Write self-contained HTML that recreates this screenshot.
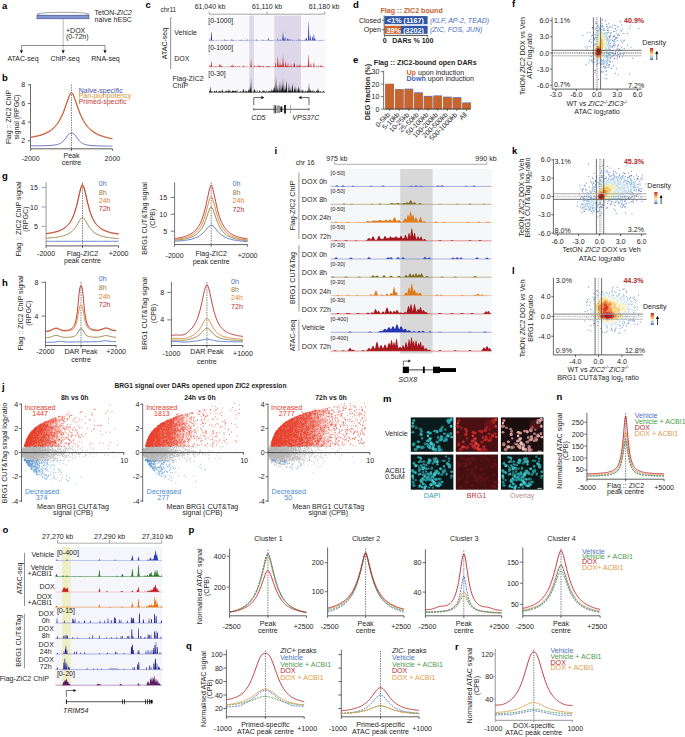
<!DOCTYPE html>
<html><head><meta charset="utf-8"><style>
html,body{margin:0;padding:0;background:#fff;width:685px;height:737px;overflow:hidden}
svg{display:block}
text{font-family:"Liberation Sans",sans-serif}
</style></head><body>
<svg width="685" height="737" viewBox="0 0 685 737"><g fill="#1e1e1e">
<text x="2" y="8.5" font-size="9.5" fill="#000" font-weight="bold">a</text>
<ellipse cx="63" cy="14.3" rx="26" ry="2" fill="#fff" stroke="#666" stroke-width="0.6"/>
<rect x="37" y="15.2" width="52" height="3.6" fill="#8495d6" stroke="#3c4a8a" stroke-width="0.6"/>
<text x="94.5" y="14.7" font-size="7">TetON-<tspan font-style="italic">ZIC2</tspan></text>
<text x="94.5" y="21.7" font-size="7">naïve hESC</text>
<line x1="63.2" y1="19" x2="63.2" y2="50.5" stroke="#b4b4b4" stroke-width="0.9"/>
<text x="66" y="32.7" font-size="7">+DOX</text>
<text x="66" y="38.9" font-size="7">(0-72h)</text>
<line x1="21.4" y1="45.5" x2="105" y2="45.5" stroke="#444" stroke-width="0.6"/>
<line x1="21.4" y1="45.5" x2="21.4" y2="50.5" stroke="#444" stroke-width="0.6"/>
<path d="M19.799999999999997 50.3 L23.0 50.3 L21.4 53.6 Z" fill="#111"/>
<path d="M61.6 50.3 L64.8 50.3 L63.2 53.6 Z" fill="#111"/>
<line x1="105" y1="45.5" x2="105" y2="50.5" stroke="#444" stroke-width="0.6"/>
<path d="M103.4 50.3 L106.6 50.3 L105 53.6 Z" fill="#111"/>
<text x="23" y="61" font-size="7" text-anchor="middle">ATAC-seq</text>
<text x="65" y="61" font-size="7" text-anchor="middle">ChIP-seq</text>
<text x="105.5" y="61" font-size="7" text-anchor="middle">RNA-seq</text>
<text x="2" y="81" font-size="9.5" fill="#000" font-weight="bold">b</text>
<line x1="30.5" y1="84" x2="30.5" y2="148.8" stroke="#444" stroke-width="0.8"/>
<line x1="27.9" y1="84.8" x2="30.5" y2="84.8" stroke="#444" stroke-width="0.8"/>
<text x="25.2" y="87.3" font-size="7.1" text-anchor="end">8</text>
<line x1="27.9" y1="103.44" x2="30.5" y2="103.44" stroke="#444" stroke-width="0.8"/>
<text x="25.2" y="105.94" font-size="7.1" text-anchor="end">6</text>
<line x1="27.9" y1="122.08" x2="30.5" y2="122.08" stroke="#444" stroke-width="0.8"/>
<text x="25.2" y="124.58" font-size="7.1" text-anchor="end">4</text>
<line x1="27.9" y1="140.72" x2="30.5" y2="140.72" stroke="#444" stroke-width="0.8"/>
<text x="25.2" y="143.22" font-size="7.1" text-anchor="end">2</text>
<line x1="30.7" y1="148.8" x2="112.4" y2="148.8" stroke="#333" stroke-width="0.8"/>
<line x1="30.7" y1="148.8" x2="30.7" y2="150.8" stroke="#333" stroke-width="0.8"/>
<line x1="71.5" y1="148.8" x2="71.5" y2="150.8" stroke="#333" stroke-width="0.8"/>
<line x1="112.4" y1="148.8" x2="112.4" y2="150.8" stroke="#333" stroke-width="0.8"/>
<line x1="71.5" y1="84.5" x2="71.5" y2="148.8" stroke="#333" stroke-width="0.6" stroke-dasharray="1.5 1"/>
<path d="M30.7 137 31.7 136.8 32.7 136.6 33.8 136.4 34.8 136.2 35.8 136 36.8 135.8 37.8 135.5 38.9 135.3 39.9 135 40.9 134.7 41.9 134.3 43 133.9 44 133.5 45 133.1 46 132.6 47 132.1 48.1 131.5 49.1 130.9 50.1 130.3 51.1 129.5 52.1 128.7 53.2 127.8 54.2 126.8 55.2 125.7 56.2 124.5 57.3 123.1 58.3 121.7 59.3 120 60.3 118.2 61.3 116.2 62.4 113.9 63.4 111.5 64.4 108.9 65.4 106.1 66.4 103.2 67.5 100.3 68.5 97.5 69.5 95 70.5 93.1 71.5 92.3 72.6 93.3 73.6 95.3 74.6 97.8 75.6 100.7 76.7 103.7 77.7 106.6 78.7 109.4 79.7 112 80.7 114.5 81.8 116.7 82.8 118.7 83.8 120.6 84.8 122.3 85.8 123.8 86.9 125.1 87.9 126.4 88.9 127.5 89.9 128.5 91 129.4 92 130.3 93 131.1 94 131.8 95 132.4 96.1 133 97.1 133.6 98.1 134.1 99.1 134.5 100.1 135 101.2 135.4 102.2 135.7 103.2 136.1 104.2 136.4 105.3 136.7 106.3 137 107.3 137.3 108.3 137.5 109.3 137.8 110.4 138 111.4 138.2 112.4 138.4" fill="none" stroke="#d89a3a" stroke-width="0.9"/>
<path d="M30.7 137.4 31.7 137.3 32.7 137.1 33.8 136.9 34.8 136.8 35.8 136.5 36.8 136.3 37.8 136.1 38.9 135.8 39.9 135.6 40.9 135.3 41.9 134.9 43 134.6 44 134.2 45 133.8 46 133.3 47 132.8 48.1 132.3 49.1 131.7 50.1 131.1 51.1 130.4 52.1 129.6 53.2 128.7 54.2 127.8 55.2 126.7 56.2 125.5 57.3 124.2 58.3 122.7 59.3 121.1 60.3 119.3 61.3 117.3 62.4 115.1 63.4 112.7 64.4 110 65.4 107.2 66.4 104.2 67.5 101.2 68.5 98.2 69.5 95.6 70.5 93.6 71.5 92.7 72.6 93.8 73.6 95.9 74.6 98.6 75.6 101.6 76.7 104.7 77.7 107.7 78.7 110.5 79.7 113.2 80.7 115.6 81.8 117.9 82.8 119.9 83.8 121.7 84.8 123.3 85.8 124.8 86.9 126.2 87.9 127.4 88.9 128.4 89.9 129.4 91 130.3 92 131.1 93 131.9 94 132.6 95 133.2 96.1 133.7 97.1 134.3 98.1 134.7 99.1 135.2 100.1 135.6 101.2 136 102.2 136.3 103.2 136.7 104.2 137 105.3 137.3 106.3 137.5 107.3 137.8 108.3 138 109.3 138.3 110.4 138.5 111.4 138.7 112.4 138.9" fill="none" stroke="#c0403a" stroke-width="0.9"/>
<path d="M30.7 145.8 31.7 145.8 32.7 145.8 33.8 145.8 34.8 145.8 35.8 145.8 36.8 145.8 37.8 145.8 38.9 145.8 39.9 145.8 40.9 145.8 41.9 145.8 43 145.7 44 145.7 45 145.7 46 145.7 47 145.6 48.1 145.6 49.1 145.5 50.1 145.5 51.1 145.4 52.1 145.3 53.2 145.2 54.2 145.1 55.2 144.9 56.2 144.8 57.3 144.5 58.3 144.2 59.3 143.8 60.3 143.4 61.3 142.8 62.4 142 63.4 141 64.4 139.8 65.4 138.5 66.4 137 67.5 135.5 68.5 134.4 69.5 133.6 70.5 133.3 71.5 133.3 72.6 133.3 73.6 133.7 74.6 134.5 75.6 135.7 76.7 137.2 77.7 138.7 78.7 140 79.7 141.2 80.7 142.1 81.8 142.9 82.8 143.5 83.8 144 84.8 144.3 85.8 144.6 86.9 144.9 87.9 145.1 88.9 145.2 89.9 145.4 91 145.5 92 145.6 93 145.6 94 145.7 95 145.7 96.1 145.8 97.1 145.8 98.1 145.9 99.1 145.9 100.1 145.9 101.2 146 102.2 146 103.2 146 104.2 146 105.3 146 106.3 146.1 107.3 146.1 108.3 146.1 109.3 146.1 110.4 146.1 111.4 146.1 112.4 146.1" fill="none" stroke="#4a56b0" stroke-width="0.8"/>
<text x="78.7" y="92.6" font-size="7" fill="#3f4fa8">Naïve-specific</text>
<text x="78.7" y="98.2" font-size="7" fill="#d4952e">Pan-pluripotency</text>
<text x="78.7" y="103.8" font-size="7" fill="#bf3b38">Primed-specific</text>
<text x="30.7" y="161" font-size="7" text-anchor="middle">-2000</text>
<text x="112.4" y="161" font-size="7" text-anchor="middle">2000</text>
<text x="71.5" y="158" font-size="7" text-anchor="middle">Peak</text>
<text x="71.5" y="165" font-size="7" text-anchor="middle">centre</text>
<text x="11.4" y="117" font-size="7" text-anchor="middle" transform="rotate(-90 11.4 117)">Flag :: ZIC2 ChIP</text>
<text x="18.7" y="117" font-size="7" text-anchor="middle" transform="rotate(-90 18.7 117)">signal (RPGC)</text>
<text x="145.5" y="7.8" font-size="9.5" fill="#000" font-weight="bold">c</text>
<text x="160.4" y="12.4" font-size="6.5">chr11</text>
<text x="210" y="8.6" font-size="7" text-anchor="middle">61,040 kb</text>
<text x="267" y="8.6" font-size="7" text-anchor="middle">61,110 kb</text>
<text x="324" y="8.6" font-size="7" text-anchor="middle">61,180 kb</text>
<rect x="208" y="16" width="118" height="77" fill="#f9f9fc"/>
<rect x="249.2" y="15.5" width="4.8" height="77.3" fill="#dcd7e9"/>
<rect x="274.2" y="15.5" width="26.8" height="77.3" fill="#dcd7e9"/>
<line x1="209.1" y1="14.2" x2="324.7" y2="14.2" stroke="#666" stroke-width="0.6"/>
<line x1="209.1" y1="11.6" x2="209.1" y2="14.2" stroke="#666" stroke-width="0.6"/>
<line x1="267" y1="11.6" x2="267" y2="14.2" stroke="#666" stroke-width="0.6"/>
<line x1="324.7" y1="11.6" x2="324.7" y2="14.2" stroke="#666" stroke-width="0.6"/>
<text x="208.3" y="23.4" font-size="6.8">[0-1000]</text>
<text x="208.3" y="49.6" font-size="6.8">[0-1000]</text>
<text x="208.3" y="75.6" font-size="6.8">[0-30]</text>
<line x1="170.7" y1="17" x2="170.7" y2="69" stroke="#444" stroke-width="0.6"/>
<text x="166.8" y="43.5" font-size="7" text-anchor="middle" transform="rotate(-90 166.8 43.5)">ATAC-seq</text>
<text x="174.3" y="34.8" font-size="7">Vehicle</text>
<text x="174.3" y="60.5" font-size="7">DOX</text>
<text x="172.5" y="80.6" font-size="7">Flag-ZIC2</text>
<text x="172.5" y="87.6" font-size="7">ChIP</text>
<path d="M209.0 40.4 209.0 40.4 209.2 40.4 209.5 39.8 209.8 39.0 210.0 39.4 210.2 40.2 210.5 40.4 210.8 39.7 211.0 35.9 211.2 32.2 211.5 31.5 211.8 35.2 212.0 38.9 212.2 40.1 212.5 40.2 212.8 40.4 213.0 40.4 213.2 40.2 213.5 39.9 213.8 40.0 214.0 40.3 214.2 40.4 215.8 40.4 216.0 40.3 216.2 40.3 216.5 40.3 216.8 40.4 222.0 40.4 222.2 40.2 222.5 40.1 222.8 40.3 223.0 40.4 224.0 40.4 224.2 39.8 224.5 39.1 224.8 39.6 225.0 40.3 225.2 40.4 225.5 40.1 225.8 40.0 226.0 40.2 226.2 40.2 226.5 40.3 226.8 40.4 227.0 40.4 227.2 40.3 227.5 40.2 227.8 40.2 228.0 40.3 228.2 40.4 230.5 40.4 230.8 40.3 231.0 39.6 231.2 39.0 231.5 39.8 231.8 40.4 232.0 40.4 232.2 40.1 232.5 39.7 232.8 39.8 233.0 40.2 233.2 40.4 233.5 40.3 233.8 40.0 234.0 39.7 234.2 40.1 234.5 40.4 238.8 40.4 239.0 40.3 239.2 40.3 239.5 40.2 239.8 40.3 240.0 40.4 240.2 40.4 240.5 40.2 240.8 40.0 241.0 39.7 241.2 39.7 241.5 39.9 241.8 39.7 242.0 40.1 242.2 40.4 243.5 40.4 243.8 40.3 244.0 39.9 244.2 39.8 244.5 40.1 244.8 40.4 245.0 40.3 245.2 40.3 245.5 40.4 246.8 40.4 247.0 39.7 247.2 39.0 247.5 39.7 247.8 40.4 255.2 40.4 255.5 40.3 255.8 40.2 256.0 40.3 256.2 39.7 256.5 39.3 256.8 39.9 257.0 40.4 261.8 40.4 262.0 40.0 262.2 39.6 262.5 39.9 262.8 40.3 263.0 40.4 263.2 40.4 263.5 40.0 263.8 39.7 264.0 40.0 264.2 40.4 264.8 40.4 265.0 40.2 265.2 40.0 265.5 40.1 265.8 40.4 267.8 40.4 268.0 39.5 268.2 37.8 268.5 37.9 268.8 39.5 269.0 39.5 269.2 40.1 269.5 40.4 270.0 40.4 270.2 40.3 270.5 40.3 270.8 40.4 271.0 40.3 271.2 40.1 271.5 40.1 271.8 40.0 272.0 40.2 272.2 40.4 272.5 40.2 272.8 40.0 273.0 40.2 273.2 40.4 277.2 40.4 277.5 39.4 277.8 38.3 278.0 39.1 278.2 40.3 278.5 40.4 279.5 40.4 279.8 40.0 280.0 39.3 280.2 39.4 280.5 40.1 280.8 40.4 281.0 40.4 281.2 40.3 281.5 40.3 281.8 40.4 282.2 40.4 282.5 37.5 282.8 34.0 283.0 30.4 283.2 34.0 283.5 37.5 283.8 39.6 284.0 39.5 284.2 40.0 284.5 39.3 284.8 37.8 285.0 36.4 285.2 37.8 285.5 39.3 285.8 40.4 286.8 40.4 287.0 40.0 287.2 38.9 287.5 37.9 287.8 38.9 288.0 39.6 288.2 38.7 288.5 39.5 288.8 40.4 289.2 40.4 289.5 40.1 289.8 39.2 290.0 38.4 290.2 39.2 290.5 40.1 290.8 40.4 292.0 40.4 292.2 40.0 292.5 39.6 292.8 40.0 293.0 40.3 293.2 40.3 293.5 40.4 295.8 40.4 296.0 40.3 296.2 40.2 296.5 40.1 296.8 40.3 297.0 40.4 298.5 40.4 298.8 39.7 299.0 38.7 299.2 38.9 299.5 40.0 299.8 40.4 300.0 40.3 300.2 40.1 300.5 40.1 300.8 40.3 301.0 40.4 301.5 40.4 301.8 40.2 302.0 40.0 302.2 40.0 302.5 39.9 302.8 40.2 303.0 40.4 303.5 40.4 303.8 40.2 304.0 39.9 304.2 40.0 304.5 40.3 304.8 40.0 305.0 39.6 305.2 40.0 305.5 40.0 305.8 38.7 306.0 38.1 306.2 38.6 306.5 37.4 306.8 38.6 307.0 39.9 307.2 40.4 307.5 40.3 307.8 40.0 308.0 40.0 308.2 32.8 308.5 25.1 308.8 20.5 309.0 28.2 309.2 35.8 309.5 40.4 309.8 40.4 310.0 39.4 310.2 36.9 310.5 34.4 310.8 36.9 311.0 39.4 311.2 40.4 311.8 40.4 312.0 38.7 312.2 36.6 312.5 36.2 312.8 38.3 313.0 40.4 313.2 40.4 313.5 37.6 313.8 34.0 314.0 33.3 314.2 36.9 314.5 39.9 314.8 38.6 315.0 37.4 315.2 38.6 315.5 39.9 315.8 40.3 316.0 40.4 318.5 40.4 318.8 40.1 319.0 39.8 319.2 40.0 319.5 40.3 319.8 40.4 320.0 40.4 320.2 40.3 320.5 40.3 320.8 40.3 321.0 40.4 321.2 40.1 321.5 39.8 321.8 40.1 322.0 40.4 325.0 40.4 325.0 40.4Z" fill="#2a38b0"/>
<line x1="209" y1="40.4" x2="325" y2="40.4" stroke="#8a90d0" stroke-width="0.4"/>
<path d="M209.0 67.0 209.0 66.9 209.2 66.8 209.5 66.1 209.8 65.1 210.0 65.8 210.2 66.3 210.5 66.8 210.8 66.5 211.0 64.1 211.2 61.7 211.5 61.3 211.8 63.6 212.0 66.0 212.2 67.0 213.0 67.0 213.2 66.9 213.5 66.8 213.8 66.7 214.0 66.7 214.2 66.8 214.5 66.8 214.8 66.7 215.0 66.7 215.2 66.7 215.5 66.6 215.8 66.3 216.0 66.2 216.2 66.5 216.5 66.4 216.8 66.7 217.0 67.0 218.5 67.0 218.8 66.7 219.0 66.2 219.2 66.3 219.5 64.5 219.8 63.9 220.0 65.8 220.2 66.5 220.5 64.8 220.8 64.0 221.0 65.7 221.2 66.1 221.5 66.5 221.8 66.5 222.0 65.7 222.2 66.1 222.5 66.8 222.8 67.0 225.5 67.0 225.8 66.9 226.0 66.6 226.2 66.5 226.5 66.5 226.8 66.8 227.0 67.0 228.2 67.0 228.5 66.9 228.8 66.6 229.0 66.5 229.2 66.8 229.5 67.0 229.8 66.9 230.0 66.9 230.2 66.9 230.5 66.7 230.8 66.4 231.0 66.6 231.2 66.3 231.5 65.9 231.8 64.8 232.0 65.9 232.2 66.9 232.5 65.7 232.8 64.1 233.0 65.3 233.2 65.4 233.5 65.7 233.8 66.6 234.0 66.4 234.2 66.6 234.5 66.9 234.8 67.0 235.0 66.5 235.2 65.9 235.5 66.3 235.8 66.9 236.0 67.0 236.5 67.0 236.8 66.7 237.0 66.4 237.2 66.4 237.5 66.4 237.8 66.8 238.0 67.0 238.2 66.9 238.5 66.8 238.8 66.8 239.0 66.4 239.2 65.9 239.5 66.0 239.8 66.7 240.0 66.8 240.2 66.9 240.5 66.9 240.8 66.7 241.0 66.6 241.2 66.9 241.5 67.0 241.8 66.9 242.0 66.8 242.2 66.8 242.5 66.5 242.8 66.7 243.0 66.4 243.2 65.4 243.5 65.6 243.8 66.6 244.0 66.6 244.2 66.7 244.5 66.9 244.8 67.0 245.2 67.0 245.5 66.8 245.8 66.3 246.0 66.2 246.2 66.7 246.5 67.0 248.8 67.0 249.0 66.9 249.2 66.9 249.5 67.0 250.2 67.0 250.5 65.6 250.8 62.0 251.0 58.4 251.2 62.0 251.5 65.6 251.8 66.8 252.0 67.0 253.2 67.0 253.5 66.8 253.8 66.6 254.0 66.1 254.2 64.9 254.5 65.5 254.8 66.7 255.0 67.0 255.5 67.0 255.8 66.4 256.0 65.5 256.2 65.7 256.5 66.6 256.8 67.0 257.5 67.0 257.8 65.8 258.0 64.3 258.2 65.3 258.5 66.7 258.8 66.8 259.0 66.1 259.2 65.8 259.5 66.2 259.8 65.1 260.0 65.5 260.2 66.6 260.5 66.5 260.8 66.2 261.0 66.6 261.2 66.4 261.5 66.7 261.8 66.4 262.0 66.2 262.2 66.6 262.5 67.0 262.8 66.6 263.0 66.2 263.2 66.5 263.5 65.7 263.8 65.7 264.0 66.6 264.2 67.0 265.0 67.0 265.2 66.9 265.5 66.7 265.8 66.6 266.0 66.8 266.2 67.0 266.5 66.6 266.8 66.1 267.0 66.5 267.2 66.5 267.5 66.1 267.8 66.6 268.0 66.4 268.2 65.8 268.5 66.3 268.8 66.4 269.0 66.3 269.2 66.7 269.5 66.3 269.8 65.8 270.0 66.5 270.2 67.0 271.8 67.0 272.0 66.9 272.2 66.7 272.5 66.5 272.8 66.7 273.0 66.9 273.2 66.8 273.5 66.8 273.8 66.8 274.0 66.8 274.2 66.8 274.5 66.9 274.8 66.9 275.0 66.2 275.2 64.1 275.5 62.0 275.8 64.1 276.0 66.2 276.2 67.0 276.8 67.0 277.0 66.9 277.2 64.4 277.5 60.1 277.8 55.9 278.0 58.4 278.2 62.7 278.5 65.9 278.8 66.0 279.0 65.3 279.2 65.9 279.5 65.8 279.8 62.9 280.0 60.0 280.2 62.9 280.5 65.8 280.8 65.5 281.0 64.0 281.2 65.4 281.5 65.4 281.8 64.9 282.0 66.2 282.2 65.6 282.5 63.3 282.8 58.6 283.0 54.0 283.2 58.6 283.5 63.3 283.8 65.2 284.0 66.1 284.2 66.9 284.5 66.7 284.8 66.8 285.0 66.0 285.2 63.5 285.5 61.0 285.8 63.5 286.0 66.0 286.2 66.5 286.5 65.9 286.8 64.7 287.0 65.2 287.2 66.6 287.5 66.2 287.8 64.1 288.0 62.0 288.2 64.1 288.5 66.2 288.8 66.9 289.0 66.8 289.2 66.6 289.5 66.6 289.8 66.2 290.0 66.1 290.2 66.7 290.5 66.3 290.8 64.7 291.0 63.0 291.2 64.7 291.5 66.3 291.8 66.3 292.0 66.6 292.2 66.9 292.5 67.0 293.0 67.0 293.2 66.5 293.5 66.0 293.8 64.1 294.0 62.0 294.2 64.1 294.5 63.8 294.8 63.1 295.0 65.5 295.2 67.0 295.8 67.0 296.0 66.9 296.2 66.9 296.5 66.5 296.8 65.2 297.0 64.0 297.2 65.2 297.5 66.5 297.8 66.8 298.0 66.8 298.2 66.5 298.5 66.4 298.8 65.4 299.0 64.4 299.2 65.8 299.5 66.3 299.8 64.7 300.0 63.0 300.2 64.7 300.5 66.3 300.8 66.5 301.0 66.3 301.2 66.6 301.5 66.9 301.8 67.0 302.0 66.6 302.2 65.9 302.5 66.1 302.8 66.8 303.0 66.9 303.2 66.4 303.5 66.0 303.8 66.6 304.0 66.8 304.2 66.7 304.5 66.1 304.8 66.3 305.0 66.6 305.2 66.4 305.5 65.7 305.8 65.7 306.0 66.6 306.2 67.0 307.0 67.0 307.2 66.0 307.5 65.0 307.8 65.9 308.0 67.0 308.2 62.0 308.5 57.0 308.8 54.0 309.0 59.0 309.2 64.0 309.5 66.6 309.8 66.7 310.0 66.9 310.2 67.0 310.5 66.2 310.8 64.1 311.0 62.0 311.2 64.1 311.5 66.2 311.8 66.8 312.0 66.9 312.2 66.9 312.5 66.9 312.8 67.0 313.0 67.0 313.2 66.6 313.5 64.4 313.8 62.3 314.0 61.9 314.2 64.0 314.5 66.1 314.8 66.9 315.0 67.0 315.5 67.0 315.8 66.9 316.0 66.0 316.2 65.5 316.5 66.3 316.8 66.9 317.0 67.0 317.2 67.0 317.5 66.9 317.8 66.8 318.0 66.9 318.2 65.9 318.5 64.9 318.8 65.9 319.0 67.0 320.0 67.0 320.2 66.7 320.5 66.4 320.8 65.2 321.0 64.0 321.2 65.2 321.5 66.2 321.8 66.4 322.0 66.5 322.2 66.7 322.5 66.6 322.8 65.8 323.0 65.6 323.2 66.5 323.5 67.0 325.0 67.0 325.0 67.0Z" fill="#c4272a"/>
<line x1="209" y1="67" x2="325" y2="67" stroke="#d98080" stroke-width="0.4"/>
<path d="M209.0 92.3 209.0 90.6 209.2 90.5 209.5 91.2 209.8 91.8 210.0 91.2 210.2 87.8 210.5 86.5 210.8 89.9 211.0 92.2 211.2 91.6 211.5 90.9 211.8 91.6 212.0 91.7 212.2 91.6 212.5 91.8 212.8 92.0 213.0 92.3 213.8 92.3 214.0 91.7 214.2 91.0 214.5 90.8 214.8 91.3 215.0 91.2 215.2 91.0 215.5 91.8 215.8 92.3 216.0 92.0 216.2 90.7 216.5 90.1 216.8 91.3 217.0 92.3 217.5 92.3 217.8 91.9 218.0 91.5 218.2 91.9 218.5 91.8 218.8 91.0 219.0 91.2 219.2 90.4 219.5 91.4 219.8 90.9 220.0 91.3 220.2 92.1 220.5 91.9 220.8 90.8 221.0 89.8 221.2 90.8 221.5 91.9 221.8 91.9 222.0 90.4 222.2 89.6 222.5 90.1 222.8 91.5 223.0 91.7 223.2 92.0 223.5 91.5 223.8 91.5 224.0 92.1 224.2 92.2 224.5 92.0 224.8 91.7 225.0 91.6 225.2 91.3 225.5 91.9 225.8 91.0 226.0 89.3 226.2 90.2 226.5 91.7 226.8 91.0 227.0 91.4 227.2 91.8 227.5 91.3 227.8 90.8 228.0 91.6 228.2 91.7 228.5 90.6 228.8 90.0 229.0 88.3 229.2 90.0 229.5 91.6 229.8 91.1 230.0 90.8 230.2 91.7 230.5 91.6 230.8 91.1 231.0 91.7 231.2 91.9 231.5 92.0 231.8 91.5 232.0 91.1 232.2 90.2 232.5 91.3 232.8 90.5 233.0 90.5 233.2 91.1 233.5 90.9 233.8 90.6 234.0 91.6 234.2 91.1 234.5 91.1 234.8 91.7 235.0 90.7 235.2 90.8 235.5 90.7 235.8 90.9 236.0 91.7 236.2 92.1 236.5 91.8 236.8 90.5 237.0 89.3 237.2 90.5 237.5 91.7 237.8 91.9 238.0 92.2 238.2 92.2 238.5 92.1 238.8 92.0 239.0 91.7 239.2 91.8 239.5 91.9 239.8 92.0 240.0 91.8 240.2 90.9 240.5 91.0 240.8 91.9 241.0 91.9 241.2 92.0 241.5 91.8 241.8 91.9 242.0 91.6 242.2 92.0 242.5 91.8 242.8 90.5 243.0 89.3 243.2 90.5 243.5 88.9 243.8 89.1 244.0 91.3 244.2 91.5 244.5 91.9 244.8 91.7 245.0 92.0 245.2 92.1 245.5 91.6 245.8 90.1 246.0 90.1 246.2 91.6 246.5 90.8 246.8 91.2 247.0 91.5 247.2 92.0 247.5 91.9 247.8 91.5 248.0 90.5 248.2 91.3 248.5 90.4 248.8 88.5 249.0 90.4 249.2 91.8 249.5 90.0 249.8 88.2 250.0 86.3 250.2 88.2 250.5 90.0 250.8 84.1 251.0 78.3 251.2 84.1 251.5 90.0 251.8 91.5 252.0 91.9 252.2 91.9 252.5 92.2 252.8 92.3 253.0 92.1 253.2 91.8 253.5 91.9 253.8 91.3 254.0 89.7 254.2 89.7 254.5 88.9 254.8 89.6 255.0 91.6 255.2 91.5 255.5 91.1 255.8 91.5 256.0 91.8 256.2 92.0 256.5 92.3 256.8 91.4 257.0 89.9 257.2 90.1 257.5 91.4 257.8 92.2 258.0 92.3 258.2 92.3 258.5 92.2 258.8 91.8 259.0 91.6 259.2 91.3 259.5 90.0 259.8 90.7 260.0 91.8 260.2 91.2 260.5 91.4 260.8 91.9 261.0 91.9 261.2 92.0 261.5 92.1 261.8 92.2 262.0 92.3 262.2 91.8 262.5 91.2 262.8 90.5 263.0 89.3 263.2 90.5 263.5 91.2 263.8 90.9 264.0 91.7 264.2 92.1 264.5 91.1 264.8 90.4 265.0 90.5 265.2 91.5 265.5 91.8 265.8 92.1 266.0 91.9 266.2 91.8 266.5 91.6 266.8 90.2 267.0 90.4 267.2 91.7 267.5 92.2 267.8 92.3 268.0 91.7 268.2 90.8 268.5 90.9 268.8 91.8 269.0 91.8 269.2 91.0 269.5 91.1 269.8 90.8 270.0 91.3 270.2 90.7 270.5 91.5 270.8 91.9 271.0 89.8 271.2 88.5 271.5 90.4 271.8 91.5 272.0 91.4 272.2 90.5 272.5 90.0 272.8 91.4 273.0 90.6 273.2 87.8 273.5 88.4 273.8 91.2 274.0 91.1 274.2 88.2 274.5 85.3 274.8 88.2 275.0 91.1 275.2 91.9 275.5 87.4 275.8 81.4 276.0 75.3 276.2 81.4 276.5 87.4 276.8 91.5 277.0 90.5 277.2 89.0 277.5 90.7 277.8 87.6 278.0 84.3 278.2 87.6 278.5 91.0 278.8 91.8 279.0 91.2 279.2 91.2 279.5 88.9 279.8 84.6 280.0 80.3 280.2 84.6 280.5 88.9 280.8 91.9 281.0 91.3 281.2 89.6 281.5 90.0 281.8 87.0 282.0 83.3 282.2 87.0 282.5 88.0 282.8 82.7 283.0 77.3 283.2 82.7 283.5 88.0 283.8 92.1 284.0 90.8 284.2 89.6 284.5 91.0 284.8 87.6 285.0 84.3 285.2 87.6 285.5 89.8 285.8 89.9 286.0 88.9 286.2 84.6 286.5 80.3 286.8 84.6 287.0 88.9 287.2 92.2 287.5 91.9 287.8 91.8 288.0 91.8 288.2 91.6 288.5 89.4 288.8 85.9 289.0 82.3 289.2 85.9 289.5 89.4 289.8 91.2 290.0 91.1 290.2 90.3 290.5 90.9 290.8 88.8 291.0 86.3 291.2 88.8 291.5 91.3 291.8 91.9 292.0 89.7 292.2 86.5 292.5 83.3 292.8 86.5 293.0 89.7 293.2 91.9 293.5 91.9 293.8 91.4 294.0 89.7 294.2 88.2 294.5 90.3 294.8 87.8 295.0 85.3 295.2 87.8 295.5 90.3 295.8 91.1 296.0 91.9 296.2 92.0 296.5 91.5 296.8 89.4 297.0 87.3 297.2 89.4 297.5 91.5 297.8 92.1 298.0 90.6 298.2 88.4 298.5 86.3 298.8 88.4 299.0 89.7 299.2 88.5 299.5 90.7 299.8 91.9 300.0 90.6 300.2 90.1 300.5 91.4 300.8 92.2 301.0 92.0 301.2 91.9 301.5 91.8 301.8 89.7 302.0 88.4 302.2 90.6 302.5 91.2 302.8 90.5 303.0 89.3 303.2 90.5 303.5 91.8 303.8 92.0 304.0 91.3 304.2 91.3 304.5 91.9 304.8 92.2 305.0 91.6 305.2 91.3 305.5 91.8 305.8 90.4 306.0 89.6 306.2 91.2 306.5 92.0 306.8 91.9 307.0 91.4 307.2 90.4 307.5 90.7 307.8 91.1 308.0 91.8 308.2 91.2 308.5 89.4 308.8 85.9 309.0 82.3 309.2 85.9 309.5 89.4 309.8 92.0 310.0 91.6 310.2 90.9 310.5 89.8 310.8 89.2 311.0 91.1 311.2 91.9 311.5 91.0 311.8 91.0 312.0 91.9 312.2 91.7 312.5 90.9 312.8 90.5 313.0 89.3 313.2 90.5 313.5 91.8 313.8 91.9 314.0 92.1 314.2 91.9 314.5 91.0 314.8 90.8 315.0 91.8 315.2 92.3 315.5 92.1 315.8 91.7 316.0 91.8 316.2 91.3 316.5 90.4 316.8 91.2 317.0 89.9 317.2 90.6 317.5 91.4 317.8 89.4 318.0 87.3 318.2 89.4 318.5 90.3 318.8 91.3 319.0 92.0 319.2 92.2 319.5 92.1 319.8 91.3 320.0 90.9 320.2 91.7 320.5 91.9 320.8 91.1 321.0 91.1 321.2 91.9 321.5 91.7 321.8 91.8 322.0 91.9 322.2 92.1 322.5 92.3 323.0 92.3 323.2 92.0 323.5 90.8 323.8 90.3 324.0 91.5 324.2 91.8 324.5 92.1 324.8 92.3 325.0 92.2 325.0 92.3Z" fill="#151515"/>
<line x1="209" y1="92.3" x2="325" y2="92.3" stroke="#222" stroke-width="0.5"/>
<path d="M253.8 105.2 V97.6 H261.6" fill="none" stroke="#222" stroke-width="0.7"/>
<path d="M261.3 95.9 L264.3 97.6 L261.3 99.3 Z" fill="#111"/>
<path d="M309 105.2 V97.6 H301.2" fill="none" stroke="#222" stroke-width="0.7"/>
<path d="M301.5 95.9 L298.5 97.6 L301.5 99.3 Z" fill="#111"/>
<line x1="253.8" y1="109.3" x2="309" y2="109.3" stroke="#222" stroke-width="0.7"/>
<line x1="253.8" y1="107.8" x2="253.8" y2="110.8" stroke="#222" stroke-width="0.6"/>
<line x1="309" y1="107.8" x2="309" y2="110.8" stroke="#222" stroke-width="0.6"/>
<rect x="273.7" y="105.2" width="0.8" height="8.2" fill="#222"/>
<rect x="275.2" y="105.2" width="0.9" height="8.2" fill="#222"/>
<rect x="276.5" y="105.5" width="3.5" height="7.6" fill="#9a9a9a"/>
<rect x="280.4" y="106.5" width="1.9" height="5.6" fill="#111"/>
<rect x="284.1" y="105" width="1.8" height="8.5" fill="#111"/>
<rect x="290.1" y="105.2" width="0.6" height="8.2" fill="#777"/>
<text x="251.3" y="119.8" font-size="7.1" font-style="italic">CD5</text>
<text x="292.2" y="119.8" font-size="7.1" font-style="italic">VPS37C</text>
<text x="353" y="7.6" font-size="9.5" fill="#000" font-weight="bold">d</text>
<text x="380.5" y="13.2" font-size="7.1" fill="#c4622e" font-weight="bold">Flag :: ZIC2 bound</text>
<rect x="384.7" y="16.1" width="42.9" height="8.1" fill="#2f55a8"/>
<rect x="384.7" y="25.8" width="16.3" height="8" fill="#c9622b"/>
<rect x="401" y="25.8" width="26.6" height="8" fill="#2f55a8"/>
<text x="387" y="22.9" font-size="7.2" fill="#fff" font-weight="bold">&lt;1% (1167)</text>
<text x="386.6" y="32.6" font-size="7.2" fill="#fff" font-weight="bold">39%</text>
<text x="403.2" y="32.6" font-size="7.2" fill="#fff" font-weight="bold">(3202)</text>
<line x1="384.2" y1="15.5" x2="384.2" y2="35.4" stroke="#222" stroke-width="0.7"/>
<line x1="381.8" y1="20.2" x2="384.2" y2="20.2" stroke="#222" stroke-width="0.6"/>
<line x1="381.8" y1="29.8" x2="384.2" y2="29.8" stroke="#222" stroke-width="0.6"/>
<line x1="384.2" y1="35.4" x2="427.6" y2="35.4" stroke="#222" stroke-width="0.8"/>
<line x1="384.7" y1="35.4" x2="384.7" y2="37.4" stroke="#222" stroke-width="0.6"/>
<line x1="427.6" y1="35.4" x2="427.6" y2="37.4" stroke="#222" stroke-width="0.6"/>
<text x="381" y="22.8" font-size="7.1" text-anchor="end">Closed</text>
<text x="381" y="32.4" font-size="7.1" text-anchor="end">Open</text>
<text x="384.7" y="42.6" font-size="7.1" text-anchor="middle" font-weight="bold">0</text>
<text x="406" y="42.6" font-size="7.1" text-anchor="middle" font-weight="bold">DARs %</text>
<text x="427.6" y="42.6" font-size="7.1" text-anchor="middle" font-weight="bold">100</text>
<text x="430" y="22.8" font-size="7.1" fill="#4a6cc2" font-style="italic">(KLF, AP-2, TEAD)</text>
<text x="430" y="32.4" font-size="7.1" fill="#4a6cc2" font-style="italic">(ZIC, FOS, JUN)</text>
<text x="353" y="62.6" font-size="9.5" fill="#000" font-weight="bold">e</text>
<text x="373.8" y="65.3" font-size="7.1" font-weight="bold">Flag :: ZIC2-bound open DARs</text>
<rect x="385.3" y="83.77" width="8.6" height="25.33" fill="#5d7bc4"/>
<rect x="385.3" y="83.89" width="8.6" height="25.21" fill="#c8642e"/>
<line x1="389.6" y1="109.1" x2="389.6" y2="111" stroke="#222" stroke-width="0.6"/>
<text x="390.4" y="115.2" font-size="6.9" text-anchor="end" transform="rotate(-45 390.4 115.2)">0-5kb</text>
<rect x="394.93" y="89.13" width="8.6" height="19.97" fill="#5d7bc4"/>
<rect x="394.93" y="89.38" width="8.6" height="19.72" fill="#c8642e"/>
<line x1="399.23" y1="109.1" x2="399.23" y2="111" stroke="#222" stroke-width="0.6"/>
<text x="400.03" y="115.2" font-size="6.9" text-anchor="end" transform="rotate(-45 400.03 115.2)">5-10kb</text>
<rect x="404.55" y="88.63" width="8.6" height="20.47" fill="#5d7bc4"/>
<rect x="404.55" y="89.38" width="8.6" height="19.72" fill="#c8642e"/>
<line x1="408.85" y1="109.1" x2="408.85" y2="111" stroke="#222" stroke-width="0.6"/>
<text x="409.65" y="115.2" font-size="6.9" text-anchor="end" transform="rotate(-45 409.65 115.2)">10-25kb</text>
<rect x="414.18" y="92.25" width="8.6" height="16.85" fill="#5d7bc4"/>
<rect x="414.18" y="93.13" width="8.6" height="15.97" fill="#c8642e"/>
<line x1="418.48" y1="109.1" x2="418.48" y2="111" stroke="#222" stroke-width="0.6"/>
<text x="419.28" y="115.2" font-size="6.9" text-anchor="end" transform="rotate(-45 419.28 115.2)">25-50kb</text>
<rect x="423.8" y="95.87" width="8.6" height="13.23" fill="#5d7bc4"/>
<rect x="423.8" y="96.62" width="8.6" height="12.48" fill="#c8642e"/>
<line x1="428.1" y1="109.1" x2="428.1" y2="111" stroke="#222" stroke-width="0.6"/>
<text x="428.9" y="115.2" font-size="6.9" text-anchor="end" transform="rotate(-45 428.9 115.2)">50-100kb</text>
<rect x="433.43" y="95.37" width="8.6" height="13.73" fill="#5d7bc4"/>
<rect x="433.43" y="96" width="8.6" height="13.1" fill="#c8642e"/>
<line x1="437.73" y1="109.1" x2="437.73" y2="111" stroke="#222" stroke-width="0.6"/>
<text x="438.53" y="115.2" font-size="6.9" text-anchor="end" transform="rotate(-45 438.53 115.2)">100-200kb</text>
<rect x="443.05" y="96.62" width="8.6" height="12.48" fill="#5d7bc4"/>
<rect x="443.05" y="97.24" width="8.6" height="11.86" fill="#c8642e"/>
<line x1="447.35" y1="109.1" x2="447.35" y2="111" stroke="#222" stroke-width="0.6"/>
<text x="448.15" y="115.2" font-size="6.9" text-anchor="end" transform="rotate(-45 448.15 115.2)">200-500kb</text>
<rect x="452.68" y="97.12" width="8.6" height="11.98" fill="#5d7bc4"/>
<rect x="452.68" y="97.87" width="8.6" height="11.23" fill="#c8642e"/>
<line x1="456.98" y1="109.1" x2="456.98" y2="111" stroke="#222" stroke-width="0.6"/>
<text x="457.78" y="115.2" font-size="6.9" text-anchor="end" transform="rotate(-45 457.78 115.2)">500-1000kb</text>
<rect x="462.3" y="102.36" width="8.6" height="6.74" fill="#5d7bc4"/>
<rect x="462.3" y="103.11" width="8.6" height="5.99" fill="#c8642e"/>
<line x1="466.6" y1="109.1" x2="466.6" y2="111" stroke="#222" stroke-width="0.6"/>
<text x="467.4" y="115.2" font-size="6.9" text-anchor="end" transform="rotate(-45 467.4 115.2)">All</text>
<line x1="383.6" y1="70.8" x2="383.6" y2="109.1" stroke="#555" stroke-width="0.8"/>
<line x1="380.9" y1="71.66" x2="383.6" y2="71.66" stroke="#555" stroke-width="0.8"/>
<text x="379.5" y="74.16" font-size="7.1" text-anchor="end">30</text>
<line x1="380.9" y1="84.14" x2="383.6" y2="84.14" stroke="#555" stroke-width="0.8"/>
<text x="379.5" y="86.64" font-size="7.1" text-anchor="end">20</text>
<line x1="380.9" y1="96.62" x2="383.6" y2="96.62" stroke="#555" stroke-width="0.8"/>
<text x="379.5" y="99.12" font-size="7.1" text-anchor="end">10</text>
<line x1="380.9" y1="109.1" x2="383.6" y2="109.1" stroke="#555" stroke-width="0.8"/>
<text x="379.5" y="111.6" font-size="7.1" text-anchor="end">0</text>
<line x1="383.6" y1="109.1" x2="470.5" y2="109.1" stroke="#222" stroke-width="0.8"/>
<text x="406.5" y="75.2" font-size="7.1"><tspan fill="#d0662e" font-weight="bold">Up</tspan> upon induction</text>
<text x="406.5" y="81.3" font-size="7.1"><tspan fill="#3e62b8" font-weight="bold">Down</tspan> upon induction</text>
<text x="369.9" y="92" font-size="7.1" text-anchor="middle" font-weight="bold" transform="rotate(-90 369.9 92)">DEG fraction (%)</text>
<text x="512" y="7" font-size="9.5" fill="#000" font-weight="bold">f</text>
<path d="M579.1 53h.9m2.5-17.5h.9m1.6 11.5h.9m-.4 17.6h.9m.4-31.7h.9m-.4 13.9h.9m-1.7 2.3h.9m2.3-16.8h.9m-2 8.7h.9m-.4 .3h.9m-.2 5.4h.9m-2.4 6.8h.9m-.2 6.5h.9m-1.6 2.7h.9m2.6-34.5h.9m-1.5 7.7h.9m-1.7 3.2h.9m-.2 3.3h.9m-1.3 14h.9m-.3 3.9h.9m-.9 .4h.9m-.5 1.2h.9m.4-34.6h.9m-1.8 .2h.9m.4 4.8h.9m-2.2 2.9h.9m.7 2.9h.9m-.9 1.1h.9m-.7 19.6h.9m-1.7 .9h.9m-.4 2.7h.9m-.8 7.7h.9m.5-47.1h.9m-.2 4.9h.9m-1.8 1.2h.9m-1.4 5.5h.9m-.3 35.9h.9m-1.3 1.8h.9m.8-48.9h.9m.2 1.9h.9m-.6 1.9h.9m-1.7 34.1h.9m-1.1 2h.9m-.1 .1h.9m-2.2 1.4h.9m2.6-1.2h.9m-2.6 15.9h.9m2.9-59.1h.9m-1 3.3h.9m-.8 2h.9m-1.1 .1h.9m-1.9 38.4h.9m-1.3 .2h.9m.5 2.7h.9m-1.1 4.7h.9m-1.3 .1h.9m.3-52.8h.9m.5 47.1h.9m-1 .4h.9m-1.2 5.4h.9m1.1-51.3h.9m-.2 6.1h.9m-1.6 40.4h.9m-1.5 .6h.9m-1.1 .3h.9m.1 3.2h.9m-.7 3.2h.9m-2 3.8h.9m.8-53.9h.9m-.4 2.1h.9m.1 1.4h.9m-1.3 .9h.9m-1.1 1.7h.9m-.1 0h.9m-1.3 36.9h.9m-2.3 3.3h.9m-.6 8.3h.9m.8-55.2h.9m.6 3.1h.9m-.9 .1h.9m-2.1 5.3h.9m.6 .9h.9m-1.1 2.1h.9m-1.6 1.1h.9m-.3 .3h.9m-1.3 .7h.9m-1.3 27.2h.9m-.9 .4h.9m-1.4 .2h.9m-.5 1.9h.9m2.1-39.4h.9m-1.6 5.2h.9m-1.5 2.7h.9m.2 3.3h.9m-2.2 4.8h.9m.6 2.5h.9m-.9 4.6h.9m-.9 5.3h.9m-1.1 .1h.9m-2.1 1.2h.9m-.8 1.3h.9m-1.1 2.4h.9m-.1 7.4h.9m.4-43.3h.9m-.2 6.5h.9m-.5 4.2h.9m-.6 .3h.9m-1.5 .2h.9m-.3 .4h.9m-1.1 .1h.9m-2.4 3.6h.9m.1 5.2h.9m-1.2 .6h.9m-1.5 .8h.9m-1 6h.9m-.7 0h.9m.7 .5h.9m-.8 1.5h.9m-2 .6h.9m-1.7 6.2h.9m.2 4h.9m.3-40.7h.9m.3 .5h.9m-1.2 3.2h.9m-1.4 .1h.9m-1.3 2.5h.9m.5 2.1h.9m-1.1 3.7h.9m-1 .7h.9m-1.4 1.1h.9m-1.7 .7h.9m-.5 5h.9m-.9 1.2h.9m-.1 5.5h.9m-1.1 2.1h.9m-.9 .4h.9m-2 4.5h.9m-.6 .1h.9m-.3 14.7h.9m1.8-46.5h.9m-1 1h.9m-1.9 3h.9m.3 3.4h.9m-.8 .8h.9m-1.8 .7h.9m-.6 2.2h.9m-1.8 .3h.9m-.5 2.5h.9m0 4.9h.9m-1.7 1.3h.9m-.2 1.7h.9m-1.9 .6h.9m.2 5.5h.9m-2.3 .5h.9m0 1.5h.9m-1.3 2h.9m-1.5 10h.9m.8 6.1h.9m.8-53.6h.9m-.6 9.4h.9m-1.7 4.9h.9m-1.8 9.4h.9m-.1 4.6h.9m-1.2 1.1h.9m.3 3.6h.9m-2.5 .3h.9m-.1 2.1h.9m-.8 .8h.9m.5-35.4h.9m0 2.7h.9m-.4 4.6h.9m-1.6 1.8h.9m-2 9.1h.9m.4 1.1h.9m-1.2 6h.9m-1.9 2.8h.9m-.9 4.1h.9m2.4-20.7h.9m-1.1 7.4h.9m-2 2h.9m.8 5.7h.9m-1.3 4.2h.9m-1.2 1.6h.9m-1.9 2.4h.9m1-16.5h.9m1.9-6.8h.9m-.7 11.5h.9m2-19.2h.9m-2.1 2.5h.9m-.4 45.7h.9m.5-26.8h.9m.8 11.1h.9m5.5-29.9h.9" stroke="#4d70c0" stroke-width="0.9" fill="none"/>
<path d="M593.7 44.6h.9m-1.2 1.1h.9m-1.8 7.3h.9m-.9 .5h.9m-.7 .7h.9m-.5 2.9h.9m1.2-21.8h.9m-1.2 2h.9m-1.2 .4h.9m.4 .4h.9m-1.1 .7h.9m-2.3 .4h.9m-1.1 .2h.9m-1 .1h.9m-.4 1.3h.9m-.7 3.1h.9m-1.3 .3h.9m-.4 .1h.9m-.9 .7h.9m1.7-14.7h.9m-2.2 .2h.9m.6 .2h.9m-1.5 .9h.9m-1.4 2.6h.9m-.8 2.7h.9m-.3 23.1h.9m-2.1 .2h.9m2.9-33.6h.9m-1.1 .2h.9m-1.1 1.4h.9m-.4 0h.9m-1.7 .1h.9m-.7 .4h.9m-1.5 1h.9m-1.1 .4h.9m-1.1 .8h.9m.6 29.4h.9m-1.3 2h.9m.4-36h.9m-1.5 2.6h.9m0 .4h.9m-.7 .2h.9m-2.1 0h.9m-.1 .3h.9m-1.3 30.2h.9m-.1 .1h.9m-.3 .6h.9m-1.6 .3h.9m-1 .8h.9m-.2 .3h.9m-1 1.1h.9m-.5-36.9h.9m-.4 .1h.9m-.9 .5h.9m-.1 .7h.9m-1.1 .6h.9m-.6 .7h.9m-1.2 1h.9m-.2 .3h.9m-1.3 0h.9m-.9 .3h.9m-1.5 29h.9m-.6 .3h.9m-.8 .3h.9m-1.5 .4h.9m-1 0h.9m-.4 .3h.9m-.9 .1h.9m-1.2 1.6h.9m0 .5h.9m-.9 .1h.9m-1 .4h.9m-1.9 .6h.9m-1.4 .1h.9m.2 .3h.9m0-35.4h.9m.1 1.3h.9m-1.3 2.3h.9m-.4 .3h.9m-1.6 .6h.9m-.9 .2h.9m.6 1.6h.9m-1.4 .3h.9m-1.1 .3h.9m-.3 18.3h.9m-2.5 2.2h.9m.8 .4h.9m-1.3 .4h.9m-.7 1h.9m-1.5 2.3h.9m-1.9 1.1h.9m.2 1.4h.9m-.4 1.2h.9m-.7 1.2h.9m0-33.1h.9m-.8 .5h.9m-1.5 .4h.9m.2 0h.9m-1.8 1.7h.9m.4 1.3h.9m-2 .6h.9m-.3 .3h.9m-1.3 1.2h.9m-.8 .6h.9m-1.8 .2h.9m.9 .2h.9m-1.7 .7h.9m-.8 5.5h.9m-.8 .3h.9m-.3 1.2h.9m-1 .6h.9m-.8 2.6h.9m-1.5 .5h.9m-2 1.1h.9m.1 .2h.9m-1.1 1.1h.9m0 .1h.9m-1.2 .5h.9m-1.8 1.4h.9m.3 .1h.9m-2.4 .4h.9m-.9 .5h.9m-.5 .2h.9m-1.4 .6h.9m.6 .1h.9m-1.5 .9h.9m-1.1 .3h.9m-.6 .4h.9m-.9 1.4h.9m-.9 .1h.9m-2 .5h.9m-.3 0h.9m-.3 .1h.9m-2.2 .8h.9m-.2 .5h.9m-1.6 .6h.9m0 .8h.9m-1.2 1.6h.9m-1.2 .2h.9m1.3-27.3h.9m0 1.6h.9m-2 .9h.9m.4 .5h.9m-1.9 0h.9m-1.4 .8h.9m-.4 1h.9m-1.3 0h.9m-1.2 .2h.9m-.3 1h.9m-1.3 0h.9m-.3 1.4h.9m-.1 0h.9m-1.3 1.3h.9m-.4 1.1h.9m-2.1 1h.9m-.7 .1h.9m-.4 .3h.9m-.3 .5h.9m-1.6 2.1h.9m-.3 .2h.9m-1 .9h.9m-1.6 .4h.9m-1.7 .9h.9m-.4 .5h.9m-.8 0h.9m-.2 .4h.9m-.6 .1h.9m-2.5 .4h.9m.1 .4h.9m-1.1 2h.9m-.6 .2h.9m-1.5 2.7h.9m-.8 .1h.9m.2 .4h.9m-.8 .6h.9m-1.8 .5h.9m1-20.5h.9m-1.7 4.3h.9m-.1 .8h.9m-1.2 5.8h.9m.3 .5h.9m-2.5 1.1h.9m2.1-14.4h.9m-1.5 .9h.9m-.2 .1h.9m-.8 .5h.9m-.5 1.1h.9m-1.3 1.2h.9m-.8 .2h.9m-.6 .4h.9m-1.9 9.7h.9m.9-13h.9m-1.3 .7h.9m-.8 1.4h.9" stroke="#86b2da" stroke-width="0.9" fill="none"/>
<path d="M593.9 49.3h.9m-1.1 2.2h.9m1.2-7.5h.9m-.9 1.1h.9m-1.4 .9h.9m-1.8 .2h.9m-1.2 .2h.9m2.7-13.1h.9m-.7 1.3h.9m-1.5 .2h.9m-.5 .5h.9m-1.3 .3h.9m-1.1 .1h.9m-.1 .6h.9m-.9 .6h.9m-1.4 0h.9m-.5 1.4h.9m-.8 .1h.9m-1.4 .1h.9m-.7 .5h.9m-2.2 .6h.9m-.2 1.1h.9m-1.6 .2h.9m-.1 .2h.9m-1.4 .1h.9m-.1 .1h.9m-1.5 0h.9m-1.6 1.8h.9m-1 1.8h.9m-.7 13.5h.9m-.8 .6h.9m2-28.2h.9m-.5 .5h.9m-2.1 .6h.9m-.3 .3h.9m-.2 .4h.9m-1.3 .1h.9m-1.1 .2h.9m-1.9 .3h.9m-.7 .4h.9m-.7 .2h.9m-1.1 1.2h.9m-.7 .8h.9m-.5 0h.9m-1.8 5.5h.9m-.9 0h.9m.9 17.7h.9m-1.5 .2h.9m-1.1 .4h.9m-.3 .3h.9m-.5-29.7h.9m-.9 .1h.9m-.9 .9h.9m-.3 .5h.9m0 .2h.9m-.7 25.2h.9m-.9 1h.9m-2.5 .3h.9m.8 .2h.9m-2.1 .5h.9m-1.5 0h.9m1.1-28.9h.9m-.7 1.7h.9m-.6 .3h.9m-1.3 .7h.9m0 1.3h.9m-.1 .5h.9m-1.3 .2h.9m-1.2 .9h.9m-.6 1h.9m-1.2 .4h.9m-.3 12.2h.9m-1.2 0h.9m-1.2 .9h.9m-.2 1.5h.9m-1.5 .6h.9m-.8 .5h.9m-.3 .5h.9m-1.4 .4h.9m-1 0h.9m-.4 .9h.9m-2.6 .6h.9m-.7 .1h.9m.2 0h.9m-1.2 .3h.9m-1.5 0h.9m.1 0h.9m-1.2 .4h.9m-.3 .2h.9m-.1-20.4h.9m-1.5 .7h.9m-.3 1h.9m.1 .9h.9m-2.4 .5h.9m-.3 0h.9m-.7 .1h.9m-1.4 .9h.9m.5 .4h.9m-2.3 1h.9m.5 1.6h.9m-.8 1.1h.9m-1.6 .3h.9m-.9 .2h.9m-1.5 1.3h.9m-.6 .8h.9m-1.6 .4h.9m.5 .5h.9m-1.1 .2h.9m-1.3 .2h.9m-.1 .6h.9m-1.7 .4h.9m-.9 .1h.9m-.7 .1h.9m-1.7 .6h.9m-1.2 .1h.9m-.6 .4h.9m-.4 1.1h.9m.1 .4h.9m-1.8 .1h.9m-.2 .4h.9m-2.2 .2h.9m.1 .2h.9m-1.6 0h.9m-.2 0h.9m-.5 .5h.9m-1.9 1.9h.9m-1.3 .5h.9m.7-15.4h.9m-.7 .5h.9m-.6 0h.9m-.9 .6h.9m.2 .3h.9m-2.2 0h.9m-.5 .4h.9m-1.6 .6h.9m-.4 .9h.9m.2 1.2h.9m-1.5 0h.9m-.6 .1h.9m-.4 .1h.9m-2.5 .5h.9m-.2 0h.9m-1.5 .2h.9m-.7 2.7h.9m-1.4 .1h.9m-.2 .6h.9m-1 .2h.9m-1.2 .1h.9m-1.2 .5h.9m1.1-8.4h.9" stroke="#c4e0ec" stroke-width="0.9" fill="none"/>
<path d="M595.3 47.8h.9m-.7 .1h.9m-.8 0h.9m-1.2 .1h.9m-1.6 0h.9m-1.3 .8h.9m-.3 1.3h.9m-.9 1.7h.9m-.9 2.4h.9m-1.5 .9h.9m-.2 .3h.9m0 .7h.9m-1.4 0h.9m-.4 .1h.9m-1.6 0h.9m1.5-12.7h.9m-.5 0h.9m-1.8 .8h.9m-1.1 .1h.9m.1 .3h.9m-2.3 0h.9m-1.2 .2h.9m.3 .1h.9m-1.2 .2h.9m-.4 .1h.9m-2.2 .2h.9m-.2 .2h.9m-1 .3h.9m-1.3 .2h.9m-1.2 .3h.9m-.8 .1h.9m-.9 10.6h.9m.7 .9h.9m-.9 0h.9m1-25h.9m-.8 .2h.9m-1.1 .9h.9m-.9 .1h.9m-.8 .7h.9m-1.3 .1h.9m-.3 .5h.9m-1.4 .2h.9m-.8 .4h.9m-1.2 .4h.9m-1.3 .1h.9m-.9 0h.9m-1.5 .1h.9m.8 .5h.9m-.9 .1h.9m-1.7 .2h.9m-1.3 .4h.9m-.4 .2h.9m-.5 .3h.9m-1.4 0h.9m-.1 .1h.9m-1 0h.9m-1.3 .1h.9m-1.2 .1h.9m-1.4 0h.9m-1.2 .1h.9m-.3 0h.9m-.1 .1h.9m-1.1 .3h.9m-1.1 .2h.9m-2.2 0h.9m.3 .2h.9m-1.6 0h.9m-.2 0h.9m-1.2 .8h.9m-.8 .1h.9m0 .1h.9m-2.7 .3h.9m.1 .4h.9m-.7 .1h.9m-.3 .2h.9m-.9 0h.9m-1.3 .1h.9m-1.1 .1h.9m-1.1 .1h.9m-1.7 0h.9m-.4 .4h.9m-1.2 0h.9m-.9 .1h.9m-1.1 .2h.9m-.5 .3h.9m-.7 .7h.9m-1.8 0h.9m-.9 .2h.9m-.3 0h.9m-.8 .1h.9m-1.3 .1h.9m-.3 .3h.9m-1 .6h.9m-.6 12.6h.9m-.4 .2h.9m-2.5 .3h.9m-.9 0h.9m-.5 0h.9m.2 .3h.9m-1.9 0h.9m-.5 .4h.9m-1.6 0h.9m-.8 0h.9m-1.2 .2h.9m2.1-26.8h.9m-.7 .2h.9m-1.3 .2h.9m-.7 .1h.9m-.6 0h.9m-1 .2h.9m-1.5 .1h.9m.1 0h.9m-2.3 .1h.9m.8 .1h.9m-2.7 .2h.9m-.5 .1h.9m.1 .4h.9m-2.1 .1h.9m-.2 0h.9m-.3 .1h.9m-2.4 .1h.9m0 .4h.9m-.2 0h.9m-1 .1h.9m-1.4 .2h.9m-.3 0h.9m-.9 0h.9m-1.8 .2h.9m-.4 .1h.9m-.4 .1h.9m-2.4 .3h.9m.1 .3h.9m-1.6 .3h.9m-.1 .1h.9m-1.9 0h.9m0 .4h.9m-1 .3h.9m-1.7 0h.9m-.3 .2h.9m-.1 .3h.9m-.8 .4h.9m-1.8 0h.9m-.5 .1h.9m-2.3 0h.9m.5 .1h.9m-2.2 0h.9m.6 .1h.9m-1.4 .1h.9m-1.1 .1h.9m-1.3 .2h.9m.2 0h.9m-2.2 0h.9m-1.2 .1h.9m-.7 0h.9m0 .1h.9m-.6 0h.9m-2.3 .1h.9m-.5 0h.9m-1.3 .1h.9m.4 .3h.9m-1.1 .1h.9m-.2 .3h.9m-1.7 .1h.9m-.8 14.5h.9m-.9 .5h.9m-.7 1.8h.9m-1.3 .6h.9m-1.5 .6h.9m.8-24.4h.9m.1 0h.9m-1.3 .1h.9m-.7 .6h.9m-1.1 .2h.9m-1 .1h.9m-.7 .1h.9m-1 0h.9m-1.2 .1h.9m-1.2 .6h.9m-.4 .2h.9m-.8 2.3h.9m-.8 .1h.9m-.2 .3h.9m-.8 .1h.9m-.6 .5h.9m-2.3 .1h.9m0 0h.9m-2 .5h.9m-1.1 .1h.9m.5 .4h.9m-.8 0h.9m-1.1 .2h.9m-2 0h.9m-.6 .1h.9m-.2 .2h.9m-.6 .7h.9m-2.3 .3h.9m-.4 .1h.9m-1.3 0h.9m.8 .2h.9m-1.1 .1h.9m-2.5 .2h.9m-.2 .5h.9m-.6 0h.9m-1.2 0h.9m-1.4 .1h.9m.5 .3h.9m-1.7 .2h.9m-1.4 .1h.9m-.6 .2h.9m-.2 .1h.9m-.4 .1h.9m-1.1 .3h.9m-2 .5h.9m-1.2 0h.9m-.5 .1h.9m-1.1 .1h.9m-.3 .1h.9m-1.4 .2h.9m-1.1 .1h.9m.5 0h.9m-2.1 .2h.9m.3 .2h.9m-1.5 .3h.9m-1.1 .1h.9m-1.7 .1h.9m-.7 0h.9m-1.1 .3h.9m.6 .1h.9m-2.3 .4h.9m-1.2 .2h.9m-.9 0h.9m.2 .1h.9m-.6 0h.9m-2.3 .2h.9m-.6 .2h.9m.5 .2h.9m-1.5 0h.9m-.9 .1h.9m-1.1 .1h.9m-1.2 .1h.9m-1.4 .1h.9m.7 .1h.9m-2.5 .1h.9m-.8 .3h.9m-.5 .4h.9m-.8 2h.9m-.8 .8h.9m-1.6 .2h.9m-.9 .3h.9m-.9 .9h.9m-.7 .4h.9m-1.2 0h.9m-.3 .2h.9m-1 0h.9m-1.3 .1h.9m-.6 .1h.9m-1.1 .1h.9m-.7 1.1h.9m.7-16.6h.9m-.9 3.7h.9m-.8 .4h.9m-.8 .1h.9m-.7 0h.9m-1.1 .2h.9m-.6 0h.9m-1 .5h.9m-1 0h.9m-.8 0h.9m-.7 1.3h.9m-1.4 .2h.9" stroke="#f3ecb0" stroke-width="0.9" fill="none"/>
<path d="M595 48.8h.9m-.2 .1h.9m-1.2 .2h.9m-.7 .1h.9m-.6 .4h.9m-1 .2h.9m-2.1 2.7h.9m-1.3 .9h.9m-.3 .2h.9m-1.4 .1h.9m-.2 .3h.9m-.4 1.4h.9m-.6 .1h.9m-1.2 .2h.9m-.5 .1h.9m1.1-9.5h.9m-1.3 .4h.9m-1.1 .1h.9m-.6 .1h.9m-1.3 0h.9m-1.5 .1h.9m-1.4 .2h.9m-.3 .4h.9m-1.6 0h.9m-.5 0h.9m-.4 .1h.9m-1.8 .1h.9m-.7 8.2h.9m-.6 .2h.9m-1.3 0h.9m0 .2h.9m-1.6 .2h.9m-1.1 .1h.9m-.3 .1h.9m-.9 0h.9m-.7 .1h.9m-.4 .1h.9m-1.3 .6h.9m-.1 .2h.9m.3-15.3h.9m-.1 .4h.9m-1 .1h.9m-1 .1h.9m-.9 .2h.9m-1.4 .2h.9m-.3 .1h.9m-.9 .1h.9m-1.2 .2h.9m-.7 0h.9m-1.3 .1h.9m-1 .3h.9m-.2 .3h.9m-1.3 .1h.9m-1 .2h.9m-.5 .2h.9m-.7 .3h.9m-1.3 0h.9m-.9 .3h.9m-1 .4h.9m-1.4 .1h.9m-.9 0h.9m-.5 0h.9m-.6 .1h.9m-2 .2h.9m.1 0h.9m-.9 0h.9m-.7 .4h.9m-1.5 .1h.9m-.7 .1h.9m-1 0h.9m-1.1 0h.9m-.2 .2h.9m-1.2 .3h.9m-.4 .2h.9m-2.1 8.3h.9m-.1 .1h.9m-2.1 .1h.9m-.9 0h.9m.2 0h.9m-2.1 .1h.9m.1 .1h.9m-.5 0h.9m-2.4 .1h.9m-.1 .1h.9m-1.5 0h.9m-.9 .2h.9m-.3 .4h.9m-.9 .1h.9m-1.6 .2h.9m-1.1 .2h.9m1.1-18.8h.9m-.6 .1h.9m-.6 .1h.9m-1.4 .4h.9m-.8 .2h.9m-.8 0h.9m.4 .2h.9m-1.2 .1h.9m-1.1 .3h.9m-.4 0h.9m-1.2 0h.9m-.5 0h.9m-1.5 0h.9m-.6 .1h.9m-1.4 0h.9m-1.3 0h.9m-.2 0h.9m-1.1 .1h.9m-.6 .2h.9m-1.9 .2h.9m-.1 .1h.9m-1.1 .2h.9m0 .1h.9m-1.2 .1h.9m-.9 .2h.9m-2.4 .2h.9m.8 .1h.9m-1.4 .1h.9m-1.3 .2h.9m-1.4 .1h.9m.1 0h.9m-.3 .1h.9m-1 .1h.9m-2.3 0h.9m-1.3 .1h.9m.6 .1h.9m-2.4 .2h.9m1 .2h.9m-1.4 0h.9m-.4 .1h.9m-1.3 .1h.9m-1.5 .1h.9m-1.8 0h.9m-.1 .2h.9m-.1 0h.9m-2.2 0h.9m-.8 0h.9m.3 .1h.9m-1.8 0h.9m-.8 .1h.9m-.9 .1h.9m-.2 .3h.9m-2.3 0h.9m.6 .3h.9m-2.3 0h.9m.3 .2h.9m-1.7 .1h.9m-.1 .1h.9m-2.2 .1h.9m.8 .1h.9m-1.9 0h.9m.2 .1h.9m-2.8 0h.9m-.2 .2h.9m-1.3 0h.9m-.5 .2h.9m-.7 0h.9m-.1 .1h.9m-2.4 .1h.9m.7 0h.9m-2.7 .2h.9m-.4 0h.9m-1.3 0h.9m-.3 .1h.9m-.7 .1h.9m-.6 .1h.9m-.7 .1h.9m-1.7 .2h.9m-1.2 0h.9m.6 .2h.9m-1 .1h.9m-1.2 .1h.9m-1 .1h.9m-1.6 0h.9m-1.5 0h.9m-.5 .1h.9m-.5 .5h.9m-1.7 .1h.9m.8 .1h.9m-2.2 .1h.9m.4 0h.9m-.8 .1h.9m-2.5 .1h.9m-.7 .1h.9m-.6 0h.9m-1.5 .3h.9m-.3 .2h.9m-1 0h.9m-.5 .1h.9m-.3 .4h.9m-2.1 .2h.9m-.8 .1h.9m0 .2h.9m-.4 .1h.9m-1.8 .2h.9m-.7 .4h.9m-.5 .1h.9m-.7 .5h.9m-1.5 .1h.9m-.5 .5h.9m-1.1 .3h.9m-.4 .1h.9m-1.3 .1h.9m-.5 .4h.9m-1.3 .7h.9m-1.1 .3h.9m-1.5 .4h.9m-1.4 0h.9m-1.1 .1h.9m0 .2h.9m-1.6 .3h.9m-.3 .1h.9m-.9 .4h.9m-1.7 .4h.9m-.4 .2h.9m.6-15.4h.9m-.9 3.2h.9m-.9 4.5h.9" stroke="#f8c868" stroke-width="0.9" fill="none"/>
<path d="M595.8 50.1h.9m-.9 0h.9m-1 .3h.9m-.9 0h.9m-.8 .4h.9m-.9 .6h.9m-1 .4h.9m-.7 .2h.9m-1.2 0h.9m-.6 0h.9m-.9 .4h.9m-.9 .2h.9m-1 .2h.9m-1.3 .1h.9m-.6 .2h.9m-1.1 .7h.9m-1.1 0h.9m-.4 .3h.9m-1.6 .3h.9m-.4 0h.9m-1.2 .3h.9m-.4 0h.9m-1 .1h.9m-.8 0h.9m1-7.8h.9m-1.4 .1h.9m-.4 .3h.9m-1.3 .1h.9m-.5 .1h.9m-.9 0h.9m-.7 .2h.9m-1 0h.9m-1 0h.9m-1 .1h.9m-1.2 .1h.9m-1.6 .4h.9m.1 0h.9m-1.4 0h.9m-1.4 .1h.9m-.1 .1h.9m-2 0h.9m-.2 .1h.9m-1.8 0h.9m.3 .1h.9m-.7 0h.9m-1.8 .1h.9m-.3 0h.9m-2 0h.9m-.9 .1h.9m-.5 0h.9m-.1 0h.9m-.7 0h.9m-1.8 .1h.9m-.6 .2h.9m-1.8 .2h.9m-.6 .2h.9m-.2 .1h.9m-.1 5.2h.9m-2.1 .1h.9m-.3 0h.9m-.8 0h.9m-.7 0h.9m-.6 0h.9m-1.5 .1h.9m-1.4 0h.9m-1.5 0h.9m-.2 .1h.9m-1.1 0h.9m.3 0h.9m-1.1 .1h.9m-1.7 0h.9m-.9 0h.9m-.4 0h.9m-1.2 .1h.9m-.6 0h.9m-1.4 .1h.9m-.9 0h.9m-.7 0h.9m-1.4 0h.9m-.4 .1h.9m-1.5 .2h.9m-.1 0h.9m-1.2 .1h.9m-.4 .2h.9m-.6 0h.9m-1.1 0h.9m-.5 .1h.9m-1.6 0h.9m-1.1 .1h.9m-.3 .6h.9m-.5-10h.9m-.1 0h.9m-1.6 .1h.9m-.8 .2h.9m-1.1 0h.9m-.1 .4h.9m-.9 .2h.9m-1.6 .1h.9m.1 .1h.9m-.6 .1h.9m-2.2 0h.9m-.5 .1h.9m.1 .1h.9m-.9 0h.9m-2.3 .1h.9m.5 0h.9m-1.6 .1h.9m-1.4 .1h.9m.1 0h.9m-1.2 .1h.9m-.7 0h.9m-.6 0h.9m-2.4 .2h.9m.6 .1h.9m-1 .1h.9m-1.3 .2h.9m-.5 .1h.9m-.6 .1h.9m-.7 0h.9m-1.6 0h.9m-.2 .1h.9m-1.6 .1h.9m-1 .1h.9m-.5 0h.9m-1.3 4.1h.9m-.3 .2h.9m-1 .1h.9m-1 0h.9m-1.2 .5h.9m-.6 0h.9m-1 0h.9m-1.8 .2h.9m-.7 0h.9m.2 .1h.9m-.9 0h.9m-1.5 0h.9m-.6 .1h.9m-2.1 0h.9m.1 .1h.9m-.4 0h.9m-2.6 .1h.9m-.7 0h.9m-.5 0h.9m-1.6 .2h.9m.2 0h.9m-2 .1h.9m-.8 .1h.9m-.6 0h.9m-1.2 .1h.9m-.6 0h.9m-.9 0h.9m-.2 .1h.9m0-6.9h.9m-.9 .3h.9m-.9 .8h.9m-.7 .2h.9m-.3 .5h.9m-1.4 .7h.9m-1.1 .1h.9m-1 .1h.9m-.1 .1h.9m-1.7 .1h.9m-.3 .3h.9m-1.4 .2h.9m-.8 .1h.9m-.9 .4h.9m-1 .1h.9m-.5 .4h.9m-1.3 .1h.9m-1 .2h.9" stroke="#ef8a42" stroke-width="0.9" fill="none"/>
<path d="M597.8 49h.9m-.9 .2h.9m-.9 0h.9m-1.6 .1h.9m-.5 .1h.9m-.6 0h.9m-1.2 .1h.9m-.7 0h.9m-1.1 0h.9m-.6 .1h.9m-1.4 .1h.9m-.8 0h.9m-1 0h.9m-.3 0h.9m-1.1 0h.9m-.9 0h.9m-.8 .1h.9m-1.1 .1h.9m-.6 0h.9m-1.5 0h.9m-1.1 0h.9m-.4 0h.9m-1.8 .4h.9m-.6 .1h.9m-1.4 .1h.9m-1.1 .1h.9m-.9 0h.9m-1 .1h.9m-.3 0h.9m-.9 .1h.9m-1.2 0h.9m-1.4 .1h.9m-.1 .2h.9m-1.2 0h.9m-.5 .1h.9m-1.6 .1h.9m-.5 0h.9m-.8 0h.9m-.6 .1h.9m-1.7 .1h.9m-.2 .2h.9m-1.1 0h.9m-.9 .2h.9m-.9 0h.9m-.9 .1h.9m-.7 .1h.9m-1.1 .1h.9m-1.4 .1h.9m-.4 .1h.9m-.7 .1h.9m-1 0h.9m-1.6 .1h.9m-.3 0h.9m-1.2 .1h.9m-.8 0h.9m-1.3 0h.9m-.3 .1h.9m-1 .1h.9m-1.3 .1h.9m-.4 .1h.9m-.8 .1h.9m-1.5 0h.9m-.1 .1h.9m-1.1 0h.9m-.7 .1h.9m-1 0h.9m-1.2 .1h.9m-.8 0h.9m-1.2 .1h.9m-.6 .1h.9m-.7 0h.9m-1.1 .1h.9m-.7 .1h.9m-.9 0h.9m-.4 .1h.9m-1.4 0h.9m-.4 .1h.9m-1.4 0h.9m0 0h.9m-1.6 0h.9m-1.9 .1h.9m.8 0h.9m-2.5 0h.9m-.4 0h.9m-.6 .1h.9m0 0h.9m-.9 0h.9m-1.3 .1h.9m-1.3 0h.9m-.7 0h.9m-1.4 .1h.9m-.5 0h.9m-1.1 .1h.9m-1.2 .1h.9m-.9 0h.9m0 0h.9m-1.9 0h.9m0 .1h.9m-.8 .1h.9m-.6 0h.9m-.3-5.9h.9m-.8 .2h.9m-1.4 0h.9m-.6 0h.9m-1.2 .1h.9m-.7 .1h.9m-1 0h.9m-.8 0h.9m-1.2 .1h.9m-.7 .1h.9m-.8 0h.9m-.4 .2h.9m-1.7 0h.9m-.2 .1h.9m-1.3 0h.9m-.2 .1h.9m-.3 0h.9m-1 .1h.9m-.7 .2h.9m-1.1 .1h.9m-1.3 .1h.9m-.3 0h.9m-1.1 .2h.9m-.5 .2h.9m-1.6 0h.9m-.5 .1h.9m-.8 .5h.9m-1.4 .6h.9m-.5 0h.9m-1.3 0h.9m-.9 .1h.9m-.9 .2h.9m-.7 .1h.9m-.4 .3h.9m-1.6 .1h.9m-.9 .2h.9m-.6 0h.9m-1.3 .1h.9m-.7 .1h.9m-.5 .2h.9m-1.3 0h.9m-.5 .1h.9m-1.5 .2h.9m-1.8 .2h.9m-.8 .1h.9m-.4 .3h.9m-1.2 .1h.9m-1.2 0h.9m-.8 0h.9m-1 .1h.9m-.6 0h.9m-1.4 .1h.9m-.7 .1h.9m-.4 0h.9m-.7 .1h.9m-1.7 .1h.9m1-4.4h.9m-.9 2.5h.9" stroke="#d93a2a" stroke-width="0.9" fill="none"/>
<path d="M597.8 50h.9m-.8 0h.9m-1.3 .1h.9m-.8 0h.9m-1.5 0h.9m-.7 .1h.9m-.7 0h.9m-.4 0h.9m-1.7 .1h.9m-.5 0h.9m-1 .2h.9m-1.3 0h.9m-.1 0h.9m-1.6 0h.9m-.8 .1h.9m-1 0h.9m-.1 .1h.9m-1.7 0h.9m-.6 .1h.9m-.7 0h.9m-1.2 .1h.9m-.3 .1h.9m-1 .2h.9m-1.3 0h.9m-1 .1h.9m-.8 .2h.9m-1 0h.9m-.9 0h.9m-.6 .2h.9m-.9 0h.9m-.6 0h.9m-1.3 .1h.9m-1.3 0h.9m-.5 0h.9m-1.2 0h.9m-.9 .2h.9m-1 0h.9m-.9 0h.9m-.1 0h.9m-1.4 .1h.9m-1.2 0h.9m-.8 0h.9m-.6 .1h.9m-.5 0h.9m-1.4 0h.9m-1.2 0h.9m-.8 0h.9m-.6 .1h.9m-1.3 .1h.9m-.7 0h.9m-.3 0h.9m-1 .2h.9m-1 0h.9m-1 0h.9m-.7 .1h.9m-1.3 0h.9m-1 0h.9m-.4 0h.9m-1.3 0h.9m-.6 .1h.9m-1 .1h.9m-.9 0h.9m-1.4 0h.9m-.1 .1h.9m-1.2 .1h.9m-1.4 0h.9m-.1 .1h.9m-1.6 0h.9m-.6 0h.9m-.7 .1h.9m-1.1 0h.9m-.6 0h.9m-1.2 0h.9m-1.2 .1h.9m-.6 0h.9m-1.4 0h.9m-.2 0h.9m-1.3 .1h.9m-.4 0h.9m-1.2 .1h.9m-1 .1h.9m-.6 0h.9m-.7 0h.9m-1.2 .1h.9m-.9 0h.9m-.8 0h.9m-1.3 .1h.9m-1.1 0h.9m-.6 0h.9m-.4 0h.9m-1.2 .1h.9m-.4-4h.9m-.6 0h.9m-.8 .1h.9m-1.4 0h.9m-.6 0h.9m-.7 0h.9m-1 0h.9m-1.3 .1h.9m-.2 0h.9m-1.6 0h.9m-.2 .2h.9m-1.2 .1h.9m-1 .1h.9m-.8 0h.9m-1.3 .2h.9m-.8 0h.9m-.5 .1h.9m-.5 0h.9m-1.8 0h.9m-.8 .1h.9m-.4 0h.9m-1.5 0h.9m-.9 0h.9m-.7 0h.9m-.3 .1h.9m-.7 0h.9m-1.9 .1h.9m-.3 0h.9m-1.2 .1h.9m-.5 0h.9m-1 0h.9m-1.2 0h.9m-.7 0h.9m-.8 .1h.9m-.9 0h.9m-.9 .1h.9m-.8 0h.9m-1 0h.9m-.6 0h.9m-1.3 .1h.9m-1.2 0h.9m-.8 .1h.9m-.5 0h.9m-.7 .1h.9m-1.7 0h.9m-.5 .1h.9m-1.2 .1h.9m-.5 0h.9m-1.1 .1h.9m-1.2 0h.9m-1 0h.9m-.6 0h.9m-.7 0h.9m-1 .1h.9m-.6 0h.9m-1.6 .1h.9m.1 0h.9m-1.6 .1h.9m-.9 .1h.9m-.4 0h.9m-1.5 .1h.9m-.9 0h.9m-1 0h.9m-.7 .1h.9m-.4 0h.9m-1.7 .1h.9m0 0h.9m-1.2 0h.9m-.6 .1h.9m-1.8 0h.9m-.2 0h.9m-1.6 0h.9m-.6 0h.9m-.5 .1h.9m-1 0h.9m-1.2 0h.9m-.7 0h.9m-.5 0h.9m-1.7 0h.9m-.1 .1h.9m-1.8 0h.9m-.3 0h.9m-.7 0h.9m-1.5 .1h.9m-.9 0h.9m-.6 0h.9m-1.2 0h.9m-1.1 .1h.9m0 .1h.9m-1.4 0h.9m-.9 .1h.9m-1 0h.9m-.9 .1h.9m-1.1 0h.9m-.7 .1h.9m-.4 0h.9m-1.4 .1h.9m-1.2 0h.9m-.4 0h.9m-1.4 .2h.9" stroke="#a8182a" stroke-width="0.9" fill="none"/>
<line x1="593.4" y1="17.3" x2="593.4" y2="89.1" stroke="#333" stroke-width="0.7"/>
<line x1="600.6" y1="17.3" x2="600.6" y2="89.1" stroke="#333" stroke-width="0.7"/>
<line x1="596.3" y1="17.3" x2="596.3" y2="89.1" stroke="#555" stroke-width="0.5" stroke-dasharray="1 0.8"/>
<line x1="597.7" y1="17.3" x2="597.7" y2="89.1" stroke="#555" stroke-width="0.5" stroke-dasharray="1 0.8"/>
<line x1="552.1" y1="50.3" x2="641.6" y2="50.3" stroke="#333" stroke-width="0.7"/>
<line x1="552.1" y1="55.8" x2="641.6" y2="55.8" stroke="#999" stroke-width="0.7"/>
<line x1="552.1" y1="52.5" x2="641.6" y2="52.5" stroke="#555" stroke-width="0.5" stroke-dasharray="1 0.8"/>
<line x1="552.1" y1="53.5" x2="641.6" y2="53.5" stroke="#555" stroke-width="0.5" stroke-dasharray="1 0.8"/>
<line x1="552.1" y1="17.3" x2="552.1" y2="89.1" stroke="#444" stroke-width="0.8"/>
<line x1="550.1" y1="20.78" x2="552.1" y2="20.78" stroke="#444" stroke-width="0.8"/>
<text x="549.3" y="23.28" font-size="7.1" text-anchor="end">6.0</text>
<line x1="550.1" y1="36.89" x2="552.1" y2="36.89" stroke="#444" stroke-width="0.8"/>
<text x="549.3" y="39.39" font-size="7.1" text-anchor="end">3.0</text>
<line x1="550.1" y1="53" x2="552.1" y2="53" stroke="#444" stroke-width="0.8"/>
<text x="549.3" y="55.5" font-size="7.1" text-anchor="end">0.0</text>
<line x1="550.1" y1="69.11" x2="552.1" y2="69.11" stroke="#444" stroke-width="0.8"/>
<text x="549.3" y="71.61" font-size="7.1" text-anchor="end">-3.0</text>
<line x1="550.1" y1="85.22" x2="552.1" y2="85.22" stroke="#444" stroke-width="0.8"/>
<text x="549.3" y="87.72" font-size="7.1" text-anchor="end">-6.0</text>
<line x1="552.1" y1="89.1" x2="641.6" y2="89.1" stroke="#333" stroke-width="0.8"/>
<line x1="555.8" y1="89.1" x2="555.8" y2="91.1" stroke="#333" stroke-width="0.8"/>
<line x1="576.3" y1="89.1" x2="576.3" y2="91.1" stroke="#333" stroke-width="0.8"/>
<line x1="596.9" y1="89.1" x2="596.9" y2="91.1" stroke="#333" stroke-width="0.8"/>
<line x1="617.3" y1="89.1" x2="617.3" y2="91.1" stroke="#333" stroke-width="0.8"/>
<line x1="637.6" y1="89.1" x2="637.6" y2="91.1" stroke="#333" stroke-width="0.8"/>
<text x="555.8" y="97" font-size="7.1" text-anchor="middle">-3.0</text>
<text x="576.3" y="97" font-size="7.1" text-anchor="middle">-6.0</text>
<text x="596.9" y="97" font-size="7.1" text-anchor="middle">0.0</text>
<text x="617.3" y="97" font-size="7.1" text-anchor="middle">3.0</text>
<text x="637.6" y="97" font-size="7.1" text-anchor="middle">6.0</text>
<text x="553.9" y="23.1" font-size="7.1">1.1%</text>
<text x="553.9" y="87.4" font-size="7.1">0.7%</text>
<text x="644.2" y="23.1" font-size="7.1" text-anchor="end" fill="#b01e28" font-weight="bold">40.9%</text>
<text x="644.2" y="87.5" font-size="7.1" text-anchor="end">7.2%</text>
<text x="642.3" y="44.7" font-size="7.1">Density</text>
<defs><linearGradient id="cb650" x1="0" y1="0" x2="0" y2="1"><stop offset="0" stop-color="#c0282a"/><stop offset="0.3" stop-color="#f08a40"/><stop offset="0.55" stop-color="#f8ecb0"/><stop offset="0.8" stop-color="#9cc4e2"/><stop offset="1" stop-color="#3f62b8"/></linearGradient></defs>
<rect x="650" y="48" width="3.2" height="12" fill="url(#cb650)"/>
<line x1="656.8" y1="60" x2="656.8" y2="53" stroke="#111" stroke-width="0.8"/>
<path d="M655.2 54 L656.8000000000001 50.8 L658.4000000000001 54 Z" fill="#111"/>
<text x="597" y="106" font-size="7.1" text-anchor="middle">WT vs <tspan font-style="italic">ZIC2<tspan font-size="4.5" dy="-2.5">-/-</tspan><tspan dy="2.5">ZIC3</tspan><tspan font-size="4.5" dy="-2.5">-/-</tspan></tspan></text>
<text x="597" y="113.7" font-size="7.1" text-anchor="middle">ATAC log<tspan font-size="4.5" dy="1.5">2</tspan><tspan dy="-1.5">ratio</tspan></text>
<text x="524.6" y="56" font-size="7.1" text-anchor="middle" transform="rotate(-90 524.6 56)">TetON <tspan font-style="italic">ZIC2</tspan> DOX vs Veh</text>
<text x="532.2" y="56" font-size="7.1" text-anchor="middle" transform="rotate(-90 532.2 56)">ATAC log<tspan font-size="4.5" dy="1.5">2</tspan><tspan dy="-1.5">ratio</tspan></text>
<text x="512" y="153.8" font-size="9.5" fill="#000" font-weight="bold">k</text>
<path d="M577.1 202h.9m-1.4 4.1h.9m1.9-20.9h.9m-1.6 9.9h.9m.2 12h.9m-.4-18h.9m.4 1.6h.9m-1.5 6h.9m-1.9 1.5h.9m.5 5.5h.9m-.7 .8h.9m-.8 4.2h.9m-1.3 4.2h.9m.7-24h.9m-1.4 .3h.9m-1.3 1.7h.9m.4 2.2h.9m-.9 7.9h.9m-.6 8.5h.9m-1 2.1h.9m0-26.4h.9m-.8 .7h.9m-.2 3.4h.9m-.5 1.1h.9m-2.3 21h.9m.9-28.4h.9m-.1 9.7h.9m-.2 .6h.9m-.3-29h.9m-.6 12.1h.9m-.2 10.6h.9m-.5 4.2h.9m1.5-13.3h.9m-2.7 3.3h.9m-.1 1.6h.9m-.8 28.8h.9m0 1.4h.9m.9-39.9h.9m-2.2 5.3h.9m-.3 3.5h.9m-.8 1.5h.9m-1.3 0h.9m-1.4 1.5h.9m.4 10.8h.9m-.7 15.5h.9m1.2-34.8h.9m-1.8 4h.9m-.4 .1h.9m-1.4 1.1h.9m-.9 3.1h.9m.7-2.4h.9m-1.1 28.9h.9m-.6 .4h.9m0 .2h.9m-.5 0h.9m-1.2 5.2h.9m1-50.1h.9m-.6 10.4h.9m-2 .7h.9m-.6 2.2h.9m-.6 27.4h.9m-1.2 2.5h.9m-.2 5.5h.9m.7-45h.9m-2.1 2.3h.9m.6 2.9h.9m-1.1 .3h.9m-.5 1.8h.9m-.8 27.1h.9m-2.8 1.8h.9m.3 .2h.9m-1 0h.9m-.8 6.1h.9m0-47.5h.9m-.5 7h.9m-.3 2.4h.9m-1.8 2.2h.9m.8 1.8h.9m-1.5 .9h.9m-2 25.1h.9m.6 .3h.9m-2.2 2.4h.9m2.4-37h.9m-.7 6.4h.9m-1.3 1.3h.9m-1.6 .1h.9m-1.5 23.6h.9m1.8-35.8h.9m-1.1 5h.9m-.9 1.4h.9m-.4 30.9h.9m-1.1 4.1h.9m-1.7 .6h.9m2.2-40.2h.9m-1.4 4.6h.9m-1.5 1.6h.9m-.7 .7h.9m.3 1.2h.9m-.8 .5h.9m-.7 27.4h.9m.4-28.4h.9m-.9 27.1h.9m-1.4 1.8h.9m1.4-33.2h.9m-1.2 1.7h.9m-.1 1.3h.9m-1.4 28.4h.9m-.6 6.2h.9m1-37.1h.9m-.5 30h.9m-1.3 .4h.9m-1.9 3.2h.9m-.2 5h.9m.1 2.8h.9m-.3-40h.9m.2 29.7h.9m-.2-34.5h.9m.2 5.6h.9m-1.2 1.3h.9m-2 26.6h.9m.4 .8h.9m-1.6 1.3h.9m2.1-.2h.9m-.9 .4h.9m-.6 1.8h.9m-2.8 .6h.9m.6 1h.9m.5-34.9h.9m-1.2 2.8h.9m.4 25.5h.9m-1.3 3.9h.9m-1.4 .3h.9m1.7-39.4h.9m-2.5 7.4h.9m-.3 .5h.9m-.4 2.8h.9m-1.3 24.6h.9m-1 2.1h.9m-.4 3.6h.9m-1.9 0h.9m.1 6.2h.9m1.7-35.7h.9m-1.5 0h.9m-1.6 19.5h.9m.2 1.7h.9m-2.3 4.6h.9m1.2-30.1h.9m.7 2.6h.9m-1.7 .5h.9m-.8 .7h.9m-.5 17.5h.9m-2.3 2.7h.9m.6 .6h.9m-2.5 .3h.9m.5 1h.9m-1.6 3.6h.9m1.4-31.4h.9m-.8 4.1h.9m-.9 .5h.9m-.4 18.9h.9m-.6 1.8h.9m-1.7 1.2h.9m-.9 3.9h.9m-.5 12.2h.9m.8-36.7h.9m-.5 13.4h.9m-1.9 3.4h.9m-.6 .1h.9m-.1 3.9h.9m-2.3 2.1h.9m-.6 1.2h.9m-.8 1.3h.9m.6-23.2h.9m-.2 2.5h.9m0 9.2h.9m-2.5 4.6h.9m-.4 .4h.9m.4-20.9h.9m.7 1.4h.9m-1.4 1.8h.9m-1.4 .6h.9m0 0h.9m-.9 .3h.9m-.7 4.9h.9m-1.1 .7h.9m-1.7 2.5h.9m-1.6 2.2h.9m-.1 4.7h.9m-1.2 1h.9m-1.2 .8h.9m-.9 4.9h.9m1.9-19.8h.9m-.3 1.9h.9m-.9 2h.9m-2 3h.9m.2 1.1h.9m-1.4 1h.9m-2 .5h.9m-.4 .4h.9m-1 2.7h.9m.5 .2h.9m1.1-18.9h.9m-1 2.4h.9m-2.3 1.5h.9m.2 .8h.9m-1.3 9h.9m-.9 2.6h.9m-1.8 .2h.9m-.2 5.6h.9m-.1 4.3h.9m2.2-17.4h.9" stroke="#4d70c0" stroke-width="0.9" fill="none"/>
<path d="M583.7 196.1h.9m-1 .2h.9m-2.3 .7h.9m.1 .6h.9m-1.6 .3h.9m0 .3h.9m-1.3 .1h.9m-.5 1.9h.9m-1.6 4h.9m0 .3h.9m-2.1 .6h.9m-.7 1.9h.9m.3 0h.9m-2 .2h.9m-1.4 .3h.9m1.8-11.2h.9m-1.6 .1h.9m-.7 1.8h.9m-.7 2.2h.9m-1.2 .2h.9m-1.2 2.4h.9m.9 .9h.9m-1.9 .9h.9m-.7 1.1h.9m-1.2 .5h.9m-.5 .2h.9m-1.1 1.4h.9m-.9 .9h.9m-.7 .8h.9m1.6-14.8h.9m-2.5 .1h.9m.8 1.2h.9m-2.6 .6h.9m.7 .4h.9m-.8 2.1h.9m-.9 .5h.9m-2 .7h.9m-1.3 .1h.9m-.8 .5h.9m.2 .3h.9m-.7 1.7h.9m-1.7 .4h.9m-1 .2h.9m-1.5 .3h.9m.4 1h.9m-.8 .1h.9m-1.3 1.1h.9m-1.7 2.9h.9m-1.2 .1h.9m.9 .1h.9m-.1-15.8h.9m-.8 .5h.9m.2 1.7h.9m-2.1 .9h.9m-.2 .7h.9m-.6 .8h.9m-.7 .1h.9m-2.7 1.8h.9m-.1 .9h.9m-1.6 .7h.9m-.1 4.7h.9m-1.4 .4h.9m.6 .6h.9m-2.8 .1h.9m-.1 1.3h.9m-.1 .3h.9m-1.2 .2h.9m-.5 1.1h.9m-2.2 .2h.9m.3 .2h.9m1.3-21.6h.9m-1.1 1.9h.9m-1.1 0h.9m-2.3 1.1h.9m-.5 .7h.9m-.2 0h.9m-1.6 .2h.9m-1.2 2.7h.9m0 1.4h.9m-1.7 .1h.9m.2 .4h.9m-1.5 .8h.9m-.7 0h.9m-.9 8.7h.9m-1.7 2h.9m.5 .2h.9m.5-22.9h.9m-1.8 .8h.9m.6 .3h.9m-1.4 .5h.9m-1.3 .2h.9m-1.5 1.2h.9m-.8 1h.9m.9 1.1h.9m-1.4 .2h.9m-1.9 6.6h.9m.5 .5h.9m-1.5 .4h.9m-1.4 .3h.9m-.5 3.8h.9m-.7 .9h.9m-1.5 1.2h.9m-1.5 .2h.9m-.9 .4h.9m-.9 1.5h.9m.8 .1h.9m-1.6 .5h.9m-1.3 0h.9m-1.4 .5h.9m-1.1 .6h.9m.6 1h.9m-1.7 .3h.9m-.6 .2h.9m.9-25.2h.9m-.7 1.5h.9m-1.1 0h.9m-1.5 .2h.9m-.9 2.2h.9m-1 .4h.9m-.8 1.2h.9m-.4 .8h.9m-1.6 4.9h.9m-.5 .2h.9m-.4 1.3h.9m-1.7 3.6h.9m.3 1.2h.9m-1.5 .1h.9m.3 0h.9m-1.4 0h.9m-.9 1.1h.9m-.6 1.8h.9m-1.1 1.9h.9m-.5 .9h.9m-1.4 .2h.9m0-25.9h.9m-1 .6h.9m-.6 2.8h.9m-1.4 15.5h.9m.2 0h.9m-.9 .2h.9m-.5 1.1h.9m-.5 1h.9m-1.1 0h.9m-1.4 .6h.9m-.7 .6h.9m-.5 .4h.9m-1.8 .8h.9m-.8 1h.9m-1.5 2.1h.9m-.9 .2h.9m1.5-27.8h.9m-1.6 .2h.9m.6 1h.9m-2.2 .2h.9m.3 0h.9m-1.8 .8h.9m-.6 .4h.9m-1 2h.9m-1.3 .2h.9m.6 15.5h.9m-2.5 1.4h.9m.2 .1h.9m-.2-23.7h.9m.6 .1h.9m-2 .6h.9m-.8 .2h.9m-1.3 22.1h.9m-.5 .9h.9m1.3-22.2h.9m-.3 19.2h.9m.4-19.3h.9m.1 18.1h.9m1.2-21.6h.9m-.8 .1h.9m-1 2h.9m-1.2 .1h.9m-1.8 .1h.9m.1 .2h.9m-2.4 .9h.9m.3 19.7h.9m1.4-22.5h.9m-2.1 .5h.9m-1.3 20.5h.9m.7 .6h.9m-2.4 .3h.9m.5 .1h.9m1.3-23.5h.9m-1.6 2h.9m-.1 .3h.9m-2.5 0h.9m.4 20h.9m-.9 1.6h.9m-1 .3h.9m.9-26.6h.9m-.3 .1h.9m-2.3 .5h.9m.2 .4h.9m-1 1.9h.9m-1.8 .1h.9m.5 .4h.9m-1.5 .6h.9m-1.7 .4h.9m-.7 20.3h.9m.9-23.3h.9m.3 .6h.9m-1 .3h.9m-2.4 .5h.9m.5 21.3h.9m-2.2 .2h.9m.5 .8h.9m-.3-23.2h.9m.3 .2h.9m-.5 0h.9m-2.4 .1h.9m.3 1.4h.9m-1.5 .8h.9m-.8 .2h.9m-.9 .1h.9m-1.1 1h.9m-.1 17.3h.9m-1.2 1.2h.9m-1.4 1.6h.9m.9-24.5h.9m-.1 1.7h.9m-.7 .7h.9m-1 1.1h.9m-2.3 .9h.9m-1 17.5h.9m.6 .1h.9m-1.9 .6h.9m.3 .4h.9m.6-23.1h.9m-.7 .5h.9m-2.1 .4h.9m-.7 .9h.9m.1 .6h.9m-.5 .2h.9m-1.8 .5h.9m-.8 17.8h.9m-.2 .1h.9m-2 .6h.9m.4 1.1h.9m-2.3 1h.9m-.7 .1h.9m.2 0h.9m-2.5 1h.9m.8 .1h.9m-1.2 1.1h.9m-.4-26.2h.9m-.3 .9h.9m.1 .6h.9m-2.6 .4h.9m.8 1h.9m-2.4 2.4h.9m-.3 .5h.9m0 14.2h.9m-1.4 .8h.9m-.7 0h.9m-1 2.3h.9m.7-19.2h.9m-1.1 0h.9m-1.3 .5h.9m.3 .1h.9m-.8 .3h.9m-.8 .1h.9m-1.3 12.4h.9m-.8 2.3h.9m-2 .6h.9m-1.1 .3h.9m-.8 .8h.9m-.2 1h.9m-.6 .5h.9m-1.2 .7h.9m0 .2h.9m-1.9 1.2h.9m1.8-22.7h.9m-.9 1.6h.9m-1.4 1.1h.9m-.2 .1h.9m-.9 .5h.9m-.7 .5h.9m-2.4 1.2h.9m-1 .2h.9m0 .1h.9m-1.7 .7h.9m-.3 .9h.9m-.6 .6h.9m-.9 6.5h.9m-.7 1.2h.9m1.4-16.4h.9m-2.3 4h.9m-.3 1.1h.9m-1.3 .3h.9m0 .3h.9m-1 .9h.9m-.4 .5h.9m-1.3 .3h.9m-2.1 2.5h.9m.7 4.1h.9m-2.4 0h.9m-1.3 .1h.9m1 0h.9m-1.3 1.7h.9m-2.1 .7h.9m.9-14.7h.9m-.7 .2h.9m0 .1h.9m-2.1 1.1h.9m.7 .1h.9m-2 .1h.9m-.5 .9h.9m-.6 1.5h.9m-.7 0h.9m-1 0h.9m-1 .5h.9m-2.1 1.3h.9m.1 .1h.9m-1.9 0h.9m.7 1.8h.9m-1 1.1h.9m-2.2 2.4h.9m-.4 .4h.9m-1.3 .4h.9m.2 1.2h.9m-1.1 .3h.9m1.4-10.6h.9m-1.2 .9h.9m-.6 .4h.9m-1.6 1.4h.9m-.3 .3h.9m-.7 .6h.9m-1.5 1.3h.9m-.2 .2h.9m-.9 1.1h.9m-1.9 .1h.9m-.6 1.9h.9m-1.8 2.5h.9m1.4-8.9h.9m-.4 1.3h.9m-1.2 1.4h.9m-.5 .8h.9m-1.9 .4h.9m-.7 .2h.9m-.8 1.3h.9" stroke="#86b2da" stroke-width="0.9" fill="none"/>
<path d="M589.6 200.1h.9m-1.2 1.9h.9m-.4 .3h.9m-.8 .5h.9m-1.7 .4h.9m-.7 .3h.9m-1.5 .2h.9m.3 .1h.9m-2 .3h.9m-1.5 0h.9m.4 0h.9m-.6 .3h.9m-2.5 0h.9m-.2 1.3h.9m-.4 .9h.9m-.6 0h.9m-.4-7h.9m.6 .1h.9m-1.5 .2h.9m-.6 .3h.9m-.6 .4h.9m-1.4 0h.9m-.5 .1h.9m-2 .7h.9m-.1 .1h.9m-1.4 .1h.9m-1.2 .7h.9m-.1 .8h.9m-1.6 .9h.9m-.8 .2h.9m.1 0h.9m-1.1 .8h.9m-1.5 .7h.9m-.2 .2h.9m-1.1 .1h.9m-1.6 .3h.9m.3 .4h.9m.2-6.1h.9m-1 .5h.9m-1.3 0h.9m.3 .4h.9m-1.6 .5h.9m-.4 .6h.9m-1.6 .3h.9m-1.4 1h.9m2-13.8h.9m-.3 .8h.9m-1.5 1.3h.9m-1 .3h.9m-.5 .7h.9m-1.2 4.9h.9m-1.9 4.5h.9m.6 .3h.9m.1-12.7h.9m-.9 .6h.9m-1.2 .3h.9m-.4 .1h.9m-1.8 3.4h.9m.9 5.5h.9m-1.5 .3h.9m-1.9 .6h.9m-.6 .6h.9m-.9 .3h.9m-.5 .7h.9m1.4-18.3h.9m-1.6 2.8h.9m.4 .6h.9m-2 .3h.9m-.7 .2h.9m-.8 .3h.9m-.8 .4h.9m-1.5 12.2h.9m.1 .7h.9m1.4-18.5h.9m-2.6 .6h.9m-.9 .1h.9m.7 .4h.9m-1.5 .4h.9m-.6 .1h.9m-1 .1h.9m-1.2 0h.9m-.4 .5h.9m-1.8 0h.9m-.9 .4h.9m-.6 .6h.9m.9-4.4h.9m-.9 .3h.9m-1.6 .3h.9m.6 .6h.9m-2 1h.9m-1 .2h.9m1-2.1h.9m-.3 1.3h.9m0 0h.9m-2.2 .6h.9m.1 .1h.9m-.4 14.8h.9m-1.1 .2h.9m-1.9 .8h.9m-1.3 .2h.9m2.6-19h.9m-2.5 1h.9m.7 .3h.9m-.8 0h.9m-2.1 .5h.9m-1.6 .5h.9m-.9 .2h.9m-.4 .4h.9m-.4 .3h.9m-.1 0h.9m-1.2 14.4h.9m-1.1 .1h.9m-.4 .2h.9m1.2-19.2h.9m-2.5 .4h.9m.6 0h.9m-2.6 .2h.9m-.5 .6h.9m.3 .1h.9m-1.5 1.4h.9m-.4 .1h.9m-1.9 .4h.9m.3 0h.9m-1.8 14.7h.9m-.4 .1h.9m-1.1 .2h.9m-1.7 .3h.9m-.7 .2h.9m-1.3 .5h.9m1.7-18.9h.9m-.1 .3h.9m-1.1 1.2h.9m-1 .5h.9m-1.8 .1h.9m.1 0h.9m-.6 .1h.9m-.8 1.3h.9m-1.7 11.6h.9m-.3 1.4h.9m-1.1 .3h.9m-1.6 .1h.9m.1 1.1h.9m-.9 .3h.9m-2.4 .9h.9m-.6 .2h.9m.9-19.4h.9m0 .2h.9m-1.9 .1h.9m-.1 .1h.9m0 .3h.9m-1.4 .1h.9m-.6 1.2h.9m-1.9 .3h.9m-1.1 .2h.9m.3 .9h.9m-2.1 .5h.9m-.4 .1h.9m-1.6 .1h.9m-.9 .2h.9m-1.1 .2h.9m-.7 0h.9m0 6.3h.9m-.4 .6h.9m-1.7 3.2h.9m-.5 .5h.9m-1.3 .1h.9m-1 0h.9m-.5 .4h.9m-1.6 .3h.9m-1.1 .5h.9m.7 .5h.9m-2.7 .1h.9m.2 .1h.9m-.6 .3h.9m-1.5 .5h.9m.1 .4h.9m-.1-17.6h.9m-1.2 .1h.9m-.5 .1h.9m-1.7 .1h.9m.4 .4h.9m-1.8 .3h.9m-1.3 .6h.9m-.6 .5h.9m-.5 0h.9m-1.4 0h.9m0 .5h.9m-1.4 .5h.9m0 .2h.9m-1.7 .5h.9m-1.5 .8h.9m.4 .5h.9m-.4 .2h.9m-1.6 .8h.9m-1 .4h.9m-.7 1.1h.9m-1.3 .4h.9m-.2 1.4h.9m-1 .2h.9m-2.1 .1h.9m.2 .1h.9m-2 .8h.9m-.1 .7h.9m-1.5 0h.9m-.7 .2h.9m.3 .2h.9m-2.3 2.8h.9m-1 .1h.9m.4 .4h.9m-1.7 .2h.9m-.9 .2h.9m-.3 .5h.9m-1 .3h.9m-1.8 .1h.9m.3 .3h.9m-1.5 .3h.9m-.6 0h.9m-.8 .6h.9m.5-17.5h.9m-1.3 .2h.9m-.3 .6h.9m-1.9 .4h.9m.5 .4h.9m-.8 .3h.9m-.8 .3h.9m-1.5 .3h.9m-1.1 .3h.9m-1.4 .3h.9m-.8 .6h.9m-.8 .3h.9m-.4 .1h.9m-1.4 .1h.9m-.5 .3h.9m-1.9 .2h.9m.2 .5h.9m-1.5 .5h.9m.5 0h.9m-1 0h.9m-2.1 .7h.9m-.6 .9h.9m-1.5 .8h.9m.5 0h.9m-2 0h.9m-.7 .1h.9m-.3 .5h.9m-2.3 .9h.9m-.2 .3h.9m-1.2 .1h.9m-.3 .1h.9m-.2 .1h.9m-1 .7h.9m-1.3 .1h.9m-.6 .4h.9m-1 2h.9m-.7 .2h.9m-1.1 .3h.9m-2 .1h.9m.1 .1h.9m-1 .6h.9m-1.2 1.4h.9m-1.4 .8h.9m1.3-16.7h.9m-.4 .8h.9m-.6 .3h.9m-1.4 .2h.9m-1.6 .1h.9m-.7 .1h.9m-.4 .3h.9m-1.3 .4h.9m-1.1 .1h.9m-.5 .7h.9m-1.3 0h.9m-.9 .1h.9m.1 .4h.9m-2.1 .9h.9m-.9 1.3h.9m-.3 .6h.9m-1 .1h.9m-.1 .1h.9m-2.1 .4h.9m-.3 .1h.9m-.6 .4h.9m-.1 .1h.9m-2.4 .1h.9m.4 1.3h.9m-2.5 0h.9m.8 0h.9m-1.6 .1h.9m-1.2 .8h.9m-.8 .3h.9m-.1 1.4h.9m-2.1 .1h.9m-1.3 .1h.9m-.8 .2h.9m-.1 1.2h.9m-.1 .1h.9m-2.7 .4h.9m.8 .2h.9m-2.6 .3h.9m-.4 .3h.9m-.9 .1h.9m-.7 .2h.9m-1.2 0h.9m.5 .1h.9m-2.3 .8h.9m.8-15.7h.9m-.8 .1h.9m-.2 .4h.9m-1.8 .5h.9m-.7 .6h.9m-1.1 .5h.9m-.4 .2h.9m-1.4 .6h.9m-.9 .1h.9m.6 .2h.9m-1.8 .3h.9m-.3 .3h.9m-1.5 .5h.9m0 .5h.9m-.5 .5h.9m-2.1 .3h.9m-.5 .3h.9m-1.9 .2h.9m-.4 .2h.9m-.5 0h.9m-1.6 0h.9m-.7 .4h.9m.2 .1h.9m-1.2 .4h.9m-2.2 .3h.9m.9 .4h.9m-2.4 .2h.9m.2 .1h.9m-1.4 .1h.9m-1.1 .1h.9m-.6 1.9h.9m-.6 1.2h.9m-.9 .3h.9m-1.9 .2h.9m.3 0h.9m-1.5 .1h.9m-.5 0h.9m-.8 .1h.9m-.5 0h.9m-.9 .2h.9m-2.1 .3h.9m0 0h.9m-1.5 .7h.9m-1.6 .9h.9m.7 0h.9m-1.1 .3h.9m-1.2 1.2h.9m-1.6 0h.9m2.1-15.2h.9m-2.2 .2h.9m-.7 .3h.9m.4 .1h.9m-2.4 .6h.9m-.3 .5h.9m-.3 1.1h.9m-1.3 .4h.9m-1.2 0h.9m.2 .3h.9m-1.1 .2h.9m-1.1 0h.9m-1.9 .7h.9m-1.2 .7h.9m-1 .4h.9m-.1 .2h.9m-.6 .8h.9m-1 0h.9m-.2 .2h.9m-1.8 .4h.9m-1.4 .2h.9m-1 .3h.9m.2 .5h.9m-1.7 1.1h.9m-1.3 .1h.9m-1 .2h.9m-.3 .1h.9m-.2 .4h.9m-.7 .2h.9m-.7 .3h.9m-2.7 .6h.9m-.5 .7h.9m-.8 .8h.9m-.7 0h.9m-1.3 .1h.9m.7 1h.9m-2.8 .5h.9m0 .6h.9m1-15.6h.9m-.7 .4h.9m-.1 .7h.9m-2.6 .2h.9m-.4 .4h.9m-.6 0h.9m-1.7 1.9h.9m-.6 0h.9m-.9 .4h.9m-1.1 .2h.9m-.1 .6h.9m-.5 .4h.9m-1.9 .5h.9m-.8 .4h.9m-.3 .6h.9m-1.9 .1h.9m-.4 .4h.9m-1.5 .1h.9m-.9 1.3h.9m1 .1h.9m-1.1 .1h.9m-1.8 .3h.9m0 .1h.9m-1.3 .1h.9m-.3 .1h.9m-1.6 .2h.9m-1.4 .1h.9m.3 .3h.9m-2.8 0h.9m.5 .2h.9m-2.3 .1h.9m-.6 0h.9m.5 0h.9m-2.1 .1h.9m.2 .1h.9m-1.3 .3h.9m-.8 .1h.9m-.5 .7h.9m-1.9 .4h.9m-.9 .1h.9m.4-11h.9m-.9 .8h.9m.6 4.2h.9m-1.4 .3h.9m-1.3 0h.9m.3 1.4h.9m-1.2 .8h.9m-.7 0h.9m-.6-2.4h.9m-.4 .3h.9m-1.1 .5h.9m-1.1 .7h.9m-.6 .1h.9m-.6 .2h.9m-.8 .3h.9m-1.7 1h.9m1.7-4h.9m-1 0h.9m-.9 .3h.9m-.6 .1h.9m-1 .1h.9m-.7 1h.9m-1 .3h.9m-1.7 .8h.9m-.4 .5h.9m-.4 .1h.9m-1.3 .1h.9m-1.4 .2h.9m-.6 .2h.9" stroke="#c4e0ec" stroke-width="0.9" fill="none"/>
<path d="M597.2 190.3h.9m-.6 .5h.9m-.5 .3h.9m-1.6 .2h.9m-1.2 .8h.9m-.8 .4h.9m-1.2 .2h.9m-1 0h.9m-.2 .2h.9m-1 .9h.9m-1.2 .6h.9m-1.5 .3h.9m-.4 .9h.9m-1.6 .2h.9m-.9 1.7h.9m-.8 .5h.9m.4 1h.9m-1.1 .1h.9m-.9 .7h.9m1.2-10.4h.9m-2.1 .2h.9m-.5 0h.9m-.9 0h.9m-.1 .2h.9m-1.9 .5h.9m-.2 0h.9m-1.3 0h.9m-.2 .2h.9m-1 0h.9m-1.6 .1h.9m-1.1 .1h.9m.3 .1h.9m-1.9 .3h.9m-1.2 0h.9m-.9 .5h.9m-.7 .3h.9m1.9-5.6h.9m-.7 .8h.9m-.9 .8h.9m-.5 0h.9m-.9 .5h.9m-1.9 .2h.9m-.9 .1h.9m-.9 .2h.9m-1.6 0h.9m.8 0h.9m-2.8 2h.9m0 .1h.9m-.3 9.2h.9m-2.4 .1h.9m2.9-15.9h.9m-1.3 .1h.9m-1.1 .1h.9m-.3 .2h.9m-1.6 .2h.9m-.1 0h.9m-2.4 .7h.9m-.4 0h.9m-1.4 .3h.9m-1.1 0h.9m-.5 0h.9m-.2 .1h.9m-.5 .2h.9m-2.4 .2h.9m.5 0h.9m-1.1 .3h.9m-1.4 .4h.9m-1.4 .6h.9m-1.3 .9h.9m.6 10.3h.9m-1.3 .2h.9m-.6 0h.9m-1.2 .6h.9m1.4-14.4h.9m-.4 .1h.9m-2.7 .1h.9m-.5 .6h.9m-.5 .2h.9m-.5 .2h.9m-1 .1h.9m-1.7 0h.9m.1 9.3h.9m-.9 .1h.9m-1.2 0h.9m-.5 .2h.9m-1.1 .1h.9m-.3 .7h.9m-1.7 .5h.9m-1 .5h.9m-1.9 .3h.9m2.5-13.2h.9m-2.2 .1h.9m.6 .5h.9m-1.7 .1h.9m-1.6 .2h.9m.5 0h.9m-1.2 .2h.9m-2 0h.9m.8 .1h.9m-1.1 .2h.9m-1.4 .1h.9m-1.4 .1h.9m0 7.2h.9m-.6 .8h.9m-1.2 .3h.9m-1.9 0h.9m-.8 .7h.9m.2 .5h.9m-2.6 .1h.9m-.7 .2h.9m.5 0h.9m-1.4 .4h.9m-1.3 .5h.9m-.6 .1h.9m-1.5 .7h.9m.2 .4h.9m.6-14.1h.9m-1.4 0h.9m-.7 .3h.9m-.2 .1h.9m-1 .4h.9m-1.8 .2h.9m-.8 .1h.9m-1.2 0h.9m.4 .6h.9m-.5 0h.9m-2 .1h.9m-1.1 .3h.9m.4 0h.9m-1.6 .1h.9m-.6 .1h.9m-1.1 0h.9m-2.2 .1h.9m-.5 .2h.9m.3 .4h.9m-2.2 .1h.9m-.9 .1h.9m-.8 .2h.9m-.3 .3h.9m-.7 .1h.9m-.4 0h.9m-1.5 .2h.9m-1 2.5h.9m-.1 .3h.9m-1.1 .1h.9m-.6 .3h.9m-1.1 .1h.9m-2.5 .1h.9m.3 .2h.9m-1.9 .3h.9m-.9 .1h.9m-.1 .8h.9m-2 .6h.9m1 0h.9m-1.6 .1h.9m-.8 0h.9m-1.3 .2h.9m-1.8 .7h.9m-.1 .1h.9m0 .5h.9m-2.6 .1h.9m-.5 .3h.9m.6 .1h.9m-2.8 0h.9m-.9 .2h.9m-.3 0h.9m-1.3 .1h.9m-.6 .1h.9m-1.2 .3h.9m-.7 0h.9m-.5 .3h.9m-1.7 0h.9m0 0h.9m-1 .1h.9m-1.1 .4h.9m-.3 .1h.9m-.9 0h.9m-2.1 .1h.9m1.9-13.7h.9m-.1 0h.9m-.7 .1h.9m-1.5 .2h.9m-1.4 .2h.9m-1 .2h.9m-.9 .4h.9m-1 .1h.9m.4 .4h.9m-2.6 0h.9m.1 .4h.9m-.2 .2h.9m-1.9 .5h.9m-.1 .3h.9m-.6 0h.9m-1.9 .6h.9m-1.6 .2h.9m-.9 .6h.9m-.2 0h.9m-1.5 .1h.9m-.7 .3h.9m-.3 .1h.9m-.7 .1h.9m-1.3 .2h.9m-.9 .2h.9m-.1 0h.9m-1.2 .4h.9m-2.3 0h.9m.1 .2h.9m-1 .1h.9m-.8 .3h.9m-.9 .2h.9m-.9 0h.9m-1.3 .2h.9m-1.5 .3h.9m.3 .2h.9m-2 .1h.9m.8 .3h.9m-1.8 .2h.9m-1.4 .1h.9m0 0h.9m-1.6 .4h.9m-.9 0h.9m-1.2 .2h.9m-.6 .6h.9m-.6 .1h.9m-1.5 .4h.9m-.4 .1h.9m-1.7 .1h.9m.8 .1h.9m-2.3 0h.9m-.9 .1h.9m-.1 0h.9m-1 .5h.9m-1.5 .4h.9m-1 .6h.9m-.7 .5h.9m-1.2 .1h.9m-1.1 1.3h.9m1.1-13h.9m-.8 .6h.9m.7 .8h.9m-1.2 .2h.9m-1.7 .7h.9m-.9 .1h.9m-.6 .6h.9m-1.2 .2h.9m-1.4 0h.9m.1 0h.9m-1.8 .1h.9m-.5 .3h.9m-.5 .1h.9m-.4 .1h.9m-1.9 .1h.9m-.8 .6h.9m-.5 .1h.9m-1.7 .3h.9m-1 .1h.9m-.3 1.2h.9m-1.3 .1h.9m-.9 1.1h.9m-.8 .4h.9m-.8 .1h.9m-1 .5h.9m-.1 .1h.9m-1.9 .1h.9m.1 .2h.9m-1.9 .5h.9m.4 .1h.9m-1.1 .9h.9m.4-8.7h.9m-.6 .3h.9m-1.1 .3h.9m-1.5 0h.9m-.4 0h.9m-.8 1h.9m-1.2 .3h.9m-.6 .1h.9m-1.4 .1h.9m-.3 .1h.9m-1.3 .2h.9m-.8 .2h.9m0 4.2h.9m-1.1 .2h.9m-1.7 .2h.9m-.9 .1h.9m-.6 .7h.9m-1.6 0h.9m-.8 .1h.9m.6 .1h.9m-2.1 0h.9m-.7 .1h.9m-.6 .3h.9m.9-2.7h.9m-1.4 .3h.9m-1.1 .5h.9m.9 .3h.9m-2.6 .1h.9m.7 .4h.9m-2.4 .2h.9m-.6 .5h.9m-1.1 .1h.9m-.8 .1h.9m-1.3 0h.9m3.7-6.6h.9m-1.2 .1h.9m-1.1 .6h.9m-.2 .2h.9m-.7 .1h.9" stroke="#f3ecb0" stroke-width="0.9" fill="none"/>
<path d="M597.7 194h.9m-.7 .6h.9m-1.1 1.7h.9m-.8 .2h.9m-1.1 0h.9m-1 0h.9m-1 1.2h.9m-.5 .3h.9m-.9 .3h.9m-1.3 .7h.9m.8-7.9h.9m-.3 .6h.9m-1.7 .4h.9m-.5 .3h.9m-.8 .3h.9m-1.3 .1h.9m-1.1 0h.9m-1.2 .2h.9m-1.1 .2h.9m-.4 .1h.9m-1.6 0h.9m-.5 .1h.9m-1.1 .2h.9m-1 .1h.9m-1.1 2.8h.9m-.9 .2h.9m.7 2.8h.9m1.1-10.2h.9m-1.2 0h.9m-.5 .7h.9m-1.5 .1h.9m-.1 0h.9m-1 .6h.9m-1.4 0h.9m-.6 .1h.9m-.8 .2h.9m-2.5 .2h.9m-1 .5h.9m-.2 7.4h.9m-1.2 .2h.9m0 0h.9m-2.2 .2h.9m.9 .3h.9m-1.1 .2h.9m1.3-12.9h.9m-.8 .7h.9m-2.7 .3h.9m-.7 0h.9m.5 0h.9m-1.6 .1h.9m-.3 .1h.9m-.7 .2h.9m-1.2 0h.9m-1.5 .2h.9m-.8 .2h.9m-.2 0h.9m-2.5 .1h.9m.7 .1h.9m-.7 0h.9m-2.1 .2h.9m-.2 .2h.9m-1.1 0h.9m-.7 .1h.9m-1 .1h.9m-.8 0h.9m-2 .4h.9m-.8 .1h.9m-1.2 .4h.9m-1 0h.9m-.4 .2h.9m-1.4 .2h.9m-.2 0h.9m-1.2 .2h.9m-.7 .1h.9m-.6 .3h.9m-.6 6.5h.9m-.7 .5h.9m-1.4 .7h.9m-.8 .3h.9m-1.3 0h.9m1.5-12.4h.9m-1.8 0h.9m.7 .7h.9m-2.6 0h.9m-.4 .1h.9m.4 0h.9m-2.1 .1h.9m-1.5 .2h.9m-.1 .1h.9m-1.5 0h.9m-.5 0h.9m.2 .1h.9m-1.6 .2h.9m-1.2 .1h.9m-.4 .1h.9m-1.5 0h.9m-1.1 0h.9m0 .2h.9m-.5 0h.9m-2.1 0h.9m-1.4 .1h.9m-.5 .2h.9m.3 .2h.9m-2.4 0h.9m-.1 0h.9m-1.5 0h.9m.4 0h.9m-2.2 .1h.9m.7 .1h.9m-2.4 0h.9m-.1 0h.9m-1.9 .2h.9m-.1 0h.9m-.8 .3h.9m-.1 .2h.9m-1.7 1.5h.9m-.6 .1h.9m-1.2 .1h.9m-.4 .1h.9m-1.1 .3h.9m-.8 .1h.9m-.8 .1h.9m-1.5 .3h.9m-1.5 .1h.9m-1 0h.9m-1.1 .3h.9m.1 0h.9m-.6 0h.9m-1.4 .2h.9m-1.6 .1h.9m.5 .1h.9m-1.9 0h.9m-1.2 .6h.9m-.4 .1h.9m-.1 .1h.9m-1.7 .3h.9m-.6 .1h.9m-1.7 .1h.9m.6 .3h.9m-2.2 .2h.9m-.3 .1h.9m-1.9 .4h.9m0 .8h.9m-1.9 .6h.9m-.7 .1h.9m-.9 .1h.9m-.9 0h.9m-.2 .2h.9m.2-10.9h.9m.3 .1h.9m-1.6 .2h.9m-.8 0h.9m-1 0h.9m-.5 .1h.9m-1 .5h.9m-1.6 0h.9m-.3 .2h.9m-.7 .1h.9m0 .1h.9m-.8 0h.9m-2.5 .1h.9m-.1 .2h.9m-.6 .1h.9m-1.5 0h.9m-.3 .1h.9m-2.2 0h.9m.3 .1h.9m-.9 .1h.9m-1.2 .1h.9m-1.2 0h.9m-1.1 .6h.9m-1 0h.9m0 .3h.9m-.3 .5h.9m-1 0h.9m-1.7 .2h.9m-.9 .1h.9m-.7 0h.9m-1.4 .1h.9m-.5 .1h.9m-1.9 0h.9m.5 .1h.9m-2.1 .1h.9m0 .4h.9m-.2 0h.9m-2.8 .3h.9m-.6 0h.9m-1.1 0h.9m-.7 .4h.9m.7 .1h.9m-2 .1h.9m-.8 .2h.9m-1.5 0h.9m-.9 0h.9m-1 .1h.9m-.3 .1h.9m-.4 .1h.9m-.9 0h.9m-1.7 .1h.9m.2 0h.9m-.8 0h.9m-1.4 .2h.9m-1.9 0h.9m.7 .1h.9m-2.7 .1h.9m-.9 0h.9m1 .2h.9m-2.7 .1h.9m-.1 .1h.9m-.8 0h.9m-1.4 .1h.9m-1.2 .2h.9m-.8 .1h.9m-1.2 .5h.9m-.5 .1h.9m.8-6.7h.9m-.9 .1h.9m-.6 .2h.9m-.5 .3h.9m-1.6 .2h.9m-.1 .2h.9m-1.7 0h.9m.9 .1h.9m-1.9 0h.9m-.9 .1h.9m-1.3 0h.9m-.3 .1h.9m-.3 .1h.9m-1.4 .2h.9m-.2 .1h.9m-1 .3h.9m-.8 .1h.9m-2.7 .1h.9m-.3 .1h.9m-.1 0h.9m-1.4 .3h.9m-1.1 .1h.9m-1.5 .2h.9m-.4 .6h.9m-1.1 .1h.9" stroke="#f8c868" stroke-width="0.9" fill="none"/>
<path d="M599.6 193.2h.9m-.7 .1h.9m-.8 0h.9m-1.1 .2h.9m-1.2 0h.9m-.5 .1h.9m-1.4 0h.9m-1.4 1h.9m-1.1 .2h.9m-1.1 .1h.9m-.7 .2h.9m-.5 0h.9m-1.1 0h.9m-.9 .1h.9m-1.6 .3h.9m-.2 .1h.9m-.9 .1h.9m-1.4 0h.9m-.5 0h.9m-.6 .3h.9m-1.5 1h.9m-.5 .1h.9m-1.4 .1h.9m-.9 0h.9m-1 .1h.9m-.2 .3h.9m-1.1 0h.9m-1.6 0h.9m-.5 .1h.9m-.6 .2h.9m-1.6 .2h.9m.9 .1h.9m-2.4 0h.9m.4 .1h.9m-1.6 0h.9m-1 .1h.9m-.2 0h.9m-2.2 .1h.9m.4 0h.9m-2 .2h.9m.2 .1h.9m-1.1 .1h.9m1.1-6.6h.9m-.4 .1h.9m-2 .1h.9m-.2 0h.9m-1.6 .1h.9m-1 .2h.9m-.5 .1h.9m-.4 0h.9m-1.4 .1h.9m-.3 0h.9m-1.9 0h.9m-.8 .2h.9m-1.6 0h.9m.7 .1h.9m-2.4 .1h.9m-.2 0h.9m-.3 0h.9m-2.2 .2h.9m-.2 0h.9m-.8 0h.9m-1.1 .1h.9m.1 0h.9m-1.8 0h.9m-1 .1h.9m-.9 0h.9m-1.4 .1h.9m2.2-3.6h.9m-.3 .1h.9m-1.3 .3h.9m-.6 .2h.9m-1.4 0h.9m-.7 .2h.9m-1.3 .1h.9m-.4 .1h.9m-.8 0h.9m-1 .1h.9m-.6 0h.9m-1.7 .4h.9m-.8 0h.9m-1.8 .3h.9m-.2 .2h.9m-1 0h.9m-1.4 0h.9m-.7 .1h.9m-.4 0h.9m-1.8 .1h.9m.4 0h.9m-1.4 0h.9m-.2 .2h.9m-1.3 0h.9m-1.8 .1h.9m.6 0h.9m-2 0h.9m-.4 0h.9m-.3 .1h.9m-2.8 .1h.9m-.3 0h.9m.1 0h.9m-1.7 .1h.9m.2 0h.9m-2.1 .1h.9m.3 .1h.9m-1.4 .2h.9m-1.2 .2h.9m-2 0h.9m1 0h.9m-1.1 .2h.9m-.8 .1h.9m-2.3 .1h.9m-1 .1h.9m-.4 .4h.9m.2 .3h.9m-1.5 0h.9m-1.2 .4h.9m-.7 .8h.9m-.7 0h.9m-.6 .4h.9m-.7 .1h.9m-1.5 .1h.9m-1.2 .1h.9m-.3 .9h.9m-2.3 .3h.9m-1.1 .1h.9m-.4 .5h.9m-1.1 0h.9m1.8-8.2h.9m-1.5 .1h.9m-.4 .1h.9m-1.7 .1h.9m-.7 0h.9m-1.1 0h.9m-.4 .1h.9m-1.1 0h.9m-.5 0h.9m-1.7 .1h.9m.9 .2h.9m-2.2 0h.9m-.7 .2h.9m-.7 .1h.9m-1.3 .2h.9m-.7 0h.9m-1.6 0h.9m.9 0h.9m-1.5 .1h.9m-1 .1h.9m-.7 .1h.9m-1 .1h.9m-1.7 .1h.9m-.3 .2h.9m-1.8 .3h.9m0 0h.9m-1.3 .4h.9m.5-1.5h.9m-.9 .4h.9" stroke="#ef8a42" stroke-width="0.9" fill="none"/>
<path d="M599.3 194.1h.9m-.3 0h.9m-1.7 .2h.9m-.2 .1h.9m-1.6 .3h.9m-.7 .1h.9m-.4 .1h.9m-1.4 .1h.9m-.9 .2h.9m-.4 .2h.9m-1 .1h.9m-.8 0h.9m-1.2 .2h.9m-1 0h.9m-1.3 0h.9m-.9 .1h.9m-.2 0h.9m-1.2 0h.9m-1 0h.9m-.3 .1h.9m-1.1 0h.9m-1.6 .2h.9m-1.4 0h.9m-.6 0h.9m-1.7 .1h.9m-.8 .1h.9m-.4 0h.9m-.6 .1h.9m-1.7 .3h.9m-.4 0h.9m-1 .1h.9m-.4 .2h.9m-1.1 0h.9m-.7 .1h.9m-.7 0h.9m-.9 0h.9m-.2 .1h.9m-1.1 .1h.9m-1.2 0h.9m-.8 .2h.9m-.7 .1h.9m-.8 0h.9m-1.1 0h.9m-.7 0h.9m-1.6 0h.9m-.7 .1h.9m-.6 .1h.9m-.8 0h.9m-.9 0h.9m-.8 .1h.9m-1.4 0h.9m1.7-3.8h.9m-2.6 0h.9m-.5 0h.9m-.3 0h.9m-1 .2h.9m-.6 .1h.9m-1.4 0h.9m-1.8 0h.9m.1 0h.9m-.4 .1h.9m-1.8 .2h.9m-.3 .1h.9m-1.9 0h.9m-.1 0h.9m-1.3 .1h.9m-.5 0h.9m-1.9 .6h.9m.6 1.5h.9m-1 0h.9m-.4 0h.9m-1 .1h.9m-.8 0h.9m-1.3 0h.9m-1.4 .1h.9m-.7 0h.9m-.7 0h.9m-1.2 0h.9m-.1 0h.9m-1.2 0h.9m-1.4 .1h.9m-.9 0h.9m-.7 .1h.9m-.6 0h.9m-1.2 .1h.9m-.8 .1h.9m-.4 0h.9m-1 .1h.9m-1.6 0h.9m-.9 .1h.9m-.8 0h.9m-.9 .1h.9m-.2 .1h.9m-1.3 0h.9m-.8 .1h.9m-2.1 0h.9m.4 .1h.9m-1.3 0h.9m-.7 0h.9m-1.1 .1h.9m-2 0h.9m-.3 .1h.9m0 0h.9m-1.7 0h.9m-1.5 .1h.9m-.7 0h.9m.2 0h.9m-2.3 0h.9m.3 .1h.9m-1.8 0h.9m-.9 0h.9m0 .1h.9m-1.7 .2h.9m-.8 .1h.9m.4-4.4h.9m-.7 .6h.9m-.8 0h.9m-1 .2h.9m-.4 0h.9m-1 .1h.9m-1.1 0h.9m-1.3 .2h.9m-.9 .1h.9m-.8 .1h.9m-.9 .3h.9m-.9 .1h.9m-1 .2h.9m-.4 0h.9m-.5 0h.9m-1.2 0h.9m-.9 .2h.9m-1.3 0h.9m-.5 .1h.9m-.6 0h.9m-1.5 0h.9m-1.1 .1h.9m-.8 0h.9m-.6 0h.9m-1.2 .1h.9m-.2 .2h.9m-1.4 .1h.9m-.7 .3h.9m-1.4 .2h.9m-.4 .1h.9m-1.5 .6h.9" stroke="#d93a2a" stroke-width="0.9" fill="none"/>
<path d="M599.7 196.2h.9m-.9 .1h.9m-1.3 0h.9m-.7 0h.9m-.9 0h.9m-.9 .1h.9m-1.3 0h.9m-.4 .1h.9m-1.2 .1h.9m-.9 .1h.9m-.5 0h.9m-.9 .1h.9m-1.2 .1h.9m-1.1 0h.9m-.4 0h.9m1-1.9h.9m-.6 0h.9m-2.7 .1h.9m.9 0h.9m-2.4 0h.9m.4 0h.9m-1.6 .1h.9m-.1 0h.9m-.8 0h.9m-1.1 0h.9m-1.8 0h.9m-.3 .1h.9m-1.5 0h.9m-.6 0h.9m-1.4 0h.9m.4 0h.9m-1.7 0h.9m-.3 0h.9m-2.3 .1h.9m-.9 0h.9m-.3 0h.9m-1.4 0h.9m-.3 0h.9m-1.5 .1h.9m-1.2 0h.9m-.3 0h.9m-1.3 .1h.9m0 0h.9m-1.6 0h.9m-.1 0h.9m-1.1 .1h.9m-1.9 0h.9m-.9 0h.9m.5 .1h.9m-1.1 0h.9m-.9 0h.9m-2 0h.9m.2 0h.9m-.7 .1h.9m-2.2 0h.9m-.5 0h.9m-.5 0h.9m-.8 0h.9m-1.7 0h.9m.5 .1h.9m-1.2 0h.9m-.5 0h.9m-1.8 0h.9m-1.2 0h.9m-.7 0h.9m-.7 0h.9m-1.9 .1h.9m-.7 0h.9m.5 0h.9m-1.5 0h.9m-1.9 0h.9m-.4 0h.9m-.4 0h.9m-.1 .1h.9m-1.9 0h.9m-1.6 0h.9m-.1 0h.9m-1.6 0h.9m-.5 0h.9m.4 0h.9m-1.9 0h.9m-1 .1h.9m-.4 0h.9m-.3 0h.9m-2.6 0h.9m-.3 0h.9m-1.2 0h.9m-1 0h.9m.5 0h.9m-1.4 .1h.9m-2.2 0h.9m-.8 0h.9m.2 0h.9m-1.8 0h.9m-1.1 0h.9m-.3 0h.9m-1.6 .1h.9m.8 0h.9m-2.1 .1h.9m-1.3 0h.9m-.9 0h.9m.5 0h.9m-1.5 0h.9m-.4 .1h.9m-1.6 0h.9m.3 0h.9m-2.4 .1h.9m0 0h.9m-1.9 0h.9m.4 0h.9m-.8 0h.9m-1.3 0h.9m-1.3 0h.9m.1 0h.9m-2.3 0h.9m-.8 0h.9m0 .1h.9m-2.2 0h.9m.1 0h.9m-.4 0h.9m-1.2 0h.9m-1.5 0h.9m-.8 0h.9m-1.7 .1h.9m-.6 0h.9m-.7 0h.9m-.4 0h.9m-1.7 .1h.9m-.6 0h.9m-1.1 0h.9m-1 0h.9m-1.1 .1h.9m-.4 0h.9m-.6 .1h.9m-1.4 0h.9m-.9 .1h.9m-.9 .1h.9m-.9 0h.9m-.5 0h.9m-.9 0h.9m-.8 0h.9m-.9 0h.9m-1.4 .1h.9m-1 0h.9m-1.1 .2h.9m-.1 0h.9m-1.1 0h.9m-1 0h.9m.5-1.5h.9" stroke="#a8182a" stroke-width="0.9" fill="none"/>
<line x1="596.4" y1="158.9" x2="596.4" y2="234" stroke="#333" stroke-width="0.7"/>
<line x1="603.7" y1="158.9" x2="603.7" y2="234" stroke="#333" stroke-width="0.7"/>
<line x1="599.7" y1="158.9" x2="599.7" y2="234" stroke="#555" stroke-width="0.5" stroke-dasharray="1 0.8"/>
<line x1="601" y1="158.9" x2="601" y2="234" stroke="#555" stroke-width="0.5" stroke-dasharray="1 0.8"/>
<line x1="553.4" y1="193.7" x2="646.5" y2="193.7" stroke="#aaa" stroke-width="1.1"/>
<line x1="553.4" y1="199.3" x2="646.5" y2="199.3" stroke="#333" stroke-width="0.7"/>
<line x1="553.4" y1="196.6" x2="646.5" y2="196.6" stroke="#555" stroke-width="0.5" stroke-dasharray="1 0.8"/>
<line x1="553.4" y1="158.9" x2="553.4" y2="234" stroke="#444" stroke-width="0.8"/>
<line x1="551.4" y1="159.9" x2="553.4" y2="159.9" stroke="#444" stroke-width="0.8"/>
<text x="550.6" y="162.4" font-size="7.1" text-anchor="end">6.0</text>
<line x1="551.4" y1="178.2" x2="553.4" y2="178.2" stroke="#444" stroke-width="0.8"/>
<text x="550.6" y="180.7" font-size="7.1" text-anchor="end">3.0</text>
<line x1="551.4" y1="196.5" x2="553.4" y2="196.5" stroke="#444" stroke-width="0.8"/>
<text x="550.6" y="199" font-size="7.1" text-anchor="end">0.0</text>
<line x1="551.4" y1="214.8" x2="553.4" y2="214.8" stroke="#444" stroke-width="0.8"/>
<text x="550.6" y="217.3" font-size="7.1" text-anchor="end">-3.0</text>
<line x1="551.4" y1="233.1" x2="553.4" y2="233.1" stroke="#444" stroke-width="0.8"/>
<text x="550.6" y="235.6" font-size="7.1" text-anchor="end">-6.0</text>
<line x1="553.4" y1="234" x2="646.5" y2="234" stroke="#333" stroke-width="0.8"/>
<line x1="557.6" y1="234" x2="557.6" y2="236" stroke="#333" stroke-width="0.8"/>
<line x1="578.6" y1="234" x2="578.6" y2="236" stroke="#333" stroke-width="0.8"/>
<line x1="599.6" y1="234" x2="599.6" y2="236" stroke="#333" stroke-width="0.8"/>
<line x1="620.6" y1="234" x2="620.6" y2="236" stroke="#333" stroke-width="0.8"/>
<line x1="641.6" y1="234" x2="641.6" y2="236" stroke="#333" stroke-width="0.8"/>
<text x="557.6" y="243.6" font-size="7.1" text-anchor="middle">-6.0</text>
<text x="578.6" y="243.6" font-size="7.1" text-anchor="middle">-3.0</text>
<text x="599.6" y="243.6" font-size="7.1" text-anchor="middle">0.0</text>
<text x="620.6" y="243.6" font-size="7.1" text-anchor="middle">3.0</text>
<text x="641.6" y="243.6" font-size="7.1" text-anchor="middle">6.0</text>
<text x="554.6" y="163.7" font-size="7.1">3.1%</text>
<text x="554.6" y="232.6" font-size="7.1">8.0%</text>
<text x="644" y="163.7" font-size="7.1" text-anchor="end" fill="#b01e28" font-weight="bold">45.3%</text>
<text x="644" y="232.3" font-size="7.1" text-anchor="end">3.2%</text>
<text x="647.3" y="187.6" font-size="7.1">Density</text>
<defs><linearGradient id="cb654" x1="0" y1="0" x2="0" y2="1"><stop offset="0" stop-color="#c0282a"/><stop offset="0.3" stop-color="#f08a40"/><stop offset="0.55" stop-color="#f8ecb0"/><stop offset="0.8" stop-color="#9cc4e2"/><stop offset="1" stop-color="#3f62b8"/></linearGradient></defs>
<rect x="654.3" y="192" width="3.2" height="12" fill="url(#cb654)"/>
<line x1="661.1" y1="204" x2="661.1" y2="197" stroke="#111" stroke-width="0.8"/>
<path d="M659.5 198 L661.1 194.8 L662.7 198 Z" fill="#111"/>
<text x="601.6" y="252" font-size="7.1" text-anchor="middle">TetON <tspan font-style="italic">ZIC2</tspan> DOX vs Veh</text>
<text x="601.6" y="260.5" font-size="7.1" text-anchor="middle">ATAC log<tspan font-size="4.5" dy="1.5">2</tspan><tspan dy="-1.5">ratio</tspan></text>
<text x="523.8" y="197.5" font-size="7.1" text-anchor="middle" transform="rotate(-90 523.8 197.5)">TetON <tspan font-style="italic">ZIC2</tspan> DOX vs Veh</text>
<text x="530" y="197.5" font-size="7.1" text-anchor="middle" transform="rotate(-90 530 197.5)">BRG1 CUT&amp;Tag log<tspan font-size="4.5" dy="1.5">2</tspan><tspan dy="-1.5">ratio</tspan></text>
<text x="512" y="274" font-size="9.5" fill="#000" font-weight="bold">l</text>
<path d="M585.9 302.7h.9m-2.1 8.9h.9m-1.3 9.4h.9m2.1-21.5h.9m-1.6 1.9h.9m-.9 3.9h.9m-.7 5.4h.9m-1.1 6.6h.9m.1 12.7h.9m-.3-42.8h.9m0 18.1h.9m-2 8.4h.9m.9 6.1h.9m-.6-17.5h.9m-.6 23.3h.9m-.9 5.4h.9m2.1-37.5h.9m-1.7 3.6h.9m-.4 23.7h.9m-.8 2.6h.9m-.7 1.8h.9m0-2.1h.9m1.2-32.6h.9m-.2 .7h.9m-.6 34.5h.9m3.5-33.9h.9m-2.2 36.7h.9m.3 3.8h.9m1.9 .4h.9m1.3-4.8h.9m-.1 3.1h.9m-2.3 .8h.9m4.7-41.9h.9m-1.6 38.4h.9m-1.1 1.5h.9m.6-42h.9m-1.2 42.8h.9m2.6-37.9h.9m-.9 35.2h.9m-1.9 1.3h.9m-.2 .9h.9m-1.7 1.8h.9m1.4-44.7h.9m1.1 3.3h.9m-.7 3.4h.9m-.1 34.4h.9m-1 4.7h.9m-2.2 .1h.9m2.6-5.9h.9m.9-38.5h.9m-2 .9h.9m-.4 35.6h.9m1.6-34.4h.9m-1.8 39.6h.9m.5-38.1h.9m-.7 33.8h.9m.9-2.6h.9m1.1-26h.9m.6 4.2h.9m1.4-4.7h.9m-2.2 1h.9m.4 1.5h.9m-1.2 17.5h.9m-1.7 1.7h.9m-.2 1.7h.9m-2 .6h.9m2.3-20.7h.9m-1.6 1.9h.9m-1.7 19h.9m-.5 3.1h.9m2.1 0h.9m-.3-29.2h.9m-.7 20h.9m.8 6.8h.9" stroke="#4d70c0" stroke-width="0.9" fill="none"/>
<path d="M590.3 308.6h.9m-1.1 .6h.9m-.2 .7h.9m-1.1 3.5h.9m.1 2.1h.9m.6-16.3h.9m-.5 .2h.9m-.8 1h.9m1.1-3h.9m-2.4 .5h.9m2-2.7h.9m-.4 .5h.9m-1.8 25.8h.9m-.5 .6h.9m1.5-29.4h.9m-2.1 2.9h.9m2.2-3.5h.9m-2.2 2.3h.9m2.4-1.5h.9m1.6-.3h.9m-2.6 31.1h.9m.6 1.5h.9m.4-32.3h.9m-1 33.1h.9m-1.3 .7h.9m1.7-34.2h.9m-.9 1.4h.9m0 32.1h.9m1.1-34.3h.9m-1.4 0h.9m-.6 1.3h.9m-1.7 1.9h.9m0 31.1h.9m1.1-34.7h.9m-.8 .2h.9m-1.8 3.4h.9m-1.1 .8h.9m-1 .1h.9m2.4 .1h.9m.3 .2h.9m-.6 .1h.9m-.9 28.3h.9m.1-29.8h.9m-1.4 .5h.9m.4 2.8h.9m-.3 1.8h.9m-1.6 22.4h.9m-1.1 3.4h.9m-1.3 .2h.9m1.9-29.7h.9m-.9 .6h.9m-.5 26.5h.9m-2.7 2.2h.9m1.9-31.2h.9m-.3 1.2h.9m-.9 .5h.9m-.7 1.9h.9m-1.1 1.1h.9m-.6 22.5h.9m-1 1.4h.9m-2.3 1.1h.9m2.7-27.1h.9m-1.6 22.3h.9m-1.8 3.5h.9m-.5 1.3h.9m1.3-25.8h.9m-.7 .2h.9m-1.1 1.7h.9m-.3 1.1h.9m-.5 20.7h.9m-1.9 2h.9m1.1-25.2h.9m-.5 .3h.9m-.5 .9h.9m-.9 4.1h.9m-2 12.6h.9m.1 2.4h.9m-1.9 1.3h.9m-1.2 .2h.9m.8 .4h.9m-2.1 1.2h.9m1.8-17.6h.9m-1.7 .1h.9m.4 9.3h.9m-1.5 .2h.9m-2.1 4.8h.9m-.2 1.3h.9m.6-16.1h.9m.3 3h.9m-.7 .9h.9m-1.5 4.6h.9m-.3 .3h.9m-.1-6.9h.9m-.3 1.5h.9m-1.2 3.1h.9m1.3-3.2h.9m-1.2 2.3h.9" stroke="#86b2da" stroke-width="0.9" fill="none"/>
<path d="M593.1 301.2h.9m-.9 .8h.9m-.9 1.8h.9m-.7 1.6h.9m-.3 1.5h.9m-1.1 1.7h.9m-2.4 1.4h.9m-.3 .7h.9m-.9 .3h.9m-1.3 .5h.9m.4 1.1h.9m-2.1 .2h.9m-.7 .1h.9m2.3-14.9h.9m-1 .9h.9m-2.6 .2h.9m.5 2.5h.9m-1.4 16.6h.9m-.1 .1h.9m.8-19h.9m-1.5 19.6h.9m-1.7 .5h.9m.2 2.2h.9m1.4-.2h.9m-2.1 .1h.9m-.1 .4h.9m1.9-27.9h.9m-1.4 1.3h.9m-1.4 .4h.9m-1.8 1.3h.9m.3 24.7h.9m-.7 .2h.9m1.4-27.7h.9m-1.4 .6h.9m-.9 .6h.9m-1 25.9h.9m.6-27.8h.9m-.1 1.2h.9m-1.1 .6h.9m-.8 26.7h.9m1.4-28.7h.9m-2.3 .2h.9m.1 0h.9m-.5 1.3h.9m-1.1 1.2h.9m-.9 27h.9m-1.7 1.6h.9m.7-29.3h.9m-.6 .8h.9m-.9 .3h.9m-.6 .3h.9m-.2 .6h.9m-1.8 .3h.9m-.5 25.8h.9m.6-.5h.9m-.8 .7h.9m-.5 1h.9m.9-26.8h.9m-.1 0h.9m-1.9 .1h.9m-1.1 24.7h.9m.5 1.4h.9m-2.2 .4h.9m-.3 .3h.9m1.8-27.2h.9m-2.2 .5h.9m-.4 .6h.9m-.4 23.4h.9m-1.7 .1h.9m-1.6 .4h.9m-.3 .5h.9m0 .5h.9m-2.4 1.3h.9m.7 .1h.9m-.4-26.8h.9m-.7 1.5h.9m.3 .8h.9m-1.7 21.6h.9m-1.1 1.1h.9m1.5-2.7h.9m-.3 1h.9m-.8 .3h.9m.8-23.7h.9m-2.1 .4h.9m.3 1.4h.9m-.9 1.1h.9m-.4 .8h.9m-2.6 .7h.9m-.4 .4h.9m-1.1 .1h.9m.1 15.3h.9m-.6 1.7h.9m-.5-22.8h.9m-.5 2.8h.9m.3 .4h.9m-.9 1.4h.9m-1.2 1.3h.9m-.9 .8h.9m-.9 8.3h.9m-.8 5.6h.9m-2.1 .4h.9m-.7 .6h.9m-.6 2.2h.9m-1.6 0h.9m1.2-19.6h.9m-1 .3h.9m-.5 .6h.9m.3 .7h.9m-1.4 8.4h.9m-1 1.4h.9m-.9 .4h.9m-.3 1.1h.9m-1.6 1.2h.9m-.8 1h.9m-.5 .6h.9m-.7 .3h.9m-1.5 1.6h.9m.5-16.7h.9m.4 .9h.9m-1 .3h.9m-2.4 .7h.9m.2 .6h.9m-.5 0h.9m-.7 1.2h.9m-2.6 .8h.9m.7 1.7h.9m-.9 .6h.9m-1.3 .1h.9m-.9 .3h.9m-.5 1.5h.9m-1.1 0h.9m-1.2 1.2h.9m-.4 .2h.9m-1.2 2.5h.9m-1.4 .4h.9m-1.1 1h.9m-1.5 .5h.9m-.8 .7h.9m1.1-12.8h.9m-.9 .3h.9m-.4 .8h.9m-1.7 1.2h.9m1 1.3h.9m-2.2 .7h.9m.1 .4h.9m-1.9 2.3h.9m-1.1 0h.9m-.4 .5h.9m-1.8 .5h.9m2.3-3.1h.9m-2 .6h.9m-.6 .3h.9m1-1h.9m.1 1.1h.9m-.8 .4h.9m-2 .6h.9m1-3.9h.9m-1.1 .6h.9m-.7 .6h.9" stroke="#c4e0ec" stroke-width="0.9" fill="none"/>
<path d="M593.4 315.4h.9m-.7 .2h.9m-.6 0h.9m-1.7 .8h.9m-.1 .5h.9m.1-13.7h.9m-.3 .2h.9m-1.6 0h.9m-.1 1h.9m-1 .2h.9m-2.1 .2h.9m-.6 .3h.9m.4 .1h.9m-1.9 .1h.9m-1.8 .1h.9m-.8 .4h.9m-.3 1.3h.9m-.1 .4h.9m-.5 1.3h.9m-1.4 .5h.9m-.7 .3h.9m-.6 0h.9m-1.6 .3h.9m-1.2 1.2h.9m-1.2 .5h.9m-.3 .2h.9m-.6 .6h.9m-.6 1.8h.9m-2.5 .1h.9m-.4 0h.9m-.3 .1h.9m-.3 .1h.9m-1.1 .5h.9m-1.5 0h.9m-1 .2h.9m-.7 .1h.9m-1.9 .1h.9m-.1 .2h.9m-1 0h.9m-1 .4h.9m-1.1 .2h.9m0 .1h.9m-2.3 1.4h.9m2.9-16.1h.9m-1.1 .9h.9m-1.9 .1h.9m.1 .1h.9m-1 .1h.9m-1.9 1h.9m-1 .1h.9m-1.4 4.8h.9m-.7 2.6h.9m-.5 .1h.9m-1.3 .7h.9m-.4 .4h.9m-1.3 0h.9m-.5 .1h.9m-.9 .8h.9m-1.6 .9h.9m.9 2.1h.9m-.8 .4h.9m-1.3 .2h.9m-2.2 .1h.9m2.8-19.3h.9m-1.1 1.2h.9m-.7 .3h.9m-2.2 .1h.9m-1.1 2.4h.9m-1.1 .1h.9m-1.1 14.7h.9m.6 2.7h.9m-1 0h.9m-1.9 0h.9m.5 1.6h.9m-.7-23.8h.9m-.6 .7h.9m-.4 .1h.9m-1.3 .4h.9m-.5 .5h.9m-.1 .2h.9m-2.5 1h.9m-.3 19h.9m-.6 .4h.9m-.1 1.2h.9m.3-24.5h.9m0 .8h.9m-1.2 .5h.9m-1.3 .6h.9m-1.6 .1h.9m-.9 .7h.9m.6 21.2h.9m-1.9 .1h.9m-.9 .7h.9m.9-24.2h.9m-.3 .4h.9m-.8 0h.9m-1.3 .2h.9m-1.4 .5h.9m-.7 .2h.9m-1.3 .1h.9m.5 .4h.9m-1.6 22.9h.9m.4-24.3h.9m-.9 1.2h.9m0 .8h.9m-1.7 22h.9m-1.2 .6h.9m0 0h.9m-1 0h.9m-1.1 .1h.9m-1.2 .2h.9m0 .1h.9m-.4 .9h.9m.1-23.7h.9m-.2 .1h.9m-1.1 20.9h.9m-2.1 1.5h.9m-1 .6h.9m2.7-24.2h.9m-1.4 .3h.9m-1.2 .2h.9m-1.3 1.4h.9m-1.2 .1h.9m.8 .5h.9m-1.3 .1h.9m-.8 19.6h.9m-1.7 .2h.9m-.5 0h.9m-.6 .9h.9m-.7 .2h.9m-.6 .1h.9m-2.7 .1h.9m2-23.7h.9m-1.9 .2h.9m-.2 .4h.9m-1.2 .1h.9m-.6 .2h.9m-1.2 1.3h.9m.1 .9h.9m-.8 1.1h.9m-2.2 17.9h.9m-1 .7h.9m1.3-20.7h.9m-.8 .6h.9m-.4 .2h.9m-.6 .2h.9m-.9 .9h.9m-.4 .1h.9m-2.3 .3h.9m-.9 1h.9m-.1 2.3h.9m-1.2 13.4h.9m-1.5 .2h.9m-.3 .8h.9m.2 1.2h.9m0-21h.9m.1 .7h.9m-1 0h.9m-.8 .2h.9m-.9 .3h.9m-2.4 .3h.9m-1.2 .3h.9m-.3 .8h.9m-1.3 .3h.9m.6 .1h.9m-1.6 0h.9m-1.6 .2h.9m-.4 .8h.9m-1.6 .1h.9m-.1 .2h.9m.1 .3h.9m-1.1 1.9h.9m-1.4 1h.9m-1.1 0h.9m-.8 10.8h.9m-.7 .5h.9m-1.5 0h.9m.3 .1h.9m-2.8 .1h.9m.8 .7h.9m-1.2 .1h.9m-2.3 .5h.9m-.9 .5h.9m1.1-18.7h.9m.5 2h.9m-1 .2h.9m-1 .1h.9m-1.6 .8h.9m-.1 .3h.9m-1.2 .1h.9m-1.1 0h.9m-.3 .3h.9m-1.9 0h.9m-.4 .3h.9m-1.8 .3h.9m.4 .6h.9m-.9 .6h.9m-1 .4h.9m-.5 .2h.9m-.9 .3h.9m-1 1.1h.9m-1.2 0h.9m-.8 .6h.9m-.9 .1h.9m-.6 .3h.9m-1.3 .9h.9m-.7 .8h.9m-1.2 0h.9m-.1 5.2h.9m-1.6 .7h.9m-.2 .1h.9m-1 .2h.9m1.2-15.9h.9m-1.7 2h.9m-1.4 .1h.9m.3 .1h.9m-1.9 .6h.9m-.5 .5h.9m-2.1 .1h.9m1 .3h.9m-2.5 1h.9m.2 .3h.9m-.4 .3h.9m-1.7 .3h.9m-1.4 .1h.9m-.8 .7h.9m-.3 .5h.9m-2.1 3h.9m-.8 .1h.9m-.9 .5h.9m.7 .5h.9m-.9 0h.9m-1.5 .6h.9m-.5 .1h.9m-1.1 .2h.9m-1.2 .1h.9m-.1 .4h.9m-2 .7h.9m-1.4 .3h.9m-.3 0h.9m-1.2 .2h.9m-1.5 .6h.9m1 .6h.9m-.2-14.3h.9m-.8 .5h.9m-.4 .5h.9m-1.9 1.4h.9m.4 .4h.9m-2.4 .1h.9m-.7 .1h.9m.7 .2h.9m-2.6 .2h.9m-.3 .1h.9m-.8 .6h.9m-.3 .6h.9m-.6 0h.9m-1.3 .2h.9m-1 .6h.9m-1.4 .5h.9m-.2 .1h.9m-2.3 .1h.9m-.5 0h.9m.6 .1h.9m-2.5 .2h.9m-1.2 .7h.9m1 .5h.9m-.9 .6h.9m-2.1 1.9h.9m-.2 .2h.9m-1 .6h.9m-.3 0h.9m-2.4 .1h.9m0 .6h.9m-1.3 1.5h.9m1.2-11.9h.9m-1.5 .1h.9m-.3 .2h.9m-1.1 .2h.9m-.2 .8h.9m-.9 1.1h.9m-1.8 .4h.9m.1 1.2h.9m-1.7 .6h.9m0 .5h.9m-1.5 .9h.9m-.2 .1h.9m-.3-2.3h.9" stroke="#f3ecb0" stroke-width="0.9" fill="none"/>
<path d="M597.4 303.5h.9m-.6 1.6h.9m-2.2 0h.9m-.5 .1h.9m-1.6 .2h.9m-.3 .3h.9m-.5 .1h.9m-.1 .6h.9m-2.7 0h.9m.6 .1h.9m-.9 1h.9m-1.9 .4h.9m-1.3 .2h.9m-.5 0h.9m-1.1 .2h.9m.1 .5h.9m-.4 .3h.9m-.9 .2h.9m-1.4 .4h.9m-2.3 .5h.9m.9 .4h.9m-.8 0h.9m-1.3 .5h.9m-1 4h.9m-1.3 .2h.9m1.5-15.3h.9m-1 .3h.9m-1 .4h.9m-.8 0h.9m-.6 .9h.9m-1.4 .1h.9m-1.2 .9h.9m-1.4 .1h.9m-.3 0h.9m-.7 0h.9m-.8 .1h.9m-1.2 .5h.9m-.4 .6h.9m-.5 .2h.9m-2.6 .1h.9m-.2 .2h.9m-.5 .3h.9m-1.7 .5h.9m-.4 .1h.9m-1.8 2h.9m-.1 2.8h.9m-.9 .7h.9m-1 .5h.9m-.7 .4h.9m0 .7h.9m-2.3 .3h.9m-.8 .3h.9m-1.4 .8h.9m-.9 1h.9m0 .5h.9m-1.3 1.4h.9m-.4 1.1h.9m-1.6 0h.9m.4 .1h.9m-2.4 0h.9m.6 .2h.9m.9-19h.9m-2.2 .1h.9m.3 0h.9m-1.7 0h.9m-.5 .2h.9m-1 .4h.9m-1.2 1.1h.9m-1.1 1.1h.9m-.3 .1h.9m-.9 .8h.9m-1.4 .4h.9m-1.3 .7h.9m.4 14.1h.9m-.4 .1h.9m-1 .3h.9m-2.3 0h.9m.4 .3h.9m.9-19.7h.9m-.4 0h.9m-2.4 0h.9m-.9 1.5h.9m.1 .1h.9m-.7 0h.9m-1.9 1.1h.9m-.6 .1h.9m-1.8 .7h.9m-.1 .1h.9m-.7 16.5h.9m1.4-19.8h.9m-.9 .1h.9m-.7 0h.9m-1.7 .3h.9m-.2 .1h.9m-1.5 0h.9m-1.4 1h.9m0 18.4h.9m-.8 0h.9m-1 .9h.9m.8-20.1h.9m-1.6 0h.9m-.1 .2h.9m-1.2 .3h.9m-.2 .1h.9m-.4 .8h.9m-2 .2h.9m-.2 0h.9m-2.1 .1h.9m.3 0h.9m-2.3 18.4h.9m-.1 .4h.9m2.1-19.5h.9m-1.9 .1h.9m-.3 .4h.9m-1.3 .3h.9m-.7 .3h.9m-1 .2h.9m-.4 0h.9m-2.4 .2h.9m.3 .3h.9m-1.1 16.6h.9m-1.3 .9h.9m1-18.4h.9m-.1 .1h.9m-1.2 .1h.9m-.9 0h.9m-2.1 1h.9m-.4 .2h.9m-1.1 0h.9m-.3 0h.9m-.5 .2h.9m-.7 .3h.9m-.8 .1h.9m-1.4 .2h.9m-.2 .1h.9m-1.4 .2h.9m-.6 .4h.9m-.6 0h.9m-2.1 .2h.9m.3 0h.9m-2.8 .5h.9m-.3 1.1h.9m.3 .5h.9m-1.7 .4h.9m-.7 .3h.9m-1.1 .4h.9m-.1 .2h.9m-1.5 .1h.9m-.3 .3h.9m-1.6 .5h.9m-.3 .1h.9m-1.5 9.9h.9m1.8-16.4h.9m-.8 .1h.9m-1.1 0h.9m-1.8 .1h.9m-.8 0h.9m-1.7 .9h.9m-.6 .4h.9m-1.3 .3h.9m-.4 1h.9m.1 .2h.9m-1.2 .1h.9m-1.4 .7h.9m-1.4 0h.9m.5 .7h.9m-.9 .2h.9m-2 0h.9m-.1 .4h.9m-2.2 .2h.9m1 0h.9m-2.8 .5h.9m-.9 .7h.9m.3 .3h.9m-1.6 0h.9m.1 .1h.9m-1.9 .4h.9m.3 .1h.9m-1.9 1.1h.9m-.8 .1h.9m0 .1h.9m-1.1 .2h.9m-.7 6.7h.9m-2.1 1.1h.9m-.6 0h.9m-.5 .1h.9m.9-15.8h.9m-1.3 .5h.9m-.5 .3h.9m-1.8 .2h.9m-.9 .1h.9m-.6 .1h.9m-.6 .3h.9m-.9 .8h.9m-.1 0h.9m-1.9 .6h.9m-1.2 .1h.9m-.9 .1h.9m-.5 .4h.9m-.7 .5h.9m-1.3 .1h.9m.4 0h.9m-1.9 0h.9m-1.3 .5h.9m-.3 .3h.9m-.1 .8h.9m-2.5 .6h.9m.3 .4h.9m-1.1 .3h.9m-1.6 .2h.9m-1.1 .1h.9m-.1 .1h.9m-1.7 .2h.9m.1 1.3h.9m-1 .4h.9m-1.7 .1h.9m.6 .7h.9m-1.3 .4h.9m-.8 .5h.9m-.7 .6h.9m-1.1 .3h.9m-.9 .3h.9m-1.2 .4h.9m-.5 0h.9m-1.7 .6h.9m-1.1 .5h.9m-.1 0h.9m-1 .2h.9m-2.1 .1h.9m.3 .1h.9m-.4 .7h.9m-.7-11.5h.9m-.5 .6h.9m.6 .1h.9m-1.4 .2h.9m-.9 .4h.9m-1.3 .2h.9m-1.8 .4h.9m.7 .1h.9m-1.7 .3h.9m-1.5 0h.9m.7 .4h.9m-1.1 .6h.9m-.8 .2h.9m-1.1 0h.9m-2.1 .3h.9m.2 0h.9m-1.2 .2h.9m-.8 .7h.9m-1.5 .2h.9m-1 .3h.9m-1.5 .4h.9m0 1.2h.9m-.2 .1h.9m-1.1 .4h.9m-2.1 .2h.9m-1 .1h.9m-.9 .5h.9m0 .2h.9m-.3 .2h.9m-2.5 .2h.9m0 .5h.9m-1.3 0h.9m.3 .4h.9m-1.9 .1h.9m-.2 0h.9m-1.9 .2h.9m-.5 .4h.9m-1 1.2h.9m-1.5 .1h.9m1.2-9.1h.9m-.1 .3h.9m-1.5 .3h.9m-.6 .4h.9m-1.6 .3h.9m-.3 1h.9m-.6 1.1h.9m-1.6 .1h.9m-.1 .2h.9m-.6 .2h.9m-1.8 .5h.9m.3 .4h.9m-2.5 0h.9m-.7 .2h.9m.2 .6h.9m-.7 .4h.9m-.7 .2h.9m-1.4 0h.9m-1.4 .1h.9m-.6 .3h.9m-1.9 1h.9m1.6-2.8h.9m-1.3 .8h.9m0 .1h.9" stroke="#f8c868" stroke-width="0.9" fill="none"/>
<path d="M599.1 305.2h.9m-.3 .8h.9m-1.1 0h.9m-1.6 .1h.9m-1.3 .2h.9m.6 .1h.9m-2.7 .4h.9m0 .3h.9m-1.4 .1h.9m-.8 .2h.9m.3 .1h.9m-1.6 .1h.9m-1.9 .1h.9m.1 .1h.9m-2 .1h.9m.9 0h.9m-1.3 .5h.9m-.5 .1h.9m-1.7 .1h.9m-.6 0h.9m-1.7 .1h.9m-.3 .3h.9m-.8 0h.9m-1.3 .2h.9m-1.4 .1h.9m-.3 0h.9m-1.6 .2h.9m.8 0h.9m-1.3 .3h.9m-1.1 0h.9m-1.7 .2h.9m.4 1.5h.9m-1.3 0h.9m-.6 .1h.9m-1.4 1.6h.9m-.5 .1h.9m-.8 .4h.9m-1.1 .4h.9m-1 .7h.9m-.7 .2h.9m-1 .5h.9m-.8 .6h.9m-.8 .4h.9m1-13.2h.9m-1.3 .2h.9m-.3 .6h.9m-2 .1h.9m-.5 .2h.9m-1.4 .1h.9m.1 .2h.9m-.7 .1h.9m-2 .3h.9m-.6 .1h.9m-1.7 .2h.9m.4 0h.9m-1.5 .1h.9m-1.5 .1h.9m-.2 .3h.9m-.8 0h.9m-1.3 .2h.9m-.4 .7h.9m-1.2 .2h.9m-1.6 .3h.9m-.8 .1h.9m-.3 .1h.9m-.6 0h.9m-.3 .1h.9m-1.8 .2h.9m-1.3 0h.9m0 .1h.9m-1.5 0h.9m-1.1 .5h.9m-1.1 .1h.9m.5 0h.9m-1.6 .1h.9m-.4 0h.9m-1.7 0h.9m-.5 0h.9m-.6 .2h.9m-.7 .1h.9m-1.4 .2h.9m-2.1 .3h.9m-.5 0h.9m-.3 .2h.9m-1.6 .2h.9m.5 .1h.9m-.7 .1h.9m-1.7 .1h.9m-1.5 0h.9m-.9 .1h.9m-.7 0h.9m-.4 .4h.9m-.6 0h.9m-.8 .3h.9m-1.1 .2h.9m-1.8 0h.9m-.6 0h.9m-.7 .1h.9m-.8 .4h.9m-1.9 .1h.9m-.7 .1h.9m-.7 .3h.9m-1.2 .2h.9m.4 .2h.9m-1.3 .3h.9m-1.6 0h.9m.4 .1h.9m-1.9 0h.9m-1.5 .6h.9m.9 .2h.9m-1.8 .1h.9m-1 .2h.9m-1.5 1h.9m-.7 0h.9m-.6 .1h.9m-1.5 0h.9m-.5 .1h.9m-1.2 .1h.9m-.8 .2h.9m-.4 0h.9m-1.7 .1h.9m-.2 .1h.9m-1.7 .2h.9m-.6 0h.9m-.4 .1h.9m-1.7 .1h.9m-.5 .5h.9m-1 .1h.9m-.5 .3h.9m-.4 .6h.9m-2 0h.9m2.1-15.2h.9m-.6 .5h.9m-1.3 .4h.9m-1 .1h.9m-1.5 .3h.9m.2 0h.9m-.5 .1h.9m-1.2 .1h.9m-1.7 0h.9m-.3 .4h.9m-1.6 .1h.9m-.1 0h.9m-.4 .1h.9m-2.6 .1h.9m-.6 0h.9m0 0h.9m-1.1 .3h.9m-1.4 .2h.9m-.7 0h.9m-.3 .2h.9m-1.5 0h.9m-1.5 .1h.9m.1 0h.9m-.4 .1h.9m-1.4 .2h.9m-.7 .3h.9m-2.1 0h.9m.4 .3h.9m-1.2 0h.9m-1.6 .2h.9m-1.5 .1h.9m.8 .1h.9m-1.8 0h.9m-1.5 .3h.9m-.7 0h.9m-1.2 0h.9m.3 .1h.9m-2.2 .1h.9m0 .2h.9m-.8 .1h.9m-1.3 .2h.9m-1.3 .2h.9m-.7 .1h.9m-.9 .6h.9m-1.2 1h.9m-.3 .3h.9m-1.6 0h.9m.3 .1h.9m-1.3 .1h.9m-1.3 0h.9m.6 0h.9m-2.3 .4h.9m-.2 .3h.9m-.6 0h.9m-2.1 .1h.9m-.5 0h.9m-.3 .2h.9m-.4 0h.9m-1 .1h.9m-1.6 .2h.9m-1.7 .2h.9m.1 .1h.9m-.7 0h.9m-2 .5h.9m-.7 .7h.9m-.5 0h.9m-.8 4.3h.9m-1.7 .2h.9m-.9 0h.9m-.4 .6h.9m-.7 0h.9m-1.3 .2h.9m-1.3 0h.9m-.4 .1h.9m.5-17h.9m-.2 0h.9m-.4 0h.9m-1 0h.9m-2 .1h.9m-.1 .1h.9m.2 .1h.9m-2.5 .3h.9m-1 0h.9m-.3 .2h.9m-.8 .1h.9m-.9 .3h.9m-.8 .2h.9m-1 .2h.9m-1.3 0h.9m-.9 .1h.9m.3 0h.9m-1.2 .1h.9m-.6 .1h.9m-2.2 .1h.9m.6 .1h.9m-2.7 .3h.9m-.7 .1h.9m-1.2 0h.9m-.9 .1h.9m.9 0h.9m-.9 .3h.9m-1.4 .1h.9m-.9 .1h.9m-1 .4h.9m-.3 .1h.9m-1.6 0h.9m-1.7 6.5h.9m-.9 .1h.9m0 .1h.9m-1.6 .1h.9m-.2 .2h.9m-2.1 6.2h.9m.5 .3h.9m-.8 .1h.9m-.9 0h.9m-1.7 0h.9m.3 .5h.9m-.4-16.9h.9m-.6 .1h.9m-1.4 .4h.9m-.3 .5h.9m-1.2 .1h.9m-1.4 .6h.9m-.1 0h.9m-1.2 .2h.9m.1 .1h.9m-2.4 .2h.9m-.2 0h.9m.3 .1h.9m-2.4 .4h.9m-1.1 .1h.9m.1 0h.9m-2 0h.9m.9 .1h.9m-1.5 .1h.9m-1.6 .1h.9m0 .4h.9m-1.2 .3h.9m-1 .9h.9m-.5 0h.9m-.9 0h.9m-.6 .3h.9m-1.1 .4h.9m-1.2 .1h.9m-.3 .1h.9m-1.8 .2h.9m-.3 0h.9m-.7 .4h.9m-1.4 .2h.9m-1.1 0h.9m-1 .2h.9m-.7 .1h.9m-.9 .1h.9m-.2 0h.9m-1.2 .1h.9m-1.5 .9h.9m-.5 0h.9m-.5 .1h.9m-1.5 .1h.9m-1.9 .3h.9m0 .2h.9m-1.6 .1h.9m-1 .1h.9m-.7 .1h.9m-.5 .5h.9m-1.7 .2h.9m-.4 .2h.9m-1.3 .1h.9m.1 7.2h.9m-.8 .5h.9m1-16.5h.9m-.4 .1h.9m-2.3 0h.9m-.6 .5h.9m-1.1 .4h.9m.1 0h.9m-.8 .3h.9m-.6 0h.9m-1.9 0h.9m-1.2 .2h.9m-.6 0h.9m-1.3 .2h.9m-1.2 .7h.9m-.7 .1h.9m-.7 .1h.9m-1.3 0h.9m.1 0h.9m-1.1 0h.9m-1.2 .1h.9m.2 .1h.9m-1.2 .1h.9m-1.5 0h.9m-1.4 .3h.9m-.3 .1h.9m-1.8 .1h.9m.6 .6h.9m-2 .1h.9m.4 .1h.9m-.8 .3h.9m-1.1 .6h.9m-1.3 .1h.9m-1.4 .1h.9m-.3 0h.9m-1.4 0h.9m-.8 .1h.9m-.5 0h.9m-1.1 .3h.9m-1.8 .1h.9m.4 .5h.9m-2.4 .2h.9m-.9 .1h.9m.6 0h.9m-2.2 .4h.9m.7 .2h.9m-2.6 0h.9m-.4 .1h.9m-1.1 .1h.9m-.4 .1h.9m-1.8 .1h.9m-.9 .4h.9m-.5 0h.9m-.9 .5h.9m.6 .1h.9m-1.9 0h.9m-1.5 .1h.9m.2 .7h.9m-.4 .2h.9m-1.7 .1h.9m-.1 5.5h.9m-1.1 .5h.9m-.6-14.8h.9m-.9 0h.9m-.5 .4h.9m-.4 .1h.9m-1 3.6h.9m-1.6 .2h.9m-.6 1.2h.9m-.4 .3h.9m-1.2 .5h.9m-.6 .1h.9m-.6 .3h.9m-1.5 0h.9m-1 0h.9m-.1 .1h.9m-2.1 .1h.9m-.2 .1h.9m-.5 .1h.9m-1.9 0h.9m.4 .2h.9m-1.7 0h.9m-.3 .3h.9m-1.7 0h.9m-1.2 .9h.9m.6 .1h.9m-1.3 .2h.9m-.5 0h.9m-1.7 0h.9m-.9 .1h.9m-1.2 5.1h.9m-.2 .5h.9m-1.4 0h.9m.7-5.8h.9m-1.3 0h.9m-.9 .2h.9m-.4 .2h.9m-.1 .2h.9m-.3 .1h.9m-2.7 .1h.9m-.4 0h.9m.1 .2h.9m-2.2 .1h.9m-.5 .2h.9m-.2 0h.9m-.4 .1h.9m-1.1 .3h.9m-.9 .4h.9m-1.3 .3h.9m-1 .1h.9m-.9 .2h.9m-.5 .3h.9m-.8 .2h.9m-1.1 .1h.9m-.5 .4h.9m-1.4 .5h.9m-1.7 .2h.9m-.7 .1h.9m-.8 .6h.9m-1.6 .7h.9m.9-4.6h.9m-.1 1.3h.9m-1.1 0h.9m-.9 .7h.9m-.5 0h.9m-1.2 1h.9m-1.2 0h.9m-.9 .1h.9" stroke="#ef8a42" stroke-width="0.9" fill="none"/>
<path d="M601.2 314.1h.9m-1 .1h.9m-.7 0h.9m-1.2 .1h.9m0 .2h.9m-1.5 0h.9m-.5 0h.9m-1 .5h.9m-.9 .4h.9m-1.1 .3h.9m-.7 0h.9m-1.3 .1h.9m-.4 .1h.9m-1.2 .1h.9m-1 .2h.9m-.3 .1h.9m-1.5 .3h.9m-.3 .4h.9m.3-8.4h.9m-.7 .1h.9m-1.1 0h.9m-.1 .1h.9m-1.5 .2h.9m-.9 .1h.9m-1.1 .1h.9m-.2 .4h.9m-1.3 0h.9m-.9 .1h.9m-1.3 2.3h.9m-.3 .3h.9m-1.3 .1h.9m-1.1 .2h.9m-.8 0h.9m-.7 .1h.9m-1.4 .4h.9m.2 .4h.9m-1.2 0h.9m-2.3 0h.9m.4 0h.9m-1.3 .1h.9m-1.3 .1h.9m-.9 0h.9m.3 .3h.9m-1.6 .1h.9m-1.5 0h.9m-.5 .1h.9m-.6 0h.9m-1.7 0h.9m0 .2h.9m-2.1 .1h.9m.4 0h.9m-1.4 .2h.9m-1.3 .2h.9m-.6 .1h.9m-.5 .1h.9m-.9 0h.9m-.7 .3h.9m-1.8 0h.9m-1.1 .1h.9m.3 .1h.9m-2.3 .1h.9m.6 0h.9m-2.1 .1h.9m.2 .1h.9m-.6 .1h.9m-1.4 .1h.9m-2.1 0h.9m.8 0h.9m-1.7 0h.9m-1.3 .1h.9m-1.1 0h.9m-1 .1h.9m-.1 .1h.9m-.9 0h.9m-1.9 .1h.9m-.2 0h.9m-.3 .2h.9m-.6 .1h.9m-2.4 .2h.9m-1.1 0h.9m-.8 0h.9m0 .5h.9m-.1 .4h.9m-.1-13.9h.9m-.6 .1h.9m-1.6 .1h.9m-.6 .4h.9m-.8 0h.9m-.8 .2h.9m-1.4 .2h.9m-.2 .1h.9m-.2 0h.9m-1.7 0h.9m-1.5 .2h.9m-1.2 0h.9m0 0h.9m-.3 .1h.9m-2.2 .2h.9m-1.1 0h.9m.8 .1h.9m-1.1 .1h.9m-.5 .1h.9m-2 0h.9m-.3 .4h.9m-1.1 .1h.9m-1.8 .7h.9m-.2 0h.9m-1.4 .3h.9m-.6 .1h.9m.1 0h.9m-1.1 .1h.9m-2 0h.9m-.9 0h.9m-1 .3h.9m.6 .1h.9m-1.5 .2h.9m-2.1 0h.9m.4 .1h.9m-.9 .2h.9m-1.7 0h.9m-1 .1h.9m.2 .3h.9m-1 .1h.9m-1.5 0h.9m-1.5 .1h.9m-1 0h.9m-.7 0h.9m.3 0h.9m-1.1 .2h.9m-1.1 .2h.9m-1.5 .2h.9m-.7 0h.9m-.9 .2h.9m-1.1 0h.9m-.4 0h.9m-1.6 .3h.9m-.1 0h.9m-.8 .3h.9m-.4 0h.9m-2.7 .1h.9m.4 .3h.9m-1.8 0h.9m-.2 0h.9m-.8 1.2h.9m-2 .1h.9m.4 .1h.9m-.8 .4h.9m-2.3 .1h.9m-.2 .3h.9m-.4 .2h.9m-1.1 .1h.9m-.3 .1h.9m-.9 .1h.9m-2.3 .1h.9m.6 0h.9m-1.1 .3h.9m-2.3 0h.9m-.6 .2h.9m-.5 0h.9m-1.6 .4h.9m-.5 .2h.9m-1 1.4h.9m-.7 .1h.9m-1.2 .1h.9m-.4 .1h.9m-1.3 0h.9m-1 .2h.9m-1 .1h.9m-.8 .1h.9m-.9 .2h.9m-1.1 .1h.9m-.9 .1h.9m-.5 0h.9m-1.5 0h.9m.7 .2h.9m-1 .2h.9m-1.2 .1h.9m.4-11.5h.9m-.5 .1h.9m-1.3 .2h.9m-.6 .1h.9m-1.2 .4h.9m-1.3 0h.9m-1 .1h.9m0 .2h.9m-1.7 .1h.9m-.7 .1h.9m-.2 .1h.9m-1.5 .1h.9m-.6 .4h.9m-1.1 0h.9m-1.2 .4h.9m-.9 0h.9m-.7 .2h.9m-.9 0h.9m-1 .2h.9m-.6 .2h.9m-1.4 .2h.9m-.4 2.8h.9m-1.5 .1h.9m.7 .1h.9m-1.1 .1h.9m-1 .3h.9m-1.9 0h.9m-.5 .1h.9m-.2 0h.9m-2.1 .1h.9m0 0h.9m-1.5 .1h.9m-.7 .2h.9m.1 .1h.9m-1.7 0h.9m-.5 0h.9m-1.5 0h.9m-1 .3h.9m-.4 .1h.9m-.7 .1h.9m-1.8 0h.9m-1.3 4h.9m.8 .1h.9m-1 0h.9m-.8 .1h.9m-1.9 0h.9m0 .1h.9m-1.4 0h.9m-.2 0h.9m-1.8 0h.9m-1.6 .1h.9m.6 .1h.9m-1.1 0h.9m-1.4 0h.9m-1.5 .3h.9m1.6-6.5h.9m-1 .1h.9m-.8 .6h.9m-.9 .1h.9m-.5 .1h.9m-1.6 0h.9m-.3 .1h.9m-1.7 0h.9m.4 0h.9m-2 .2h.9m-1.3 .6h.9m.2 3.2h.9m-.9 0h.9m-1.3 .2h.9m-1.6 .1h.9m-.5 .1h.9m-.7 0h.9m-.3 .1h.9m-2.3 0h.9m-.6 0h.9m-1.1 0h.9m-.7 .2h.9m-.8 .1h.9m-.8 .1h.9m-1.2 .3h.9m-.8 .5h.9m2.1-5.9h.9m-1.3 .2h.9m-1.2 .2h.9m-1 .1h.9m-1.4 .1h.9m.3 .1h.9m-1.8 .3h.9m-1 .1h.9m.1 .1h.9m-.7 0h.9m-1.7 .2h.9m0 0h.9m-2 0h.9m.1 .1h.9m-1.9 .2h.9m-.7 .1h.9m-.7 0h.9m-.7 0h.9m-.1 .1h.9m-1.5 0h.9m-.3 .4h.9m-1 .4h.9m-1.2 .1h.9m-.5 .3h.9m-1 .1h.9m-1.4 .1h.9m-.6 .2h.9m-.5 .1h.9m-1.6 0h.9m-.8 .1h.9m-.6 .1h.9m-.7 0h.9m-1.1 .1h.9m-.6 0h.9m-2.4 .1h.9m-.7 0h.9m-1.1 .1h.9m.1 0h.9m-.7 .1h.9m-.6 .5h.9m-2.5 .1h.9m-.6 0h.9m-.6 0h.9m0 .1h.9m-1.6 0h.9m.7-3.8h.9m-1.3 .1h.9m-.4 .3h.9m-.9 .1h.9m-1 .4h.9m-1.3 .2h.9m-.9 .4h.9m-1.1 .3h.9m-.5 .1h.9m-.7 0h.9m-1.6 0h.9m-.6 .2h.9m-.8 0h.9m-.9 .2h.9m-1 0h.9m-.3 0h.9m-1.5 .1h.9m-1.1 .1h.9m-.4 .1h.9m-1.5 .2h.9" stroke="#d93a2a" stroke-width="0.9" fill="none"/>
<path d="M605 314.2h.9m0 .1h.9m-1.6 0h.9m-.5 .1h.9m-.6 .7h.9m-1.1 0h.9m-2.2 0h.9m-.5 .1h.9m-1 0h.9m.2 .1h.9m-1.4 0h.9m-1.6 0h.9m-1.3 0h.9m-.7 .2h.9m-.9 0h.9m-1.1 .1h.9m.2 0h.9m-.3 .1h.9m-1 0h.9m-1.9 0h.9m-.5 .1h.9m-.5 0h.9m-1.1 0h.9m-.4 .1h.9m-1.2 0h.9m-1.3 .1h.9m-1.1 0h.9m0 .1h.9m-1.4 0h.9m-1 .1h.9m-.3 .1h.9m-1 .4h.9m-1.4 .2h.9m.1-2.8h.9m-.3 0h.9m-.8 .4h.9m-1.5 0h.9m-.5 0h.9m-.1 .1h.9m-2.5 .1h.9m.5 0h.9m-2.2 .1h.9m-.8 0h.9m.5 .2h.9m-1.5 0h.9m0 .1h.9m-1.2 .2h.9m-1.6 0h.9m-1.3 .1h.9m-1.3 0h.9m-.4 .1h.9m-.5 .1h.9m-.4 0h.9m-1 0h.9m-1 .1h.9m-1.2 .1h.9m-1.5 .1h.9m.6 0h.9m-1.9 .1h.9m-1.2 0h.9m-.2 0h.9m-.6 .1h.9m-2 0h.9m-.6 .1h.9m-.3 0h.9m-1.8 .2h.9m.3 0h.9m-1.9 0h.9m-1.3 0h.9m-.5 0h.9m-.3 .1h.9m-.9 0h.9m-1.8 0h.9m-.5 0h.9m-1.6 0h.9m-.9 .1h.9m.4 0h.9m-1 .1h.9m-.4 .1h.9m-.8 0h.9m-2.5 0h.9m-.3 .1h.9m-1.2 0h.9m-1.2 0h.9m0 .3h.9m-.9 0h.9m-1.3 .1h.9m-.1 0h.9m-2.1 .1h.9m-1.2 0h.9m-.1 0h.9m-1.1 .2h.9m-.1 0h.9m-1.1 .1h.9m-1 .1h.9m-1.9 0h.9m1.6-3.7h.9m-1 0h.9m-.3 .3h.9m-.9 .1h.9m-1.9 0h.9m.6 0h.9m-.9 .2h.9m-1.5 0h.9m-.7 .1h.9m-1 .1h.9m-1.7 .1h.9m-1 0h.9m-1 0h.9m.5 0h.9m-1.4 .2h.9m-.7 0h.9m-1.3 0h.9m-.7 .1h.9m-1.1 0h.9m0 0h.9m-1.1 0h.9m-.6 0h.9m-2 .1h.9m-1.6 .1h.9m-.1 .1h.9m-1.6 0h.9m-1.1 .1h.9m.3 0h.9m-.2 .1h.9m-2.1 .1h.9m-1.3 .1h.9m-.4 .1h.9m-.9 0h.9m-1 0h.9m-1.3 .2h.9m-.5 0h.9m-1.4 .1h.9m-.2 0h.9m-1.1 .1h.9m-1.6 0h.9m-.2 .1h.9m-.3 .1h.9m-1.5 0h.9m-.1 0h.9m-1.7 .1h.9m-1.2 0h.9m-1.3 0h.9m1 0h.9m-1.6 .1h.9m-1.1 0h.9m-.6 0h.9m.4-1.9h.9m-.9 .1h.9m-1.2 .1h.9m-.7 0h.9m-1.3 .3h.9m-.5 .1h.9m-.4 0h.9m-1.8 0h.9m-.3 .1h.9m-1.1 .1h.9m-.4 0h.9m-1.3 .1h.9m-1.3 0h.9m-.9 .1h.9m-.1 0h.9m-1.3 .2h.9m-.5 .6h.9m-1.1 .1h.9m-1.5 .1h.9" stroke="#a8182a" stroke-width="0.9" fill="none"/>
<line x1="595.1" y1="277.8" x2="595.1" y2="354.9" stroke="#333" stroke-width="0.7"/>
<line x1="601.6" y1="277.8" x2="601.6" y2="354.9" stroke="#333" stroke-width="0.7"/>
<line x1="598.3" y1="277.8" x2="598.3" y2="354.9" stroke="#555" stroke-width="0.5" stroke-dasharray="1 0.8"/>
<line x1="553.4" y1="314.1" x2="643" y2="314.1" stroke="#999" stroke-width="1.1"/>
<line x1="553.4" y1="319.2" x2="643" y2="319.2" stroke="#999" stroke-width="0.7"/>
<line x1="553.4" y1="316.6" x2="643" y2="316.6" stroke="#555" stroke-width="0.5" stroke-dasharray="1 0.8"/>
<line x1="553.4" y1="277.8" x2="553.4" y2="354.9" stroke="#444" stroke-width="0.8"/>
<line x1="551.4" y1="296.78" x2="553.4" y2="296.78" stroke="#444" stroke-width="0.8"/>
<text x="550.6" y="299.28" font-size="7.1" text-anchor="end">4.0</text>
<line x1="551.4" y1="316.5" x2="553.4" y2="316.5" stroke="#444" stroke-width="0.8"/>
<text x="550.6" y="319" font-size="7.1" text-anchor="end">0.0</text>
<line x1="551.4" y1="336.22" x2="553.4" y2="336.22" stroke="#444" stroke-width="0.8"/>
<text x="550.6" y="338.72" font-size="7.1" text-anchor="end">-4.0</text>
<line x1="553.4" y1="354.9" x2="643" y2="354.9" stroke="#333" stroke-width="0.8"/>
<line x1="575.4" y1="354.9" x2="575.4" y2="356.9" stroke="#333" stroke-width="0.8"/>
<line x1="598.5" y1="354.9" x2="598.5" y2="356.9" stroke="#333" stroke-width="0.8"/>
<line x1="622" y1="354.9" x2="622" y2="356.9" stroke="#333" stroke-width="0.8"/>
<text x="575.4" y="364.1" font-size="7.1" text-anchor="middle">-4.0</text>
<text x="598.5" y="364.1" font-size="7.1" text-anchor="middle">0.0</text>
<text x="622" y="364.1" font-size="7.1" text-anchor="middle">4.0</text>
<text x="555.8" y="283.3" font-size="7.1">3.0%</text>
<text x="555.8" y="353.1" font-size="7.1">0.9%</text>
<text x="643.5" y="283.3" font-size="7.1" text-anchor="end" fill="#b01e28" font-weight="bold">44.3%</text>
<text x="645" y="353.1" font-size="7.1" text-anchor="end">12.8%</text>
<text x="642.9" y="308.7" font-size="7.1">Density</text>
<defs><linearGradient id="cb650" x1="0" y1="0" x2="0" y2="1"><stop offset="0" stop-color="#c0282a"/><stop offset="0.3" stop-color="#f08a40"/><stop offset="0.55" stop-color="#f8ecb0"/><stop offset="0.8" stop-color="#9cc4e2"/><stop offset="1" stop-color="#3f62b8"/></linearGradient></defs>
<rect x="650.7" y="313" width="3.2" height="12" fill="url(#cb650)"/>
<line x1="657.5" y1="325" x2="657.5" y2="318" stroke="#111" stroke-width="0.8"/>
<path d="M655.9000000000001 319 L657.5000000000001 315.8 L659.1000000000001 319 Z" fill="#111"/>
<text x="598.1" y="371.8" font-size="7.1" text-anchor="middle">WT vs <tspan font-style="italic">ZIC2<tspan font-size="4.5" dy="-2.5">-/-</tspan><tspan dy="2.5">ZIC3</tspan><tspan font-size="4.5" dy="-2.5">-/-</tspan></tspan></text>
<text x="598.1" y="380" font-size="7.1" text-anchor="middle">BRG1 CUT&amp;Tag log<tspan font-size="4.5" dy="1.5">2</tspan><tspan dy="-1.5"> ratio</tspan></text>
<text x="525.4" y="318.3" font-size="7.1" text-anchor="middle" transform="rotate(-90 525.4 318.3)">TetON <tspan font-style="italic">ZIC2</tspan> DOX <tspan font-style="italic">vs</tspan> Veh</text>
<text x="532.8" y="318.3" font-size="7.1" text-anchor="middle" transform="rotate(-90 532.8 318.3)">BRG1 log<tspan font-size="4.5" dy="1.5">2</tspan><tspan dy="-1.5">ratio</tspan></text>
<text x="2" y="178.5" font-size="9.5" fill="#000" font-weight="bold">g</text>
<line x1="46.1" y1="182.3" x2="46.1" y2="245.9" stroke="#b0b0b0" stroke-width="1.3"/>
<line x1="41.5" y1="187.5" x2="46.1" y2="187.5" stroke="#b0b0b0" stroke-width="1.3"/>
<text x="37.9" y="190" font-size="7.1" text-anchor="end">15</text>
<line x1="41.5" y1="207" x2="46.1" y2="207" stroke="#b0b0b0" stroke-width="1.3"/>
<text x="37.9" y="209.5" font-size="7.1" text-anchor="end">10</text>
<line x1="41.5" y1="226.5" x2="46.1" y2="226.5" stroke="#b0b0b0" stroke-width="1.3"/>
<text x="37.9" y="229" font-size="7.1" text-anchor="end">5</text>
<line x1="46.1" y1="245.9" x2="118.6" y2="245.9" stroke="#333" stroke-width="0.8"/>
<line x1="46.1" y1="245.9" x2="46.1" y2="247.9" stroke="#333" stroke-width="0.8"/>
<line x1="82.5" y1="245.9" x2="82.5" y2="247.9" stroke="#333" stroke-width="0.8"/>
<line x1="118.6" y1="245.9" x2="118.6" y2="247.9" stroke="#333" stroke-width="0.8"/>
<line x1="82.5" y1="182.5" x2="82.5" y2="245.9" stroke="#333" stroke-width="0.6" stroke-dasharray="1.5 1"/>
<path d="M46.1 241.3 47 241.3 47.9 241.3 48.8 241.3 49.7 241.3 50.6 241.3 51.5 241.3 52.4 241.3 53.4 241.3 54.3 241.3 55.2 241.3 56.1 241.3 57 241.3 57.9 241.3 58.8 241.3 59.7 241.3 60.6 241.3 61.5 241.3 62.4 241.3 63.3 241.3 64.2 241.3 65.1 241.3 66 241.3 66.9 241.3 67.8 241.3 68.8 241.3 69.7 241.3 70.6 241.3 71.5 241.3 72.4 241.3 73.3 241.3 74.2 241.3 75.1 241.3 76 241.3 76.9 241.3 77.8 241.3 78.7 241.3 79.6 241.3 80.5 241.3 81.4 241.3 82.3 241.3 83.3 241.3 84.2 241.3 85.1 241.3 86 241.3 86.9 241.3 87.8 241.3 88.7 241.3 89.6 241.3 90.5 241.3 91.4 241.3 92.3 241.3 93.2 241.3 94.1 241.3 95 241.3 95.9 241.3 96.8 241.3 97.8 241.3 98.7 241.3 99.6 241.3 100.5 241.3 101.4 241.3 102.3 241.3 103.2 241.3 104.1 241.3 105 241.3 105.9 241.3 106.8 241.3 107.7 241.3 108.6 241.3 109.5 241.3 110.4 241.3 111.3 241.3 112.3 241.3 113.2 241.3 114.1 241.3 115 241.3 115.9 241.3 116.8 241.3 117.7 241.3 118.6 241.3" fill="none" stroke="#4a72c8" stroke-width="0.9"/>
<path d="M46.1 238.2 47 238.1 47.9 238.1 48.8 238 49.7 238 50.6 237.9 51.5 237.8 52.4 237.7 53.4 237.6 54.3 237.5 55.2 237.4 56.1 237.3 57 237.2 57.9 237 58.8 236.9 59.7 236.7 60.6 236.5 61.5 236.3 62.4 236.1 63.3 235.9 64.2 235.6 65.1 235.3 66 234.9 66.9 234.5 67.8 234.1 68.8 233.6 69.7 233.1 70.6 232.4 71.5 231.7 72.4 230.9 73.3 230 74.2 229 75.1 227.9 76 226.6 76.9 225.2 77.8 223.7 78.7 222.1 79.6 220.6 80.5 219.2 81.4 218.1 82.3 217.5 83.3 217.8 84.2 218.8 85.1 220.1 86 221.6 86.9 223.2 87.8 224.7 88.7 226.2 89.6 227.5 90.5 228.7 91.4 229.8 92.3 230.8 93.2 231.6 94.1 232.3 95 233 95.9 233.6 96.8 234.1 97.8 234.6 98.7 235 99.6 235.3 100.5 235.7 101.4 236 102.3 236.2 103.2 236.5 104.1 236.7 105 236.9 105.9 237.1 106.8 237.3 107.7 237.4 108.6 237.5 109.5 237.7 110.4 237.8 111.3 237.9 112.3 238 113.2 238.1 114.1 238.2 115 238.3 115.9 238.4 116.8 238.4 117.7 238.5 118.6 238.6" fill="none" stroke="#8f7d3a" stroke-width="0.9"/>
<path d="M46.1 233.9 47 233.8 47.9 233.7 48.8 233.5 49.7 233.4 50.6 233.3 51.5 233.1 52.4 232.9 53.4 232.7 54.3 232.5 55.2 232.3 56.1 232.1 57 231.8 57.9 231.5 58.8 231.2 59.7 230.9 60.6 230.5 61.5 230.1 62.4 229.6 63.3 229.1 64.2 228.5 65.1 227.9 66 227.2 66.9 226.3 67.8 225.4 68.8 224.4 69.7 223.2 70.6 221.9 71.5 220.3 72.4 218.6 73.3 216.5 74.2 214.2 75.1 211.6 76 208.6 76.9 205.2 77.8 201.5 78.7 197.6 79.6 193.7 80.5 190 81.4 187.1 82.3 185.6 83.3 186.4 84.2 188.9 85.1 192.4 86 196.3 86.9 200.3 87.8 204.1 88.7 207.6 89.6 210.7 90.5 213.5 91.4 215.9 92.3 218 93.2 219.9 94.1 221.5 95 222.9 95.9 224.2 96.8 225.2 97.8 226.2 98.7 227.1 99.6 227.8 100.5 228.5 101.4 229.1 102.3 229.7 103.2 230.1 104.1 230.6 105 231 105.9 231.4 106.8 231.7 107.7 232 108.6 232.3 109.5 232.5 110.4 232.8 111.3 233 112.3 233.2 113.2 233.4 114.1 233.5 115 233.7 115.9 233.9 116.8 234 117.7 234.1 118.6 234.3" fill="none" stroke="#e0852f" stroke-width="0.9"/>
<path d="M46.1 233.5 47 233.4 47.9 233.3 48.8 233.2 49.7 233 50.6 232.9 51.5 232.7 52.4 232.5 53.4 232.3 54.3 232.1 55.2 231.9 56.1 231.7 57 231.4 57.9 231.1 58.8 230.8 59.7 230.4 60.6 230 61.5 229.6 62.4 229.1 63.3 228.6 64.2 228 65.1 227.4 66 226.7 66.9 225.8 67.8 224.9 68.8 223.8 69.7 222.6 70.6 221.3 71.5 219.7 72.4 217.9 73.3 215.9 74.2 213.5 75.1 210.8 76 207.8 76.9 204.4 77.8 200.6 78.7 196.6 79.6 192.6 80.5 188.9 81.4 185.9 82.3 184.4 83.3 185.3 84.2 187.8 85.1 191.4 86 195.3 86.9 199.4 87.8 203.2 88.7 206.8 89.6 209.9 90.5 212.8 91.4 215.2 92.3 217.4 93.2 219.3 94.1 220.9 95 222.3 95.9 223.6 96.8 224.7 97.8 225.7 98.7 226.6 99.6 227.3 100.5 228 101.4 228.6 102.3 229.2 103.2 229.7 104.1 230.1 105 230.5 105.9 230.9 106.8 231.3 107.7 231.6 108.6 231.9 109.5 232.1 110.4 232.4 111.3 232.6 112.3 232.8 113.2 233 114.1 233.1 115 233.3 115.9 233.5 116.8 233.6 117.7 233.7 118.6 233.9" fill="none" stroke="#b8312f" stroke-width="0.9"/>
<text x="98.7" y="186" font-size="7.1" fill="#4a72c8">0h</text>
<text x="98.7" y="194.6" font-size="7.1" fill="#8f7d3a">8h</text>
<text x="98.7" y="203" font-size="7.1" fill="#e0852f">24h</text>
<text x="98.7" y="211.4" font-size="7.1" fill="#b8312f">72h</text>
<text x="46.1" y="256.3" font-size="7.1" text-anchor="middle">-2000</text>
<text x="118.6" y="256.3" font-size="7.1" text-anchor="middle">+2000</text>
<text x="82.5" y="256.3" font-size="7.1" text-anchor="middle">Flag-ZIC2</text>
<text x="82.5" y="263.4" font-size="7.1" text-anchor="middle">peak centre</text>
<text x="21.2" y="219" font-size="7.1" text-anchor="middle" transform="rotate(-90 21.2 219)">Flag :: ZIC2 ChIP signal</text>
<text x="27.6" y="219" font-size="7.1" text-anchor="middle" transform="rotate(-90 27.6 219)">(RPGC)</text>
<line x1="174.6" y1="182.3" x2="174.6" y2="244.6" stroke="#555" stroke-width="0.8"/>
<line x1="170.6" y1="197.45" x2="174.6" y2="197.45" stroke="#555" stroke-width="0.8"/>
<text x="167.2" y="199.95" font-size="7.1" text-anchor="end">15</text>
<line x1="170.6" y1="214.3" x2="174.6" y2="214.3" stroke="#555" stroke-width="0.8"/>
<text x="167.2" y="216.8" font-size="7.1" text-anchor="end">10</text>
<line x1="170.6" y1="231.15" x2="174.6" y2="231.15" stroke="#555" stroke-width="0.8"/>
<text x="167.2" y="233.65" font-size="7.1" text-anchor="end">5</text>
<line x1="174.6" y1="244.6" x2="247.6" y2="244.6" stroke="#333" stroke-width="0.8"/>
<line x1="174.6" y1="244.6" x2="174.6" y2="246.6" stroke="#333" stroke-width="0.8"/>
<line x1="211.2" y1="244.6" x2="211.2" y2="246.6" stroke="#333" stroke-width="0.8"/>
<line x1="247.6" y1="244.6" x2="247.6" y2="246.6" stroke="#333" stroke-width="0.8"/>
<line x1="211.2" y1="182.5" x2="211.2" y2="244.6" stroke="#333" stroke-width="0.6" stroke-dasharray="1.5 1"/>
<path d="M174.6 241.3 175.5 241.2 176.4 241.1 177.3 241.1 178.2 241 179.2 241 180.1 240.9 181 240.8 181.9 240.7 182.8 240.6 183.7 240.5 184.6 240.4 185.5 240.3 186.5 240.1 187.4 240 188.3 239.8 189.2 239.7 190.1 239.5 191 239.3 191.9 239 192.8 238.8 193.8 238.5 194.7 238.2 195.6 237.8 196.5 237.4 197.4 237 198.3 236.5 199.2 236 200.2 235.4 201.1 234.7 202 234 202.9 233.1 203.8 232.2 204.7 231.3 205.6 230.2 206.5 229.1 207.4 228 208.4 227 209.3 226.1 210.2 225.4 211.1 225.1 212 225.3 212.9 225.9 213.8 226.8 214.8 227.8 215.7 228.9 216.6 230 217.5 231.1 218.4 232.1 219.3 233 220.2 233.9 221.1 234.7 222.1 235.3 223 236 223.9 236.5 224.8 237 225.7 237.5 226.6 237.9 227.5 238.3 228.4 238.6 229.3 238.9 230.3 239.1 231.2 239.4 232.1 239.6 233 239.8 233.9 240 234.8 240.2 235.7 240.3 236.6 240.5 237.6 240.6 238.5 240.7 239.4 240.8 240.3 241 241.2 241.1 242.1 241.1 243 241.2 243.9 241.3 244.9 241.4 245.8 241.5 246.7 241.5 247.6 241.6" fill="none" stroke="#4a72c8" stroke-width="0.9"/>
<path d="M174.6 240.2 175.5 240.2 176.4 240.1 177.3 240 178.2 239.9 179.2 239.8 180.1 239.7 181 239.6 181.9 239.4 182.8 239.3 183.7 239.2 184.6 239 185.5 238.8 186.5 238.6 187.4 238.4 188.3 238.2 189.2 237.9 190.1 237.6 191 237.3 191.9 236.9 192.8 236.5 193.8 236.1 194.7 235.6 195.6 235 196.5 234.4 197.4 233.7 198.3 232.8 199.2 231.9 200.2 230.8 201.1 229.6 202 228.2 202.9 226.6 203.8 224.8 204.7 222.7 205.6 220.3 206.5 217.8 207.4 215.1 208.4 212.3 209.3 209.8 210.2 207.9 211.1 206.9 212 207.6 212.9 209.3 213.8 211.8 214.8 214.5 215.7 217.2 216.6 219.8 217.5 222.2 218.4 224.4 219.3 226.3 220.2 228 221.1 229.4 222.1 230.7 223 231.8 223.9 232.8 224.8 233.6 225.7 234.4 226.6 235 227.5 235.6 228.4 236.1 229.3 236.6 230.3 237 231.2 237.4 232.1 237.7 233 238 233.9 238.3 234.8 238.6 235.7 238.8 236.6 239 237.6 239.2 238.5 239.4 239.4 239.5 240.3 239.7 241.2 239.8 242.1 240 243 240.1 243.9 240.2 244.9 240.3 245.8 240.4 246.7 240.5 247.6 240.6" fill="none" stroke="#8f7d3a" stroke-width="0.9"/>
<path d="M174.6 239.6 175.5 239.5 176.4 239.4 177.3 239.3 178.2 239.1 179.2 239 180.1 238.9 181 238.7 181.9 238.5 182.8 238.3 183.7 238.1 184.6 237.9 185.5 237.7 186.5 237.4 187.4 237.2 188.3 236.8 189.2 236.5 190.1 236.1 191 235.7 191.9 235.2 192.8 234.7 193.8 234.2 194.7 233.5 195.6 232.8 196.5 232 197.4 231 198.3 230 199.2 228.8 200.2 227.4 201.1 225.8 202 224 202.9 221.9 203.8 219.5 204.7 216.8 205.6 213.8 206.5 210.5 207.4 207 208.4 203.5 209.3 200.2 210.2 197.7 211.1 196.5 212 197.3 212.9 199.6 213.8 202.8 214.8 206.3 215.7 209.8 216.6 213.2 217.5 216.3 218.4 219 219.3 221.5 220.2 223.6 221.1 225.5 222.1 227.1 223 228.6 223.9 229.8 224.8 230.9 225.7 231.9 226.6 232.8 227.5 233.5 228.4 234.2 229.3 234.8 230.3 235.3 231.2 235.8 232.1 236.2 233 236.6 233.9 237 234.8 237.3 235.7 237.6 236.6 237.9 237.6 238.1 238.5 238.4 239.4 238.6 240.3 238.8 241.2 238.9 242.1 239.1 243 239.3 243.9 239.4 244.9 239.5 245.8 239.7 246.7 239.8 247.6 239.9" fill="none" stroke="#e0852f" stroke-width="0.9"/>
<path d="M174.6 238.6 175.5 238.4 176.4 238.3 177.3 238.2 178.2 238 179.2 237.8 180.1 237.7 181 237.5 181.9 237.3 182.8 237 183.7 236.8 184.6 236.5 185.5 236.2 186.5 235.9 187.4 235.6 188.3 235.2 189.2 234.8 190.1 234.3 191 233.8 191.9 233.2 192.8 232.6 193.8 231.9 194.7 231.1 195.6 230.2 196.5 229.1 197.4 228 198.3 226.7 199.2 225.2 200.2 223.5 201.1 221.5 202 219.3 202.9 216.7 203.8 213.8 204.7 210.5 205.6 206.8 206.5 202.7 207.4 198.4 208.4 194 209.3 190 210.2 186.9 211.1 185.3 212 186.4 212.9 189.2 213.8 193.1 214.8 197.4 215.7 201.8 216.6 205.9 217.5 209.8 218.4 213.2 219.3 216.2 220.2 218.8 221.1 221.2 222.1 223.2 223 225 223.9 226.5 224.8 227.8 225.7 229 226.6 230.1 227.5 231 228.4 231.9 229.3 232.6 230.3 233.3 231.2 233.8 232.1 234.4 233 234.9 233.9 235.3 234.8 235.7 235.7 236.1 236.6 236.4 237.6 236.7 238.5 237 239.4 237.2 240.3 237.5 241.2 237.7 242.1 237.9 243 238.1 243.9 238.3 244.9 238.4 245.8 238.6 246.7 238.7 247.6 238.9" fill="none" stroke="#b8312f" stroke-width="0.9"/>
<text x="232.5" y="186.3" font-size="7.1" fill="#4a72c8">0h</text>
<text x="232.5" y="194.8" font-size="7.1" fill="#8f7d3a">8h</text>
<text x="232.5" y="203.3" font-size="7.1" fill="#e0852f">24h</text>
<text x="232.5" y="211.8" font-size="7.1" fill="#b8312f">72h</text>
<text x="174.6" y="257.7" font-size="7.1" text-anchor="middle">-2000</text>
<text x="247.6" y="257.7" font-size="7.1" text-anchor="middle">+2000</text>
<text x="211.2" y="255.5" font-size="7.1" text-anchor="middle">Flag-ZIC2</text>
<text x="211.2" y="264" font-size="7.1" text-anchor="middle">peak centre</text>
<text x="146.8" y="218.4" font-size="7.1" text-anchor="middle" transform="rotate(-90 146.8 218.4)">BRG1 CUT&amp;Tag signal</text>
<text x="155.3" y="218.4" font-size="7.1" text-anchor="middle" transform="rotate(-90 155.3 218.4)">(CPB)</text>
<text x="2" y="286.1" font-size="9.5" fill="#000" font-weight="bold">h</text>
<line x1="45.5" y1="281.8" x2="45.5" y2="345.5" stroke="#555" stroke-width="0.8"/>
<line x1="41.5" y1="282.3" x2="45.5" y2="282.3" stroke="#555" stroke-width="0.8"/>
<text x="38.4" y="284.8" font-size="7.1" text-anchor="end">8</text>
<line x1="41.5" y1="316.1" x2="45.5" y2="316.1" stroke="#555" stroke-width="0.8"/>
<text x="38.4" y="318.6" font-size="7.1" text-anchor="end">4</text>
<line x1="45.5" y1="345.5" x2="116.1" y2="345.5" stroke="#333" stroke-width="0.8"/>
<line x1="45.5" y1="345.5" x2="45.5" y2="347.5" stroke="#333" stroke-width="0.8"/>
<line x1="81" y1="345.5" x2="81" y2="347.5" stroke="#333" stroke-width="0.8"/>
<line x1="116.1" y1="345.5" x2="116.1" y2="347.5" stroke="#333" stroke-width="0.8"/>
<line x1="81" y1="282" x2="81" y2="345.5" stroke="#333" stroke-width="0.6" stroke-dasharray="1.5 1"/>
<path d="M45.5 342.3 46.4 342.3 47.3 342.3 48.1 342.3 49 342.3 49.9 342.2 50.8 342.2 51.7 342.2 52.6 342.2 53.4 342.1 54.3 342.1 55.2 342 56.1 341.8 57 341.7 57.9 341.5 58.7 341.4 59.6 341.3 60.5 341.3 61.4 341.4 62.3 341.5 63.1 341.6 64 341.8 64.9 341.9 65.8 341.9 66.7 342 67.6 342 68.4 342 69.3 342 70.2 342 71.1 342 72 342 72.9 342 73.7 342 74.6 341.9 75.5 341.9 76.4 341.9 77.3 341.9 78.2 341.9 79 341.9 79.9 341.9 80.8 341.9 81.7 341.9 82.6 341.9 83.4 341.8 84.3 341.8 85.2 341.8 86.1 341.8 87 341.8 87.9 341.8 88.7 341.8 89.6 341.8 90.5 341.8 91.4 341.7 92.3 341.7 93.2 341.7 94 341.7 94.9 341.7 95.8 341.7 96.7 341.7 97.6 341.6 98.5 341.6 99.3 341.5 100.2 341.4 101.1 341.3 102 341.1 102.9 341 103.7 340.8 104.6 340.7 105.5 340.7 106.4 340.8 107.3 340.9 108.2 341.1 109 341.2 109.9 341.3 110.8 341.4 111.7 341.5 112.6 341.5 113.5 341.5 114.3 341.5 115.2 341.5 116.1 341.4" fill="none" stroke="#4a72c8" stroke-width="0.9"/>
<path d="M45.5 337.6 46.4 337.6 47.3 337.5 48.1 337.4 49 337.3 49.9 337.1 50.8 336.9 51.7 336.6 52.6 336.3 53.4 336 54.3 335.7 55.2 335.5 56.1 335.4 57 335.5 57.9 335.7 58.7 336 59.6 336.3 60.5 336.6 61.4 336.8 62.3 337 63.1 337.2 64 337.3 64.9 337.3 65.8 337.4 66.7 337.3 67.6 337.3 68.4 337.3 69.3 337.2 70.2 337.1 71.1 337.1 72 336.9 72.9 336.7 73.7 336.5 74.6 336.1 75.5 335.5 76.4 334.7 77.3 333.5 78.2 331.9 79 330.2 79.9 329.1 80.8 328.8 81.7 328.9 82.6 329.6 83.4 331 84.3 332.7 85.2 334.1 86.1 335.1 87 335.8 87.9 336.2 88.7 336.5 89.6 336.7 90.5 336.9 91.4 337 92.3 337.1 93.2 337.1 94 337.1 94.9 337.2 95.8 337.2 96.7 337.2 97.6 337.1 98.5 337.1 99.3 337 100.2 336.8 101.1 336.6 102 336.4 102.9 336.1 103.7 335.9 104.6 335.7 105.5 335.6 106.4 335.6 107.3 335.7 108.2 335.9 109 336.1 109.9 336.3 110.8 336.6 111.7 336.8 112.6 336.9 113.5 337.1 114.3 337.1 115.2 337.2 116.1 337.2" fill="none" stroke="#8f7d3a" stroke-width="0.9"/>
<path d="M45.5 331.7 46.4 331.6 47.3 331.6 48.1 331.4 49 331.3 49.9 331 50.8 330.6 51.7 330.2 52.6 329.8 53.4 329.3 54.3 328.9 55.2 328.7 56.1 328.6 57 328.7 57.9 328.9 58.7 329.3 59.6 329.7 60.5 330.1 61.4 330.4 62.3 330.7 63.1 330.9 64 331 64.9 331 65.8 331 66.7 331 67.6 330.9 68.4 330.8 69.3 330.6 70.2 330.4 71.1 330.1 72 329.7 72.9 329.1 73.7 328.4 74.6 327.2 75.5 325.5 76.4 323 77.3 319.3 78.2 314.4 79 309.4 79.9 306.1 80.8 305.1 81.7 305.4 82.6 307.5 83.4 312 84.3 317.1 85.2 321.4 86.1 324.4 87 326.4 87.9 327.7 88.7 328.6 89.6 329.3 90.5 329.7 91.4 330 92.3 330.2 93.2 330.4 94 330.5 94.9 330.6 95.8 330.7 96.7 330.7 97.6 330.7 98.5 330.6 99.3 330.4 100.2 330.2 101.1 329.9 102 329.6 102.9 329.2 103.7 328.9 104.6 328.6 105.5 328.4 106.4 328.4 107.3 328.6 108.2 328.8 109 329.2 109.9 329.6 110.8 329.9 111.7 330.2 112.6 330.5 113.5 330.6 114.3 330.7 115.2 330.8 116.1 330.8" fill="none" stroke="#e0852f" stroke-width="0.9"/>
<path d="M45.5 331.3 46.4 331.2 47.3 331.1 48.1 331 49 330.8 49.9 330.6 50.8 330.2 51.7 329.8 52.6 329.3 53.4 328.9 54.3 328.5 55.2 328.2 56.1 328.1 57 328.2 57.9 328.4 58.7 328.8 59.6 329.2 60.5 329.6 61.4 329.9 62.3 330.2 63.1 330.4 64 330.4 64.9 330.5 65.8 330.4 66.7 330.3 67.6 330.2 68.4 330 69.3 329.7 70.2 329.4 71.1 329 72 328.4 72.9 327.6 73.7 326.4 74.6 324.6 75.5 321.9 76.4 317.8 77.3 311.7 78.2 303.3 79 294 79.9 287.5 80.8 285.7 81.7 286.2 82.6 290.5 83.4 298.9 84.3 308.1 85.2 315.3 86.1 320.2 87 323.4 87.9 325.5 88.7 326.9 89.6 327.8 90.5 328.5 91.4 329 92.3 329.3 93.2 329.6 94 329.8 94.9 329.9 95.8 330 96.7 330.1 97.6 330.1 98.5 330 99.3 329.9 100.2 329.7 101.1 329.4 102 329.1 102.9 328.7 103.7 328.4 104.6 328.1 105.5 328 106.4 328 107.3 328.1 108.2 328.4 109 328.7 109.9 329.1 110.8 329.5 111.7 329.8 112.6 330 113.5 330.2 114.3 330.3 115.2 330.4 116.1 330.4" fill="none" stroke="#b8312f" stroke-width="0.9"/>
<text x="98.7" y="281.2" font-size="7.1" fill="#4a72c8">0h</text>
<text x="98.7" y="289.9" font-size="7.1" fill="#8f7d3a">8h</text>
<text x="98.7" y="298.5" font-size="7.1" fill="#e0852f">24h</text>
<text x="98.7" y="307.1" font-size="7.1" fill="#b8312f">72h</text>
<text x="45.5" y="354.4" font-size="7.1" text-anchor="middle">-2000</text>
<text x="116.1" y="354.4" font-size="7.1" text-anchor="middle">+2000</text>
<text x="81" y="354.4" font-size="7.1" text-anchor="middle">DAR Peak</text>
<text x="81" y="362" font-size="7.1" text-anchor="middle">centre</text>
<text x="22.5" y="313" font-size="7.1" text-anchor="middle" transform="rotate(-90 22.5 313)">Flag :: ZIC2 ChIP signal</text>
<text x="31" y="313" font-size="7.1" text-anchor="middle" transform="rotate(-90 31 313)">(RPGC)</text>
<line x1="171.4" y1="281.8" x2="171.4" y2="345.5" stroke="#555" stroke-width="0.8"/>
<line x1="167.4" y1="292.4" x2="171.4" y2="292.4" stroke="#555" stroke-width="0.8"/>
<text x="164.3" y="294.9" font-size="7.1" text-anchor="end">8</text>
<line x1="167.4" y1="319.9" x2="171.4" y2="319.9" stroke="#555" stroke-width="0.8"/>
<text x="164.3" y="322.4" font-size="7.1" text-anchor="end">4</text>
<line x1="171.4" y1="345.5" x2="242.9" y2="345.5" stroke="#333" stroke-width="0.8"/>
<line x1="171.4" y1="345.5" x2="171.4" y2="347.5" stroke="#333" stroke-width="0.8"/>
<line x1="206.9" y1="345.5" x2="206.9" y2="347.5" stroke="#333" stroke-width="0.8"/>
<line x1="242.9" y1="345.5" x2="242.9" y2="347.5" stroke="#333" stroke-width="0.8"/>
<line x1="206.9" y1="282" x2="206.9" y2="345.5" stroke="#333" stroke-width="0.6" stroke-dasharray="1.5 1"/>
<path d="M171.4 341.6 172.3 341.6 173.2 341.6 174.1 341.6 175 341.6 175.9 341.6 176.8 341.6 177.7 341.7 178.6 341.7 179.4 341.8 180.3 341.9 181.2 342 182.1 342 183 342.1 183.9 342.1 184.8 342.2 185.7 342.1 186.6 342.1 187.5 342 188.4 341.9 189.3 341.8 190.2 341.7 191.1 341.5 192 341.4 192.8 341.3 193.7 341.2 194.6 341.1 195.5 341 196.4 340.9 197.3 340.8 198.2 340.7 199.1 340.6 200 340.4 200.9 340.2 201.8 340 202.7 339.8 203.6 339.6 204.5 339.4 205.4 339.3 206.3 339.2 207.2 339.2 208 339.2 208.9 339.4 209.8 339.5 210.7 339.8 211.6 340 212.5 340.2 213.4 340.4 214.3 340.6 215.2 340.7 216.1 340.9 217 341 217.9 341.1 218.8 341.2 219.7 341.3 220.6 341.3 221.4 341.4 222.3 341.4 223.2 341.5 224.1 341.5 225 341.6 225.9 341.6 226.8 341.6 227.7 341.6 228.6 341.7 229.5 341.7 230.4 341.7 231.3 341.7 232.2 341.8 233.1 341.8 234 341.8 234.9 341.8 235.8 341.8 236.6 341.8 237.5 341.8 238.4 341.8 239.3 341.9 240.2 341.9 241.1 341.9 242 341.9 242.9 341.9" fill="none" stroke="#4a72c8" stroke-width="0.9"/>
<path d="M171.4 340.2 172.3 340.2 173.2 340.1 174.1 340.1 175 340.1 175.9 340.1 176.8 340.1 177.7 340.1 178.6 340.2 179.4 340.2 180.3 340.2 181.2 340.3 182.1 340.3 183 340.3 183.9 340.3 184.8 340.2 185.7 340.1 186.6 340 187.5 339.8 188.4 339.6 189.3 339.4 190.2 339.1 191.1 338.9 192 338.6 192.8 338.3 193.7 338 194.6 337.6 195.5 337.2 196.4 336.8 197.3 336.3 198.2 335.7 199.1 335 200 334.2 200.9 333.4 201.8 332.4 202.7 331.4 203.6 330.4 204.5 329.5 205.4 328.7 206.3 328.2 207.2 328.2 208 328.5 208.9 329.1 209.8 330 210.7 331 211.6 332 212.5 333 213.4 333.9 214.3 334.7 215.2 335.5 216.1 336.1 217 336.6 217.9 337.1 218.8 337.5 219.7 337.9 220.6 338.2 221.4 338.4 222.3 338.7 223.2 338.9 224.1 339.1 225 339.2 225.9 339.4 226.8 339.5 227.7 339.6 228.6 339.7 229.5 339.8 230.4 339.9 231.3 339.9 232.2 340 233.1 340.1 234 340.1 234.9 340.2 235.8 340.2 236.6 340.3 237.5 340.3 238.4 340.4 239.3 340.4 240.2 340.4 241.1 340.5 242 340.5 242.9 340.5" fill="none" stroke="#8f7d3a" stroke-width="0.9"/>
<path d="M171.4 338.4 172.3 338.4 173.2 338.4 174.1 338.4 175 338.4 175.9 338.3 176.8 338.3 177.7 338.4 178.6 338.4 179.4 338.4 180.3 338.5 181.2 338.5 182.1 338.6 183 338.6 183.9 338.5 184.8 338.4 185.7 338.3 186.6 338 187.5 337.8 188.4 337.4 189.3 337.1 190.2 336.7 191.1 336.3 192 335.8 192.8 335.3 193.7 334.8 194.6 334.2 195.5 333.6 196.4 332.8 197.3 332 198.2 331 199.1 329.9 200 328.6 200.9 327.2 201.8 325.6 202.7 323.9 203.6 322.2 204.5 320.7 205.4 319.4 206.3 318.7 207.2 318.6 208 319.1 208.9 320.1 209.8 321.6 210.7 323.3 211.6 325 212.5 326.6 213.4 328.1 214.3 329.5 215.2 330.7 216.1 331.7 217 332.6 217.9 333.4 218.8 334.1 219.7 334.7 220.6 335.2 221.4 335.6 222.3 336 223.2 336.4 224.1 336.7 225 336.9 225.9 337.2 226.8 337.4 227.7 337.6 228.6 337.7 229.5 337.9 230.4 338 231.3 338.2 232.2 338.3 233.1 338.4 234 338.5 234.9 338.6 235.8 338.7 236.6 338.7 237.5 338.8 238.4 338.9 239.3 338.9 240.2 339 241.1 339.1 242 339.1 242.9 339.1" fill="none" stroke="#e0852f" stroke-width="0.9"/>
<path d="M171.4 335.3 172.3 335.3 173.2 335.2 174.1 335.1 175 335.1 175.9 335 176.8 335 177.7 335 178.6 335.1 179.4 335.1 180.3 335.1 181.2 335.1 182.1 335 183 334.9 183.9 334.6 184.8 334.2 185.7 333.8 186.6 333.2 187.5 332.5 188.4 331.8 189.3 330.9 190.2 330.1 191.1 329.1 192 328.1 192.8 327 193.7 325.7 194.6 324.3 195.5 322.7 196.4 320.9 197.3 318.8 198.2 316.3 199.1 313.5 200 310.3 200.9 306.7 201.8 302.7 202.7 298.5 203.6 294.2 204.5 290.3 205.4 287.2 206.3 285.3 207.2 284.9 208 286.2 208.9 288.9 209.8 292.5 210.7 296.7 211.6 301 212.5 305.1 213.4 309 214.3 312.4 215.2 315.4 216.1 318 217 320.3 217.9 322.2 218.8 323.9 219.7 325.4 220.6 326.7 221.4 327.8 222.3 328.8 223.2 329.6 224.1 330.3 225 331 225.9 331.6 226.8 332.1 227.7 332.6 228.6 333 229.5 333.4 230.4 333.7 231.3 334 232.2 334.3 233.1 334.6 234 334.8 234.9 335 235.8 335.2 236.6 335.4 237.5 335.6 238.4 335.8 239.3 335.9 240.2 336 241.1 336.2 242 336.3 242.9 336.4" fill="none" stroke="#b8312f" stroke-width="0.9"/>
<text x="231" y="283.7" font-size="7.1" fill="#4a72c8">0h</text>
<text x="231" y="291.9" font-size="7.1" fill="#8f7d3a">8h</text>
<text x="231" y="300.4" font-size="7.1" fill="#e0852f">24h</text>
<text x="231" y="308.9" font-size="7.1" fill="#b8312f">72h</text>
<text x="171.4" y="356.3" font-size="7.1" text-anchor="middle">-1000</text>
<text x="243" y="356.3" font-size="7.1" text-anchor="middle">+1000</text>
<text x="206.9" y="354.4" font-size="7.1" text-anchor="middle">DAR Peak</text>
<text x="206.9" y="364" font-size="7.1" text-anchor="middle">centre</text>
<text x="146.8" y="313.5" font-size="7.1" text-anchor="middle" transform="rotate(-90 146.8 313.5)">BRG1 CUT&amp;Tag signal</text>
<text x="156.2" y="313.5" font-size="7.1" text-anchor="middle" transform="rotate(-90 156.2 313.5)">(CPB)</text>
<text x="274.5" y="153.8" font-size="9.5" fill="#000" font-weight="bold">i</text>
<text x="295.7" y="165.3" font-size="6.8">chr 16</text>
<text x="336.8" y="161" font-size="7.1" text-anchor="middle">975 kb</text>
<text x="486" y="161" font-size="7.1" text-anchor="middle">990 kb</text>
<rect x="330.3" y="169" width="161.4" height="184.5" fill="#f6f7f9"/>
<rect x="400.2" y="169" width="32.4" height="184.6" fill="#d8d8d8"/>
<line x1="334.6" y1="164.3" x2="486.8" y2="164.3" stroke="#777" stroke-width="0.6"/>
<line x1="334.6" y1="161.6" x2="334.6" y2="164.3" stroke="#777" stroke-width="0.6"/>
<line x1="486.8" y1="161.6" x2="486.8" y2="164.3" stroke="#777" stroke-width="0.6"/>
<text x="330.6" y="174.8" font-size="5.6">[0-50]</text>
<text x="330.6" y="192.7" font-size="5.6">[0-50]</text>
<text x="330.6" y="210.8" font-size="5.6">[0-50]</text>
<text x="330.6" y="229.2" font-size="5.6">[0-50]</text>
<text x="330.6" y="247.4" font-size="5.6">[0-30]</text>
<text x="330.6" y="265.6" font-size="5.6">[0-30]</text>
<text x="330.6" y="284" font-size="5.6">[0-30]</text>
<text x="330.6" y="302.3" font-size="5.6">[0-30]</text>
<text x="330.6" y="320.7" font-size="5.6">[0-400]</text>
<text x="330.6" y="339.5" font-size="5.6">[0-400]</text>
<text x="301.8" y="184.3" font-size="7.1">DOX 0h</text>
<text x="301.8" y="202.2" font-size="7.1">DOX 8h</text>
<text x="301.8" y="220.3" font-size="7.1">DOX 24h</text>
<text x="301.8" y="238.7" font-size="7.1">DOX 72h</text>
<text x="301.8" y="256.9" font-size="7.1">DOX 0h</text>
<text x="301.8" y="275.1" font-size="7.1">DOX 8h</text>
<text x="301.8" y="293.5" font-size="7.1">DOX 24h</text>
<text x="301.8" y="311.8" font-size="7.1">DOX 72h</text>
<text x="301.8" y="330.2" font-size="7.1">Vehicle</text>
<text x="301.8" y="349" font-size="7.1">DOX 72h</text>
<line x1="298.9" y1="172.6" x2="298.9" y2="239" stroke="#555" stroke-width="0.6"/>
<line x1="298.9" y1="245.1" x2="298.9" y2="311.5" stroke="#555" stroke-width="0.6"/>
<line x1="298.9" y1="319.6" x2="298.9" y2="351" stroke="#555" stroke-width="0.6"/>
<text x="295.3" y="205.5" font-size="7.1" text-anchor="middle" transform="rotate(-90 295.3 205.5)">Flag-ZIC2 ChIP</text>
<text x="295.3" y="278" font-size="7.1" text-anchor="middle" transform="rotate(-90 295.3 278)">BRG1 CUT&amp;Tag</text>
<text x="295.3" y="335.5" font-size="7.1" text-anchor="middle" transform="rotate(-90 295.3 335.5)">ATAC-seq</text>
<path d="M330.6 186.4 330.6 186.4 334.9 186.4 335.1 186.3 335.4 186.2 335.6 186.1 335.9 186.0 336.1 185.8 336.4 185.6 336.6 185.4 336.9 185.3 337.1 185.3 337.4 185.4 337.6 185.5 337.9 185.7 338.1 185.9 338.4 186.1 338.6 186.2 338.9 186.3 339.1 186.3 339.4 186.4 340.9 186.4 341.1 186.3 341.4 186.2 341.6 186.1 341.9 186.0 342.1 185.8 342.4 185.6 342.6 185.4 342.9 185.3 343.1 185.3 343.4 185.4 343.6 185.5 343.9 185.7 344.1 185.9 344.4 186.1 344.6 186.2 344.9 186.3 345.1 186.3 345.4 186.4 351.4 186.4 351.6 186.3 351.9 186.2 352.1 186.1 352.4 185.9 352.6 185.8 352.9 185.7 353.1 185.7 353.4 185.8 353.6 185.9 353.9 186.1 354.1 186.2 354.4 186.3 354.6 186.3 354.9 186.4 369.4 186.4 369.6 186.3 369.9 186.2 370.1 186.1 370.4 185.9 370.6 185.8 370.9 185.7 371.1 185.7 371.4 185.8 371.6 185.9 371.9 186.1 372.1 186.2 372.4 186.3 372.6 186.3 372.9 186.4 380.9 186.4 381.1 186.3 381.4 186.3 381.6 186.2 381.9 186.0 382.1 185.9 382.4 185.7 382.6 185.6 382.9 185.5 383.1 185.5 383.4 185.6 383.6 185.7 383.9 185.9 384.1 186.0 384.4 186.1 384.6 186.2 384.9 186.3 385.1 186.4 408.4 186.4 408.6 186.3 408.9 186.3 409.1 186.3 409.4 186.2 409.6 186.1 409.9 186.0 410.1 185.9 410.4 185.8 410.6 185.7 410.9 185.7 411.1 185.7 411.4 185.7 411.6 185.8 411.9 185.9 412.1 186.0 412.4 186.1 412.6 186.2 412.9 186.2 413.1 186.3 413.4 186.3 413.6 186.3 413.9 186.3 414.1 186.2 414.4 186.1 414.6 186.0 414.9 185.9 415.1 185.8 415.4 185.7 415.6 185.6 415.9 185.5 416.1 185.5 416.4 185.5 416.6 185.6 416.9 185.7 417.1 185.9 417.4 186.0 417.6 186.1 417.9 186.2 418.1 186.3 418.4 186.3 418.6 186.3 418.9 186.3 419.1 186.3 419.4 186.2 419.6 186.1 419.9 186.0 420.1 185.9 420.4 185.8 420.6 185.7 420.9 185.7 421.1 185.7 421.4 185.7 421.6 185.8 421.9 185.9 422.1 186.0 422.4 186.1 422.6 186.2 422.9 186.2 423.1 186.3 423.4 186.3 423.6 186.4 435.9 186.4 436.1 186.3 436.4 186.2 436.6 186.1 436.9 186.0 437.1 185.8 437.4 185.7 437.6 185.5 437.9 185.4 438.1 185.4 438.4 185.5 438.6 185.6 438.9 185.8 439.1 186.0 439.4 186.1 439.6 186.2 439.9 186.3 440.1 186.3 440.4 186.2 440.6 186.1 440.9 186.0 441.1 185.8 441.4 185.6 441.6 185.4 441.9 185.3 442.1 185.3 442.4 185.4 442.6 185.5 442.9 185.7 443.1 185.9 443.4 186.1 443.6 186.2 443.9 186.3 444.1 186.3 444.4 186.4 464.4 186.4 464.6 186.3 464.9 186.2 465.1 186.1 465.4 185.9 465.6 185.8 465.9 185.7 466.1 185.7 466.4 185.8 466.6 185.9 466.9 186.1 467.1 186.2 467.4 186.3 467.6 186.3 467.9 186.4 471.9 186.4 472.1 186.3 472.4 186.3 472.6 186.2 472.9 186.0 473.1 185.9 473.4 185.7 473.6 185.6 473.9 185.5 474.1 185.5 474.4 185.6 474.6 185.7 474.9 185.9 475.1 186.0 475.4 186.1 475.6 186.2 475.9 186.3 476.1 186.4 491.6 186.4 491.6 186.4Z" fill="#3a4ab8"/>
<line x1="330.6" y1="186.4" x2="491.6" y2="186.4" stroke="#5a68c4" stroke-width="0.5"/>
<path d="M330.6 204.3 330.6 204.3 341.4 204.3 341.6 204.2 341.9 204.2 342.1 204.2 342.4 204.1 342.6 204.0 342.9 203.9 343.1 203.8 343.4 203.7 343.6 203.6 343.9 203.6 344.1 203.6 344.4 203.6 344.6 203.7 344.9 203.8 345.1 203.9 345.4 204.0 345.6 204.1 345.9 204.1 346.1 204.2 346.4 204.2 346.6 204.3 349.6 204.3 349.9 204.2 350.1 204.2 350.4 204.1 350.6 204.0 350.9 204.0 351.1 203.9 351.4 203.8 351.6 203.7 351.9 203.7 352.1 203.7 352.4 203.7 352.6 203.8 352.9 203.9 353.1 203.9 353.4 204.0 353.6 204.1 353.9 204.2 354.1 204.2 354.4 204.2 354.6 204.3 369.6 204.3 369.9 204.2 370.1 204.2 370.4 204.1 370.6 204.0 370.9 204.0 371.1 203.9 371.4 203.8 371.6 203.7 371.9 203.7 372.1 203.7 372.4 203.7 372.6 203.8 372.9 203.9 373.1 203.9 373.4 204.0 373.6 204.1 373.9 204.2 374.1 204.2 374.4 204.2 374.6 204.3 376.9 204.3 377.1 204.2 377.4 204.2 377.6 204.2 377.9 204.1 378.1 204.0 378.4 204.0 378.6 203.9 378.9 203.8 379.1 203.7 379.4 203.6 379.6 203.5 379.9 203.5 380.1 203.5 380.4 203.5 380.6 203.6 380.9 203.7 381.1 203.7 381.4 203.8 381.6 203.9 381.9 204.0 382.1 204.1 382.4 204.2 382.6 204.2 382.9 204.2 383.1 204.2 383.4 204.2 383.6 204.2 383.9 204.2 384.1 204.2 384.4 204.1 384.6 204.1 384.9 204.1 385.1 204.1 385.4 204.1 385.6 204.1 385.9 204.1 386.1 204.0 386.4 204.0 386.6 204.0 386.9 204.0 387.1 204.0 387.4 203.9 387.6 203.9 387.9 203.9 388.1 203.9 388.4 203.8 388.6 203.8 388.9 203.8 389.1 203.8 389.4 203.8 389.6 203.7 389.9 203.7 390.1 203.7 390.4 203.7 390.6 203.6 390.9 203.4 391.1 203.3 391.4 203.2 391.6 203.1 391.9 203.1 392.1 203.1 392.4 203.1 392.6 203.2 392.9 203.3 393.1 203.4 393.4 203.4 393.6 203.4 393.9 203.4 394.1 203.4 394.4 203.4 394.6 203.4 394.9 203.4 395.1 203.4 395.4 203.4 395.6 203.4 395.9 203.4 396.1 203.4 396.4 203.4 396.6 203.4 396.9 203.3 397.1 203.2 397.4 203.0 397.6 203.0 397.9 202.9 398.1 202.9 398.4 202.9 398.6 203.0 398.9 203.1 399.1 203.3 399.4 203.4 399.6 203.6 399.9 203.7 400.1 203.7 400.4 203.7 400.6 203.7 400.9 203.8 401.1 203.8 401.4 203.8 401.6 203.8 401.9 203.9 402.1 203.7 402.4 203.6 402.6 203.4 402.9 203.3 403.1 203.2 403.4 203.0 403.6 203.0 403.9 202.9 404.1 202.9 404.4 202.9 404.6 203.0 404.9 203.1 405.1 203.3 405.4 203.4 405.6 203.5 405.9 203.2 406.1 202.9 406.4 202.6 406.6 202.4 406.9 202.3 407.1 202.3 407.4 202.4 407.6 202.6 407.9 202.8 408.1 203.1 408.4 203.4 408.6 203.1 408.9 202.7 409.1 202.3 409.4 201.8 409.6 201.4 409.9 200.9 410.1 200.6 410.4 200.4 410.6 200.3 410.9 200.4 411.1 200.6 411.4 200.9 411.6 201.4 411.9 201.8 412.1 202.3 412.4 202.7 412.6 203.1 412.9 203.5 413.1 203.5 413.4 203.2 413.6 202.9 413.9 202.6 414.1 202.4 414.4 202.3 414.6 202.3 414.9 202.4 415.1 202.6 415.4 202.8 415.6 203.1 415.9 203.4 416.1 203.7 416.4 203.9 416.6 204.0 416.9 204.1 417.1 204.2 417.4 204.2 417.6 204.2 417.9 204.1 418.1 204.1 418.4 203.9 418.6 203.8 418.9 203.6 419.1 203.5 419.4 203.3 419.6 203.2 419.9 203.1 420.1 203.1 420.4 203.2 420.6 203.3 420.9 203.4 421.1 203.6 421.4 203.8 421.6 203.9 421.9 204.0 422.1 204.1 422.4 204.2 422.6 204.2 422.9 204.3 437.6 204.3 437.9 204.2 438.1 204.2 438.4 204.2 438.6 204.1 438.9 204.0 439.1 204.0 439.4 203.9 439.6 203.8 439.9 203.8 440.1 203.8 440.4 203.8 440.6 203.9 440.9 203.9 441.1 204.0 441.4 204.1 441.6 204.1 441.9 204.2 442.1 204.2 442.4 204.3 454.6 204.3 454.9 204.2 455.1 204.2 455.4 204.2 455.6 204.1 455.9 204.0 456.1 204.0 456.4 203.9 456.6 203.8 456.9 203.8 457.1 203.8 457.4 203.8 457.6 203.9 457.9 203.9 458.1 204.0 458.4 204.1 458.6 204.1 458.9 204.2 459.1 204.2 459.4 204.3 467.4 204.3 467.6 204.2 467.9 204.2 468.1 204.2 468.4 204.1 468.6 204.0 468.9 203.9 469.1 203.8 469.4 203.7 469.6 203.6 469.9 203.6 470.1 203.6 470.4 203.6 470.6 203.7 470.9 203.8 471.1 203.9 471.4 204.0 471.6 204.1 471.9 204.1 472.1 204.2 472.4 204.2 472.6 204.3 481.6 204.3 481.9 204.2 482.1 204.2 482.4 204.2 482.6 204.1 482.9 204.0 483.1 204.0 483.4 203.9 483.6 203.8 483.9 203.8 484.1 203.8 484.4 203.8 484.6 203.9 484.9 203.9 485.1 204.0 485.4 204.1 485.6 204.1 485.9 204.2 486.1 204.2 486.4 204.3 491.6 204.3 491.6 204.3Z" fill="#7d6c22"/>
<line x1="330.6" y1="204.3" x2="491.6" y2="204.3" stroke="#8c7c34" stroke-width="0.5"/>
<path d="M330.6 222.4 330.6 222.4 333.4 222.4 333.6 222.3 333.9 222.3 334.1 222.3 334.4 222.2 334.6 222.1 334.9 222.0 335.1 221.9 335.4 221.8 335.6 221.7 335.9 221.7 336.1 221.7 336.4 221.7 336.6 221.8 336.9 221.9 337.1 222.0 337.4 222.1 337.6 222.2 337.9 222.2 338.1 222.3 338.4 222.3 338.6 222.4 345.6 222.4 345.9 222.3 346.1 222.3 346.4 222.2 346.6 222.1 346.9 222.1 347.1 222.0 347.4 221.9 347.6 221.8 347.9 221.8 348.1 221.8 348.4 221.8 348.6 221.9 348.9 222.0 349.1 222.0 349.4 222.1 349.6 222.2 349.9 222.3 350.1 222.3 350.4 222.3 350.6 222.4 357.1 222.4 357.4 222.3 357.6 222.3 357.9 222.3 358.1 222.3 358.4 222.3 358.6 222.3 358.9 222.3 359.1 222.3 359.4 222.3 359.6 222.3 359.9 222.3 360.1 222.3 360.4 222.3 360.6 222.3 360.9 222.3 361.1 222.2 361.4 222.2 361.6 222.2 361.9 222.2 362.1 222.2 362.4 222.2 362.6 222.2 362.9 222.2 363.1 222.2 363.4 222.1 363.6 222.1 363.9 222.1 364.1 222.1 364.4 222.1 364.6 222.1 364.9 222.0 365.1 222.0 365.4 222.0 365.6 222.0 365.9 221.9 366.1 221.8 366.4 221.6 366.6 221.5 366.9 221.3 367.1 221.2 367.4 221.1 367.6 221.0 367.9 220.9 368.1 220.9 368.4 220.9 368.6 221.0 368.9 221.1 369.1 221.3 369.4 221.4 369.6 221.6 369.9 221.5 370.1 221.5 370.4 221.5 370.6 221.4 370.9 221.4 371.1 221.4 371.4 221.3 371.6 221.3 371.9 221.3 372.1 221.2 372.4 221.2 372.6 221.1 372.9 220.8 373.1 220.6 373.4 220.4 373.6 220.3 373.9 220.2 374.1 220.2 374.4 220.3 374.6 220.4 374.9 220.6 375.1 220.8 375.4 220.9 375.6 220.8 375.9 220.8 376.1 220.8 376.4 220.8 376.6 220.7 376.9 220.7 377.1 220.7 377.4 220.7 377.6 220.7 377.9 220.7 378.1 220.6 378.4 220.6 378.6 220.6 378.9 220.6 379.1 220.4 379.4 220.2 379.6 220.0 379.9 219.9 380.1 219.9 380.4 220.0 380.6 220.1 380.9 220.3 381.1 220.6 381.4 220.6 381.6 220.6 381.9 220.6 382.1 220.7 382.4 220.7 382.6 220.7 382.9 220.7 383.1 220.7 383.4 220.7 383.6 220.8 383.9 220.8 384.1 220.8 384.4 220.8 384.6 220.7 384.9 220.4 385.1 220.1 385.4 219.9 385.6 219.7 385.9 219.6 386.1 219.6 386.4 219.7 386.6 219.8 386.9 220.1 387.1 220.3 387.4 220.6 387.6 220.9 387.9 221.2 388.1 221.2 388.4 220.9 388.6 220.6 388.9 220.2 389.1 219.9 389.4 219.7 389.6 219.5 389.9 219.4 390.1 219.4 390.4 219.5 390.6 219.7 390.9 219.9 391.1 220.2 391.4 220.5 391.6 220.8 391.9 221.1 392.1 221.2 392.4 220.8 392.6 220.4 392.9 219.9 393.1 219.3 393.4 218.8 393.6 218.3 393.9 217.9 394.1 217.6 394.4 217.4 394.6 217.4 394.9 217.6 395.1 217.8 395.4 218.2 395.6 218.7 395.9 219.2 396.1 219.8 396.4 220.3 396.6 220.7 396.9 221.1 397.1 221.5 397.4 221.3 397.6 221.0 397.9 220.7 398.1 220.5 398.4 220.2 398.6 220.0 398.9 219.9 399.1 219.9 399.4 220.0 399.6 220.2 399.9 220.4 400.1 220.7 400.4 221.0 400.6 221.3 400.9 221.5 401.1 221.8 401.4 221.9 401.6 222.1 401.9 222.2 402.1 222.1 402.4 221.9 402.6 221.7 402.9 221.4 403.1 221.1 403.4 220.7 403.6 220.2 403.9 219.7 404.1 219.3 404.4 218.9 404.6 218.6 404.9 218.4 405.1 218.4 405.4 218.5 405.6 218.8 405.9 219.2 406.1 219.6 406.4 219.8 406.6 218.9 406.9 217.9 407.1 216.9 407.4 216.0 407.6 215.4 407.9 215.0 408.1 214.9 408.4 215.3 408.6 215.9 408.9 216.7 409.1 217.7 409.4 216.4 409.6 215.0 409.9 213.6 410.1 212.4 410.4 211.7 410.6 211.4 410.9 211.7 411.1 212.4 411.4 213.6 411.6 215.0 411.9 216.4 412.1 217.2 412.4 216.2 412.6 215.4 412.9 215.0 413.1 214.9 413.4 215.3 413.6 216.0 413.9 217.0 414.1 218.0 414.4 219.1 414.6 220.0 414.9 219.6 415.1 218.9 415.4 218.3 415.6 217.7 415.9 217.4 416.1 217.4 416.4 217.7 416.6 218.1 416.9 218.8 417.1 219.5 417.4 220.2 417.6 220.8 417.9 221.3 418.1 221.7 418.4 221.7 418.6 221.3 418.9 220.8 419.1 220.1 419.4 219.3 419.6 218.6 419.9 217.8 420.1 217.3 420.4 217.0 420.6 216.9 420.9 217.2 421.1 217.7 421.4 218.4 421.6 219.2 421.9 220.0 422.1 220.6 422.4 221.2 422.6 221.6 422.9 221.7 423.1 221.6 423.4 221.4 423.6 221.3 423.9 221.2 424.1 221.2 424.4 221.3 424.6 221.4 424.9 221.5 425.1 221.7 425.4 221.9 425.6 222.0 425.9 222.1 426.1 222.2 426.4 222.3 426.6 222.3 426.9 222.4 433.4 222.4 433.6 222.3 433.9 222.3 434.1 222.2 434.4 222.1 434.6 222.0 434.9 221.8 435.1 221.7 435.4 221.6 435.6 221.5 435.9 221.4 436.1 221.4 436.4 221.5 436.6 221.5 436.9 221.7 437.1 221.8 437.4 222.0 437.6 222.1 437.9 222.2 438.1 222.3 438.4 222.3 438.6 222.4 441.6 222.4 441.9 222.3 442.1 222.3 442.4 222.2 442.6 222.1 442.9 222.1 443.1 222.0 443.4 221.9 443.6 221.8 443.9 221.8 444.1 221.8 444.4 221.8 444.6 221.9 444.9 222.0 445.1 222.0 445.4 222.1 445.6 222.2 445.9 222.3 446.1 222.3 446.4 222.3 446.6 222.4 465.6 222.4 465.9 222.3 466.1 222.3 466.4 222.2 466.6 222.1 466.9 222.1 467.1 222.0 467.4 221.9 467.6 221.8 467.9 221.8 468.1 221.8 468.4 221.8 468.6 221.9 468.9 222.0 469.1 222.0 469.4 222.1 469.6 222.2 469.9 222.3 470.1 222.3 470.4 222.3 470.6 222.4 476.4 222.4 476.6 222.3 476.9 222.3 477.1 222.2 477.4 222.2 477.6 222.1 477.9 222.0 478.1 221.8 478.4 221.7 478.6 221.7 478.9 221.6 479.1 221.6 479.4 221.6 479.6 221.7 479.9 221.8 480.1 221.9 480.4 222.0 480.6 222.1 480.9 222.2 481.1 222.3 481.4 222.3 481.6 222.4 485.4 222.4 485.6 222.3 485.9 222.3 486.1 222.3 486.4 222.2 486.6 222.1 486.9 222.0 487.1 221.9 487.4 221.8 487.6 221.7 487.9 221.7 488.1 221.7 488.4 221.7 488.6 221.8 488.9 221.9 489.1 222.0 489.4 222.1 489.6 222.2 489.9 222.2 490.1 222.3 490.4 222.3 490.6 222.4 491.6 222.4 491.6 222.4Z" fill="#db7b1c"/>
<line x1="330.6" y1="222.4" x2="491.6" y2="222.4" stroke="#e8a060" stroke-width="0.6"/>
<path d="M330.6 240.8 330.6 240.8 333.4 240.8 333.6 240.7 333.9 240.7 334.1 240.7 334.4 240.6 334.6 240.5 334.9 240.4 335.1 240.3 335.4 240.2 335.6 240.1 335.9 240.1 336.1 240.1 336.4 240.1 336.6 240.2 336.9 240.3 337.1 240.4 337.4 240.5 337.6 240.6 337.9 240.6 338.1 240.7 338.4 240.7 338.6 240.8 343.4 240.8 343.6 240.7 343.9 240.7 344.1 240.6 344.4 240.6 344.6 240.5 344.9 240.4 345.1 240.2 345.4 240.1 345.6 240.1 345.9 240.0 346.1 240.0 346.4 240.0 346.6 240.1 346.9 240.2 347.1 240.3 347.4 240.4 347.6 240.5 347.9 240.6 348.1 240.7 348.4 240.7 348.6 240.8 353.6 240.8 353.9 240.7 354.1 240.7 354.4 240.6 354.6 240.5 354.9 240.5 355.1 240.4 355.4 240.3 355.6 240.2 355.9 240.2 356.1 240.2 356.4 240.2 356.6 240.3 356.9 240.4 357.1 240.4 357.4 240.5 357.6 240.6 357.9 240.7 358.1 240.7 358.4 240.7 358.6 240.8 360.1 240.8 360.4 240.7 360.6 240.7 360.9 240.7 361.1 240.7 361.4 240.7 361.6 240.7 361.9 240.7 362.1 240.7 362.4 240.7 362.6 240.7 362.9 240.7 363.1 240.7 363.4 240.7 363.6 240.7 363.9 240.7 364.1 240.7 364.4 240.7 364.6 240.7 364.9 240.7 365.1 240.7 365.4 240.6 365.6 240.6 365.9 240.6 366.1 240.5 366.4 240.3 366.6 240.1 366.9 239.9 367.1 239.7 367.4 239.4 367.6 239.1 367.9 238.8 368.1 238.5 368.4 238.3 368.6 238.1 368.9 238.0 369.1 238.0 369.4 238.1 369.6 238.2 369.9 238.5 370.1 238.7 370.4 239.0 370.6 239.3 370.9 239.6 371.1 239.3 371.4 238.9 371.6 238.3 371.9 237.8 372.1 237.3 372.4 236.9 372.6 236.5 372.9 236.3 373.1 236.3 373.4 236.5 373.6 236.8 373.9 237.2 374.1 237.7 374.4 238.2 374.6 238.8 374.9 239.2 375.1 239.6 375.4 240.0 375.6 239.9 375.9 239.9 376.1 239.9 376.4 239.8 376.6 239.8 376.9 239.6 377.1 239.2 377.4 238.6 377.6 238.1 377.9 237.5 378.1 236.9 378.4 236.4 378.6 236.0 378.9 235.8 379.1 235.8 379.4 236.0 379.6 236.3 379.9 236.8 380.1 237.4 380.4 238.0 380.6 238.5 380.9 239.1 381.1 239.2 381.4 239.1 381.6 239.1 381.9 239.0 382.1 239.0 382.4 239.0 382.6 238.9 382.9 238.9 383.1 238.8 383.4 238.7 383.6 238.2 383.9 237.6 384.1 237.1 384.4 236.6 384.6 236.2 384.9 236.0 385.1 236.0 385.4 236.2 385.6 236.5 385.9 237.0 386.1 237.5 386.4 238.1 386.6 238.3 386.9 238.3 387.1 238.2 387.4 238.2 387.6 238.2 387.9 238.1 388.1 238.1 388.4 238.1 388.6 238.0 388.9 238.0 389.1 238.0 389.4 237.8 389.6 237.3 389.9 236.9 390.1 236.5 390.4 236.3 390.6 236.3 390.9 236.5 391.1 236.8 391.4 237.2 391.6 237.7 391.9 237.7 392.1 237.7 392.4 237.7 392.6 237.7 392.9 237.7 393.1 237.6 393.4 237.6 393.6 237.6 393.9 237.6 394.1 237.6 394.4 237.6 394.6 237.6 394.9 237.6 395.1 237.3 395.4 236.9 395.6 236.5 395.9 236.3 396.1 236.3 396.4 236.5 396.6 236.8 396.9 237.2 397.1 237.6 397.4 237.7 397.6 237.7 397.9 237.7 398.1 237.7 398.4 237.7 398.6 237.7 398.9 237.8 399.1 237.8 399.4 237.8 399.6 237.8 399.9 237.5 400.1 236.9 400.4 236.4 400.6 236.0 400.9 235.8 401.1 235.8 401.4 236.0 401.6 236.3 401.9 236.8 402.1 237.4 402.4 238.0 402.6 238.2 402.9 238.2 403.1 238.2 403.4 238.3 403.6 238.3 403.9 238.4 404.1 238.0 404.4 237.2 404.6 236.4 404.9 235.7 405.1 235.2 405.4 234.9 405.6 234.8 405.9 235.1 406.1 235.6 406.4 236.3 406.6 237.1 406.9 237.9 407.1 238.6 407.4 238.8 407.6 237.9 407.9 236.7 408.1 235.5 408.4 234.4 408.6 233.4 408.9 232.9 409.1 232.8 409.4 233.3 409.6 234.1 409.9 235.3 410.1 236.5 410.4 236.5 410.6 234.8 410.9 232.8 411.1 231.0 411.4 229.4 411.6 228.5 411.9 228.2 412.1 228.8 412.4 230.0 412.6 231.7 412.9 233.6 413.1 235.5 413.4 236.7 413.6 235.5 413.9 234.4 414.1 233.4 414.4 232.9 414.6 232.8 414.9 233.3 415.1 234.1 415.4 235.3 415.6 236.5 415.9 237.6 416.1 238.6 416.4 239.4 416.6 238.9 416.9 238.3 417.1 237.7 417.4 237.1 417.6 236.6 417.9 236.3 418.1 236.3 418.4 236.5 418.6 237.0 418.9 237.5 419.1 238.2 419.4 238.8 419.6 239.0 419.9 238.5 420.1 237.9 420.4 237.3 420.6 236.9 420.9 236.6 421.1 236.6 421.4 236.8 421.6 237.2 421.9 237.8 422.1 238.3 422.4 238.9 422.6 239.5 422.9 239.9 423.1 240.0 423.4 239.8 423.6 239.5 423.9 239.3 424.1 239.1 424.4 239.0 424.6 239.0 424.9 239.1 425.1 239.3 425.4 239.5 425.6 239.7 425.9 240.0 426.1 240.2 426.4 240.4 426.6 240.5 426.9 240.6 427.1 240.7 427.4 240.7 427.6 240.7 427.9 240.7 428.1 240.7 428.4 240.7 428.6 240.7 428.9 240.7 429.1 240.7 429.4 240.7 429.6 240.7 429.9 240.8 437.4 240.8 437.6 240.7 437.9 240.7 438.1 240.6 438.4 240.6 438.6 240.5 438.9 240.4 439.1 240.2 439.4 240.1 439.6 240.1 439.9 240.0 440.1 240.0 440.4 240.0 440.6 240.1 440.9 240.2 441.1 240.3 441.4 240.4 441.6 240.5 441.9 240.6 442.1 240.7 442.4 240.7 442.6 240.8 449.4 240.8 449.6 240.7 449.9 240.7 450.1 240.7 450.4 240.6 450.6 240.5 450.9 240.4 451.1 240.3 451.4 240.2 451.6 240.1 451.9 240.1 452.1 240.1 452.4 240.1 452.6 240.2 452.9 240.3 453.1 240.4 453.4 240.5 453.6 240.6 453.9 240.6 454.1 240.7 454.4 240.7 454.6 240.8 467.4 240.8 467.6 240.7 467.9 240.7 468.1 240.7 468.4 240.6 468.6 240.5 468.9 240.4 469.1 240.3 469.4 240.2 469.6 240.1 469.9 240.1 470.1 240.1 470.4 240.1 470.6 240.2 470.9 240.3 471.1 240.4 471.4 240.5 471.6 240.6 471.9 240.6 472.1 240.7 472.4 240.7 472.6 240.8 477.4 240.8 477.6 240.7 477.9 240.7 478.1 240.6 478.4 240.5 478.6 240.4 478.9 240.3 479.1 240.2 479.4 240.1 479.6 240.0 479.9 239.9 480.1 239.9 480.4 239.9 480.6 240.0 480.9 240.1 481.1 240.3 481.4 240.4 481.6 240.5 481.9 240.6 482.1 240.7 482.4 240.7 482.6 240.8 491.6 240.8 491.6 240.8Z" fill="#a5161e"/>
<line x1="330.6" y1="240.8" x2="491.6" y2="240.8" stroke="#c85050" stroke-width="0.6"/>
<path d="M330.6 259.0 330.6 259.0 333.4 259.0 333.6 258.9 333.9 258.9 334.1 258.8 334.4 258.6 334.6 258.4 334.9 258.2 335.1 257.9 335.4 257.6 335.6 257.4 335.9 257.2 336.1 257.2 336.4 257.3 336.6 257.5 336.9 257.8 337.1 258.1 337.4 258.4 337.6 258.6 337.9 258.8 338.1 258.9 338.4 258.9 338.6 259.0 348.6 259.0 348.9 258.9 349.1 258.8 349.4 258.7 349.6 258.5 349.9 258.3 350.1 258.1 350.4 257.8 350.6 257.6 350.9 257.5 351.1 257.5 351.4 257.6 351.6 257.8 351.9 258.0 352.1 258.3 352.4 258.5 352.6 258.7 352.9 258.8 353.1 258.9 353.4 258.9 353.6 259.0 366.4 259.0 366.6 258.9 366.9 258.9 367.1 258.8 367.4 258.6 367.6 258.4 367.9 258.1 368.1 257.8 368.4 257.4 368.6 257.2 368.9 257.0 369.1 257.0 369.4 257.1 369.6 257.4 369.9 257.7 370.1 258.0 370.4 258.3 370.6 258.6 370.9 258.7 371.1 258.9 371.4 258.9 371.6 259.0 385.4 259.0 385.6 258.9 385.9 258.9 386.1 258.8 386.4 258.6 386.6 258.4 386.9 258.2 387.1 257.9 387.4 257.6 387.6 257.4 387.9 257.2 388.1 257.2 388.4 257.3 388.6 257.5 388.9 257.8 389.1 258.1 389.4 258.4 389.6 258.4 389.9 258.1 390.1 257.8 390.4 257.4 390.6 257.2 390.9 257.0 391.1 257.0 391.4 257.1 391.6 257.4 391.9 257.7 392.1 258.0 392.4 258.3 392.6 258.6 392.9 258.7 393.1 258.9 393.4 258.9 393.6 259.0 395.4 259.0 395.6 258.9 395.9 258.9 396.1 258.8 396.4 258.6 396.6 258.4 396.9 258.1 397.1 257.8 397.4 257.4 397.6 257.2 397.9 257.0 398.1 257.0 398.4 257.1 398.6 257.4 398.9 257.7 399.1 258.0 399.4 258.3 399.6 258.6 399.9 258.7 400.1 258.9 400.4 258.9 400.6 258.9 400.9 258.9 401.1 258.8 401.4 258.6 401.6 258.4 401.9 258.2 402.1 257.9 402.4 257.6 402.6 257.4 402.9 257.2 403.1 257.2 403.4 257.3 403.6 257.5 403.9 257.8 404.1 258.1 404.4 258.4 404.6 258.6 404.9 258.8 405.1 258.9 405.4 258.9 405.6 259.0 422.4 259.0 422.6 258.9 422.9 258.9 423.1 258.7 423.4 258.6 423.6 258.3 423.9 258.0 424.1 257.6 424.4 257.3 424.6 257.0 424.9 256.8 425.1 256.8 425.4 257.0 425.6 257.2 425.9 257.6 426.1 257.9 426.4 258.3 426.6 258.5 426.9 258.7 427.1 258.8 427.4 258.7 427.6 258.5 427.9 258.3 428.1 258.1 428.4 257.8 428.6 257.6 428.9 257.5 429.1 257.5 429.4 257.6 429.6 257.8 429.9 258.0 430.1 258.3 430.4 258.5 430.6 258.7 430.9 258.8 431.1 258.9 431.4 258.9 431.6 259.0 450.4 259.0 450.6 258.9 450.9 258.9 451.1 258.8 451.4 258.7 451.6 258.5 451.9 258.3 452.1 258.0 452.4 257.8 452.6 257.5 452.9 257.4 453.1 257.4 453.4 257.5 453.6 257.7 453.9 258.0 454.1 258.2 454.4 258.5 454.6 258.6 454.9 258.8 455.1 258.8 455.4 258.6 455.6 258.4 455.9 258.2 456.1 257.9 456.4 257.6 456.6 257.4 456.9 257.2 457.1 257.2 457.4 257.3 457.6 257.5 457.9 257.8 458.1 258.1 458.4 258.4 458.6 258.6 458.9 258.8 459.1 258.8 459.4 258.7 459.6 258.5 459.9 258.3 460.1 258.1 460.4 257.8 460.6 257.6 460.9 257.5 461.1 257.5 461.4 257.6 461.6 257.8 461.9 258.0 462.1 258.3 462.4 258.5 462.6 258.7 462.9 258.8 463.1 258.9 463.4 258.9 463.6 259.0 474.4 259.0 474.6 258.9 474.9 258.9 475.1 258.8 475.4 258.6 475.6 258.4 475.9 258.2 476.1 257.9 476.4 257.6 476.6 257.4 476.9 257.2 477.1 257.2 477.4 257.3 477.6 257.5 477.9 257.8 478.1 258.1 478.4 258.4 478.6 258.6 478.9 258.8 479.1 258.9 479.4 258.9 479.6 259.0 484.6 259.0 484.9 258.9 485.1 258.8 485.4 258.7 485.6 258.5 485.9 258.3 486.1 258.1 486.4 257.8 486.6 257.6 486.9 257.5 487.1 257.5 487.4 257.6 487.6 257.8 487.9 258.0 488.1 258.3 488.4 258.5 488.6 258.7 488.9 258.8 489.1 258.9 489.4 258.9 489.6 259.0 491.6 259.0 491.6 259.0Z" fill="#3a4ab8"/>
<line x1="330.6" y1="259" x2="491.6" y2="259" stroke="#5a68c4" stroke-width="0.5"/>
<path d="M330.6 277.2 330.6 277.2 330.9 277.1 331.1 277.1 331.4 277.0 331.6 276.9 331.9 276.8 332.1 276.7 332.4 276.6 332.6 276.5 332.9 276.4 333.1 276.4 333.4 276.5 333.6 276.6 333.9 276.7 334.1 276.8 334.4 276.9 334.6 277.0 334.9 277.1 335.1 277.1 335.4 277.2 343.6 277.2 343.9 277.1 344.1 277.1 344.4 277.0 344.6 276.9 344.9 276.8 345.1 276.7 345.4 276.6 345.6 276.5 345.9 276.4 346.1 276.4 346.4 276.5 346.6 276.6 346.9 276.7 347.1 276.8 347.4 276.9 347.6 277.0 347.9 277.1 348.1 277.1 348.4 277.2 356.9 277.2 357.1 277.1 357.4 277.1 357.6 277.0 357.9 276.9 358.1 276.8 358.4 276.7 358.6 276.7 358.9 276.6 359.1 276.6 359.4 276.6 359.6 276.7 359.9 276.8 360.1 276.9 360.4 277.0 360.6 277.1 360.9 277.1 361.1 277.2 369.9 277.2 370.1 277.1 370.4 277.1 370.6 277.0 370.9 276.9 371.1 276.8 371.4 276.6 371.6 276.4 371.9 276.1 372.1 275.9 372.4 275.7 372.6 275.5 372.9 275.4 373.1 275.4 373.4 275.5 373.6 275.6 373.9 275.8 374.1 276.1 374.4 276.3 374.6 276.5 374.9 276.7 375.1 276.8 375.4 276.6 375.6 276.5 375.9 276.2 376.1 276.0 376.4 275.8 376.6 275.7 376.9 275.6 377.1 275.6 377.4 275.7 377.6 275.8 377.9 276.0 378.1 276.2 378.4 276.4 378.6 276.6 378.9 276.8 379.1 276.9 379.4 277.0 379.6 277.1 379.9 277.1 380.1 277.2 381.1 277.2 381.4 277.1 381.6 277.1 381.9 277.0 382.1 276.9 382.4 276.7 382.6 276.5 382.9 276.2 383.1 275.9 383.4 275.6 383.6 275.4 383.9 275.2 384.1 275.2 384.4 275.3 384.6 275.5 384.9 275.8 385.1 276.1 385.4 276.4 385.6 276.7 385.9 276.9 386.1 277.0 386.4 277.1 386.6 277.1 386.9 277.2 388.4 277.2 388.6 277.1 388.9 277.0 389.1 276.9 389.4 276.8 389.6 276.6 389.9 276.4 390.1 276.1 390.4 275.9 390.6 275.7 390.9 275.6 391.1 275.6 391.4 275.7 391.6 275.9 391.9 276.1 392.1 276.3 392.4 276.6 392.6 276.8 392.9 276.9 393.1 277.0 393.4 277.1 393.6 277.1 393.9 277.2 396.4 277.2 396.6 277.1 396.9 277.1 397.1 277.0 397.4 276.8 397.6 276.6 397.9 276.4 398.1 276.2 398.4 276.0 398.6 275.8 398.9 275.7 399.1 275.7 399.4 275.8 399.6 276.0 399.9 276.2 400.1 276.4 400.4 276.6 400.6 276.8 400.9 276.9 401.1 277.0 401.4 277.1 401.6 277.2 403.1 277.2 403.4 277.1 403.6 277.1 403.9 277.0 404.1 276.9 404.4 276.7 404.6 276.4 404.9 276.1 405.1 275.7 405.4 275.4 405.6 275.2 405.9 275.0 406.1 275.0 406.4 275.1 406.6 275.4 406.9 275.7 407.1 276.0 407.4 276.3 407.6 276.6 407.9 276.8 408.1 276.6 408.4 276.3 408.6 275.8 408.9 275.3 409.1 274.7 409.4 274.1 409.6 273.7 409.9 273.4 410.1 273.4 410.4 273.6 410.6 274.0 410.9 274.6 411.1 275.2 411.4 275.7 411.6 276.1 411.9 275.7 412.1 275.2 412.4 274.8 412.6 274.4 412.9 274.2 413.1 274.2 413.4 274.4 413.6 274.7 413.9 275.1 414.1 275.6 414.4 276.0 414.6 275.7 414.9 275.2 415.1 274.6 415.4 274.0 415.6 273.5 415.9 273.2 416.1 273.2 416.4 273.4 416.6 273.9 416.9 274.4 417.1 275.0 417.4 275.6 417.6 276.1 417.9 275.7 418.1 275.2 418.4 274.8 418.6 274.4 418.9 274.2 419.1 274.2 419.4 274.4 419.6 274.7 419.9 275.1 420.1 275.6 420.4 275.2 420.6 274.6 420.9 274.0 421.1 273.5 421.4 273.2 421.6 273.2 421.9 273.4 422.1 273.9 422.4 274.4 422.6 275.0 422.9 275.6 423.1 276.1 423.4 276.5 423.6 276.8 423.9 277.0 424.1 277.1 424.4 277.1 424.6 277.1 424.9 277.1 425.1 277.0 425.4 276.9 425.6 276.8 425.9 276.6 426.1 276.4 426.4 276.2 426.6 276.1 426.9 276.0 427.1 276.0 427.4 276.1 427.6 276.2 427.9 276.4 428.1 276.6 428.4 276.7 428.6 276.9 428.9 277.0 429.1 277.1 429.4 277.1 429.6 277.2 439.9 277.2 440.1 277.1 440.4 277.1 440.6 277.0 440.9 276.9 441.1 276.8 441.4 276.7 441.6 276.7 441.9 276.6 442.1 276.6 442.4 276.6 442.6 276.7 442.9 276.8 443.1 276.9 443.4 277.0 443.6 277.1 443.9 277.1 444.1 277.2 452.9 277.2 453.1 277.1 453.4 277.1 453.6 277.0 453.9 276.9 454.1 276.8 454.4 276.7 454.6 276.7 454.9 276.6 455.1 276.6 455.4 276.6 455.6 276.7 455.9 276.8 456.1 276.9 456.4 277.0 456.6 277.1 456.9 277.1 457.1 277.2 472.6 277.2 472.9 277.1 473.1 277.1 473.4 277.0 473.6 276.8 473.9 276.7 474.1 276.5 474.4 276.3 474.6 276.1 474.9 276.0 475.1 276.0 475.4 276.1 475.6 276.2 475.9 276.4 476.1 276.6 476.4 276.8 476.6 276.9 476.9 277.0 477.1 277.1 477.4 277.2 491.6 277.2 491.6 277.2Z" fill="#7d6c22"/>
<line x1="330.6" y1="277.2" x2="491.6" y2="277.2" stroke="#8c7c34" stroke-width="0.5"/>
<path d="M330.6 295.6 330.6 295.6 335.4 295.6 335.6 295.5 335.9 295.5 336.1 295.4 336.4 295.4 336.6 295.3 336.9 295.2 337.1 295.0 337.4 294.9 337.6 294.9 337.9 294.8 338.1 294.8 338.4 294.8 338.6 294.9 338.9 295.0 339.1 295.1 339.4 295.2 339.6 295.3 339.9 295.4 340.1 295.5 340.4 295.5 340.6 295.6 345.4 295.6 345.6 295.5 345.9 295.5 346.1 295.4 346.4 295.4 346.6 295.3 346.9 295.2 347.1 295.0 347.4 294.9 347.6 294.9 347.9 294.8 348.1 294.8 348.4 294.8 348.6 294.9 348.9 295.0 349.1 295.1 349.4 295.2 349.6 295.3 349.9 295.4 350.1 295.5 350.4 295.5 350.6 295.6 354.6 295.6 354.9 295.5 355.1 295.5 355.4 295.4 355.6 295.3 355.9 295.3 356.1 295.2 356.4 295.1 356.6 295.0 356.9 295.0 357.1 295.0 357.4 295.0 357.6 295.1 357.9 295.2 358.1 295.2 358.4 295.3 358.6 295.4 358.9 295.5 359.1 295.5 359.4 295.5 359.6 295.6 368.1 295.6 368.4 295.5 368.6 295.5 368.9 295.4 369.1 295.4 369.4 295.2 369.6 295.1 369.9 294.9 370.1 294.8 370.4 294.6 370.6 294.5 370.9 294.4 371.1 294.4 371.4 294.5 371.6 294.6 371.9 294.7 372.1 294.9 372.4 295.1 372.6 295.2 372.9 295.3 373.1 295.4 373.4 295.3 373.6 295.1 373.9 294.8 374.1 294.4 374.4 293.9 374.6 293.2 374.9 292.5 375.1 291.8 375.4 291.2 375.6 290.8 375.9 290.6 376.1 290.7 376.4 291.0 376.6 291.6 376.9 292.3 377.1 293.0 377.4 293.6 377.6 294.2 377.9 294.7 378.1 295.0 378.4 295.3 378.6 295.4 378.9 295.5 379.1 295.5 379.4 295.5 379.6 295.5 379.9 295.4 380.1 295.4 380.4 295.2 380.6 295.1 380.9 294.9 381.1 294.8 381.4 294.6 381.6 294.5 381.9 294.4 382.1 294.4 382.4 294.5 382.6 294.6 382.9 294.7 383.1 294.9 383.4 295.1 383.6 295.2 383.9 295.3 384.1 295.4 384.4 295.5 384.6 295.5 384.9 295.4 385.1 295.2 385.4 295.1 385.6 294.8 385.9 294.6 386.1 294.3 386.4 294.1 386.6 293.9 386.9 293.8 387.1 293.8 387.4 293.9 387.6 294.1 387.9 294.3 388.1 294.5 388.4 294.8 388.6 295.0 388.9 295.2 389.1 295.3 389.4 295.1 389.6 294.8 389.9 294.5 390.1 294.1 390.4 293.7 390.6 293.3 390.9 293.1 391.1 293.1 391.4 293.3 391.6 293.6 391.9 294.0 392.1 294.4 392.4 294.2 392.6 293.3 392.9 292.0 393.1 290.5 393.4 288.9 393.6 287.5 393.9 286.7 394.1 286.7 394.4 287.3 394.6 288.6 394.9 290.2 395.1 291.7 395.4 292.5 395.6 292.0 395.9 291.7 396.1 291.6 396.4 291.9 396.6 292.4 396.9 293.0 397.1 293.6 397.4 294.2 397.6 294.7 397.9 295.1 398.1 295.3 398.4 295.4 398.6 295.5 398.9 295.6 402.6 295.6 402.9 295.5 403.1 295.5 403.4 295.4 403.6 295.3 403.9 295.1 404.1 294.9 404.4 294.6 404.6 294.2 404.9 293.8 405.1 293.4 405.4 293.1 405.6 292.8 405.9 292.6 406.1 292.6 406.4 292.7 406.6 293.0 406.9 293.3 407.1 293.7 407.4 293.2 407.6 292.3 407.9 291.2 408.1 290.0 408.4 289.0 408.6 288.1 408.9 287.7 409.1 287.6 409.4 288.0 409.6 288.8 409.9 289.8 410.1 290.9 410.4 290.9 410.6 289.3 410.9 287.6 411.1 285.9 411.4 284.6 411.6 283.8 411.9 283.6 412.1 284.1 412.4 285.1 412.6 286.6 412.9 288.2 413.1 289.9 413.4 291.5 413.6 291.4 413.9 290.6 414.1 290.0 414.4 289.7 414.6 289.6 414.9 289.9 415.1 290.5 415.4 291.2 415.6 292.1 415.9 292.9 416.1 293.5 416.4 293.1 416.6 292.8 416.9 292.6 417.1 292.6 417.4 292.8 417.6 293.0 417.9 293.4 418.1 293.8 418.4 294.3 418.6 294.3 418.9 293.9 419.1 293.5 419.4 293.1 419.6 292.8 419.9 292.6 420.1 292.6 420.4 292.8 420.6 293.0 420.9 293.4 421.1 293.8 421.4 294.3 421.6 294.6 421.9 294.9 422.1 295.2 422.4 295.3 422.6 295.5 422.9 295.5 423.1 295.6 434.1 295.6 434.4 295.5 434.6 295.5 434.9 295.4 435.1 295.4 435.4 295.2 435.6 295.1 435.9 294.9 436.1 294.8 436.4 294.6 436.6 294.5 436.9 294.4 437.1 294.4 437.4 294.5 437.6 294.6 437.9 294.7 438.1 294.9 438.4 295.1 438.6 295.2 438.9 295.3 439.1 295.4 439.4 295.3 439.6 295.2 439.9 295.0 440.1 294.9 440.4 294.8 440.6 294.7 440.9 294.6 441.1 294.6 441.4 294.7 441.6 294.7 441.9 294.9 442.1 295.0 442.4 295.2 442.6 295.3 442.9 295.4 443.1 295.5 443.4 295.5 443.6 295.6 459.4 295.6 459.6 295.5 459.9 295.5 460.1 295.4 460.4 295.4 460.6 295.3 460.9 295.2 461.1 295.0 461.4 294.9 461.6 294.9 461.9 294.8 462.1 294.8 462.4 294.8 462.6 294.9 462.9 295.0 463.1 295.1 463.4 295.2 463.6 295.3 463.9 295.4 464.1 295.5 464.4 295.5 464.6 295.6 472.4 295.6 472.6 295.5 472.9 295.5 473.1 295.4 473.4 295.3 473.6 295.2 473.9 295.0 474.1 294.9 474.4 294.8 474.6 294.7 474.9 294.6 475.1 294.6 475.4 294.7 475.6 294.7 475.9 294.9 476.1 295.0 476.4 295.1 476.6 294.8 476.9 294.6 477.1 294.3 477.4 294.1 477.6 293.9 477.9 293.8 478.1 293.8 478.4 293.9 478.6 294.1 478.9 294.3 479.1 294.5 479.4 294.8 479.6 295.0 479.9 295.2 480.1 295.3 480.4 295.2 480.6 295.1 480.9 294.9 481.1 294.8 481.4 294.6 481.6 294.5 481.9 294.4 482.1 294.4 482.4 294.5 482.6 294.6 482.9 294.7 483.1 294.9 483.4 295.1 483.6 295.2 483.9 295.3 484.1 295.4 484.4 295.5 484.6 295.5 484.9 295.6 491.6 295.6 491.6 295.6Z" fill="#db7b1c"/>
<line x1="330.6" y1="295.6" x2="491.6" y2="295.6" stroke="#e8a060" stroke-width="0.6"/>
<path d="M330.6 313.9 330.6 313.9 335.4 313.9 335.6 313.8 335.9 313.8 336.1 313.7 336.4 313.7 336.6 313.6 336.9 313.5 337.1 313.3 337.4 313.2 337.6 313.2 337.9 313.1 338.1 313.1 338.4 313.1 338.6 313.2 338.9 313.3 339.1 313.4 339.4 313.5 339.6 313.6 339.9 313.7 340.1 313.8 340.4 313.8 340.6 313.9 344.4 313.9 344.6 313.8 344.9 313.8 345.1 313.8 345.4 313.7 345.6 313.7 345.9 313.6 346.1 313.5 346.4 313.4 346.6 313.3 346.9 313.2 347.1 313.1 347.4 313.0 347.6 312.9 347.9 312.9 348.1 312.9 348.4 312.9 348.6 313.0 348.9 313.1 349.1 313.2 349.4 313.3 349.6 313.4 349.9 313.5 350.1 313.6 350.4 313.6 350.6 313.7 350.9 313.8 351.1 313.8 351.4 313.8 351.6 313.9 355.4 313.9 355.6 313.8 355.9 313.8 356.1 313.7 356.4 313.7 356.6 313.6 356.9 313.5 357.1 313.3 357.4 313.2 357.6 313.2 357.9 313.1 358.1 313.1 358.4 313.1 358.6 313.2 358.9 313.3 359.1 313.4 359.4 313.5 359.6 313.6 359.9 313.7 360.1 313.8 360.4 313.8 360.6 313.8 360.9 313.8 361.1 313.8 361.4 313.8 361.6 313.8 361.9 313.8 362.1 313.8 362.4 313.8 362.6 313.8 362.9 313.8 363.1 313.8 363.4 313.8 363.6 313.8 363.9 313.8 364.1 313.8 364.4 313.8 364.6 313.8 364.9 313.8 365.1 313.8 365.4 313.8 365.6 313.8 365.9 313.7 366.1 313.6 366.4 313.5 366.6 313.4 366.9 313.2 367.1 313.0 367.4 312.8 367.6 312.7 367.9 312.6 368.1 312.6 368.4 312.7 368.6 312.8 368.9 313.0 369.1 313.1 369.4 313.3 369.6 313.5 369.9 313.6 370.1 313.6 370.4 313.4 370.6 313.2 370.9 313.0 371.1 312.8 371.4 312.6 371.6 312.4 371.9 312.3 372.1 312.3 372.4 312.4 372.6 312.5 372.9 312.7 373.1 313.0 373.4 313.1 373.6 312.7 373.9 312.2 374.1 311.7 374.4 311.0 374.6 310.4 374.9 309.8 375.1 309.4 375.4 309.1 375.6 309.1 375.9 309.3 376.1 309.7 376.4 310.3 376.6 310.9 376.9 311.5 377.1 312.1 377.4 312.2 377.6 311.8 377.9 311.4 378.1 311.1 378.4 310.9 378.6 310.9 378.9 311.1 379.1 311.3 379.4 311.7 379.6 312.1 379.9 312.6 380.1 312.9 380.4 313.2 380.6 313.2 380.9 313.2 381.1 313.2 381.4 313.1 381.6 312.9 381.9 312.5 382.1 312.2 382.4 311.8 382.6 311.6 382.9 311.4 383.1 311.4 383.4 311.5 383.6 311.8 383.9 312.1 384.1 312.4 384.4 312.8 384.6 313.0 384.9 312.6 385.1 312.0 385.4 311.4 385.6 310.6 385.9 309.8 386.1 309.0 386.4 308.3 386.6 307.8 386.9 307.5 387.1 307.4 387.4 307.7 387.6 308.2 387.9 308.8 388.1 309.6 388.4 310.4 388.6 311.2 388.9 311.9 389.1 312.5 389.4 312.2 389.6 311.8 389.9 311.4 390.1 311.1 390.4 310.9 390.6 310.9 390.9 311.1 391.1 311.3 391.4 311.7 391.6 312.1 391.9 312.6 392.1 312.7 392.4 312.7 392.6 312.6 392.9 312.2 393.1 311.8 393.4 311.4 393.6 311.1 393.9 310.9 394.1 310.9 394.4 311.1 394.6 311.3 394.9 311.7 395.1 312.1 395.4 312.5 395.6 312.0 395.9 311.5 396.1 311.0 396.4 310.5 396.6 310.1 396.9 309.9 397.1 309.9 397.4 310.1 397.6 310.4 397.9 310.9 398.1 311.4 398.4 311.9 398.6 312.4 398.9 312.7 399.1 312.7 399.4 312.7 399.6 312.5 399.9 312.4 400.1 312.4 400.4 312.5 400.6 312.6 400.9 312.8 401.1 312.8 401.4 312.8 401.6 312.8 401.9 312.8 402.1 312.8 402.4 312.9 402.6 312.9 402.9 312.9 403.1 312.9 403.4 312.9 403.6 312.9 403.9 312.8 404.1 312.5 404.4 312.2 404.6 312.0 404.9 311.9 405.1 311.9 405.4 312.0 405.6 312.2 405.9 312.4 406.1 312.7 406.4 312.9 406.6 312.3 406.9 311.5 407.1 310.6 407.4 309.5 407.6 308.3 407.9 307.3 408.1 306.4 408.4 306.0 408.6 305.9 408.9 306.3 409.1 307.1 409.4 308.1 409.6 309.2 409.9 308.3 410.1 306.9 410.4 305.6 410.6 304.6 410.9 304.0 411.1 303.9 411.4 304.4 411.6 305.4 411.9 306.6 412.1 308.1 412.4 309.5 412.6 310.7 412.9 310.9 413.1 309.7 413.4 308.3 413.6 306.9 413.9 305.6 414.1 304.6 414.4 304.0 414.6 303.9 414.9 304.4 415.1 305.4 415.4 306.6 415.6 308.1 415.9 309.5 416.1 310.7 416.4 311.7 416.6 311.8 416.9 311.1 417.1 310.4 417.4 309.8 417.6 309.2 417.9 308.9 418.1 308.9 418.4 309.2 418.6 309.6 418.9 310.3 419.1 310.7 419.4 309.8 419.6 308.9 419.9 308.1 420.1 307.5 420.4 307.2 420.6 307.1 420.9 307.4 421.1 308.0 421.4 308.8 421.6 309.7 421.9 310.6 422.1 311.4 422.4 311.7 422.6 311.1 422.9 310.6 423.1 310.2 423.4 309.9 423.6 309.9 423.9 310.1 424.1 310.5 424.4 311.0 424.6 311.6 424.9 312.1 425.1 312.5 425.4 312.2 425.6 312.0 425.9 311.9 426.1 311.9 426.4 312.0 426.6 312.2 426.9 312.4 427.1 312.7 427.4 313.0 427.6 313.3 427.9 313.5 428.1 313.6 428.4 313.7 428.6 313.8 428.9 313.8 429.1 313.8 429.4 313.8 429.6 313.8 429.9 313.8 430.1 313.8 430.4 313.8 430.6 313.8 430.9 313.9 437.4 313.9 437.6 313.8 437.9 313.8 438.1 313.7 438.4 313.6 438.6 313.5 438.9 313.3 439.1 313.2 439.4 313.1 439.6 313.0 439.9 312.9 440.1 312.9 440.4 313.0 440.6 313.0 440.9 313.2 441.1 313.3 441.4 313.5 441.6 313.6 441.9 313.7 442.1 313.8 442.4 313.8 442.6 313.9 449.4 313.9 449.6 313.8 449.9 313.8 450.1 313.7 450.4 313.7 450.6 313.6 450.9 313.5 451.1 313.3 451.4 313.2 451.6 313.2 451.9 313.1 452.1 313.1 452.4 313.1 452.6 313.2 452.9 313.3 453.1 313.4 453.4 313.5 453.6 313.6 453.9 313.7 454.1 313.8 454.4 313.8 454.6 313.9 459.4 313.9 459.6 313.8 459.9 313.8 460.1 313.7 460.4 313.7 460.6 313.6 460.9 313.5 461.1 313.3 461.4 313.2 461.6 313.2 461.9 313.1 462.1 313.1 462.4 313.1 462.6 313.2 462.9 313.3 463.1 313.4 463.4 313.5 463.6 313.6 463.9 313.7 464.1 313.8 464.4 313.8 464.6 313.9 469.4 313.9 469.6 313.8 469.9 313.8 470.1 313.7 470.4 313.6 470.6 313.5 470.9 313.4 471.1 313.3 471.4 313.2 471.6 313.1 471.9 313.0 472.1 313.0 472.4 313.0 472.6 313.1 472.9 313.2 473.1 313.4 473.4 313.5 473.6 313.6 473.9 313.7 474.1 313.8 474.4 313.8 474.6 313.9 482.6 313.9 482.9 313.8 483.1 313.8 483.4 313.7 483.6 313.6 483.9 313.5 484.1 313.3 484.4 313.0 484.6 312.7 484.9 312.3 485.1 312.0 485.4 311.7 485.6 311.5 485.9 311.3 486.1 311.3 486.4 311.4 486.6 311.6 486.9 311.9 487.1 312.3 487.4 312.5 487.6 312.0 487.9 311.6 488.1 311.3 488.4 311.1 488.6 311.1 488.9 311.3 489.1 311.6 489.4 312.0 489.6 312.4 489.9 312.8 490.1 313.1 490.4 313.4 490.6 313.6 490.9 313.7 491.1 313.8 491.4 313.9 491.6 313.9 491.6 313.9Z" fill="#a5161e"/>
<line x1="330.6" y1="313.9" x2="491.6" y2="313.9" stroke="#c85050" stroke-width="0.6"/>
<path d="M330.6 332.3 330.6 332.3 347.4 332.3 347.6 332.2 347.9 332.2 348.1 332.1 348.4 332.1 348.6 332.0 348.9 331.9 349.1 331.7 349.4 331.6 349.6 331.6 349.9 331.5 350.1 331.5 350.4 331.5 350.6 331.6 350.9 331.7 351.1 331.8 351.4 331.9 351.6 332.0 351.9 332.1 352.1 332.2 352.4 332.2 352.6 332.3 367.4 332.3 367.6 332.2 367.9 332.2 368.1 332.1 368.4 332.1 368.6 332.0 368.9 331.9 369.1 331.7 369.4 331.6 369.6 331.6 369.9 331.5 370.1 331.5 370.4 331.5 370.6 331.6 370.9 331.7 371.1 331.8 371.4 331.9 371.6 332.0 371.9 332.1 372.1 332.2 372.4 332.2 372.6 332.3 376.4 332.3 376.6 332.2 376.9 332.2 377.1 332.2 377.4 332.1 377.6 332.1 377.9 332.0 378.1 331.9 378.4 331.8 378.6 331.7 378.9 331.6 379.1 331.5 379.4 331.3 379.6 331.2 379.9 331.1 380.1 331.0 380.4 330.9 380.6 330.8 380.9 330.8 381.1 330.8 381.4 330.8 381.6 330.9 381.9 331.0 382.1 331.1 382.4 331.2 382.6 330.9 382.9 330.6 383.1 330.3 383.4 330.0 383.6 329.7 383.9 329.5 384.1 329.2 384.4 329.0 384.6 328.9 384.9 328.8 385.1 328.8 385.4 328.9 385.6 329.0 385.9 329.2 386.1 329.4 386.4 329.7 386.6 330.0 386.9 329.9 387.1 329.5 387.4 329.1 387.6 328.6 387.9 328.3 388.1 327.9 388.4 327.6 388.6 327.4 388.9 327.3 389.1 327.3 389.4 327.4 389.6 327.6 389.9 327.8 390.1 328.2 390.4 328.6 390.6 329.0 390.9 329.4 391.1 329.3 391.4 328.7 391.6 328.2 391.9 327.6 392.1 327.2 392.4 326.8 392.6 326.5 392.9 326.3 393.1 326.3 393.4 326.4 393.6 326.7 393.9 327.1 394.1 327.5 394.4 328.0 394.6 328.6 394.9 329.2 395.1 329.1 395.4 328.2 395.6 327.4 395.9 326.6 396.1 325.8 396.4 325.1 396.6 324.6 396.9 324.3 397.1 324.3 397.4 324.5 397.6 325.0 397.9 325.6 398.1 326.4 398.4 327.2 398.6 328.1 398.9 328.9 399.1 329.5 399.4 328.9 399.6 328.3 399.9 327.7 400.1 327.2 400.4 326.8 400.6 326.5 400.9 326.3 401.1 326.3 401.4 326.4 401.6 326.7 401.9 327.1 402.1 327.6 402.4 328.2 402.6 328.8 402.9 329.3 403.1 329.9 403.4 330.3 403.6 330.0 403.9 329.6 404.1 329.3 404.4 329.1 404.6 328.9 404.9 328.8 405.1 328.8 405.4 328.9 405.6 329.1 405.9 329.3 406.1 329.6 406.4 329.9 406.6 330.2 406.9 330.6 407.1 330.9 407.4 331.2 407.6 331.1 407.9 330.9 408.1 330.7 408.4 330.5 408.6 330.4 408.9 330.3 409.1 330.3 409.4 330.4 409.6 330.5 409.9 330.6 410.1 330.8 410.4 331.0 410.6 331.2 410.9 331.4 411.1 331.6 411.4 331.8 411.6 331.9 411.9 332.0 412.1 332.1 412.4 331.9 412.6 331.8 412.9 331.6 413.1 331.5 413.4 331.3 413.6 331.2 413.9 331.1 414.1 331.1 414.4 331.2 414.6 331.3 414.9 331.4 415.1 331.6 415.4 331.8 415.6 331.9 415.9 332.0 416.1 332.1 416.4 332.2 416.6 332.2 416.9 332.1 417.1 332.0 417.4 331.9 417.6 331.7 417.9 331.5 418.1 331.3 418.4 331.1 418.6 330.9 418.9 330.8 419.1 330.8 419.4 330.9 419.6 331.0 419.9 331.2 420.1 331.4 420.4 331.6 420.6 331.8 420.9 332.0 421.1 332.0 421.4 331.9 421.6 331.7 421.9 331.5 422.1 331.3 422.4 331.1 422.6 330.9 422.9 330.8 423.1 330.8 423.4 330.9 423.6 331.0 423.9 331.2 424.1 331.4 424.4 331.6 424.6 331.8 424.9 332.0 425.1 332.1 425.4 332.2 425.6 332.2 425.9 332.3 427.4 332.3 427.6 332.2 427.9 332.2 428.1 332.1 428.4 332.0 428.6 331.9 428.9 331.7 429.1 331.6 429.4 331.5 429.6 331.4 429.9 331.3 430.1 331.3 430.4 331.4 430.6 331.4 430.9 331.6 431.1 331.7 431.4 331.9 431.6 332.0 431.9 332.1 432.1 332.2 432.4 332.2 432.6 332.3 437.6 332.3 437.9 332.2 438.1 332.2 438.4 332.1 438.6 332.0 438.9 332.0 439.1 331.9 439.4 331.8 439.6 331.7 439.9 331.7 440.1 331.7 440.4 331.7 440.6 331.8 440.9 331.9 441.1 331.9 441.4 332.0 441.6 332.1 441.9 332.2 442.1 332.2 442.4 332.2 442.6 332.3 467.6 332.3 467.9 332.2 468.1 332.2 468.4 332.1 468.6 332.0 468.9 332.0 469.1 331.9 469.4 331.8 469.6 331.7 469.9 331.7 470.1 331.7 470.4 331.7 470.6 331.8 470.9 331.9 471.1 331.9 471.4 332.0 471.6 332.1 471.9 332.2 472.1 332.2 472.4 332.2 472.6 332.3 482.4 332.3 482.6 332.2 482.9 332.2 483.1 332.1 483.4 332.1 483.6 332.0 483.9 331.9 484.1 331.7 484.4 331.6 484.6 331.6 484.9 331.5 485.1 331.5 485.4 331.5 485.6 331.6 485.9 331.7 486.1 331.8 486.4 331.9 486.6 332.0 486.9 332.1 487.1 332.2 487.4 332.2 487.6 332.3 491.6 332.3 491.6 332.3Z" fill="#2733b0"/>
<line x1="330.6" y1="332.3" x2="491.6" y2="332.3" stroke="#5a68c4" stroke-width="0.5"/>
<path d="M330.6 351.1 330.6 351.1 332.4 351.1 332.6 351.0 332.9 351.0 333.1 350.9 333.4 350.9 333.6 350.8 333.9 350.7 334.1 350.5 334.4 350.4 334.6 350.4 334.9 350.3 335.1 350.3 335.4 350.3 335.6 350.4 335.9 350.5 336.1 350.6 336.4 350.7 336.6 350.8 336.9 350.9 337.1 351.0 337.4 351.0 337.6 351.1 340.4 351.1 340.6 351.0 340.9 351.0 341.1 350.9 341.4 350.9 341.6 350.8 341.9 350.7 342.1 350.5 342.4 350.4 342.6 350.4 342.9 350.3 343.1 350.3 343.4 350.3 343.6 350.4 343.9 350.5 344.1 350.6 344.4 350.7 344.6 350.8 344.9 350.9 345.1 351.0 345.4 351.0 345.6 351.1 346.4 351.1 346.6 351.0 346.9 351.0 347.1 350.9 347.4 350.8 347.6 350.7 347.9 350.5 348.1 350.2 348.4 349.9 348.6 349.6 348.9 349.2 349.1 348.8 349.4 348.5 349.6 348.3 349.9 348.1 350.1 348.1 350.4 348.2 350.6 348.5 350.9 348.8 351.1 349.1 351.4 349.5 351.6 349.9 351.9 350.2 352.1 350.1 352.4 349.9 352.6 349.7 352.9 349.6 353.1 349.6 353.4 349.7 353.6 349.8 353.9 350.0 354.1 350.2 354.4 350.4 354.6 350.6 354.9 350.8 355.1 350.9 355.4 351.0 355.6 351.0 355.9 351.1 358.9 351.1 359.1 351.0 359.4 351.0 359.6 351.0 359.9 351.0 360.1 351.0 360.4 351.0 360.6 351.0 360.9 351.0 361.1 350.9 361.4 350.8 361.6 350.7 361.9 350.5 362.1 350.4 362.4 350.3 362.6 350.2 362.9 350.1 363.1 350.1 363.4 350.2 363.6 350.2 363.9 350.4 364.1 350.5 364.4 350.7 364.6 350.8 364.9 350.9 365.1 350.9 365.4 350.9 365.6 350.9 365.9 350.8 366.1 350.7 366.4 350.6 366.6 350.4 366.9 350.2 367.1 349.9 367.4 349.6 367.6 349.3 367.9 348.9 368.1 348.6 368.4 348.4 368.6 348.2 368.9 348.1 369.1 348.1 369.4 348.2 369.6 348.4 369.9 348.6 370.1 348.9 370.4 349.2 370.6 349.5 370.9 349.5 371.1 349.1 371.4 348.6 371.6 348.0 371.9 347.5 372.1 347.0 372.4 346.6 372.6 346.3 372.9 346.1 373.1 346.1 373.4 346.3 373.6 346.5 373.9 346.9 374.1 347.4 374.4 347.9 374.6 348.5 374.9 349.0 375.1 348.4 375.4 347.4 375.6 346.3 375.9 345.1 376.1 343.9 376.4 342.9 376.6 342.1 376.9 341.7 377.1 341.6 377.4 342.0 377.6 342.7 377.9 343.7 378.1 344.8 378.4 346.0 378.6 347.2 378.9 348.2 379.1 348.7 379.4 348.1 379.6 347.4 379.9 346.8 380.1 346.2 380.4 345.7 380.6 345.3 380.9 345.1 381.1 345.1 381.4 345.3 381.6 345.6 381.9 346.1 382.1 346.7 382.4 347.3 382.6 347.9 382.9 348.5 383.1 348.5 383.4 347.8 383.6 347.1 383.9 346.4 384.1 345.8 384.4 345.3 384.6 344.9 384.9 344.6 385.1 344.6 385.4 344.8 385.6 345.2 385.9 345.7 386.1 346.3 386.4 347.0 386.6 347.7 386.9 348.3 387.1 347.9 387.4 347.0 387.6 346.2 387.9 345.4 388.1 344.6 388.4 343.9 388.6 343.4 388.9 343.1 389.1 343.1 389.4 343.3 389.6 343.8 389.9 344.4 390.1 345.2 390.4 344.5 390.6 343.1 390.9 341.8 391.1 340.8 391.4 340.2 391.6 340.1 391.9 340.6 392.1 341.5 392.4 342.8 392.6 344.2 392.9 345.7 393.1 344.8 393.4 343.6 393.6 342.7 393.9 342.2 394.1 342.1 394.4 342.6 394.6 343.4 394.9 344.6 395.1 345.8 395.4 344.8 395.6 342.9 395.9 341.1 396.1 339.7 396.4 338.8 396.6 338.8 396.9 339.5 397.1 340.8 397.4 342.5 397.6 344.4 397.9 346.2 398.1 347.6 398.4 347.7 398.6 347.7 398.9 347.7 399.1 347.7 399.4 347.4 399.6 346.9 399.9 346.6 400.1 346.6 400.4 346.8 400.6 347.3 400.9 347.8 401.1 347.9 401.4 347.9 401.6 347.9 401.9 347.8 402.1 346.9 402.4 346.1 402.6 345.5 402.9 345.2 403.1 345.1 403.4 345.4 403.6 346.0 403.9 346.7 404.1 347.6 404.4 348.3 404.6 347.3 404.9 346.1 405.1 344.8 405.4 343.6 405.6 342.7 405.9 342.2 406.1 342.1 406.4 342.6 406.6 343.4 406.9 344.6 407.1 345.8 407.4 347.1 407.6 346.7 407.9 345.0 408.1 343.2 408.4 341.4 408.6 340.0 408.9 339.2 409.1 339.2 409.4 339.8 409.6 341.1 409.9 342.8 410.1 344.6 410.4 344.0 410.6 341.8 410.9 339.8 411.1 338.2 411.4 337.3 411.6 337.2 411.9 337.9 412.1 339.4 412.4 341.4 412.6 343.5 412.9 342.8 413.1 341.8 413.4 341.2 413.6 341.1 413.9 341.6 414.1 342.6 414.4 343.8 414.6 345.3 414.9 345.5 415.1 343.8 415.4 342.2 415.6 341.0 415.9 340.2 416.1 340.2 416.4 340.8 416.6 341.9 416.9 343.5 417.1 345.2 417.4 346.7 417.6 345.5 417.9 344.5 418.1 343.6 418.4 343.2 418.6 343.1 418.9 343.5 419.1 344.3 419.4 345.3 419.6 344.8 419.9 343.4 420.1 342.3 420.4 341.7 420.6 341.6 420.9 342.2 421.1 343.2 421.4 344.5 421.6 346.0 421.9 347.4 422.1 346.9 422.4 346.1 422.6 345.5 422.9 345.2 423.1 345.1 423.4 345.4 423.6 346.0 423.9 346.7 424.1 347.6 424.4 348.4 424.6 349.2 424.9 349.4 425.1 349.0 425.4 348.6 425.6 348.3 425.9 348.1 426.1 348.1 426.4 348.3 426.6 348.5 426.9 348.9 427.1 349.3 427.4 349.8 427.6 350.1 427.9 350.3 428.1 350.1 428.4 349.9 428.6 349.7 428.9 349.6 429.1 349.6 429.4 349.7 429.6 349.8 429.9 350.0 430.1 350.2 430.4 350.4 430.6 350.6 430.9 350.8 431.1 350.9 431.4 351.0 431.6 351.0 431.9 351.0 432.1 351.0 432.4 351.0 432.6 351.0 432.9 351.0 433.1 351.0 433.4 351.1 437.4 351.1 437.6 351.0 437.9 351.0 438.1 350.9 438.4 350.8 438.6 350.7 438.9 350.5 439.1 350.4 439.4 350.3 439.6 350.2 439.9 350.1 440.1 350.1 440.4 350.2 440.6 350.2 440.9 350.4 441.1 350.5 441.4 350.7 441.6 350.8 441.9 350.9 442.1 351.0 442.4 351.0 442.6 351.1 452.4 351.1 452.6 351.0 452.9 351.0 453.1 350.9 453.4 350.9 453.6 350.8 453.9 350.7 454.1 350.5 454.4 350.4 454.6 350.4 454.9 350.3 455.1 350.3 455.4 350.3 455.6 350.4 455.9 350.5 456.1 350.6 456.4 350.7 456.6 350.8 456.9 350.9 457.1 351.0 457.4 351.0 457.6 351.1 467.4 351.1 467.6 351.0 467.9 351.0 468.1 350.9 468.4 350.8 468.6 350.7 468.9 350.5 469.1 350.4 469.4 350.3 469.6 350.2 469.9 350.1 470.1 350.1 470.4 350.2 470.6 350.2 470.9 350.4 471.1 350.5 471.4 350.7 471.6 350.8 471.9 350.9 472.1 351.0 472.4 351.0 472.6 351.1 479.9 351.1 480.1 351.0 480.4 351.0 480.6 351.0 480.9 350.9 481.1 350.8 481.4 350.6 481.6 350.4 481.9 350.1 482.1 349.8 482.4 349.5 482.6 349.1 482.9 348.7 483.1 348.3 483.4 348.0 483.6 347.8 483.9 347.6 484.1 347.6 484.4 347.7 484.6 347.9 484.9 348.2 485.1 348.6 485.4 349.0 485.6 348.8 485.9 348.1 486.1 347.5 486.4 346.9 486.6 346.4 486.9 346.1 487.1 346.1 487.4 346.3 487.6 346.8 487.9 347.3 488.1 348.0 488.4 348.6 488.6 349.0 488.9 348.6 489.1 348.3 489.4 348.1 489.6 348.1 489.9 348.3 490.1 348.5 490.4 348.9 490.6 349.3 490.9 349.8 491.1 350.1 491.4 350.4 491.6 350.7 491.6 351.1Z" fill="#a5161e"/>
<line x1="330.6" y1="351.1" x2="491.6" y2="351.1" stroke="#c85050" stroke-width="0.6"/>
<path d="M403.4 365.8 V361.1 H408.6" fill="none" stroke="#111" stroke-width="0.6"/>
<path d="M408.3 359.6 L411 361.1 L408.3 362.6 Z" fill="#111"/>
<line x1="403.4" y1="369.9" x2="455.7" y2="369.9" stroke="#111" stroke-width="0.8"/>
<rect x="402.8" y="366.7" width="6.1" height="6.4" fill="#000"/>
<rect x="422.9" y="366.7" width="1.9" height="6.4" fill="#000"/>
<rect x="433" y="366.7" width="7" height="6.4" fill="#000"/>
<rect x="440" y="368.1" width="16" height="3.9" fill="#000"/>
<text x="398.2" y="382.1" font-size="7.1" font-style="italic">SOX8</text>
<text x="2" y="390" font-size="9.5" fill="#000" font-weight="bold">j</text>
<text x="114.5" y="388.2" font-size="6.65" font-weight="bold">BRG1 signal over DARs opened upon ZIC2 expression</text>
<defs><linearGradient id="jg21g" gradientUnits="userSpaceOnUse" x1="21.5" y1="0" x2="54.2" y2="0"><stop offset="0" stop-color="#d0d0d0"/><stop offset="0.5" stop-color="#d0d0d0"/><stop offset="1" stop-color="#d0d0d0" stop-opacity="0"/></linearGradient></defs>
<path d="M21.5 449.9 22.6 449.2 23.8 448.5 24.9 447.9 26 447.2 27.1 446.6 28.3 446.6 29.4 446.6 30.5 446.6 31.7 446.6 32.8 446.6 33.9 446.6 35 446.6 36.2 446.6 37.3 446.6 38.4 446.6 39.6 446.6 40.7 446.6 41.8 446.6 42.9 446.6 44.1 446.6 45.2 446.6 46.3 446.6 47.5 446.6 48.6 446.6 49.7 446.6 50.8 446.6 52 446.6 53.1 446.6 54.2 446.6 54.2 461.3 53.1 461.3 52 461.3 50.8 461.3 49.7 461.3 48.6 461.3 47.5 461.3 46.3 461.3 45.2 461.3 44.1 461.3 42.9 461.3 41.8 461.3 40.7 461.3 39.6 461.3 38.4 461.3 37.3 461.3 36.2 461.3 35 461.3 33.9 461.3 32.8 461.3 31.7 460.8 30.5 460.3 29.4 459.7 28.3 459.1 27.1 458.5 26 458 24.9 457.4 23.8 456.8 22.6 456.2 21.5 455.6Z" fill="url(#jg21g)"/>
<defs><linearGradient id="jg21r" gradientUnits="userSpaceOnUse" x1="21.5" y1="0" x2="64.5" y2="0"><stop offset="0" stop-color="#f19080"/><stop offset="0.55" stop-color="#f19080"/><stop offset="1" stop-color="#f19080" stop-opacity="0"/></linearGradient></defs>
<path d="M24 446.6 25.1 442.7 26.1 439.8 27.1 437.5 28.2 435.6 29.2 434 30.2 432.6 31.3 431.3 32.3 430.2 33.4 429.2 34.4 428.2 35.4 427.3 36.5 426.5 37.5 425.8 38.5 425.1 39.6 424.4 40.6 423.8 41.7 423.2 42.7 422.6 43.7 422.1 44.8 421.6 45.8 421.1 46.8 420.6 47.9 420.2 48.9 419.7 49.9 419.3 51 418.9 52 418.5 53.1 418.1 54.1 417.8 55.1 417.4 56.2 417.1 57.2 416.8 58.2 416.4 59.3 416.1 60.3 415.8 61.4 415.5 62.4 415.2 63.4 414.9 64.5 414.7 64.5 446.6 24 446.6Z" fill="url(#jg21r)"/>
<path d="M21.8 450.5h.8m-.8 1.6h.8m-.8 .6h.8m-.7 1.1h.8m1.2-6.7h.8m-1.5 .3h.8m-.8 .4h.8m-.7 .1h.8m-.7 .4h.8m-1.8 .3h.8m-.4 .1h.8m-1.1 .2h.8m.5 .1h.8m-2.1 0h.8m.3 .2h.8m-.7 .3h.8m-2.4 .1h.8m-.4 .4h.8m-.5 .2h.8m-.7 0h.8m.2 .1h.8m-.8 .1h.8m-.8 .1h.8m-1.7 .2h.8m-.7 0h.8m-.8 0h.8m-.3 .1h.8m-1.6 .1h.8m-1.4 0h.8m-.1 0h.8m-.3 0h.8m-1.6 0h.8m.4 .1h.8m-.9 0h.8m-.7 0h.8m-.8 .1h.8m-1 .2h.8m-.6 .1h.8m-2.3 .1h.8m.8 .1h.8m-2.1 0h.8m.3 0h.8m-2.5 .2h.8m.7 0h.8m-1.8 .1h.8m.3 .1h.8m-1.3 0h.8m-1.5 0h.8m0 0h.8m-.2 .1h.8m-2.3 0h.8m.3 0h.8m-1.8 .1h.8m-.5 .1h.8m0 .1h.8m-.5 .1h.8m-1.1 0h.8m-.9 0h.8m-.4 .1h.8m-2.2 0h.8m.3 .1h.8m-1.2 0h.8m-.4 0h.8m-.8 .1h.8m-.4 .1h.8m-1.4 .1h.8m-1 .1h.8m-1.3 .1h.8m-.5 .1h.8m-1.6 0h.8m-.7 .2h.8m.5 0h.8m-.4 0h.8m-1.9 .1h.8m-.2 .1h.8m-1.6 .2h.8m-1.2 0h.8m.7 0h.8m-1.6 .2h.8m-1.3 0h.8m0 .1h.8m-1.2 .1h.8m.1 0h.8m-2.2 .2h.8m.4 0h.8m-.5 0h.8m-1.8 0h.8m-.1 .2h.8m-.7 0h.8m-1.6 .1h.8m-1.2 0h.8m.3 .3h.8m-2.2 .2h.8m-.1 0h.8m-.9 .1h.8m-1.2 .1h.8m-.6 .3h.8m-1.3 0h.8m.3 .1h.8m-.2 .3h.8m-1.7 0h.8m-1.4 .2h.8m.3 0h.8m-1.3 .4h.8m-1.1 .2h.8m-.2 .5h.8m-1.1 0h.8m-1.4 .9h.8m1.5-11.8h.8m0 0h.8m-.2 0h.8m-.9 0h.8m-.7 0h.8m-1.2 1.1h.8m-1 0h.8m-.7 .1h.8m-1.3 .1h.8m.2 .1h.8m-.8 .1h.8m-1.7 .3h.8m-1.5 .1h.8m-1 .2h.8m.3 0h.8m-.3 .2h.8m-1 0h.8m-1.7 .4h.8m-.9 0h.8m.4 .2h.8m-2.2 .2h.8m-.1 .1h.8m-1 0h.8m-1.2 .1h.8m.3 .1h.8m-1.9 .1h.8m-1 0h.8m-.3 0h.8m.2 .1h.8m-1.3 .1h.8m-1.8 0h.8m-.6 0h.8m-.2 .1h.8m-.8 0h.8m-1 0h.8m-.3 .1h.8m-1.4 0h.8m.3 0h.8m-2.4 .1h.8m.9 0h.8m-1.1 .1h.8m-.8 0h.8m-2.3 0h.8m-.8 .1h.8m.3 0h.8m-1.1 0h.8m-1.7 0h.8m0 0h.8m-.7 .1h.8m-.8 .1h.8m-1.5 .1h.8m.8 .2h.8m-1.1 0h.8m-.9 .1h.8m-1.1 .1h.8m-.9 0h.8m-.6 0h.8m-1.6 .1h.8m0 .2h.8m-.1 0h.8m-.8 0h.8m-2.1 .1h.8m-.8 0h.8m-.8 0h.8m-.1 0h.8m-.9 .1h.8m-.4 0h.8m-.9 .1h.8m-.7 0h.8m-1.4 .2h.8m-.1 0h.8m-1.6 .1h.8m-1.3 0h.8m.7 0h.8m-2.4 .1h.8m.3 .1h.8m-1.7 0h.8m-.5 .1h.8m-.6 .1h.8m-.3 .2h.8m-1.8 .1h.8m-.2 0h.8m-.2 .1h.8m-1.5 0h.8m-.8 .1h.8m-1.6 0h.8m-.8 0h.8m-.2 .2h.8m-.6 .1h.8m-.2 .1h.8m-2.3 0h.8m-.3 0h.8m-1.3 .1h.8m.6 .1h.8m-2 0h.8m-.2 .2h.8m-1.2 .1h.8m0 .1h.8m-.3 0h.8m-.8 0h.8m-2.1 .1h.8m-.5 0h.8m.1 .1h.8m-1.3 0h.8m-1.7 0h.8m-.4 0h.8m-.5 .1h.8m-.9 .1h.8m-1.4 .1h.8m-.1 0h.8m-1.1 0h.8m-.4 .1h.8m-1.8 0h.8m-.7 0h.8m-.8 .1h.8m.3 .1h.8m-.3 0h.8m-1 0h.8m-2.3 .1h.8m-.6 .1h.8m-.2 .1h.8m-.4 .2h.8m-1.4 0h.8m-.3 .2h.8m-1.5 0h.8m.6 .2h.8m-1.6 .2h.8m-.2 0h.8m-2.2 .1h.8m-.1 .1h.8m-1.4 0h.8m-.1 .1h.8m-1.4 .2h.8m.6 .1h.8m-2.1 .1h.8m.5 0h.8m-1.1 .1h.8m-.7 0h.8m-1.7 .1h.8m-1.1 .4h.8m-.4 0h.8m-.3 .1h.8m-1.2 .1h.8m0 .3h.8m-1.4 .1h.8m-.8 0h.8m-1.6 .2h.8m.2 .2h.8m-.6 .1h.8m-1 .1h.8m-2.2 0h.8m-.2 .2h.8m0 .1h.8m-2 .2h.8m-.3 .1h.8m-.7 .4h.8m-.4 .8h.8m-1.8 .8h.8m2.6-14.7h.8m-1 0h.8m-1.1 0h.8m-1.2 0h.8m-.5 0h.8m-.6 0h.8m-1.3 0h.8m0 0h.8m-.9 0h.8m-1.1 0h.8m-.5 .1h.8m-2.1 .6h.8m-.1 .2h.8m-.9 .1h.8m-1.1 0h.8m-.1 .2h.8m-.8 .1h.8m-1 .1h.8m-1.3 .1h.8m-.5 .1h.8m.4 .6h.8m-2.4 .1h.8m-1.1 0h.8m-.7 0h.8m.6 .2h.8m-1.5 .1h.8m-1.4 0h.8m-.2 .1h.8m.3 0h.8m-1.7 .1h.8m-1.7 .6h.8m.6 .1h.8m-1.5 .1h.8m-.8 0h.8m-.5 .1h.8m-.5 .1h.8m-1.7 .1h.8m.3 .1h.8m-1.8 0h.8m-1.4 0h.8m.5 .1h.8m-.8 .2h.8m-2 0h.8m-.2 0h.8m.2 0h.8m-2.3 .3h.8m.7 0h.8m-1.5 0h.8m0 .1h.8m-1 0h.8m-.8 0h.8m-2.1 0h.8m.2 .1h.8m-1 0h.8m-.6 .1h.8m-2.1 0h.8m-.5 .1h.8m-.3 .1h.8m-.7 0h.8m-.3 .1h.8m-1.6 0h.8m-.6 0h.8m-1 .1h.8m.1 0h.8m-.6 0h.8m-2.5 .1h.8m.3 0h.8m-.5 .1h.8m-1.1 0h.8m0 0h.8m-1.3 .2h.8m-1.1 .1h.8m-1.2 .2h.8m-.9 0h.8m-.4 .1h.8m-1.7 0h.8m-.6 0h.8m.8 .1h.8m-1.8 .1h.8m-1 .1h.8m-.8 .1h.8m0 0h.8m-1.7 0h.8m-.9 .2h.8m-.2 0h.8m-.6 0h.8m-2.1 .1h.8m-.1 .1h.8m-.8 0h.8m.2 0h.8m-.8 0h.8m-1.9 .2h.8m-.6 .1h.8m-1.5 0h.8m-.3 .1h.8m-1.1 0h.8m.2 0h.8m-.6 .3h.8m-1.4 .1h.8m-.6 0h.8m-.2 .1h.8m-.9 .1h.8m-1.4 .1h.8m-.7 0h.8m-.8 0h.8m-1.6 .1h.8m-1 0h.8m-.7 .1h.8m.3 .2h.8m-.9 0h.8m-1 0h.8m-.9 .1h.8m-1.2 .2h.8m.5 0h.8m-2.2 .2h.8m-.2 0h.8m-.8 .2h.8m0 .1h.8m-1.3 .3h.8m-.2 0h.8m-1.9 .1h.8m0 0h.8m-1.4 0h.8m-1 .3h.8m-1.4 .1h.8m.9 0h.8m-.8 .2h.8m-2.4 0h.8m.2 0h.8m-1.4 .1h.8m-.4 0h.8m-.3 .3h.8m-.8 .1h.8m-1.9 .3h.8m-.8 .1h.8m-1 .3h.8m-.1 .1h.8m-1.3 .1h.8m.3 .2h.8m-1.2 0h.8m-.8 .2h.8m-.6 0h.8m-2.1 .1h.8m.9 0h.8m-1.7 1.6h.8m-.7 .2h.8m-.8 .5h.8m-.5 .1h.8m.5-14.5h.8m-.1 0h.8m-.5 0h.8m-2.1 0h.8m-.8 0h.8m.4 .5h.8m-.7 .1h.8m-1.9 .3h.8m-1 .1h.8m.6 0h.8m-1.7 0h.8m-1.1 .5h.8m.1 0h.8m-1.6 .3h.8m-1 0h.8m-.8 .1h.8m-.5 .5h.8m-.4 0h.8m-.6 .3h.8m-.2 .1h.8m-2.1 .1h.8m-.5 0h.8m-1.6 .1h.8m-.9 0h.8m.3 .1h.8m-1.3 .5h.8m-.6 0h.8m-1.2 .1h.8m-1 0h.8m.3 .1h.8m-.8 0h.8m-1.6 .1h.8m-1.2 .1h.8m.8 .1h.8m-2.5 .1h.8m-.8 .1h.8m-.1 0h.8m-.1 .1h.8m-.7 0h.8m-.8 .3h.8m-.4 .1h.8m-1.3 .1h.8m-.5 0h.8m-1.4 .1h.8m-1.6 0h.8m-.2 .2h.8m0 0h.8m-2.3 .3h.8m.3 0h.8m-1.2 0h.8m-1.3 .1h.8m-.9 0h.8m.1 .1h.8m-.8 .1h.8m-1.7 0h.8m-.8 .1h.8m.2 .1h.8m-1.2 .1h.8m.1 .1h.8m-1.3 .1h.8m-2 0h.8m-.4 .1h.8m.4 .2h.8m-1.3 0h.8m-.1 .1h.8m-1 0h.8m-1.6 .1h.8m-.2 .1h.8m-.9 0h.8m-2.2 .1h.8m-.6 .3h.8m-.9 0h.8m.1 0h.8m-1.6 0h.8m.1 0h.8m-.3 .3h.8m-1.6 0h.8m-1.2 .1h.8m-.2 0h.8m-1.3 .1h.8m.5 .1h.8m-1.5 .1h.8m-1.1 0h.8m-.8 0h.8m0 .2h.8m-1.8 .2h.8m-1 0h.8m-.4 .2h.8m-.3 .1h.8m-.3 0h.8m-2.5 0h.8m.1 0h.8m-1.5 .3h.8m-.1 .1h.8m-.3 .1h.8m-1.5 .1h.8m-.5 .1h.8m-.6 .1h.8m-2 .1h.8m.7 .1h.8m-1.9 0h.8m.4 .1h.8m-1.3 .2h.8m-.9 .2h.8m-1.3 .1h.8m-.9 .3h.8m-1.3 .1h.8m.2 .1h.8m-.3 .1h.8m-2.1 .2h.8m.5 .3h.8m-.4 .1h.8m-1 0h.8m-1.4 0h.8m-.7 .6h.8m-1.8 .1h.8m.6 .3h.8m-2.3 .6h.8m-.6 0h.8m.3 .7h.8m-.7 1.4h.8m-1.3 .2h.8m1.7-15.4h.8m-.9 0h.8m-.6 0h.8m-1.1 0h.8m-.8 0h.8m-2.1 0h.8m.7 .4h.8m-.6 0h.8m-2.4 .4h.8m.2 .6h.8m-1.3 0h.8m-1.1 .1h.8m-1 .2h.8m-.3 .1h.8m-.2 0h.8m-1.4 .1h.8m.2 0h.8m-1.6 0h.8m-1 .1h.8m.1 .1h.8m-1.8 0h.8m-.6 .1h.8m-.4 0h.8m-1.4 0h.8m-.8 0h.8m0 .1h.8m-.3 .1h.8m-2.3 .1h.8m-1 .5h.8m.8 0h.8m-1.6 .1h.8m-1.2 0h.8m.6 .1h.8m-2.3 .7h.8m.7 .3h.8m-1.9 .1h.8m-1.1 .1h.8m-1.2 0h.8m.9 .2h.8m-2.6 .1h.8m-.4 0h.8m.4 .1h.8m-1.1 0h.8m-1.7 0h.8m-.8 .1h.8m.3 .2h.8m-.9 0h.8m-1.8 0h.8m-.9 .2h.8m.8 0h.8m-2.2 .1h.8m-.5 .1h.8m-1.1 0h.8m-.7 .1h.8m.3 0h.8m-2.5 .3h.8m-.1 .3h.8m0 0h.8m-1.6 .1h.8m-.7 0h.8m-.9 .2h.8m-.1 .1h.8m-1.1 0h.8m-1.9 .2h.8m.2 0h.8m-1.8 .1h.8m.4 .2h.8m-1.3 .2h.8m-.6 .1h.8m-.8 .2h.8m-.3 0h.8m-1.3 .1h.8m-1 .1h.8m-.2 0h.8m-1.2 .2h.8m-.2 0h.8m-1.4 0h.8m-.3 .2h.8m-1 .1h.8m-1.6 .1h.8m-.3 0h.8m-.8 .3h.8m-.8 .4h.8m-.4 0h.8m-1.1 0h.8m-.3 .2h.8m-.6 0h.8m-1.6 0h.8m-.2 .2h.8m-1.3 .3h.8m-.3 0h.8m-1.3 .2h.8m-.9 0h.8m-1 .2h.8m-.5 0h.8m.1 .1h.8m-2.6 .2h.8m1 0h.8m-2.6 .1h.8m-.5 .2h.8m-.8 0h.8m.6 0h.8m-1 0h.8m-1.2 .1h.8m-1.8 0h.8m-.3 .1h.8m-.4 0h.8m-1.4 0h.8m.6 .5h.8m-1.2 0h.8m-1.8 .1h.8m-.6 .3h.8m-.9 .7h.8m-.7 .1h.8m-1.1 .3h.8m.5 .3h.8m-2.3 0h.8m.3 .1h.8m1.3-13.4h.8m-.4 0h.8m-2.2 0h.8m-.3 0h.8m-.3 0h.8m-1.2 0h.8m-.7 0h.8m-1.6 0h.8m.7 0h.8m-1 .4h.8m-2.2 .2h.8m-.4 .1h.8m-.3 .1h.8m-1.4 .4h.8m0 .1h.8m-.5 0h.8m-2.2 .1h.8m-.4 0h.8m-.9 0h.8m-.3 .2h.8m-1.5 .4h.8m.7 0h.8m-1.3 .2h.8m-.4 .2h.8m-.6 0h.8m-1.8 .1h.8m-.3 0h.8m-1.8 0h.8m.6 .1h.8m-1.6 0h.8m-1.1 .4h.8m-.9 .1h.8m-.1 0h.8m-1.2 0h.8m-.2 .2h.8m-1.2 0h.8m-1.5 0h.8m-.9 .2h.8m-.6 0h.8m-.2 0h.8m-1.6 .1h.8m-.9 .3h.8m-.1 .1h.8m-.1 0h.8m-1.6 .3h.8m.1 0h.8m-1.7 0h.8m-.9 0h.8m-1.5 0h.8m-.7 .1h.8m-.5 .1h.8m-.9 0h.8m0 .2h.8m-1.9 .5h.8m-.2 0h.8m-.9 .1h.8m-1.1 0h.8m.1 .1h.8m0 .1h.8m-1.3 0h.8m-1.3 .1h.8m-1.4 0h.8m-.9 .3h.8m0 0h.8m-1.8 0h.8m.3 .1h.8m-.7 0h.8m-1.8 0h.8m.5 .1h.8m-.8 .1h.8m-2.1 0h.8m.7 0h.8m-1.5 .1h.8m-.3 .1h.8m-2 .1h.8m-.6 .3h.8m.2 0h.8m-2.2 0h.8m-.7 .1h.8m.3 .3h.8m-1.1 0h.8m-1.5 .1h.8m.7 .1h.8m-1.5 .1h.8m-.5 0h.8m-.9 0h.8m-.8 0h.8m-1 0h.8m-.6 0h.8m-1.1 .2h.8m-1.3 .1h.8m0 .2h.8m-1.9 .2h.8m-1 .2h.8m.8 .1h.8m-.5 .1h.8m-.9 0h.8m-1.3 .1h.8m-1 0h.8m-1.4 .3h.8m-.6 .2h.8m-1.1 .1h.8m.2 .2h.8m-2 .1h.8m-.6 0h.8m-1.1 .1h.8m-.4 0h.8m-.6 .3h.8m.1 0h.8m-1.5 .1h.8m-1 0h.8m-1.1 .1h.8m.5 .1h.8m-2 0h.8m.1 0h.8m-1.8 .3h.8m0 0h.8m-1.1 .2h.8m-1.1 0h.8m-.3 .1h.8m-1.3 0h.8m.2 .2h.8m-.9 .1h.8m-.6 .3h.8m-2.1 .1h.8m.6 .1h.8m-1.1 0h.8m-1.6 .2h.8m-1.5 .2h.8m.3 .2h.8m-.2 .1h.8m-1.6 .2h.8m-1.3 .5h.8m.2 1.2h.8m-2.2 1.1h.8m1.2-15.4h.8m.8 0h.8m-1 0h.8m-2.1 0h.8m.8 0h.8m-1.2 0h.8m-1.7 .1h.8m-.5 0h.8m-1.3 0h.8m.2 .3h.8m-1.8 0h.8m-.8 .2h.8m.9 .4h.8m-1.2 .2h.8m-.7 .3h.8m-2 .5h.8m-1.2 0h.8m.6 .4h.8m-2.1 .3h.8m-.8 0h.8m.6 .1h.8m-1.1 0h.8m-.2 .2h.8m-1.4 .1h.8m-1.1 .1h.8m-1.7 .1h.8m.2 0h.8m-1 .4h.8m-1 0h.8m-1.2 0h.8m-.9 .1h.8m.5 .2h.8m-1.8 .4h.8m0 0h.8m-.6 0h.8m-1.3 .1h.8m-1.7 0h.8m-.5 .1h.8m.4 .1h.8m-1.7 0h.8m.3 .2h.8m-.6 .1h.8m-2.7 .2h.8m-.1 .1h.8m.2 .1h.8m-2.1 0h.8m-.6 0h.8m-.2 .3h.8m-.3 0h.8m-1.5 .1h.8m-1.3 .2h.8m.2 .2h.8m-1.3 0h.8m.1 .5h.8m-1.9 0h.8m-.8 .1h.8m.3 .1h.8m-1.2 .2h.8m-.6 .1h.8m-1.9 .2h.8m.3 0h.8m-1.7 .1h.8m-.8 0h.8m-.6 .1h.8m-.7 0h.8m-1 .1h.8m-.3 .2h.8m-1.7 .1h.8m.2 0h.8m-.6 .1h.8m-1.5 0h.8m-1.5 .3h.8m-.9 .1h.8m.4 .3h.8m-.8 .2h.8m-1.3 .1h.8m-.3 0h.8m-.5 .1h.8m-2.2 0h.8m-.9 1.1h.8m-.9 .1h.8m-.2 .1h.8m-.8 .5h.8m-.5 0h.8m0 .3h.8m-2.1 0h.8m-.9 .3h.8m0 0h.8m-1.2 0h.8m0 .2h.8m-.5 0h.8m-1.7 .3h.8m-1.5 .5h.8m.1 .6h.8m-.2 .4h.8m-2.6 .3h.8m0 0h.8m-.5 .7h.8m0 .8h.8m-.8 0h.8m-.5-15.4h.8m-.6 0h.8m.3 0h.8m-1.1 0h.8m-1.5 0h.8m-.3 0h.8m-.4 0h.8m-1.2 0h.8m-.1 0h.8m-2.2 0h.8m-.3 1h.8m-1.1 .2h.8m-.3 0h.8m-1.4 0h.8m-.7 .4h.8m-1 0h.8m-.2 .1h.8m-.1 .3h.8m-.6 .3h.8m-1 .3h.8m-1 0h.8m-.9 0h.8m-1.4 .1h.8m-1.1 1.1h.8m.7 0h.8m-2.7 .2h.8m.3 .1h.8m-.2 0h.8m-2.4 .2h.8m.8 .1h.8m-.8 0h.8m-.7 .1h.8m-1.7 0h.8m-1.5 0h.8m.3 .2h.8m-1.9 0h.8m.4 .1h.8m-1.1 .4h.8m-.3 0h.8m-1.5 .1h.8m-1.4 0h.8m-.8 .1h.8m-.6 .2h.8m-.3 0h.8m-1.7 0h.8m.6 .4h.8m-1.9 0h.8m-.1 0h.8m-.8 0h.8m0 .1h.8m-1.1 .1h.8m-2.2 .1h.8m.9 0h.8m-1.8 .1h.8m-1 .2h.8m.4 .2h.8m-1.3 0h.8m-.3 .2h.8m-.8 0h.8m-.9 .1h.8m-2.2 .1h.8m.3 0h.8m-1.1 .1h.8m-.2 .1h.8m-.8 0h.8m-1.3 .1h.8m-.7 0h.8m-2.1 0h.8m-.4 .1h.8m-.3 0h.8m-.4 0h.8m-.3 .1h.8m-1.9 0h.8m-.3 .2h.8m-1.3 0h.8m-1.2 0h.8m.2 0h.8m-2 .2h.8m-.7 .2h.8m-.7 .2h.8m-.2 0h.8m-.2 .1h.8m-2.1 .1h.8m-.9 .3h.8m-.2 .6h.8m0 .2h.8m-2.1 .2h.8m.3 .3h.8m-2.1 .2h.8m.9 .1h.8m-1.4 .5h.8m-1.5 .5h.8m-1.2 .4h.8m.5 .3h.8m-1.2 .3h.8m.1 .2h.8m-1.3 .2h.8m-.8 0h.8m-.7 .5h.8m-1.1 0h.8m-.6 1.4h.8m1-14.9h.8m-1.4 0h.8m-.9 0h.8m-.4 0h.8m-.8 0h.8m-1.5 0h.8m-1 .3h.8m.2 .1h.8m-1.1 .8h.8m-1.1 0h.8m-.6 .2h.8m.1 .1h.8m-.9 .1h.8m-1.4 .1h.8m-.2 0h.8m-1.1 .1h.8m-1.9 .8h.8m.4 .3h.8m-1.2 0h.8m-.6 .4h.8m-.3 0h.8m-1.1 0h.8m-.6 .1h.8m-1.6 .3h.8m.1 .2h.8m-2.3 .1h.8m-.6 .2h.8m.8 .2h.8m-1.3 .1h.8m-.8 0h.8m-.5 0h.8m-.5 .1h.8m-1.4 0h.8m-1.2 .1h.8m-.2 0h.8m-1.4 .2h.8m-1.2 .1h.8m-1.3 .1h.8m.3 .1h.8m-.8 0h.8m-1.9 0h.8m.6 .2h.8m-.8 .1h.8m-2.2 .5h.8m-.6 0h.8m.6 .2h.8m-1.7 0h.8m-.8 0h.8m-.8 0h.8m-.2 .2h.8m-1.9 .1h.8m.4 .3h.8m-.6 0h.8m-1.1 0h.8m-1.9 0h.8m.1 .1h.8m-.6 .1h.8m-1.1 0h.8m-.8 .2h.8m-1.5 .2h.8m.8 .1h.8m-1.6 0h.8m-.9 .2h.8m-.6 .1h.8m-1.8 .1h.8m.3 .1h.8m-1.4 .1h.8m-.1 .3h.8m-1.3 .2h.8m-1.7 0h.8m.4 .3h.8m-1.1 .2h.8m-1.5 .2h.8m-.5 0h.8m-.9 0h.8m.5 .3h.8m-1.9 .6h.8m-1 .3h.8m.2 .1h.8m-1.6 .1h.8m-.6 .5h.8m-.2 0h.8m-1 1.5h.8m-1.1 .3h.8m-1.3 .4h.8m.7 .8h.8m.4-14.2h.8m-.3 0h.8m-.6 0h.8m-1 0h.8m-1.2 0h.8m-.5 0h.8m-1.6 0h.8m-.1 .1h.8m-2.2 0h.8m.9 .1h.8m-1.5 .2h.8m-1.3 .3h.8m-.3 .4h.8m-.5 .2h.8m-1.9 .7h.8m-.4 .7h.8m.3 0h.8m-1.9 .1h.8m.2 0h.8m-2.3 .6h.8m-.6 .1h.8m-1 .3h.8m.4 .2h.8m-1.6 .1h.8m.2 0h.8m-.7 .1h.8m-1.3 0h.8m-1.9 .1h.8m.6 .1h.8m-2.2 0h.8m.2 .2h.8m-1.3 .1h.8m-1 0h.8m.2 .1h.8m-1.2 0h.8m-.8 .4h.8m-1.7 .1h.8m.5 0h.8m-1.3 .1h.8m-1.6 .1h.8m.2 0h.8m-1.2 .1h.8m-.6 0h.8m.3 .1h.8m-2.5 .2h.8m-.3 0h.8m-.6 .1h.8m.2 .4h.8m-2.7 .2h.8m.5 .4h.8m-.9 .1h.8m-.4 .6h.8m-1.3 .2h.8m-1 .1h.8m0 .2h.8m-1.4 .2h.8m-1.6 .1h.8m.3 0h.8m-2.2 0h.8m.6 .3h.8m-.6 .2h.8m-2.4 .1h.8m.9 .1h.8m-1.6 .1h.8m-.4 .2h.8m-1.1 .1h.8m-.1 .1h.8m-.8 .3h.8m-1.3 .4h.8m-1.9 .3h.8m-.2 .2h.8m-.7 .4h.8m-.9 0h.8m-.1 .2h.8m-1.7 1.6h.8m1.2-13.1h.8m-.3 .2h.8m-.2 .1h.8m-2.3 .3h.8m.6 .1h.8m-1.4 .2h.8m-1.3 .1h.8m-.4 .4h.8m-1.4 .2h.8m-.9 .1h.8m-.2 .6h.8m-.7 .6h.8m-1.5 .2h.8m.5 .3h.8m-1.6 .1h.8m-.7 .1h.8m-.3 0h.8m-.5 .2h.8m-.5 0h.8m-1.1 .2h.8m-.4 0h.8m-2.5 0h.8m.8 .2h.8m-1.8 0h.8m-1.5 .2h.8m-.5 .2h.8m.6 .3h.8m-1.9 .5h.8m.3 .1h.8m-1.9 .1h.8m-.9 .5h.8m-.8 .2h.8m-.8 0h.8m.3 .1h.8m-1.5 .1h.8m-1.6 .2h.8m.4 .2h.8m-.6 0h.8m-1.8 0h.8m-.4 .1h.8m-.2 0h.8m-.9 .4h.8m-.7 .1h.8m-1.5 0h.8m.2 .1h.8m-1.9 0h.8m-.7 0h.8m.2 .3h.8m-2 0h.8m-1.2 .3h.8m-1.1 .1h.8m.6 .2h.8m-1.6 .1h.8m0 .1h.8m-.6 0h.8m-1.3 .4h.8m-1.5 .1h.8m-.4 .8h.8m-1.5 0h.8m0 .5h.8m-.5 .5h.8m-1.5 .1h.8m-.7 0h.8m-.7 .4h.8m-.7 0h.8m-.4 0h.8m-1.3 .2h.8m.1 3.5h.8m-1.7 .2h.8m2.4-15.4h.8m-2 0h.8m-.3 .4h.8m-1.8 .5h.8m.2 .7h.8m-1.3 .3h.8m0 .3h.8m-2.2 0h.8m.4 .5h.8m-.6 0h.8m-1.2 .2h.8m-1.2 .2h.8m-.3 .5h.8m-1.1 0h.8m-1.1 .3h.8m-.8 .1h.8m-.4 0h.8m-.2 0h.8m-1.6 .1h.8m-1.2 0h.8m.7 .1h.8m-2.4 .1h.8m-1.1 0h.8m-.1 0h.8m-.7 .1h.8m-.9 .1h.8m-1.1 .2h.8m.7 .2h.8m-1.3 .2h.8m-1.5 .3h.8m-1.5 0h.8m.5 0h.8m-.8 .7h.8m-.3 0h.8m-1.1 .2h.8m-.5 .1h.8m-1.8 .1h.8m-1.1 .2h.8m-1.3 0h.8m1 .2h.8m-2.5 .2h.8m-.5 .1h.8m0 .3h.8m-1.2 0h.8m-.6 .3h.8m-.1 .3h.8m-1.6 .2h.8m-.9 .2h.8m-.9 .1h.8m-.6 0h.8m-.9 .5h.8m-1.4 .6h.8m-.6 .7h.8m-1.2 .3h.8m-.8 .1h.8m.3 .3h.8m-.3 .3h.8m-1.3 .3h.8m-.9 1.2h.8m-.7 .5h.8m-1.8 .4h.8m.8 1.3h.8m1.1-15.1h.8m-1.8 0h.8m-.1 0h.8m-.6 0h.8m-1.2 .4h.8m-.9 .1h.8m-.2 .3h.8m-.5 1h.8m-2 .4h.8m-.3 0h.8m-1.2 .8h.8m-1.6 .2h.8m-.4 .1h.8m.7 .2h.8m-2.3 .1h.8m.6 .1h.8m-1.6 .1h.8m-.2 .6h.8m-.8 .5h.8m-1.3 .1h.8m-.2 .5h.8m-1.3 .2h.8m-.1 .3h.8m-1.7 .1h.8m-1.5 0h.8m.1 0h.8m-.6 .5h.8m-.9 .1h.8m-.5 0h.8m-2.3 .2h.8m.7 .1h.8m-1.8 0h.8m-.3 .2h.8m-1.3 .1h.8m-1.1 .4h.8m.6 .4h.8m-1.2 .3h.8m-1.7 0h.8m-.1 .2h.8m-.9 .2h.8m-.1 0h.8m-2.3 .1h.8m.6 .1h.8m-2.3 .5h.8m.6 .1h.8m-.6 0h.8m-1.5 .8h.8m-1.7 .3h.8m.4 .1h.8m-2.1 0h.8m-.8 .6h.8m.7 1.6h.8m-.7 .1h.8m-.8 .4h.8m-1.7 0h.8m-.1 .1h.8m-1.2 .1h.8m.1 .1h.8m-1.5 1.6h.8m.5-15.4h.8m.5 0h.8m-2.3 0h.8m-.8 1.2h.8m.7 .1h.8m-2.2 .4h.8m-.2 .9h.8m0 .3h.8m-.7 0h.8m-.8 0h.8m-1 .1h.8m-2.4 .3h.8m-.9 .3h.8m1.1 .3h.8m-.8 .4h.8m-2 .1h.8m-.7 0h.8m-1.6 .6h.8m-.6 .2h.8m-.6 .1h.8m.4 0h.8m-1.4 .1h.8m-1 .4h.8m-1.2 .1h.8m-1.1 .1h.8m1 0h.8m-1.7 .2h.8m-.6 .3h.8m-.3 .8h.8m-.8 .1h.8m-2.5 1h.8m.5 .6h.8m-.8 .5h.8m-1 .2h.8m-1.1 0h.8m-1.4 .2h.8m.4 0h.8m-.9 1.3h.8m-.2 0h.8m-1.2 .4h.8m-1.6 .4h.8m-1.3 .3h.8m-1 .3h.8m1.1 2.8h.8m-.7-15.4h.8m.3 0h.8m-1.4 0h.8m-.2 0h.8m-.2 0h.8m-1.3 .6h.8m-.4 .6h.8m-1.3 .1h.8m-.1 .7h.8m-.7 1.1h.8m-2 .1h.8m-1.2 .7h.8m-.4 .5h.8m-.5 .3h.8m0 .1h.8m-2.1 .7h.8m0 .2h.8m-1.7 .4h.8m.3 1.1h.8m-1.3 .1h.8m-.8 .5h.8m-1.6 .4h.8m.3 .7h.8m-.8 .2h.8m-1.1 0h.8m-1.6 .5h.8m-.3 .4h.8m-1.2 .4h.8m.8 .5h.8m-1.6 .4h.8m-1.9 1h.8m.7 1.8h.8m.8-14.1h.8m-1.2 0h.8m-1.3 2h.8m.8 .3h.8m-1.3 .3h.8m-1.9 .2h.8m.5 .3h.8m-2.1 .5h.8m-.5 .1h.8m-.2 .4h.8m-1 .6h.8m-1.6 .3h.8m.1 .6h.8m.1 0h.8m-2.5 .1h.8m.4 0h.8m-1.2 .9h.8m-.1 .4h.8m-1.8 .2h.8m-.1 .2h.8m-1.6 .1h.8m.5 .1h.8m-2.5 .2h.8m-.3 .2h.8m-1.2 .1h.8m.6 0h.8m-.7 .5h.8m-1.3 .2h.8m-.2 .1h.8m-1.8 .2h.8m-1.7 .8h.8m.1 .1h.8m-.8 .1h.8m-.9 .2h.8m-1 .9h.8m-.7 .7h.8m.2 .3h.8m-.7 .4h.8m-.9 .8h.8m-1.9 1h.8m2.2-14.4h.8m-1.4 0h.8m-.1 .4h.8m-1.5 0h.8m-.7 2.7h.8m-.9 0h.8m-.4 .2h.8m-1.1 .1h.8m-.7 .8h.8m-1.4 .2h.8m-.4 0h.8m-1.4 .3h.8m.3 .1h.8m-2.1 .1h.8m.5 0h.8m-1.6 .2h.8m-1.2 .8h.8m.1 .3h.8m-1.4 .4h.8m-.4 .2h.8m-1.5 .3h.8m.8 .4h.8m-1.8 0h.8m-1.4 .7h.8m-.4 0h.8m.1 .1h.8m-1.6 1.2h.8m-.2 1.2h.8m-1.9 .7h.8m-.6 .2h.8m-.5 .7h.8m.2 .1h.8m-1.8 .1h.8m.3 2.1h.8m.2-14.6h.8m-.9 1.6h.8m.2 .2h.8m-1 .9h.8m-1.6 .4h.8m-1.4 1h.8m.8 .5h.8m-.7 0h.8m-2.5 .3h.8m-.4 .1h.8m0 .2h.8m-1 0h.8m-1.4 .1h.8m-1 .4h.8m.4 .1h.8m-.6 .8h.8m-2.1 .1h.8m.3 .3h.8m-2.3 .6h.8m-.7 .4h.8m-.1 .6h.8m-.4 .1h.8m-1.1 2.4h.8m-1.3 .9h.8m.1 .4h.8m-1.2 1h.8m-.1 2h.8m1.3-15.4h.8m-2.3 0h.8m-.9 1h.8m.5 1.2h.8m-1.7 .1h.8m.2 .3h.8m-1.4 .6h.8m-1.1 .2h.8m.1 1.3h.8m-2 .4h.8m-.8 .7h.8m.2 .2h.8m-.3 .2h.8m-2.4 .1h.8m-.8 .1h.8m.4 .2h.8m-.4 0h.8m-2.3 1h.8m.4 1h.8m-1.7 .3h.8m-1.4 .3h.8m0 1h.8m.2 3.7h.8m.2-13.9h.8m-.9 .4h.8m-1 1.7h.8m-1 1.2h.8m-.3 .2h.8m-.9 1.3h.8m-1.4 .1h.8m.2 .1h.8m-.9 .4h.8m-1.1 0h.8m-.3 .4h.8m-.8 .7h.8m-1.1 .3h.8m-1 .1h.8m-.1 .3h.8m-1.8 .1h.8m.5 0h.8m-1.9 .5h.8m-.4 .6h.8m-1 .1h.8m1.3-8.5h.8m-.3 .1h.8m-1.4 3.1h.8m-.7 .6h.8m.1 1.1h.8m-1 .1h.8m-1.2 0h.8m-1.9 .1h.8m0 1.2h.8m-1.6 .3h.8m.7 .6h.8m-1.3 .2h.8m-.8 .1h.8m-.6 .6h.8m-.9 .1h.8m-2 .6h.8m-.7 .6h.8m-.9 .2h.8m.2 .2h.8m-.6 .5h.8m-.2 .3h.8m-.9 2.4h.8m-1.6 1.1h.8m1.2-14.1h.8m-.2 1.7h.8m-1 0h.8m-.4 .5h.8m-2.4 .2h.8m.2 .6h.8m-.6 1.2h.8m-1 .1h.8m-1.2 .6h.8m0 .6h.8m-2.3 .3h.8m.1 .9h.8m-1.8 2h.8m.3 .4h.8m-.3 1h.8m-.6 .7h.8m-1.3 .2h.8m.6-9.7h.8m-1.4 .1h.8m-.6 .6h.8m.5 .3h.8m-.5 .8h.8m-1.6 .5h.8m-.1 1.6h.8m-2.4 3.6h.8m-.3 .3h.8m-.5 1.1h.8m1.1-10.2h.8m-.6 0h.8m-.1 1.5h.8m-1.4 .6h.8m-1.3 2.1h.8m-.6 2h.8m-.7 1h.8m-1.3 .9h.8m-1.3 .7h.8m1.1 1.4h.8m-.6-8.5h.8m0 .5h.8m-1.4 0h.8m.7 3.3h.8m-1.4 1h.8m-.1 .3h.8m-1.3 0h.8m-2 3h.8m1.9-9.2h.8m-1.7 1.9h.8m-.5 1.1h.8m.3 0h.8m-.4 2.4h.8m-2.1 1.6h.8m-1.2 .5h.8m-.7 .9h.8m-.7 1.5h.8m.6 .8h.8m-2.2 2h.8m2.1-13.3h.8m-.8 4.6h.8m-2 .9h.8m.8 .1h.8m-1.8 .1h.8m-.4 .3h.8m-.6 .4h.8m-1.9 2.3h.8m.6 1.5h.8m-1.2 1.3h.8m1.1-11h.8m-.7 2.9h.8m-1.6 3.1h.8m.8 .8h.8m-2.6 .4h.8m2.7-5.6h.8m-2.1 4.1h.8m.8 .1h.8m-2.3 .8h.8m-1.2 .1h.8m.1 .7h.8m-.2 .1h.8m-1.6 1.8h.8m.7-7.7h.8m.4 2.5h.8m-.4 .8h.8m-.9 4.8h.8m-.2-9.5h.8m-.9 2.5h.8m-.7 .6h.8m2.6 1h.8m-.6 3.4h.8m-.8 0h.8m-1.6 .3h.8m-.8 .1h.8m-1.7 1.3h.8m1.7-6.4h.8m2.3-.7h.8m-1 2.8h.8m-.8 1.2h.8m-1.5 3h.8m.5-8.6h.8m-.1 6.2h.8m2.1-6.9h.8m-1.7 1.6h.8m-.1 .8h.8m-2 2.3h.8m-.2 5.2h.8m.3-3.1h.8m1.4-.2h.8m4.7-1.2h.8m2.9 2.2h.8m-2.1 .7h.8m3-7.1h.8m-.6 7.2h.8m3.6-4h.8m.6 4.7h.8" stroke="#b5b5b5" stroke-width="0.8" fill="none"/>
<path d="M25.6 441.3h.8m-.8 .5h.8m-.7 .1h.8m-1 .6h.8m-.5 .3h.8m-1.1 .4h.8m-1.3 .2h.8m.1 0h.8m-1.1 .1h.8m-.7 .1h.8m-1.1 .2h.8m-.6 0h.8m-1.3 0h.8m-.1 .1h.8m-1.8 .1h.8m-.1 0h.8m-.4 .1h.8m-1.4 0h.8m-.8 0h.8m-1 .1h.8m-1.1 .1h.8m-.4 0h.8m-1.1 .1h.8m-1.1 .1h.8m-.4 .1h.8m-1.2 0h.8m0 .1h.8m-1.6 .3h.8m-.7 0h.8m-1 .1h.8m.6 0h.8m-1.9 .1h.8m-.2 0h.8m-1.8 .3h.8m-.3 .2h.8m-.5 0h.8m-1.3 0h.8m.1 .1h.8m-.7 0h.8m-1.8 .1h.8m-1.4 .2h.8m.6 0h.8m-1.9 .1h.8m.2 .1h.8m-1.4 .2h.8m2.3-10.1h.8m-.8 .2h.8m-1 .5h.8m-.7 .1h.8m-.7 .5h.8m-.8 .1h.8m-.9 .1h.8m-1.3 .2h.8m-.3 0h.8m-1.8 .3h.8m-.7 .2h.8m-.2 0h.8m-1.2 .2h.8m-.6 .2h.8m-.7 0h.8m-1.1 .1h.8m-.5 0h.8m-1 0h.8m-.5 .1h.8m-1.3 0h.8m-1.1 .1h.8m.3 .1h.8m-2.4 .2h.8m-.7 0h.8m.2 .1h.8m-1.3 .1h.8m-1.5 0h.8m.6 .2h.8m-1.5 .1h.8m-1.1 .1h.8m-.6 .1h.8m-1.5 .1h.8m-.3 0h.8m-1.1 .1h.8m-.4 0h.8m-.3 .3h.8m-1 .1h.8m-1.6 0h.8m0 .1h.8m-.5 0h.8m-.5 0h.8m-.6 0h.8m-1.5 .1h.8m-.7 0h.8m0 .1h.8m-1.8 0h.8m-.3 .2h.8m-1.3 .1h.8m-1 .2h.8m-1.4 0h.8m-.9 .1h.8m1.1 .3h.8m-1 0h.8m-1.9 .2h.8m.1 .2h.8m-1.2 0h.8m-1.6 .1h.8m-.3 .2h.8m-.4 0h.8m-1.2 .2h.8m-1.6 .2h.8m.4 0h.8m-.3 .1h.8m-1 .2h.8m-1.4 0h.8m-1 0h.8m-.7 .2h.8m-1.3 0h.8m.4 0h.8m-1.4 0h.8m-1.7 .4h.8m-.6 0h.8m.6 .2h.8m-.8 0h.8m-2.2 .1h.8m-.1 0h.8m-.2 .2h.8m-2 .1h.8m-.7 .2h.8m-.1 .1h.8m-1.6 .2h.8m-1.1 .1h.8m-.2 .1h.8m.4 .1h.8m-2.5 .1h.8m.6 .1h.8m-1.5 .1h.8m0 .1h.8m-2.2 0h.8m-.8 0h.8m.4 .1h.8m-.6 0h.8m-1 .1h.8m-1.3 .1h.8m-1.4 .2h.8m.3 0h.8m-1.8 .1h.8m2.6-13.2h.8m-.7 .3h.8m-.8 .1h.8m-.8 .2h.8m-1.4 .3h.8m-.8 .1h.8m-.9 .2h.8m-.7 .4h.8m-1.3 .2h.8m.3 0h.8m-2.2 .2h.8m-.7 0h.8m-1.1 .3h.8m0 .1h.8m-1 0h.8m.2 0h.8m-1.1 .1h.8m-.6 0h.8m-1.1 0h.8m-2 .2h.8m.6 .1h.8m-1.2 .1h.8m-2.1 0h.8m.6 .1h.8m-2.2 .2h.8m-.6 .1h.8m0 .1h.8m-.8 0h.8m0 .1h.8m-.8 .1h.8m-1.3 .1h.8m-1.6 0h.8m-.1 .1h.8m-1.5 0h.8m-.9 0h.8m-1.1 .1h.8m-.5 0h.8m-.9 .1h.8m.1 .1h.8m-1.1 0h.8m-.7 .1h.8m-1.4 .2h.8m-.8 0h.8m-.5 .1h.8m-.8 0h.8m-.2 .1h.8m-.7 0h.8m-1.4 0h.8m0 .1h.8m-1.5 .1h.8m-.5 .2h.8m-1.6 .2h.8m.6 .2h.8m-1.6 0h.8m-.8 0h.8m-.2 .1h.8m-2.1 .1h.8m-1.1 .1h.8m.5 .1h.8m-2 0h.8m-.8 .2h.8m-.3 .1h.8m0 .2h.8m-.3 .1h.8m-2.2 0h.8m-.3 .1h.8m-1.2 .1h.8m-1.4 .2h.8m-.5 .1h.8m.4 .1h.8m-1.9 .1h.8m.5 0h.8m-1.3 .2h.8m-1.3 .2h.8m-1.1 .5h.8m.1 .1h.8m-.8 .1h.8m-.9 .1h.8m-.3 .2h.8m-2.2 .1h.8m.4 0h.8m-1.6 .2h.8m-.5 .1h.8m.1 0h.8m-.8 0h.8m-1.2 0h.8m-1.7 .3h.8m.2 .2h.8m-2.2 .3h.8m-.6 .1h.8m.1 .2h.8m-2.1 .2h.8m.3 .2h.8m-1.6 0h.8m.1 .1h.8m-.8 0h.8m-.5 0h.8m-1.7 .3h.8m.2 .1h.8m-.5 .2h.8m-1.8 .1h.8m-.6 0h.8m-1.4 .1h.8m-.7 0h.8m-.9 .3h.8m-.9 .1h.8m-.6 .1h.8m.1 0h.8m-.5 .2h.8m-2 0h.8m-1 .2h.8m-.3 .1h.8m-1.1 0h.8m-.2 .4h.8m-.7 .1h.8m-1 0h.8m-.8 .2h.8m-.4 .2h.8m1.4-15.1h.8m-.9 0h.8m-1.2 .1h.8m-.4 0h.8m-1.4 .4h.8m-1 0h.8m-.3 .1h.8m-.5 .1h.8m-1 .1h.8m-.6 .3h.8m-.6 .1h.8m-1.9 0h.8m-.3 .2h.8m-1.8 .1h.8m-.7 .3h.8m0 .2h.8m-1.4 .1h.8m.3 .2h.8m-.7 0h.8m-2.2 .1h.8m.3 .1h.8m-.9 0h.8m-1.2 0h.8m-1.6 .3h.8m-.2 .2h.8m.4 .1h.8m-1.9 0h.8m-.7 0h.8m.1 0h.8m-1.5 .5h.8m-.2 .1h.8m-.7 0h.8m-1 0h.8m-2.3 .1h.8m-.4 .2h.8m.3 0h.8m-2.2 .4h.8m-.4 0h.8m-.3 .1h.8m-1.8 .2h.8m-.8 .1h.8m0 0h.8m-.7 .1h.8m-1.8 .1h.8m1.1 0h.8m-1.7 .1h.8m-.1 0h.8m-1.7 0h.8m-1.5 .3h.8m-.8 .1h.8m1 0h.8m-2.4 .1h.8m-.2 0h.8m-.8 .1h.8m-.5 .2h.8m-.2 .2h.8m-2.6 .2h.8m-.1 .1h.8m.2 .1h.8m-.7 .1h.8m-1.7 0h.8m-.7 .4h.8m-1.6 0h.8m-1 .2h.8m-.3 0h.8m-.2 .1h.8m-.3 .2h.8m-1.3 0h.8m-1.5 .2h.8m.4 0h.8m-.6 .1h.8m-.9 0h.8m-2.2 .2h.8m.1 .2h.8m-2 0h.8m0 0h.8m-1.2 .3h.8m.4 .4h.8m-.9 0h.8m-2 0h.8m-.2 .2h.8m-1.4 0h.8m.7 0h.8m-1.3 .1h.8m-1.5 .1h.8m0 0h.8m-.4 .3h.8m-2 0h.8m.3 .3h.8m-2.3 .2h.8m-.3 0h.8m-.9 .2h.8m-.6 .1h.8m-1.6 .1h.8m-.3 0h.8m-.1 .1h.8m-1.8 .2h.8m0 .4h.8m-1.2 .1h.8m-1.2 .1h.8m-.9 0h.8m0 0h.8m-1.4 .3h.8m.2 .3h.8m-.4 0h.8m-2 0h.8m-.7 .3h.8m-.9 .5h.8m-1 0h.8m-.9 .1h.8m-.3 .1h.8m.1 0h.8m-1.8 .1h.8m-.7 0h.8m-1.2 .1h.8m.4 0h.8m-.5 0h.8m-.7 .4h.8m-1.2 .4h.8m-.6 0h.8m-1.7 0h.8m-1.5 .3h.8m-.6 .4h.8m2.7-17.3h.8m-1 .4h.8m-.5 .1h.8m-.8 .1h.8m-.8 .4h.8m-.9 .2h.8m-2.1 .1h.8m-.5 .2h.8m-.6 .2h.8m0 .1h.8m-1 .1h.8m-1.7 .2h.8m-.8 0h.8m.4 .3h.8m-.8 0h.8m-1.1 0h.8m-.9 .1h.8m-.9 .1h.8m-.9 .1h.8m-1 0h.8m-.4 .2h.8m-1.5 .1h.8m-1.6 0h.8m1.1 .1h.8m-.9 0h.8m-.8 .2h.8m-.7 0h.8m-.8 0h.8m-2 .1h.8m-.2 .1h.8m-1.2 .1h.8m-.5 .2h.8m-.9 0h.8m-.5 .1h.8m-.9 .1h.8m-2.1 0h.8m0 0h.8m-1.1 .1h.8m.5 .1h.8m-1.3 .2h.8m-.2 0h.8m-2 .1h.8m.4 .1h.8m-2 0h.8m0 .1h.8m-.6 0h.8m-2.2 0h.8m-.5 0h.8m-1.1 .2h.8m.5 .3h.8m-.6 0h.8m-1.9 .2h.8m-1.1 .6h.8m.1 .2h.8m-2 .1h.8m.9 .4h.8m-1.9 0h.8m-.4 .1h.8m-.4 .1h.8m-2 .1h.8m-.5 .1h.8m-.8 0h.8m0 .1h.8m-2 .2h.8m-1 .5h.8m-.2 .2h.8m-.9 0h.8m-.9 .2h.8m-1.1 0h.8m.4 .1h.8m-2.1 .1h.8m.8 .2h.8m-1.1 .1h.8m-.4 0h.8m-2.3 .1h.8m.8 .1h.8m-1.8 .4h.8m0 0h.8m-1.3 .3h.8m-.9 .2h.8m-.5 .3h.8m-1.4 0h.8m-.5 .2h.8m-1 .1h.8m-.9 0h.8m.4 .8h.8m-1 0h.8m-1.8 .1h.8m-.3 .1h.8m-.2 0h.8m-1.3 .2h.8m-.8 .3h.8m-1.5 .4h.8m-.2 0h.8m-1 .1h.8m-1.4 .1h.8m.1 .2h.8m-1.3 0h.8m-.4 .2h.8m-1.7 .2h.8m-.8 0h.8m.6 .8h.8m-2.3 0h.8m.9 .1h.8m-1.2 .1h.8m-1 0h.8m-2 .1h.8m-.1 .3h.8m0 0h.8m-1.7 .2h.8m.4 .1h.8m-1.6 .1h.8m-.5 .5h.8m-.4 0h.8m-2.4 .1h.8m-.4 .3h.8m.5 .3h.8m-2.7 .5h.8m-.4 .6h.8m.5 .1h.8m1.4-19.1h.8m-1.6 .8h.8m-.9 .1h.8m-.4 .1h.8m-1.5 .1h.8m-.6 0h.8m-.3 .1h.8m-1 0h.8m-1.3 .4h.8m.4 .4h.8m-2.5 .1h.8m0 .2h.8m-1.1 0h.8m-1.2 .2h.8m.5 0h.8m-.7 .2h.8m-1.2 .1h.8m-.5 .1h.8m-1 0h.8m-1.1 .2h.8m-.1 0h.8m-2.6 .1h.8m-.3 .4h.8m-1.1 0h.8m-.4 .5h.8m-.8 0h.8m-1.2 0h.8m-.9 .3h.8m-.3 .1h.8m0 .1h.8m-.9 0h.8m-1.8 .4h.8m.5 .3h.8m-2 .2h.8m.1 0h.8m-1.8 .1h.8m.8 .2h.8m-2.6 .1h.8m0 .2h.8m-1 .2h.8m-.5 .5h.8m-.2 0h.8m-.8 .3h.8m-.8 .2h.8m-2.3 .1h.8m.3 .1h.8m-1.2 .1h.8m-1.1 .4h.8m-.3 .2h.8m.1 .2h.8m-2.7 0h.8m.1 .2h.8m-.9 .2h.8m-.1 .2h.8m-1.4 .4h.8m-.5 .1h.8m-.9 .1h.8m-.1 0h.8m-1.8 0h.8m.3 0h.8m-1.8 .2h.8m-1.4 .2h.8m.4 .1h.8m-1.1 .1h.8m-1.4 .3h.8m.1 .1h.8m-1.2 .1h.8m-.9 .2h.8m-1.5 0h.8m.2 .1h.8m-1.4 0h.8m-1.4 .2h.8m-.1 .3h.8m-1.3 .1h.8m.5 .8h.8m-.6 .3h.8m-1.5 .1h.8m-.3 .2h.8m-.8 .3h.8m-2.3 .2h.8m.7 0h.8m-2.3 .3h.8m.1 0h.8m-.3 .1h.8m-1.1 .2h.8m-1.2 .1h.8m-1.4 0h.8m-.4 .2h.8m-1.3 .2h.8m.1 .2h.8m.1 .1h.8m-1.1 0h.8m-1.1 .1h.8m-.2 .1h.8m-1.7 .1h.8m-.8 .3h.8m-1.5 .1h.8m-1.1 .1h.8m.1 .1h.8m-.9 .3h.8m-.8 .4h.8m-.3 .7h.8m-.4 1.2h.8m-.7 .2h.8m-.9 0h.8m-1.5 .1h.8m-1.2 .1h.8m-1 .2h.8m-1.1 .1h.8m-.1 .1h.8m-.3 0h.8m-1.4 .1h.8m2.2-20.3h.8m-1.8 1h.8m-1.3 .1h.8m.7 0h.8m-2.3 .1h.8m-.9 .6h.8m-.2 .1h.8m-.3 .1h.8m-1 0h.8m-1.1 .1h.8m-1 .1h.8m-1.2 .1h.8m-.7 .7h.8m-.5 .4h.8m0 .8h.8m-.8 .2h.8m-1.2 0h.8m-1.3 .6h.8m0 .1h.8m-2 .2h.8m-.4 .1h.8m-.7 .9h.8m-1 .1h.8m.6 .1h.8m-1.6 .7h.8m-1.7 .3h.8m-.7 .2h.8m-.3 .2h.8m-.1 .3h.8m-.4 .2h.8m-1.9 .2h.8m.3 .1h.8m-2 0h.8m.2 .2h.8m-.9 .1h.8m-.6 0h.8m-1.1 .1h.8m-1.2 0h.8m-1.1 .1h.8m.2 .1h.8m-.9 .5h.8m-1.7 0h.8m.5 .2h.8m-1.5 0h.8m-1.4 .7h.8m-.1 .1h.8m-2 .3h.8m-.6 0h.8m-.2 .1h.8m.2 0h.8m-.8 .3h.8m-1.2 0h.8m-1.4 .3h.8m0 .5h.8m-1 .2h.8m-1.8 0h.8m-.2 .6h.8m-1.9 .1h.8m-.8 .1h.8m-.2 .4h.8m-1.4 .2h.8m-.7 .1h.8m-.5 0h.8m.7 0h.8m-1.4 .1h.8m-1.8 .3h.8m-1.1 .2h.8m.6 .9h.8m-1.8 .7h.8m-.8 .1h.8m.4 .3h.8m-2.3 .3h.8m-.8 .2h.8m.7 .5h.8m-2.2 0h.8m.4 .6h.8m-.5 .6h.8m-.7 .4h.8m-2.3 .7h.8m.8 .4h.8m.8-21.8h.8m-1.5 .6h.8m0 .1h.8m-2.1 .3h.8m-.5 .2h.8m-1.2 .2h.8m.5 .2h.8m-1.4 .3h.8m-1.1 .1h.8m0 .1h.8m-1.6 0h.8m-.4 .2h.8m-.2 .3h.8m-.6 .2h.8m-1.1 .4h.8m-1.2 0h.8m-1.9 0h.8m.2 .1h.8m.1 0h.8m-2.3 .3h.8m-.4 .5h.8m-1.6 .6h.8m-.7 0h.8m-.1 .2h.8m-.7 .2h.8m-1.5 .1h.8m-.1 .2h.8m-.2 0h.8m-.4 .3h.8m-.9 .1h.8m-1.6 0h.8m-1.1 .5h.8m-.8 0h.8m-1.2 .3h.8m-.3 .3h.8m-1.2 .1h.8m-.5 0h.8m-.4 0h.8m-1.8 .1h.8m.6 0h.8m-.6 .1h.8m-2.2 0h.8m-1.1 .4h.8m-.5 0h.8m-.2 .1h.8m-.9 .4h.8m-1.3 .1h.8m-.8 .2h.8m-.4 .3h.8m-1.4 .1h.8m.7 0h.8m-1.9 0h.8m-.2 .4h.8m-1.6 .1h.8m-.1 1.2h.8m-1.7 .4h.8m0 .1h.8m-.6 1.5h.8m-.2 0h.8m-2.3 .1h.8m.8 .1h.8m-1.2 .4h.8m-1.8 1h.8m-.6 .2h.8m-.6 .4h.8m.3 .1h.8m-2.6 .5h.8m.8 .4h.8m-2.3 .3h.8m.4 0h.8m-.4 .1h.8m-2.3 .4h.8m.7 0h.8m-2.4 .5h.8m-1 .1h.8m.2 .4h.8m-1.2 .2h.8m-.5 .4h.8m-.3 .1h.8m-1.4 .1h.8m-.3 0h.8m-1.2 .4h.8m-.5 .6h.8m-1.6 .6h.8m-.3 .1h.8m-.8 0h.8m-1.1 .8h.8m-.4 .1h.8m-1.7 1h.8m1.3-22.4h.8m.8 .1h.8m-2.3 .1h.8m0 .1h.8m-1.6 .2h.8m.4 .1h.8m-1.3 .1h.8m-.4 .2h.8m-1.8 .4h.8m-.9 .4h.8m-.3 .1h.8m-.4 .2h.8m-1.7 .2h.8m-.3 .2h.8m-.1 .2h.8m-.4 .6h.8m-.8 .1h.8m-1.6 .3h.8m-1.9 0h.8m.8 .2h.8m-1.2 .1h.8m-1.3 .3h.8m-1 .1h.8m.2 .2h.8m-1.6 .1h.8m-.5 .3h.8m-1.5 .1h.8m-1 .2h.8m.9 0h.8m-1.5 .1h.8m-.2 0h.8m-1 .3h.8m-.9 .1h.8m-.5 0h.8m-1.7 0h.8m-.2 .2h.8m-1.9 .1h.8m.2 .3h.8m-1.1 .6h.8m-.3 .1h.8m-.6 0h.8m-1.8 .2h.8m-1.2 .2h.8m-.1 .1h.8m-1.2 .2h.8m-1.2 .2h.8m-.7 0h.8m-.7 .1h.8m.3 0h.8m-.6 .9h.8m-2 0h.8m-1.3 .1h.8m-.5 .4h.8m-1 .1h.8m.7 .4h.8m-1.1 0h.8m-1 .1h.8m-1.1 0h.8m-.6 .2h.8m.1 .3h.8m-1.8 .1h.8m-.9 .5h.8m.2 1h.8m-1.7 .3h.8m-1.2 .2h.8m-.5 .1h.8m-.4 .4h.8m-1 .6h.8m-1.2 .7h.8m-.3 .1h.8m-1.3 .3h.8m0 0h.8m-1.2 0h.8m-.7 .2h.8m-1.3 .2h.8m-1.2 .1h.8m-.5 0h.8m-1.3 .1h.8m-.8 .4h.8m-.7 .3h.8m.4 .2h.8m-1.4 0h.8m.4 .3h.8m-1 .6h.8m-1.3 .4h.8m-.8 .6h.8m-1.8 .4h.8m-.5 .3h.8m-.3 .3h.8m.1 0h.8m-.9 1.1h.8m-1.7 .3h.8m-1.5 .5h.8m-.6 .2h.8m.2 .1h.8m-.8 .1h.8m-1.9 0h.8m.6 0h.8m-2.5 .1h.8m-.3 .6h.8m-.9 .1h.8m.5 .1h.8m.8-23.2h.8m-1.5 .3h.8m-.9 .1h.8m.2 .2h.8m-1.3 .7h.8m-.3 0h.8m-1.8 .3h.8m-1.1 .3h.8m.4 .2h.8m-.5 .2h.8m-1.7 .1h.8m-.2 .3h.8m-2 .5h.8m.5 .2h.8m-.8 .2h.8m-.6 .2h.8m-.8 .1h.8m-1.3 1.1h.8m-.2 .1h.8m-2.3 0h.8m.6 .2h.8m-.7 .4h.8m-2 .5h.8m-1 0h.8m-1 .1h.8m.3 .4h.8m-1.1 .4h.8m-.9 0h.8m-.9 .1h.8m-.6 .1h.8m-.3 .4h.8m-1.9 .2h.8m.5 .6h.8m-2 .3h.8m0 0h.8m-2.1 .5h.8m.9 .3h.8m-.9 .6h.8m-1.5 .6h.8m-.9 .2h.8m-.8 .9h.8m.1 .6h.8m-1 .4h.8m-1.5 .2h.8m-1.6 .3h.8m.1 .6h.8m.1 .1h.8m-2.3 0h.8m.4 .3h.8m-.6 .7h.8m-.6 .3h.8m-1 .1h.8m-2.4 .1h.8m0 .3h.8m-1.1 .7h.8m-1.4 .1h.8m.3 0h.8m-1 .3h.8m-1.6 .1h.8m.5 .2h.8m-1.7 .5h.8m.6 0h.8m-1.5 .1h.8m-1.4 .3h.8m-.3 .1h.8m-.1 .2h.8m-2.1 .7h.8m-.8 1.1h.8m-1 1.1h.8m.2 .3h.8m-1.9 .1h.8m-.4 .5h.8m.3 .3h.8m-2 .3h.8m2-24.5h.8m-.6 .1h.8m-2.1 .5h.8m.8 .2h.8m-2.3 .4h.8m-1.1 .4h.8m.3 .4h.8m-1.7 .5h.8m-.1 .3h.8m-1.4 .1h.8m.2 .4h.8m-2 .3h.8m-.5 .1h.8m-.1 .2h.8m-.9 .3h.8m-.7 .2h.8m-.4 .1h.8m-1 .2h.8m-1.3 .8h.8m.3 .8h.8m-1.3 .1h.8m-.5 0h.8m-1.7 .6h.8m0 .7h.8m-1.9 .2h.8m.2 .2h.8m-1.7 .1h.8m-.4 .2h.8m-1.4 .1h.8m.5 .3h.8m-2.5 1.7h.8m-.7 .2h.8m.5 .6h.8m-1.8 1h.8m.4 .4h.8m-.6 .1h.8m-2.3 0h.8m.6 .2h.8m-2.5 .7h.8m.2 .1h.8m0 0h.8m-2.6 .7h.8m-.3 .2h.8m-1.1 .1h.8m-.6 .2h.8m-1.2 .2h.8m-.2 .1h.8m-.5 .3h.8m0 .4h.8m-1.8 0h.8m.1 .3h.8m-2 .5h.8m0 .8h.8m-.6 .1h.8m-1.2 1.7h.8m-1.2 .7h.8m-.3 .6h.8m-1 .9h.8m0 .5h.8m-2.4 .1h.8m-.9 .2h.8m.5 .6h.8m-.5 .1h.8m-1.9 1.3h.8m.2 .1h.8m.8-24.2h.8m-1.3 .1h.8m-1.3 .5h.8m.5 .6h.8m-.9 1.2h.8m-1.1 .4h.8m-.4 .2h.8m-1.1 .1h.8m-1.6 .1h.8m-.1 .1h.8m-1.4 .3h.8m.3 .1h.8m-1.4 .6h.8m-1.1 .1h.8m-.6 0h.8m-.4 .3h.8m-.6 .3h.8m-2.1 0h.8m-.8 .2h.8m-.6 .4h.8m-1.1 .6h.8m1 1.1h.8m-1.4 .6h.8m-.3 .5h.8m-1 .2h.8m-2.1 1.1h.8m.9 .2h.8m-2 .2h.8m-1.3 0h.8m.5 .1h.8m-2.1 1.4h.8m.1 .5h.8m-.2 .1h.8m-2.1 .1h.8m-1 .4h.8m0 .6h.8m-.5 .2h.8m-.5 .8h.8m-.5 .2h.8m-1 1.4h.8m-.8 .3h.8m-2.5 .8h.8m.3 .5h.8m-.9 .7h.8m0 .1h.8m-2.5 .2h.8m-.5 .4h.8m-.7 .5h.8m-1 .3h.8m-.1 .4h.8m0 .4h.8m-.9 .5h.8m-2.1 .2h.8m-.6 .2h.8m-.2 2h.8m1.2-25.1h.8m-.5 .2h.8m-2 .9h.8m-.9 .3h.8m-.8 .4h.8m.2 .2h.8m-.1 .2h.8m-2.1 1.3h.8m-1.2 2.9h.8m.5 .4h.8m-1.6 .2h.8m-.9 .1h.8m-.1 1.3h.8m-1 .9h.8m-1 .9h.8m0 .7h.8m-.9 1.2h.8m-.6 .3h.8m-2 1.2h.8m-1.3 .1h.8m-.1 .6h.8m-.8 .7h.8m-1.2 .2h.8m-.4 .3h.8m-.1 .2h.8m-1.1 .5h.8m-1.8 .5h.8m.3 1h.8m-1.6 .1h.8m-.6 .3h.8m-1 1.2h.8m-.7 .2h.8m.3 .7h.8m-1.6 .1h.8m-.1 .1h.8m-2.1 .4h.8m.8 .5h.8m-2.7 .4h.8m0 .2h.8m-1.4 .5h.8m.4 .6h.8m-.6 .1h.8m-.5 .1h.8m-1.6 1h.8m-1.8 1.4h.8m2.9-27.2h.8m-1.3 .7h.8m-.9 1.4h.8m-.2 .1h.8m-2.6 .1h.8m-.2 .6h.8m.4 .6h.8m-.7 .5h.8m-2.6 1h.8m-.9 1.1h.8m-.6 1.8h.8m0 .2h.8m-.4 .2h.8m-1.7 .5h.8m-.1 .2h.8m-1.3 .2h.8m-1 .7h.8m-.2 .1h.8m-.1 .2h.8m-.7 .9h.8m-1.7 .9h.8m-.4 1.4h.8m-.7 0h.8m-1.7 .3h.8m-.6 .1h.8m-.8 .1h.8m-.6 .8h.8m-1.1 .2h.8m-.3 .6h.8m-1.6 .1h.8m.5 .6h.8m-.8 0h.8m-1.7 .3h.8m.3 .5h.8m-.9 3h.8m-1.3 .1h.8m-1.3 3h.8m-.6 0h.8m-.4 .2h.8m-.8 .2h.8m-2 .5h.8m.9 .1h.8m-.9 2.2h.8m-2.3 0h.8m-.4 1.2h.8m1.8-26.7h.8m-1.7 .2h.8m-.1 .8h.8m-.3 .4h.8m-2.4 .6h.8m.5 .1h.8m-.5 .2h.8m-1.4 .1h.8m-1.4 .4h.8m-.8 .6h.8m0 4.2h.8m-1 .1h.8m-1.3 .6h.8m-1 .1h.8m-.6 .2h.8m-1 1.1h.8m.6 3.1h.8m-.6 .4h.8m-1.1 0h.8m-.5 .1h.8m-1 .9h.8m-.9 1.4h.8m-.9 0h.8m-1.7 .4h.8m-1.4 .4h.8m.7 .1h.8m-.4 0h.8m-1.5 1h.8m-.4 .2h.8m-2.3 .2h.8m.2 2.2h.8m-1.2 1.9h.8m-.7 .3h.8m-1.6 0h.8m1 .2h.8m-1.2 .4h.8m-1.7 .7h.8m.4 .2h.8m-2.2 1.2h.8m.2 .5h.8m-2.1 .7h.8m-.4 0h.8m2-27.8h.8m-2 .2h.8m-.1 .2h.8m.3 1.3h.8m-2.5 .1h.8m.8 .2h.8m-.6 .1h.8m-1.5 .1h.8m-1 .5h.8m-.4 .6h.8m-.9 1.2h.8m-.5 1.1h.8m-1.1 2.2h.8m-.6 .3h.8m-.5 .3h.8m-1.3 1.4h.8m-.6 1.2h.8m-1.8 .5h.8m-.6 .3h.8m-.7 1.4h.8m0 1.1h.8m-1.9 1.2h.8m-.2 .5h.8m-1.9 1h.8m0 1.8h.8m0 3.7h.8m-1.1 .2h.8m-2.1 .2h.8m-.2 .5h.8m-.9 .6h.8m-.3 .3h.8m-1 .3h.8m-.1 .1h.8m-1.5 .1h.8m0 .7h.8m-1.4 .2h.8m-.2 1.3h.8m-.8 .9h.8m-2.2 .1h.8m1.7-24.8h.8m-.9 1.1h.8m-1.2 2.3h.8m-.3 1.6h.8m.2 .9h.8m-1.5 1.7h.8m-1 1.9h.8m-1.4 .4h.8m.3 .3h.8m-1.2 .6h.8m-1.2 1.2h.8m0 0h.8m-1.5 1.3h.8m-.7 .7h.8m-.9 1.3h.8m-.2 .2h.8m-1.8 .5h.8m.5 0h.8m-2 1.5h.8m.6 6.1h.8m-1.5 1.2h.8m1.9-29.4h.8m-1.3 .1h.8m-2 0h.8m-.3 3.1h.8m.2 .1h.8m-1.2 .8h.8m-1.1 1.2h.8m-.6 3.9h.8m.1 .3h.8m-1.8 .8h.8m-1.7 .9h.8m.5 1.1h.8m-.4 1.2h.8m-1 .7h.8m-2.1 .2h.8m-.3 .7h.8m.2 0h.8m-1.8 .6h.8m-.7 .4h.8m-.1 .2h.8m-.8 6.4h.8m-2.2 .3h.8m.1 .2h.8m-.9 .1h.8m-1.4 .2h.8m-.7 .9h.8m-.9 3.9h.8m-.2 .6h.8m-1.2 1.1h.8m1.6-28.1h.8m-.3 .2h.8m-.3 1.1h.8m-1.8 .7h.8m0 3.1h.8m-1.7 .6h.8m-.3 1.9h.8m-.3 .3h.8m-1.3 4.5h.8m-.8 1.4h.8m-.2 .7h.8m-2.5 1.2h.8m-.3 0h.8m-.4 .3h.8m-.8 0h.8m-1.1 .6h.8m-.4 2.5h.8m-.2 1.7h.8m-1.3 1.3h.8m-.4 .4h.8m-1.3 .7h.8m-1.6 1.4h.8m-.7 0h.8m-.2 3.5h.8m.2-30.2h.8m.8 .2h.8m-1 .7h.8m-2.3 .1h.8m-.5 1h.8m.1 1.9h.8m-1.6 .1h.8m-.2 .6h.8m0 .8h.8m-1.3 1.6h.8m-1.4 2h.8m-.1 2.3h.8m-1.1 .8h.8m-1.8 .4h.8m.6 3.8h.8m-1.3 .7h.8m-.7 .7h.8m-.4 .6h.8m-2.2 1.2h.8m.6 1.7h.8m-1.3 2.5h.8m0 3.4h.8m1-28.3h.8m-2.2 3.4h.8m-.5 .5h.8m-.6 3.1h.8m.2 4.6h.8m-1.8 1.3h.8m-1.3 .6h.8m-1 .7h.8m.6 .7h.8m-1.7 1h.8m.4 1.9h.8m-1.6 4.7h.8m-1.3 2h.8m.2 3.8h.8m-2.2 3.1h.8m3-34.3h.8m-2 2.4h.8m-.3 4.3h.8m0 0h.8m-1.6 .3h.8m-1.3 .5h.8m-.5 4.9h.8m0 1.9h.8m-2 .4h.8m-.1 1h.8m-1.8 .9h.8m.8 .5h.8m-1.1 4.9h.8m-2.3 3.1h.8m-.5 .6h.8m.3 .3h.8m-.4 .7h.8m-2.5 3.9h.8m-.4 1.1h.8m1.3-29.2h.8m.2 .9h.8m-1.2 1.1h.8m-.8 .3h.8m-.8 10.2h.8m-.1 1h.8m-1.3 2.7h.8m-.7 1.1h.8m-2 2.9h.8m-1.1 1.5h.8m-.7 3.2h.8m.3 .1h.8m-.6 .6h.8m-.7 .3h.8m-1 2.3h.8m-1.3 .7h.8m-.7 .2h.8m-1.5 .4h.8m-.6 .5h.8m-1.1 .3h.8m2.1-29.5h.8m-.3 0h.8m-1.8 8.8h.8m-1.1 2.5h.8m.9 2h.8m-.8 1.4h.8m-2.1 2.4h.8m.2 .2h.8m-.8 1.7h.8m-.5 1h.8m-1.5 .6h.8m-.7 0h.8m-1.6 1h.8m.1 4.4h.8m-.8 .8h.8m-.4 4.1h.8m-.2-26.7h.8m.3 1.5h.8m-.4 6.3h.8m-1 3.1h.8m-1 9.1h.8m-1 .7h.8m-.6 3.4h.8m1.2-26.3h.8m-2.1 1.2h.8m.4 3.7h.8m-1.3 7.3h.8m-.7 5.7h.8m-.4 8.8h.8m1.5-22.6h.8m-.6 4.2h.8m-2 4.1h.8m-1.4 1.2h.8m.4 1.6h.8m-1.2 .3h.8m-1.3 2.9h.8m.6 9.4h.8m-1.1 .9h.8m1.6-33.9h.8m-.9 .3h.8m-1.6 6.5h.8m-.8 8.8h.8m-1.8 6.4h.8m-.3 1.4h.8m-.5 1.1h.8m-1.1 .8h.8m-.5 4.3h.8m1.6-30.5h.8m-.6 8.5h.8m-1.4 7.5h.8m-.7 6.9h.8m-.5 1.1h.8m-1.9 2.2h.8m.4 4.6h.8m.6-5.7h.8m1.6-20.2h.8m-.6 6.6h.8m-.7 11.1h.8m1.1-5.9h.8m1-8.5h.8m-.3 .6h.8m-.7 22.8h.8m-1.1 1.9h.8m1.2-32.1h.8m-.7 2h.8m-1.3 16.2h.8m.1 13h.8m1-34.6h.8m-2.3 5.6h.8m.8 5.9h.8m-1 7.7h.8m-.9 .9h.8m.2-20h.8m-1.1 15.9h.8m2.8 0h.8m-1.8 .5h.8m2.2 5.4h.8m-1.1 11.5h.8m.9-17.5h.8m-2 .1h.8m.8 9.2h.8m.4 8.7h.8m1.3-29.8h.8m-.3 18.5h.8m1-20.9h.8m-.1 7.3h.8m1.1-13.3h.8m-2.6 17.9h.8m1 9.2h.8m-2.2 12.8h.8m2.4-33.4h.8m-2 30.8h.8m3.4-13.7h.8m1.8 16.4h.8" stroke="#e8412f" stroke-width="0.8" fill="none"/>
<path d="M23.6 460.1h.8m-.5 0h.8m-.8 0h.8m-.8 0h.8m-.1 0h.8m-.6 0h.8m-1.3 0h.8m-.4 0h.8m-1.3 0h.8m-.4 0h.8m-1.3 0h.8m-.5 0h.8m-.7 0h.8m-1 0h.8m-.1 0h.8m-1.1 0h.8m-.3 .1h.8m-.7 0h.8m-.7 .1h.8m-.9 .1h.8m-.6 .1h.8m-.6 .6h.8m-.6 .4h.8m-.2-1.3h.8m-.2 .1h.8m-1.8 .1h.8m-.7 0h.8m-.2 .1h.8m-.1 .1h.8m-1.9 0h.8m-.4 0h.8m-.4 .1h.8m-1.9 .1h.8m-.8 0h.8m-.6 .1h.8m0 0h.8m-1.7 0h.8m-1 .2h.8m-.2 0h.8m-1.3 .1h.8m.9 0h.8m-.8 .2h.8m-2.6 0h.8m.3 0h.8m-1.6 .1h.8m-.3 0h.8m-.4 .1h.8m-1.4 .1h.8m-1.4 0h.8m-.6 0h.8m.2 .1h.8m-1.2 .1h.8m-.7 0h.8m-1.3 0h.8m-.1 .1h.8m-.7 0h.8m-1 0h.8m-1.5 .1h.8m-.5 .3h.8m-.4 0h.8m-1.6 .2h.8m-.8 0h.8m.8 .1h.8m-2.3 0h.8m-.8 .3h.8m.1 .3h.8m-.3 .1h.8m-1 .5h.8m-.4 0h.8m-1 .4h.8m-1.1 .2h.8m-.4 1h.8m-.3-5.4h.8m-.9 .2h.8m.7 .1h.8m-2 0h.8m.4 .1h.8m-1.9 .1h.8m-.5 .2h.8m-.6 .1h.8m-1.7 0h.8m.9 .2h.8m-2 .1h.8m-.5 .1h.8m-1 .3h.8m0 .3h.8m-1.8 0h.8m-.6 .3h.8m-.2 .2h.8m-2.2 0h.8m.3 .1h.8m-.7 .6h.8m-1.1 .3h.8m0 0h.8m-1.5 0h.8m0 .3h.8m-2.3 0h.8m-1.1 .7h.8m1 .1h.8m-1.5 .2h.8m-1.8 .3h.8m.1 0h.8m-1.8 0h.8m-.2 .1h.8m-.6 .1h.8m-1.6 0h.8m-.3 0h.8m.1 .6h.8m-2.2 .1h.8m.9 .2h.8m-1.2 .2h.8m-.9 .1h.8m-.2 1.8h.8m.8-7.5h.8m-.9 0h.8m-1.6 .3h.8m0 .1h.8m-.4 .2h.8m-1.9 .2h.8m.1 0h.8m-1.1 .2h.8m-.5 .5h.8m-2.2 1.4h.8m.6 0h.8m-1.2 .3h.8m-.8 .2h.8m-1 .2h.8m-1.5 .4h.8m.9 0h.8m-1.3 0h.8m-1.5 .6h.8m-1.4 .1h.8m.5 .6h.8m-1.1 .1h.8m-1.2 .3h.8m-1.5 .2h.8m.7 .4h.8m-1 .2h.8m-1.1 .3h.8m-.7 .3h.8m-.3 .7h.8m-1.2 .3h.8m-.8 .2h.8m-.5 .3h.8m-.6 .1h.8m-1.7 .2h.8m1-9.4h.8m-.5 .5h.8m-.7 .4h.8m-1 .6h.8m-1.4 .3h.8m.4 .7h.8m-.5 .4h.8m-.8 .1h.8m-2.4 .2h.8m-.9 .2h.8m.1 .2h.8m-1.6 .1h.8m-.3 .9h.8m-1.2 .3h.8m.8 .9h.8m-1.8 0h.8m-1.3 .1h.8m.1 .3h.8m-.6 .1h.8m-1.4 .6h.8m-1 .3h.8m-.9 .1h.8m-.2 2h.8m-1.4 .3h.8m.5 0h.8m-1.3 1.1h.8m-.5 .9h.8m-1.3 0h.8m.1-10.4h.8m.9 .6h.8m-.8 .2h.8m-2 .3h.8m.4 .5h.8m-.8 .9h.8m-1.8 .2h.8m-.3 .1h.8m-1.1 .3h.8m0 .7h.8m-2.1 .1h.8m-.2 .7h.8m-.8 .3h.8m-1.7 .1h.8m-.6 .2h.8m-.5 .5h.8m0 .3h.8m-1.1 .1h.8m-1.5 .1h.8m-.2 1.2h.8m-.2 .2h.8m-1.1 .2h.8m-.4 .1h.8m-1.3 .2h.8m-1.9 .6h.8m-.6 .1h.8m-.6 .4h.8m-.2 .2h.8m-1.4 .6h.8m.5 .1h.8m-.7 .6h.8m-2.1 .1h.8m.4 .8h.8m-.9 .1h.8m.6-13h.8m-1.1 .1h.8m-1.3 .1h.8m-.6 .1h.8m-1.2 .9h.8m.7 .7h.8m-1.9 0h.8m.3 .3h.8m-2.4 .8h.8m0 .4h.8m-1.6 .2h.8m.3 .4h.8m-.7 0h.8m-1 .3h.8m-.2 .2h.8m-1.5 .6h.8m-1.2 1.5h.8m-.9 .1h.8m0 .5h.8m-.7 .5h.8m-1.7 .3h.8m-.3 .1h.8m-1.6 .6h.8m.5 .2h.8m-2.2 .1h.8m.7 .8h.8m-2.2 .6h.8m.8 .4h.8m-1.9 .2h.8m-1.2 .2h.8m.7 .3h.8m-1 .9h.8m-1.9 .2h.8m-.6 1.2h.8m-1.2 .4h.8m-1 0h.8m.3 .5h.8m1.5-13.2h.8m-1.7 .5h.8m.2 1.2h.8m-1.1 0h.8m-.5 .2h.8m-1 .2h.8m-1.4 1.3h.8m-1.4 .1h.8m0 .7h.8m-1.1 .1h.8m-.3 .3h.8m-1.5 1.2h.8m-.5 .6h.8m-.7 .1h.8m.1 1.9h.8m-2 .1h.8m-.3 .4h.8m-.8 .9h.8m-.4 .7h.8m-.7 2.2h.8m-2.3 .4h.8m-.1 0h.8m1.6-12.6h.8m0 .7h.8m-1.6 0h.8m-.3 .5h.8m-1.4 2.7h.8m-.2 3h.8m-2.3 0h.8m.4 .5h.8m-.3 1.1h.8m-2 1h.8m.3 1.5h.8m-2 0h.8m.3 1.4h.8m-1.7 1.1h.8m.3 1.3h.8m-.5-16.4h.8m.5 1.4h.8m-1.6 2.3h.8m-.4 1.3h.8m.1 .9h.8m-2.7 1.3h.8m0 .4h.8m-1.3 3.2h.8m-.7 .7h.8m-1.1 .7h.8m-.3 1.2h.8m.3 1.4h.8m-2.5 1.9h.8m1.1 .3h.8m-.7-17.4h.8m0 .2h.8m-1.4 2.3h.8m.4 .6h.8m-1.9 1.6h.8m0 .4h.8m-1.1 3.2h.8m-.3 .6h.8m-.8 .4h.8m-1.6 .2h.8m-.8 4.3h.8m.1 1h.8m-.4 .4h.8m-2 .4h.8m-.6 2.4h.8m-.8 1.1h.8m1-19.1h.8m-.1 2.3h.8m-1.7 .4h.8m-.1 .5h.8m-.7 1.1h.8m-1.2 2h.8m-1.6 1.6h.8m.3 1.7h.8m-1.6 .9h.8m.6 .6h.8m-2.5 4h.8m.8 1.4h.8m-1.1 .9h.8m-2.1 .7h.8m-.6 1.5h.8m1-14.9h.8m-.7 10.3h.8m-.8 .5h.8m2.6-10.5h.8m-1.9 .3h.8m-1.1 2.7h.8m-.4 3.9h.8m-1.2 2.7h.8m0 5.2h.8m1.1-19.3h.8m-.2 .5h.8m-1.4 4.2h.8m.2 2.7h.8m-1.2 1.5h.8m-1.2 3.8h.8m0 2.7h.8m-1.1 1.1h.8m-.8 .9h.8m-.3-13h.8m-.1 7.4h.8m.3 6.5h.8m-2 .2h.8m1.4-18h.8m.2 8h.8m-.9 3.3h.8m1-12.3h.8m-1.4 4h.8m-1 5.4h.8m.2 1.3h.8m-1.1 .2h.8m-1.2 9.9h.8m.6-20.4h.8m-.2 11.8h.8m-1.3 2.4h.8m-.2 5.3h.8m.7-16.8h.8m-1.4 14.3h.8m2.7-12.6h.8m-.6 14.2h.8m-.4-3.2h.8m.7 4.6h.8m-.6 .6h.8m0-20.6h.8m-.4 17h.8m4.9 6.4h.8m4.9-7.2h.8" stroke="#5b97d6" stroke-width="0.8" fill="none"/>
<line x1="21.5" y1="403.5" x2="21.5" y2="502" stroke="#444" stroke-width="0.8"/>
<line x1="18.9" y1="404.2" x2="21.5" y2="404.2" stroke="#444" stroke-width="0.8"/>
<text x="18.2" y="406.7" font-size="7.1" text-anchor="end">4</text>
<line x1="18.9" y1="428.4" x2="21.5" y2="428.4" stroke="#444" stroke-width="0.8"/>
<text x="18.2" y="430.9" font-size="7.1" text-anchor="end">2</text>
<line x1="18.9" y1="452.6" x2="21.5" y2="452.6" stroke="#444" stroke-width="0.8"/>
<text x="18.2" y="455.1" font-size="7.1" text-anchor="end">0</text>
<line x1="18.9" y1="476.8" x2="21.5" y2="476.8" stroke="#444" stroke-width="0.8"/>
<text x="18.2" y="479.3" font-size="7.1" text-anchor="end">-2</text>
<line x1="18.9" y1="501" x2="21.5" y2="501" stroke="#444" stroke-width="0.8"/>
<text x="18.2" y="503.5" font-size="7.1" text-anchor="end">-4</text>
<line x1="21.5" y1="452.6" x2="123.8" y2="452.6" stroke="#222" stroke-width="0.8"/>
<line x1="123.8" y1="452.6" x2="123.8" y2="454.6" stroke="#222" stroke-width="0.8"/>
<text x="124.3" y="462.8" font-size="7.1" text-anchor="middle">10</text>
<defs><linearGradient id="jg142g" gradientUnits="userSpaceOnUse" x1="142.7" y1="0" x2="175.0" y2="0"><stop offset="0" stop-color="#d0d0d0"/><stop offset="0.5" stop-color="#d0d0d0"/><stop offset="1" stop-color="#d0d0d0" stop-opacity="0"/></linearGradient></defs>
<path d="M142.7 449.9 143.8 449.2 144.9 448.5 146 447.9 147.2 447.2 148.3 446.6 149.4 446.6 150.5 446.6 151.6 446.6 152.7 446.6 153.8 446.6 154.9 446.6 156.1 446.6 157.2 446.6 158.3 446.6 159.4 446.6 160.5 446.6 161.6 446.6 162.7 446.6 163.9 446.6 165 446.6 166.1 446.6 167.2 446.6 168.3 446.6 169.4 446.6 170.5 446.6 171.6 446.6 172.8 446.6 173.9 446.6 175 446.6 175 461.3 173.9 461.3 172.8 461.3 171.6 461.3 170.5 461.3 169.4 461.3 168.3 461.3 167.2 461.3 166.1 461.3 165 461.3 163.9 461.3 162.7 461.3 161.6 461.3 160.5 461.3 159.4 461.3 158.3 461.3 157.2 461.3 156.1 461.3 154.9 461.3 153.8 461.3 152.7 460.8 151.6 460.3 150.5 459.7 149.4 459.1 148.3 458.5 147.2 458 146 457.4 144.9 456.8 143.8 456.2 142.7 455.6Z" fill="url(#jg142g)"/>
<defs><linearGradient id="jg142r" gradientUnits="userSpaceOnUse" x1="142.7" y1="0" x2="191.1" y2="0"><stop offset="0" stop-color="#f19080"/><stop offset="0.55" stop-color="#f19080"/><stop offset="1" stop-color="#f19080" stop-opacity="0"/></linearGradient></defs>
<path d="M145.1 446.6 146.3 442 147.5 438.8 148.7 436.2 149.9 434.2 151 432.4 152.2 430.9 153.4 429.5 154.6 428.3 155.8 427.3 156.9 426.3 158.1 425.3 159.3 424.5 160.5 423.7 161.6 423 162.8 422.3 164 421.6 165.2 421 166.4 420.4 167.5 419.9 168.7 419.3 169.9 418.8 171.1 418.3 172.3 417.9 173.4 417.4 174.6 417 175.8 416.6 177 416.2 178.2 415.8 179.3 415.4 180.5 415 181.7 414.7 182.9 414.3 184.1 414 185.2 413.7 186.4 413.4 187.6 413.1 188.8 412.8 190 412.5 191.1 412.2 191.1 446.6 145.1 446.6Z" fill="url(#jg142r)"/>
<path d="M143.5 448.3h.8m-.7 .1h.8m-.8 .7h.8m-1.1 .1h.8m-.4 .1h.8m-.6 0h.8m-.9 .5h.8m-1 .4h.8m-1.2 .1h.8m-.1 .2h.8m-1.2 .2h.8m-1.1 .1h.8m-.1 .2h.8m-1 .5h.8m-1.1 .2h.8m-.4 0h.8m-1 .1h.8m-1 0h.8m-.5 .2h.8m-.7 .2h.8m-.9 .4h.8m-.7 .8h.8m-.7 .1h.8m-.8 .1h.8m-1 .1h.8m-1.4 .4h.8m-.4 .1h.8m-.4 .2h.8m-1.4 0h.8m-.6 .4h.8m-1.2 .1h.8m-.8 .1h.8m-.5 0h.8m-1.1 .1h.8m-.8 .1h.8m-.8 .4h.8m-.4 .1h.8m-.4 1.2h.8m-.8 .3h.8m-1.1 .4h.8m-.7 .3h.8m1.4-11.3h.8m-1.5 0h.8m-.9 .1h.8m-1.1 .2h.8m.2 .9h.8m-1.2 .2h.8m-.7 .2h.8m-.5 .6h.8m-1.6 .1h.8m-.4 .1h.8m-1.8 0h.8m0 .1h.8m-.1 .3h.8m-1 0h.8m-2.3 .2h.8m.7 0h.8m-1.8 .1h.8m-.1 0h.8m-.6 .1h.8m-1.3 0h.8m-.4 .1h.8m-1.7 .1h.8m.5 .1h.8m-1.3 0h.8m-1.8 .1h.8m-.9 .1h.8m-1 .1h.8m0 .2h.8m-1.1 .1h.8m-1 .1h.8m-1.1 .1h.8m1 0h.8m-1.8 0h.8m-.5 .1h.8m-2 0h.8m.2 0h.8m-1 .1h.8m-.8 0h.8m-1.2 0h.8m.5 0h.8m-.9 .1h.8m-1.1 0h.8m-1.3 .1h.8m.1 0h.8m-1.9 0h.8m.4 .1h.8m-2.3 .1h.8m-.7 0h.8m-.9 0h.8m-.2 .1h.8m-.7 0h.8m-1.6 .1h.8m-.9 0h.8m-.4 0h.8m-1.2 .1h.8m-.9 .1h.8m.5 0h.8m-2 0h.8m0 .1h.8m-1.6 0h.8m1 0h.8m-1.5 .1h.8m-1.1 0h.8m-1.2 .1h.8m-.5 0h.8m.3 0h.8m-1.7 .4h.8m-.8 0h.8m-1 0h.8m-1.1 0h.8m-1 .2h.8m-.1 .1h.8m-.2 0h.8m-1.5 0h.8m-.6 0h.8m0 0h.8m-2 .1h.8m.1 0h.8m-.9 .1h.8m-1.3 0h.8m-1.4 .1h.8m-.4 0h.8m-1.4 0h.8m-.9 0h.8m.7 0h.8m-1.9 .1h.8m-.4 0h.8m.2 .1h.8m-1.6 0h.8m-.9 0h.8m-.3 0h.8m-2.3 0h.8m.9 .1h.8m-1.1 0h.8m-1.7 0h.8m-.9 .1h.8m-1.1 0h.8m-.6 .1h.8m-.7 0h.8m-.5 0h.8m-1 .1h.8m0 0h.8m-.4 0h.8m-1.2 0h.8m-.5 0h.8m-.7 0h.8m-.6 .2h.8m-1 .2h.8m-.9 0h.8m-1.6 .1h.8m.1 0h.8m-1 0h.8m-.8 .1h.8m-.6 .1h.8m-1.9 .2h.8m-1.1 .1h.8m.6 .4h.8m-1.8 0h.8m-1.3 .1h.8m-.2 .1h.8m-1.5 .3h.8m-.7 0h.8m-.6 .2h.8m-.7 .1h.8m-.6 0h.8m-1 .1h.8m-.4 0h.8m-.6 .2h.8m-.6 0h.8m-1.9 .2h.8m.7 .4h.8m-1.3 .3h.8m-.2 .9h.8m-1.5 .9h.8m-.4 .5h.8m1.1-12.9h.8m-1.6 0h.8m.4 0h.8m-.7 0h.8m-2 0h.8m-1.4 0h.8m.1 0h.8m.1 0h.8m-2.6 0h.8m.9 .1h.8m-1.3 .1h.8m-.2 .7h.8m-1.9 .2h.8m-1.6 0h.8m-.1 .2h.8m-1.5 .2h.8m-.5 .1h.8m-.6 .2h.8m.4 .1h.8m-1.2 .1h.8m-1.8 .1h.8m-.6 0h.8m.2 .1h.8m-1.6 .2h.8m-.3 .2h.8m-.4 .1h.8m-1.1 .2h.8m-.6 .1h.8m-2.1 0h.8m-1 0h.8m.8 .1h.8m-1.9 .1h.8m-.5 .1h.8m-.1 .1h.8m-1.1 0h.8m-1.1 .1h.8m-1.1 0h.8m0 0h.8m-1.3 .1h.8m-1.2 0h.8m-.6 .1h.8m-.6 .3h.8m0 0h.8m-1.7 0h.8m-1.1 .1h.8m0 0h.8m-.9 .1h.8m-1.8 0h.8m.5 .2h.8m-.4 0h.8m-1.4 .1h.8m-1.9 0h.8m.2 0h.8m-2 0h.8m.6 .1h.8m-1.1 .4h.8m-1.6 0h.8m.6 .2h.8m-2 0h.8m-.1 .1h.8m-1.2 0h.8m0 .1h.8m-1.6 .1h.8m-.5 .1h.8m-.9 .2h.8m-.3 .2h.8m-1.1 .3h.8m-.4 0h.8m-.8 .2h.8m-1.1 .1h.8m-.6 .1h.8m-1.3 0h.8m0 0h.8m-2.2 .1h.8m.7 0h.8m-2.2 0h.8m.1 0h.8m-2.1 0h.8m-.7 .1h.8m.1 0h.8m0 .2h.8m-2.3 0h.8m-1.2 0h.8m-.7 .1h.8m-.8 .1h.8m-.4 0h.8m-1.1 .1h.8m.3 0h.8m-1 .1h.8m-1.8 0h.8m-.7 0h.8m.6 .1h.8m-.7 0h.8m-1.5 .1h.8m-.5 0h.8m-.4 0h.8m-.9 0h.8m-1.6 .2h.8m-1.6 .2h.8m-.6 0h.8m.4 .1h.8m-.7 0h.8m-1.8 .2h.8m-.3 0h.8m-.8 0h.8m-.1 .1h.8m-1.9 0h.8m-1.2 0h.8m-.4 0h.8m.5 .1h.8m-2.4 .2h.8m.1 0h.8m-1.7 .1h.8m0 .2h.8m-.8 0h.8m-1.3 .2h.8m-1.1 0h.8m-.8 0h.8m-.4 .2h.8m-1.2 .4h.8m-.9 .1h.8m-.3 .1h.8m-1.5 .1h.8m.5 .2h.8m-1.4 0h.8m-1.5 .2h.8m-.8 0h.8m1 .1h.8m-2.6 0h.8m-.5 0h.8m-.4 .1h.8m-.8 0h.8m-.1 .1h.8m-1.4 0h.8m0 .3h.8m-1.5 0h.8m-.4 0h.8m-.3 .1h.8m-1.4 0h.8m-.1 0h.8m-1.3 .1h.8m-.4 .4h.8m-.8 .2h.8m-2 0h.8m-.8 0h.8m.2 .1h.8m-.5 .5h.8m-1.7 .9h.8m0 .1h.8m-1.7 .4h.8m-.3 1.4h.8m.5-15.4h.8m-1.4 0h.8m.2 0h.8m-1.4 0h.8m-.9 0h.8m.2 0h.8m-1.6 0h.8m-.6 .5h.8m.1 .4h.8m-2.2 .1h.8m-1 .3h.8m.8 .2h.8m-2.2 .1h.8m-1 0h.8m-.1 0h.8m-1 .2h.8m-1 .1h.8m-.1 .1h.8m-1.9 .3h.8m-.7 .2h.8m.2 .1h.8m-1.3 0h.8m-1.3 .1h.8m.5 0h.8m-2 .1h.8m-1 .2h.8m.4 .2h.8m-1.6 .2h.8m-.6 0h.8m-.7 .1h.8m-1 0h.8m-.6 .2h.8m0 .1h.8m-.5 .1h.8m-2.1 .1h.8m0 .1h.8m-.8 .1h.8m-1.5 0h.8m-.7 .1h.8m-.9 .1h.8m-1 .1h.8m-.6 0h.8m-.5 0h.8m.1 .1h.8m-.8 0h.8m-1.1 0h.8m-1.3 0h.8m-.8 0h.8m-1.8 .1h.8m-.2 0h.8m-1.3 .1h.8m-.5 .1h.8m-.7 .1h.8m-.5 .1h.8m.2 0h.8m-2.6 0h.8m0 .1h.8m-.3 .1h.8m-.5 0h.8m-1.5 .1h.8m.2 .2h.8m-2.3 .2h.8m.7 .2h.8m-1.8 0h.8m0 0h.8m-2.1 .1h.8m-1.2 0h.8m.6 0h.8m-1.7 0h.8m.1 0h.8m-.4 .1h.8m-1.1 .2h.8m-1.3 .2h.8m-.3 0h.8m-.7 .1h.8m-.7 .1h.8m-1 0h.8m-1.1 .1h.8m-1 0h.8m-1.2 .2h.8m.5 .1h.8m-2 0h.8m.3 0h.8m-1.4 .1h.8m-.9 .1h.8m-.1 0h.8m-.9 0h.8m-1.9 .1h.8m-.2 0h.8m-1.8 0h.8m-.7 .2h.8m.6 0h.8m-1.5 .2h.8m-.7 0h.8m-.9 .1h.8m-1.3 .1h.8m.5 0h.8m-2.4 0h.8m-.3 .1h.8m-.2 .2h.8m-1.8 0h.8m-.2 .2h.8m-1.4 .2h.8m.5 .1h.8m-2.3 .3h.8m1 .3h.8m-1.2 .3h.8m-1.4 .2h.8m-.8 0h.8m-1.6 .1h.8m-.7 .2h.8m.3 .5h.8m-1.4 .1h.8m-.8 .1h.8m.1 .1h.8m-1.7 .1h.8m-1.3 .2h.8m-.5 .4h.8m-1.3 .6h.8m1.1 .1h.8m-1.2 .4h.8m-1.4 0h.8m-1 .4h.8m-1.2 .1h.8m.7 1.1h.8m.8-14.5h.8m-2.1 0h.8m-.7 0h.8m.9 0h.8m-1.6 0h.8m-.4 0h.8m-1.7 0h.8m-.5 .3h.8m-.4 .3h.8m-1.6 .1h.8m-1.1 0h.8m-.6 0h.8m-.7 0h.8m.4 .1h.8m-1.7 .1h.8m.2 .2h.8m-1.8 .3h.8m.1 0h.8m-.8 0h.8m-2.3 .5h.8m.5 0h.8m-1.9 .1h.8m.2 .1h.8m-2 0h.8m.9 .1h.8m-1.5 0h.8m-.9 .2h.8m-.9 0h.8m-.6 .1h.8m-2 0h.8m-.1 .3h.8m-1.5 .2h.8m-.1 0h.8m.1 .2h.8m-1 0h.8m-1.4 .4h.8m0 .1h.8m-1.8 0h.8m-.1 .1h.8m-2.1 .1h.8m-.7 0h.8m.3 0h.8m-.4 .2h.8m-1.5 .3h.8m-.9 0h.8m-1.6 .1h.8m-.4 .1h.8m.6 0h.8m-1.4 .1h.8m-.5 0h.8m-1.4 .2h.8m-1 0h.8m-1 .1h.8m.5 0h.8m-1.3 .1h.8m-1.2 0h.8m.2 .1h.8m-1 .2h.8m-1.4 .1h.8m-.8 .1h.8m0 .1h.8m-2.5 0h.8m-.6 .1h.8m-.6 .1h.8m.5 .1h.8m-2.6 .1h.8m-.9 0h.8m-.7 .1h.8m-.1 .1h.8m.2 0h.8m-1.2 0h.8m-1.9 0h.8m-.1 0h.8m-1.1 0h.8m-.3 .1h.8m-.4 .2h.8m-1.3 0h.8m-1.1 0h.8m.3 .3h.8m-2.1 .1h.8m-.2 0h.8m-1.8 .1h.8m.8 .1h.8m-2.2 .3h.8m.6 .1h.8m-1.5 .1h.8m0 0h.8m-1.2 .2h.8m-1.9 0h.8m.3 .1h.8m-1.6 0h.8m-.8 0h.8m-1 .1h.8m-.1 .1h.8m-.5 .4h.8m-1.1 .2h.8m-1.1 .1h.8m-1.2 0h.8m0 .1h.8m-2 .3h.8m.3 0h.8m-.8 .2h.8m-.2 0h.8m-2 .2h.8m-.9 .3h.8m-1.2 .2h.8m-.6 .2h.8m-.2 .1h.8m-1 .6h.8m-.9 0h.8m-.1 0h.8m-.2 .1h.8m-.8 .2h.8m-1.8 .2h.8m-.4 .2h.8m-1.4 .2h.8m-.9 .3h.8m-1.3 0h.8m.5 .4h.8m-1.2 .1h.8m-1.2 1.4h.8m.2 .1h.8m-2 .1h.8m-.5 1h.8m2-15.4h.8m-1.6 0h.8m-1.4 0h.8m-.1 0h.8m-.1 0h.8m-.6 0h.8m-2.2 0h.8m.5 0h.8m-1.5 0h.8m-.9 0h.8m-.2 0h.8m-.9 0h.8m-1.4 .1h.8m-1.5 .1h.8m.1 .2h.8m-.4 .4h.8m-.4 0h.8m-1.6 .7h.8m-1 0h.8m-.3 .3h.8m-.9 .3h.8m-1.2 0h.8m.3 .2h.8m-1.6 0h.8m-1.6 .2h.8m-.1 0h.8m-1.5 .1h.8m-.4 .2h.8m-1.2 .2h.8m-.9 .2h.8m.3 0h.8m-.8 .1h.8m-1.7 0h.8m.1 .1h.8m-.8 .1h.8m-1 .6h.8m-.1 .2h.8m-.8 .1h.8m-2.1 0h.8m.6 .1h.8m-1.4 0h.8m-.2 0h.8m-2 .1h.8m-.6 .2h.8m-.8 .1h.8m-.7 .1h.8m.1 .2h.8m-1.8 0h.8m-.9 0h.8m-.6 0h.8m.1 .2h.8m-1.7 .1h.8m-.3 0h.8m-.6 .1h.8m-1.7 .1h.8m-1 .1h.8m-.2 0h.8m-1.8 .1h.8m-.8 .2h.8m-.8 0h.8m-.7 .1h.8m-.8 0h.8m.6 0h.8m-2.1 .1h.8m0 .2h.8m-1.6 .3h.8m-.9 0h.8m-.4 .1h.8m-1.3 .2h.8m-.9 0h.8m-.5 .1h.8m.5 .1h.8m-.8 .1h.8m-.7 0h.8m-2.2 .1h.8m-1 .2h.8m-.6 .1h.8m.1 .1h.8m-1.5 0h.8m-.8 .2h.8m-1 .1h.8m-.4 0h.8m-.1 .1h.8m-1.1 0h.8m-1.6 0h.8m-.2 0h.8m-1.6 0h.8m-.9 .1h.8m.5 0h.8m-1.3 .2h.8m-.4 .1h.8m-1.2 .1h.8m-.1 .4h.8m-1.4 0h.8m-.7 .1h.8m-.1 .2h.8m-2.3 .4h.8m-.7 .2h.8m.6 0h.8m-2.1 .4h.8m.6 .1h.8m-1.2 0h.8m-1.1 0h.8m-.7 .2h.8m-1.3 .1h.8m-1.5 0h.8m.9 0h.8m-.9 .1h.8m-1.4 .1h.8m-1.4 .3h.8m.3 .2h.8m-2 .4h.8m.2 .3h.8m-1.8 .9h.8m0 0h.8m-1.1 .3h.8m-.9 1.3h.8m-.2 .6h.8m1.6-15.4h.8m-1.7 0h.8m-.7 0h.8m-.2 0h.8m-1.7 0h.8m-.6 0h.8m-.4 0h.8m-1.5 0h.8m-.9 .6h.8m.4 .6h.8m-1.4 .3h.8m-.7 .6h.8m-1.2 .1h.8m-1.5 .5h.8m.6 .2h.8m-1.5 .2h.8m0 .2h.8m-1.9 .5h.8m-.2 0h.8m.1 .2h.8m-1.5 .1h.8m-.6 .2h.8m-2.1 .1h.8m.4 .2h.8m-1.2 .2h.8m-1.4 0h.8m-.4 0h.8m-.6 .2h.8m-.6 0h.8m-1.7 0h.8m-.8 .1h.8m.3 0h.8m-.6 .1h.8m-.8 0h.8m-1.6 0h.8m.2 .1h.8m-2 0h.8m-.5 .1h.8m-1.4 .1h.8m-.5 0h.8m.3 .1h.8m-1.5 0h.8m-.8 0h.8m-.3 0h.8m-2.1 .1h.8m-.5 .1h.8m-.1 .1h.8m-.5 0h.8m-1.7 .1h.8m-.5 0h.8m-.9 .1h.8m-.7 .5h.8m.2 .1h.8m-1 0h.8m-1.2 .1h.8m-2 0h.8m.7 0h.8m-1.8 .1h.8m-.8 .1h.8m-.6 0h.8m.2 0h.8m-1.3 .1h.8m-.2 .1h.8m-.7 .4h.8m-2.6 .2h.8m.8 .1h.8m-.6 0h.8m-1.2 0h.8m-1.1 0h.8m-.5 .1h.8m-.8 .1h.8m-1.5 .1h.8m-.4 0h.8m-1.3 .3h.8m-.7 0h.8m-.6 .3h.8m-1.4 .1h.8m.2 .1h.8m-1.6 .1h.8m-.4 0h.8m-1.6 .1h.8m-.4 .1h.8m.1 .2h.8m-2.3 .1h.8m.2 .1h.8m-1.4 .7h.8m-.7 .1h.8m-.7 .3h.8m.3 .1h.8m-1.9 .1h.8m-.2 .2h.8m-1.5 .1h.8m.4 .4h.8m-1.3 .2h.8m-.8 .3h.8m-.4 0h.8m-1.5 .4h.8m-1.7 .4h.8m-.1 .2h.8m.1 0h.8m-1.9 2.2h.8m1.3-15.4h.8m.5 0h.8m-1.1 .4h.8m-.7 .1h.8m-2.4 .1h.8m.6 .1h.8m-1.5 .2h.8m-.8 .2h.8m-.8 .4h.8m-1.3 .1h.8m-.3 0h.8m-.1 .3h.8m-1.5 .2h.8m-.9 0h.8m.4 .2h.8m-1 .3h.8m-1 .1h.8m-2.2 .1h.8m-.8 .3h.8m.5 0h.8m-2.1 0h.8m.5 .1h.8m-.7 .2h.8m-2 .1h.8m-.4 0h.8m-.9 .2h.8m-1.2 0h.8m.7 .1h.8m-1.7 .1h.8m-1.4 .1h.8m-.5 0h.8m-.4 .5h.8m-.3 0h.8m-1.8 .1h.8m-.1 0h.8m-.4 0h.8m-.4 .1h.8m-1.5 .1h.8m-.7 0h.8m-1.3 0h.8m-.1 .1h.8m-1.2 0h.8m-.3 .4h.8m-.9 0h.8m-2.1 0h.8m-.2 .5h.8m.1 0h.8m-1 .3h.8m-1.6 .1h.8m-1.4 .1h.8m.1 0h.8m-1.8 .2h.8m-.4 .3h.8m-.2 .1h.8m-.2 .2h.8m-2.2 .2h.8m-.1 .1h.8m.2 0h.8m-1.8 .1h.8m-.6 .4h.8m-.6 .2h.8m-1.6 .1h.8m.5 0h.8m-.8 .1h.8m-1.5 .1h.8m-.8 .1h.8m-.7 .1h.8m-.5 0h.8m-1.4 .5h.8m-1.2 0h.8m-.1 .2h.8m-.4 0h.8m-2.4 .2h.8m-.1 0h.8m-.1 .1h.8m-2.1 0h.8m-.6 .1h.8m-.4 0h.8m-1 0h.8m-.9 .1h.8m-.2 .3h.8m-1.1 0h.8m-.1 .9h.8m-.5 .1h.8m-1.6 .1h.8m-.4 .1h.8m-.7 .1h.8m-1.5 1.2h.8m-.8 .5h.8m-.4 1.3h.8m-1.7 1h.8m.7 0h.8m1.4-15.4h.8m-2 0h.8m.2 0h.8m-2.3 .1h.8m.9 0h.8m-2.2 .3h.8m.1 .3h.8m-1.1 .2h.8m-.4 .2h.8m-1.5 .7h.8m.1 0h.8m-2.5 .4h.8m-.6 .1h.8m.6 .2h.8m-1.3 .2h.8m-.6 .1h.8m-.6 .3h.8m-2.1 .1h.8m.7 0h.8m-2.5 .1h.8m1 .2h.8m-2.2 .4h.8m-1 .1h.8m-.9 0h.8m-.2 .1h.8m0 0h.8m-.7 .2h.8m-1 0h.8m-2.2 0h.8m-.7 .1h.8m-.4 0h.8m-.7 .2h.8m-.2 .2h.8m-1 0h.8m-1.1 .1h.8m-1.3 0h.8m.1 .2h.8m-1.9 0h.8m.5 0h.8m-.4 .1h.8m-2.3 .2h.8m0 .4h.8m-1.7 0h.8m.2 0h.8m-1.6 .2h.8m-.2 .1h.8m.1 0h.8m-1.8 .1h.8m-.5 .2h.8m-.3 0h.8m-1.3 0h.8m-.1 .1h.8m-1.5 .1h.8m-.7 .1h.8m-.3 .1h.8m-2.4 0h.8m-.5 .1h.8m.6 0h.8m-2.1 .2h.8m.4 0h.8m-.9 0h.8m-1.6 0h.8m-1.1 0h.8m-.2 0h.8m-.5 .2h.8m-.8 .1h.8m-.4 .1h.8m-1.2 .1h.8m-2 .2h.8m-.8 .1h.8m-.1 .1h.8m-.8 .3h.8m-1.3 0h.8m-.2 .1h.8m-.1 .4h.8m-2 .2h.8m.5 .5h.8m-1.4 1.3h.8m-.2 0h.8m-1.5 .2h.8m-1.7 0h.8m-.7 .2h.8m.6 .6h.8m-.8 .1h.8m-2.3 .8h.8m-.6 1.3h.8m-1 .2h.8m2.9-14.2h.8m-2.1 0h.8m-.6 0h.8m-1 0h.8m-.9 0h.8m-.9 0h.8m.3 0h.8m-1.9 .8h.8m0 .8h.8m-1.8 .5h.8m-.5 .2h.8m.5 .2h.8m-1.6 .1h.8m-.6 .6h.8m-1.4 0h.8m-.6 .3h.8m-1.2 .2h.8m-.6 0h.8m.2 .1h.8m-2.4 .4h.8m.9 0h.8m-1.4 .2h.8m-1.5 0h.8m0 .2h.8m-1.9 .1h.8m-.3 0h.8m-.1 .2h.8m-1.4 .2h.8m-.9 .2h.8m-1.4 .2h.8m-.6 .1h.8m-.5 .9h.8m-.3 .2h.8m-1.6 .3h.8m.7 0h.8m-1.3 .4h.8m-.6 .1h.8m-1.9 .1h.8m.3 0h.8m-2 .3h.8m0 .1h.8m-1.3 0h.8m-.5 .1h.8m-.5 .1h.8m-.4 .1h.8m-2.2 .4h.8m.8 0h.8m-1.1 .2h.8m-.4 .2h.8m-2.3 .2h.8m-.1 .1h.8m-.4 .7h.8m-1.9 .1h.8m.3 0h.8m-1 .2h.8m-.4 .1h.8m-.9 .6h.8m-1.4 .6h.8m-.4 0h.8m-1.6 .2h.8m-.2 .3h.8m-.8 .2h.8m-1.8 .2h.8m.5 .7h.8m-.3 .7h.8m-2.6 .1h.8m.3 0h.8m.8-14.1h.8m-1.6 0h.8m-.8 0h.8m-.6 .1h.8m.8 .5h.8m-1.2 .4h.8m-.8 .7h.8m-2.1 0h.8m-.1 .1h.8m-.6 .4h.8m-1.7 .1h.8m-.7 0h.8m-.6 .3h.8m-.6 .2h.8m.5 .1h.8m-2.7 .2h.8m-.1 .1h.8m-.8 .2h.8m-1.5 0h.8m-.4 .2h.8m.6 .1h.8m-1 .1h.8m-1.3 0h.8m-1.6 .1h.8m-.9 0h.8m.1 .1h.8m-.4 .2h.8m-1.9 .2h.8m-.5 0h.8m.1 0h.8m-.5 .1h.8m-2.6 .2h.8m1 .1h.8m-1.5 0h.8m-1.1 .3h.8m-.7 0h.8m-.4 .1h.8m-1.9 0h.8m.4 0h.8m-.5 .6h.8m-1.4 .2h.8m-.6 .1h.8m-2.1 .1h.8m-.1 .1h.8m-.5 .2h.8m-.9 .3h.8m-.4 0h.8m-1 .1h.8m-1.7 .1h.8m-.3 0h.8m.2 .1h.8m-2.6 .2h.8m.7 .3h.8m-1.9 .1h.8m.2 0h.8m-1.1 .3h.8m-1.4 0h.8m-.8 0h.8m.5 .1h.8m-1 .6h.8m-1.1 0h.8m-1.6 .1h.8m.4 0h.8m-1.1 .2h.8m-2.2 .1h.8m-.5 0h.8m.6 .2h.8m-1.5 .4h.8m-.3 .1h.8m-1.9 .3h.8m-1.2 .7h.8m-.5 0h.8m-.1 .1h.8m-.4 .4h.8m-2 .2h.8m-.4 .1h.8m.2 1.5h.8m-1.3 .2h.8m-1.4 2.1h.8m.6 0h.8m.5-15.4h.8m-1 1.1h.8m-1.2 .3h.8m.4 .1h.8m-2.4 .1h.8m.3 .1h.8m-1.9 .6h.8m.1 .3h.8m-.6 .3h.8m-.4 .2h.8m-2.2 .1h.8m.1 0h.8m-.7 .2h.8m-.6 .2h.8m-.4 .7h.8m-1.6 .3h.8m-.1 .2h.8m-1.4 0h.8m-.3 .1h.8m-2.2 .1h.8m.1 .3h.8m-.4 0h.8m-1.1 .2h.8m-1.6 .1h.8m-.4 0h.8m-1.6 .6h.8m-.9 0h.8m.1 .1h.8m-.3 .2h.8m-.3 0h.8m-1.8 .5h.8m0 .2h.8m-1.3 0h.8m-.4 .1h.8m-1.7 .2h.8m.1 .1h.8m-.7 .1h.8m-2.2 0h.8m-.1 .2h.8m.1 .2h.8m-2.2 .1h.8m.3 .2h.8m-1.6 .1h.8m.1 .1h.8m-1 .1h.8m-2.3 .1h.8m-.4 0h.8m0 .1h.8m-1.8 .4h.8m-.9 .1h.8m-.4 0h.8m-.6 .3h.8m-.1 1.1h.8m-2 .4h.8m-.2 .1h.8m-.8 .1h.8m-.3 0h.8m-1.6 .2h.8m-.3 .1h.8m-1.2 .4h.8m-.4 .3h.8m-.7 1h.8m-.2 .2h.8m-2.4 .2h.8m0 1.2h.8m-1.3 .4h.8m2.6-15.4h.8m-2.3 0h.8m-1 0h.8m.5 0h.8m-1.2 0h.8m-1.5 0h.8m-.2 0h.8m-1.1 .1h.8m-1.3 .5h.8m.3 .5h.8m-2 .7h.8m0 .4h.8m-.4 .1h.8m-.4 .2h.8m-2.2 1h.8m.4 .1h.8m-2.1 .1h.8m.5 .1h.8m-1.8 0h.8m-.2 .1h.8m.1 .2h.8m-1.9 .2h.8m-.2 .1h.8m-2 0h.8m-.4 .2h.8m-1 .1h.8m-.8 0h.8m-.9 0h.8m-.2 .1h.8m-1.6 .1h.8m-.2 0h.8m-1.4 .2h.8m.5 .2h.8m-1.5 .1h.8m-.6 .1h.8m.2 .4h.8m-1.5 .6h.8m-.6 .1h.8m-.4 .2h.8m-1.4 0h.8m-1.8 .2h.8m.2 .3h.8m-.8 .3h.8m-.6 .3h.8m-.9 .3h.8m-.5 .8h.8m-2 .1h.8m-.9 .1h.8m-1.1 .3h.8m-.3 .5h.8m-.1 .3h.8m-.5 0h.8m-1.9 .2h.8m-.3 .6h.8m-1.2 .8h.8m-.9 .5h.8m-1.1 1.6h.8m2.9-14h.8m-.8 0h.8m-.9 0h.8m-2.1 .4h.8m-.9 .2h.8m.4 .9h.8m-1.9 .2h.8m-.6 .3h.8m-.7 .1h.8m-.7 .3h.8m-.8 .5h.8m-1.4 1.4h.8m-.1 0h.8m-1.1 0h.8m-.9 .3h.8m.6 .2h.8m-1.8 .7h.8m-1.3 0h.8m-1 0h.8m-.9 .1h.8m.1 .1h.8m-.8 .9h.8m-.1 .2h.8m-1.2 .1h.8m-1.9 .4h.8m.4 .4h.8m-1.8 .1h.8m.4 .1h.8m-1 1h.8m-1.4 .5h.8m-.2 .6h.8m-1.1 .3h.8m0 .5h.8m-1.7 .1h.8m-.4 .3h.8m-.4 .1h.8m-1.9 .8h.8m-.6 .6h.8m-.1 .5h.8m-1.8 .2h.8m-.9 2h.8m1.3-15.4h.8m-.2 0h.8m-.8 0h.8m-1 0h.8m-.6 0h.8m-.6 0h.8m-2.2 .9h.8m.5 1.3h.8m-1.7 .8h.8m-.4 .1h.8m.1 0h.8m-1.2 .1h.8m-1.7 .2h.8m-.2 .1h.8m-1.1 .1h.8m.3 0h.8m-2.6 1h.8m.2 .1h.8m-1.2 0h.8m-.6 .1h.8m-1.2 .1h.8m-.3 0h.8m-.4 .1h.8m-1 .2h.8m-1.1 .2h.8m-1.1 .1h.8m.1 .4h.8m-.6 .1h.8m-.8 .2h.8m-1.4 .1h.8m-.3 .5h.8m-2.1 .1h.8m.4 .3h.8m-1.5 0h.8m-.1 .1h.8m-.5 .1h.8m-.7 .4h.8m-1 .5h.8m-1 0h.8m-1.9 .2h.8m.5 .2h.8m-2 .2h.8m.4 .5h.8m-.9 1.4h.8m-2.3 .1h.8m1 .5h.8m-1.6 0h.8m-1.3 1.1h.8m-.4 1.7h.8m2.2-14.2h.8m-.8 .4h.8m-.8 .1h.8m-2.3 .2h.8m.5 .1h.8m-1.6 .6h.8m-.8 .9h.8m-1.1 .2h.8m-.5 .5h.8m-.4 .3h.8m-.4 1.3h.8m-2.4 .7h.8m.5 0h.8m-1.8 0h.8m-.6 .1h.8m.1 .1h.8m-2.2 .1h.8m-.7 .2h.8m-1 .2h.8m.6 1.1h.8m-1.5 .3h.8m-1.1 .4h.8m-1 0h.8m.9 .8h.8m-2.4 .2h.8m.2 0h.8m-.6 .5h.8m-1.3 .5h.8m.1 .1h.8m-2.7 .9h.8m.3 .5h.8m-1.4 1.5h.8m1.7-12.8h.8m-1.8 0h.8m-.4 .4h.8m-.9 1.1h.8m.7 .7h.8m-1.3 .6h.8m-1 .8h.8m-1.5 .3h.8m-.8 0h.8m-.6 0h.8m-.3 .4h.8m-.6 0h.8m-.3 .4h.8m-1.8 .1h.8m-1.1 .1h.8m-.6 .1h.8m-.6 .5h.8m.1 .2h.8m-1.9 0h.8m-1 .2h.8m-.7 .2h.8m.1 .1h.8m-1.8 0h.8m-.7 0h.8m-.2 .2h.8m-1.5 .7h.8m-.9 .3h.8m.7 .3h.8m-2.4 1.4h.8m-.7 0h.8m-.5 .4h.8m-.4 .5h.8m-1.6 2.2h.8m-.5 1h.8m-.5 .3h.8m1.1-13.5h.8m-1.3 0h.8m.8 0h.8m-1.3 0h.8m-2.2 .9h.8m1 .9h.8m-1.7 1.7h.8m-.5 0h.8m-.9 0h.8m-1.4 .6h.8m-.9 .7h.8m.5 .6h.8m-2 0h.8m-.5 .8h.8m-.8 .3h.8m.3 .2h.8m-1.4 0h.8m-1.2 1h.8m-1.5 .4h.8m-.3 .2h.8m-1.1 .1h.8m0 .9h.8m-1.7 .5h.8m.6 .1h.8m-1.4 .2h.8m-1.6 3.6h.8m1.7-13.7h.8m-1.5 0h.8m0 0h.8m-.8 1.1h.8m.2 3h.8m-1.8 0h.8m-1.4 .1h.8m.5 .8h.8m-1.8 1h.8m.3 .8h.8m-1.8 .7h.8m-.5 .7h.8m-1.1 .1h.8m-1.5 .1h.8m.2 0h.8m-1.6 .2h.8m-.2 .4h.8m-1.1 .3h.8m.2 .1h.8m-1.7 0h.8m-.7 2.1h.8m-.9 1.2h.8m.9-12.1h.8m-1 2.1h.8m.8 1.9h.8m-1.3 .1h.8m-.3 .7h.8m-2 .5h.8m0 .5h.8m-1.7 .2h.8m-1.2 .1h.8m-.5 0h.8m-.1 .1h.8m-.7 1h.8m-.2 .3h.8m-1.4 .6h.8m0 1.3h.8m-2 1.7h.8m0 2.8h.8m1.1-14.5h.8m-.7 0h.8m-2.2 .5h.8m0 .1h.8m-1 1.1h.8m0 .2h.8m-1.5 2.9h.8m-.1 .1h.8m-1 .2h.8m-1.9 .1h.8m-.1 .8h.8m.2 .6h.8m-2.2 .8h.8m-.7 0h.8m-.7 .4h.8m-.1 .2h.8m-1.7 1.1h.8m-.5 0h.8m-1.3 2h.8m.8 .8h.8m0-9.5h.8m-.6 .4h.8m.1 0h.8m-2 .4h.8m-.7 .6h.8m.1 1.9h.8m-1 .6h.8m-1.9 .7h.8m-.8 1.2h.8m-.4 .7h.8m-1.2 2.1h.8m.8 1.7h.8m-.9 2.7h.8m.7-15.4h.8m-1.1 0h.8m-.1 3h.8m-1.7 .3h.8m-.8 .3h.8m-.9 .8h.8m.1 .4h.8m-1.6 .4h.8m-1.5 .5h.8m0 1.4h.8m-.6 .2h.8m-.2 .4h.8m-.6 0h.8m-2 .2h.8m-.1 1.6h.8m-.8 1.1h.8m-2.2 2.4h.8m.1 .6h.8m.8-13.6h.8m-1.3 0h.8m.5 1.4h.8m-.9 1.6h.8m-1.3 .6h.8m-.8 1.4h.8m-1.1 .1h.8m-1.2 0h.8m1.1 .5h.8m-1.6 .7h.8m-.4 .8h.8m-1.2 5.1h.8m-.6 1.4h.8m1.6-13.6h.8m-1.2 1.8h.8m-2 1.9h.8m.3 .7h.8m-.4 .2h.8m-2.4 1.2h.8m-.5 5.5h.8m-.4 .8h.8m-1 3.3h.8m2.2-15.4h.8m-1.3 .8h.8m-1.2 3.6h.8m-.6 0h.8m-.1 1.1h.8m-1.6 .2h.8m-1.5 1.8h.8m.7 .1h.8m-1.2 .1h.8m-1 .8h.8m-.3 .7h.8m-1.2 4.5h.8m.4-9.1h.8m.4 .4h.8m-.6 .6h.8m-1.7 1.4h.8m.2 1.1h.8m-2 1.7h.8m-1 .4h.8m-1.1 4.8h.8m1.5-14.5h.8m.1 6.2h.8m-1 1.7h.8m1.8-4.8h.8m-.8 1.4h.8m-.8 .4h.8m-1.8 .1h.8m.5 .1h.8m-1.8 1.7h.8m-.7 .1h.8m-.7 .1h.8m.3-4.3h.8m.9 2.1h.8m-.1 0h.8m.3 1.3h.8m-2.5 .8h.8m-.2 .6h.8m1.8 .9h.8m.4-8.2h.8m-.1 5.5h.8m.7-3h.8m-.7 1.4h.8m-1 3.5h.8m-.3 .8h.8m-1.2 2.5h.8m-1 .5h.8m1.3-7.1h.8m1.2-.7h.8m1.6 8h.8m1.6-5.5h.8m-2.1 2.6h.8m.6 4.5h.8m1.1-10.7h.8m-1.7 8.6h.8m1.5-11.6h.8m-.8 .1h.8m-1.2 11.2h.8m1.8-11.3h.8m11.6 4.2h.8" stroke="#b5b5b5" stroke-width="0.8" fill="none"/>
<path d="M145.7 444.6h.8m-.6 .1h.8m-1.1 .2h.8m-.8 .8h.8m-.5 .1h.8m-.8 .3h.8m-1.1 .1h.8m-.8 .3h.8m1.2-7.9h.8m-.6 .3h.8m-1.4 .7h.8m-.2 .1h.8m-1 .3h.8m-.8 0h.8m-.9 0h.8m-1.1 .1h.8m-1.1 .3h.8m.1 0h.8m-1.5 0h.8m-.7 .1h.8m-1.1 .1h.8m-.3 .1h.8m-1.4 .1h.8m.3 0h.8m-1 .3h.8m-.8 0h.8m-1.2 .1h.8m-.7 .2h.8m-.6 .1h.8m-.5 .4h.8m-2.3 .1h.8m-.7 .2h.8m-1 .3h.8m-.6 .3h.8m-.2 0h.8m-1.1 .1h.8m-.6 .1h.8m-1.8 .2h.8m-.1 .1h.8m-1.4 0h.8m.6 .1h.8m-.9 0h.8m-1.1 .1h.8m-1.8 .1h.8m.7 .2h.8m-2.2 0h.8m-1 .2h.8m.8 .1h.8m-1.2 0h.8m-1.2 .1h.8m-1.2 0h.8m-.4 .1h.8m-1.1 0h.8m-.2 .1h.8m-.5 0h.8m-1.9 0h.8m.1 .1h.8m-1.2 .1h.8m-1.5 0h.8m-.2 .1h.8m-.2 .1h.8m-1.2 0h.8m-.4 0h.8m-.7 .3h.8m-.3 .3h.8m-.9 .1h.8m-1.4 .1h.8m-1 .1h.8m-.2 .1h.8m-1.7 0h.8m-.1 .1h.8m-.5 0h.8m-1.6 .1h.8m-1.7 0h.8m.1 0h.8m-.8 .1h.8m-1.4 .1h.8m.3 .1h.8m-.4 0h.8m-1.7 0h.8m-1.7 .1h.8m-.6 .1h.8m-.8 0h.8m-.9 0h.8m-.3 0h.8m2.5-12.2h.8m-.8 0h.8m-.9 .6h.8m-1 .1h.8m-.6 0h.8m-.8 .3h.8m-.7 .5h.8m-.8 0h.8m-.9 .1h.8m-1.1 .4h.8m-1.7 .1h.8m-.6 .1h.8m-.6 0h.8m-1 0h.8m-.1 .2h.8m-.6 .1h.8m-1.9 .1h.8m-.7 .1h.8m.2 .1h.8m-1.1 0h.8m-1.7 .2h.8m.2 0h.8m-.9 .2h.8m-2.1 .1h.8m.1 0h.8m-1.1 .1h.8m-.3 0h.8m-.9 .2h.8m-.3 .4h.8m-2.4 0h.8m.1 .1h.8m-1.4 .1h.8m.6 0h.8m-1.9 .3h.8m.3 .1h.8m-1.3 .3h.8m-.1 .1h.8m-1.5 0h.8m-1.7 .1h.8m-.1 .1h.8m0 .2h.8m-1.2 0h.8m-1.5 .1h.8m-.4 .2h.8m-1.1 .1h.8m-.3 0h.8m-1.9 0h.8m-.6 .1h.8m-.7 .1h.8m.5 0h.8m-2.6 .3h.8m-.1 0h.8m-.1 .1h.8m-1.9 0h.8m-.7 .1h.8m-1 .1h.8m-.5 .1h.8m-.6 0h.8m-.7 .1h.8m-1.5 0h.8m-.1 .3h.8m-.5 0h.8m-1.7 .1h.8m.4 .2h.8m-1.7 0h.8m-.6 .5h.8m-1.2 .1h.8m-.3 .4h.8m-1.3 .1h.8m.8 .1h.8m-1.7 .1h.8m-1.3 .1h.8m-.9 0h.8m-.3 0h.8m-1.6 .2h.8m-.6 .2h.8m-.2 0h.8m-.5 .1h.8m-.4 .1h.8m-2.3 0h.8m-.6 .2h.8m-.2 .3h.8m-.9 .4h.8m-1.3 .3h.8m-.8 0h.8m.1 .1h.8m-1.3 0h.8m.2 .1h.8m-2.2 .1h.8m.3 .1h.8m-1.5 .8h.8m-.8 0h.8m0 0h.8m-.7 0h.8m-1.8 .1h.8m0 .1h.8m-1.3 .1h.8m.2 0h.8m-2.5 0h.8m-.4 0h.8m-.9 .1h.8m2.6-14.8h.8m-1.2 .4h.8m-.7 0h.8m-1 0h.8m-.6 .1h.8m-.9 .2h.8m-.5 .6h.8m-.8 .1h.8m-1.1 .1h.8m-.7 .2h.8m-2 .1h.8m.7 .3h.8m-1.9 .1h.8m-1.6 .1h.8m1 0h.8m-2.3 .1h.8m0 0h.8m-1.6 .1h.8m-.1 0h.8m0 .2h.8m-1.1 0h.8m-.5 .2h.8m-1.4 .1h.8m-.1 .1h.8m-2.4 .1h.8m.2 .1h.8m-.9 0h.8m-.6 .2h.8m-1.3 .1h.8m-.3 0h.8m-1.4 0h.8m-1.5 0h.8m.1 .5h.8m-1.2 0h.8m-.9 .1h.8m.1 .1h.8m-.9 .1h.8m-.7 0h.8m-.3 0h.8m-.9 .1h.8m-1.9 .1h.8m-.7 .2h.8m-1.4 .1h.8m.1 .1h.8m-.5 0h.8m-1.9 0h.8m-1 0h.8m-.4 .1h.8m.6 .2h.8m-2.7 .2h.8m-.7 0h.8m-.8 0h.8m-.3 0h.8m.1 .1h.8m-1.8 0h.8m-.1 .4h.8m-1.4 0h.8m-.4 0h.8m-1.2 0h.8m.5 .1h.8m-2.7 0h.8m-.5 .3h.8m.8 0h.8m-2.4 .3h.8m-.4 0h.8m.2 .1h.8m-1.1 0h.8m-1 .1h.8m-.7 0h.8m-.2 .3h.8m-1.2 0h.8m-1.2 .2h.8m-.7 .2h.8m-1.9 .1h.8m-.3 .5h.8m-.1 .1h.8m-1.3 0h.8m-.4 0h.8m-.2 0h.8m-.9 .1h.8m-2.1 0h.8m-.5 .1h.8m-.3 0h.8m-.2 .5h.8m-.8 .1h.8m-1.6 .1h.8m-1.3 0h.8m-.3 0h.8m-.3 .1h.8m-1 .4h.8m-.7 .3h.8m-.8 0h.8m-2.1 0h.8m-.5 .2h.8m0 0h.8m-2 .3h.8m-.7 .1h.8m-.8 0h.8m1 0h.8m-2.3 .1h.8m-.2 0h.8m-1.1 .1h.8m-.7 0h.8m-1.5 .2h.8m.1 0h.8m.1 .1h.8m-2.1 .3h.8m.3 0h.8m-1.9 .4h.8m-.4 .1h.8m-.3 .2h.8m-2.2 .1h.8m.1 .3h.8m-.8 .1h.8m-1.6 0h.8m-1 .1h.8m.8 .1h.8m-1.9 .1h.8m-.4 .2h.8m0 0h.8m-1 .1h.8m-1.7 0h.8m-.6 .3h.8m-1.5 0h.8m-.9 .1h.8m-.1 .2h.8m-.9 0h.8m-1 .4h.8m.6 .4h.8m-2.3 .1h.8m.4 0h.8m-2.2 0h.8m2.3-16.4h.8m-.8 0h.8m-.8 .1h.8m-.2 .2h.8m-.9 0h.8m-1.1 0h.8m-1.2 .1h.8m-.8 .1h.8m.1 .1h.8m-1.1 0h.8m-1.5 0h.8m-.3 .3h.8m-1.7 0h.8m.2 0h.8m-1.1 .2h.8m-.3 .3h.8m-1.6 0h.8m-1 .1h.8m-1.2 .1h.8m.4 0h.8m-1.4 .1h.8m0 0h.8m-2.4 .1h.8m.7 .1h.8m-2 .3h.8m-.2 .1h.8m-.5 .2h.8m-1.3 .1h.8m-1.6 .1h.8m.6 .1h.8m-1 .1h.8m-.3 .1h.8m-1.8 .2h.8m-1.2 .3h.8m-.9 .1h.8m-.7 .1h.8m-.5 0h.8m-.1 .2h.8m-1.8 .1h.8m-.5 0h.8m-.8 .2h.8m0 .1h.8m-2.1 0h.8m-.9 .2h.8m.4 0h.8m-1.2 .3h.8m-1.1 .1h.8m.2 0h.8m-1.4 .2h.8m-1.2 .1h.8m-1.3 0h.8m.7 .1h.8m-.5 .1h.8m-1.6 .1h.8m-1 .1h.8m-.2 .2h.8m-.9 .4h.8m-.2 .2h.8m-2 .1h.8m.3 .1h.8m-.8 0h.8m-.8 0h.8m-2 .1h.8m.3 0h.8m-2.4 0h.8m.3 .1h.8m-.7 .1h.8m-1.1 .2h.8m-.7 .1h.8m-1.6 .4h.8m-1.1 0h.8m-.2 .3h.8m-.8 .1h.8m-.6 .2h.8m.2 .1h.8m-2.5 0h.8m-.3 .1h.8m-1.1 .2h.8m-.6 .2h.8m-1 .1h.8m-1 .1h.8m-.5 .2h.8m-.6 0h.8m-.6 .4h.8m-1.4 0h.8m-.9 .2h.8m-.2 .1h.8m-.3 0h.8m-2 .2h.8m-.3 .1h.8m-.5 0h.8m-.9 .1h.8m-1 .1h.8m.3 .1h.8m-2.3 .1h.8m.4 .3h.8m-1.4 .5h.8m-.6 0h.8m-1.1 .1h.8m-1 0h.8m-.2 .3h.8m-1.8 .6h.8m-.2 .4h.8m-1.2 .2h.8m.4 .2h.8m-1.8 .1h.8m-.9 .4h.8m-.1 .5h.8m-1.7 .1h.8m-.4 .1h.8m-1.1 .7h.8m-.2 0h.8m-1.5 .3h.8m.8 .1h.8m-.7 .2h.8m-2.3 0h.8m-.5 .1h.8m-1 .1h.8m-.6 .1h.8m-1.4 0h.8m.4 .5h.8m.8-18.1h.8m-.9 .1h.8m-.2 .2h.8m-1.3 .1h.8m-.7 .1h.8m-.6 0h.8m-.3 .1h.8m-1.1 .1h.8m-.4 0h.8m-1.2 .2h.8m-.7 .3h.8m-.7 0h.8m-2 .5h.8m.5 0h.8m-2.2 .1h.8m-.7 .1h.8m-.3 0h.8m.3 0h.8m-.8 0h.8m-1.7 .2h.8m-1.2 .4h.8m.5 .1h.8m-2.7 .3h.8m.9 .4h.8m-1.9 .1h.8m-1.1 .1h.8m-.8 .1h.8m.1 0h.8m-.7 .3h.8m-.9 .1h.8m-.3 .1h.8m-1.7 0h.8m-.1 .3h.8m-.9 .6h.8m-1.2 .2h.8m0 .1h.8m-2 .1h.8m-.4 .2h.8m-1.8 .1h.8m-.2 0h.8m-.4 .1h.8m-.2 .2h.8m-2.1 .2h.8m.5 0h.8m-1.8 .2h.8m0 .1h.8m-.8 .1h.8m-.5 .2h.8m-1.8 .2h.8m-.7 0h.8m-1.1 .1h.8m0 0h.8m-.3 .2h.8m-1.6 .2h.8m.1 .3h.8m-1.6 .1h.8m-.1 0h.8m-2 0h.8m-1.2 .1h.8m.5 .3h.8m-.8 .2h.8m-1 0h.8m-1.3 .1h.8m-.9 .1h.8m.3 .1h.8m-1.3 0h.8m-.5 .1h.8m-1.5 .1h.8m-.8 .1h.8m-.7 .1h.8m-.7 0h.8m-1.9 .1h.8m.9 .1h.8m-.7 .5h.8m-1.1 0h.8m-1.2 .2h.8m-1.9 0h.8m.3 .2h.8m-1.8 .5h.8m-.5 .2h.8m-.5 .2h.8m-1.4 .4h.8m-.8 0h.8m-.7 .1h.8m-.5 0h.8m-1.3 .3h.8m-.5 .2h.8m-.8 .1h.8m.8 .5h.8m-1.5 .1h.8m-1.6 .2h.8m-1 .4h.8m.1 .4h.8m-1.3 .1h.8m-.4 .5h.8m-.9 .1h.8m-1.7 .1h.8m.2 .3h.8m0 .4h.8m-1.4 0h.8m-.7 0h.8m-1.9 .3h.8m-.7 .1h.8m-1.1 .3h.8m.2 0h.8m-1.1 .6h.8m-.5 .2h.8m.1 .4h.8m-1.7 .1h.8m-.7 .2h.8m-.1 0h.8m-1.8 .4h.8m2.2-20.8h.8m-.8 .2h.8m-1.3 .2h.8m-.6 .2h.8m-1.4 .8h.8m-.6 .1h.8m-1.1 .3h.8m-.3 0h.8m-2 .3h.8m.9 .1h.8m-1.2 .2h.8m-.3 0h.8m-1.3 .1h.8m-.7 .4h.8m-.6 .1h.8m-1.9 .1h.8m-1 .2h.8m-.8 .2h.8m-.9 .2h.8m-.8 0h.8m.3 .2h.8m-1.8 0h.8m.6 .4h.8m-2.2 0h.8m0 .1h.8m-.7 .1h.8m-.6 .2h.8m-1 0h.8m-1.8 0h.8m.3 .2h.8m-1.8 .2h.8m-1.1 0h.8m-.1 .1h.8m-1.4 .2h.8m-.2 0h.8m.1 .1h.8m-2.1 .1h.8m0 .1h.8m-1.1 .1h.8m-.1 0h.8m-1.6 .1h.8m.2 0h.8m-2.2 .1h.8m0 0h.8m-1.3 .1h.8m-.6 .1h.8m-.8 .1h.8m-1.1 .1h.8m-1.1 0h.8m-.1 .1h.8m-1.6 0h.8m.8 .1h.8m-2.5 .8h.8m.5 .1h.8m-1.5 .1h.8m-1 .1h.8m-.4 .3h.8m-1.1 0h.8m-.9 0h.8m-1.3 .1h.8m-.8 .1h.8m-.8 .4h.8m-.3 .2h.8m0 0h.8m-1 .3h.8m-.7 .1h.8m-.8 .3h.8m-.7 .3h.8m-.3 .2h.8m-.7 .2h.8m-2.7 .1h.8m-.8 .1h.8m-.6 .1h.8m-.8 .4h.8m.5 0h.8m-1.6 .4h.8m-1.4 0h.8m.3 .1h.8m-1.2 0h.8m-.6 .1h.8m0 .1h.8m-2.6 .3h.8m-.6 0h.8m-.2 .3h.8m0 .2h.8m-1.7 .1h.8m-1.5 .7h.8m0 0h.8m-1.3 .1h.8m0 .1h.8m-.8 .1h.8m-.8 .1h.8m-1.1 .1h.8m-.7 .6h.8m-1.6 0h.8m.5 .2h.8m-.7 .1h.8m-.6 0h.8m-2.1 .2h.8m.6 0h.8m-2.1 .3h.8m-.2 0h.8m-.7 .6h.8m-.9 0h.8m-.5 .2h.8m-1.4 0h.8m-1 .1h.8m-1.4 0h.8m.9 .1h.8m-1.6 .2h.8m-1.6 .6h.8m.3 .1h.8m-1.1 0h.8m-.6 .2h.8m-1.5 0h.8m-.8 0h.8m-1 .1h.8m-.3 0h.8m-.3 .1h.8m-1.1 .3h.8m-1.5 .2h.8m-.4 .3h.8m-1.1 0h.8m.2 .4h.8m-.4 0h.8m-.9 .1h.8m-1.1 .3h.8m-1.5 .2h.8m0 .4h.8m-.8 .1h.8m-2.2 .3h.8m.2 0h.8m.1 0h.8m-2.3 0h.8m-1.2 .2h.8m-.8 .1h.8m.5 .1h.8m-1.2 .1h.8m-1 .1h.8m2.2-21.9h.8m-.9 0h.8m-.5 .4h.8m-1.8 .7h.8m-1.6 .1h.8m-.6 .3h.8m-.1 .1h.8m-1.7 0h.8m-.5 .1h.8m-.1 0h.8m-.5 .3h.8m-1 .1h.8m-1.8 .1h.8m-.3 .3h.8m-.2 .3h.8m-1.1 .4h.8m-1.4 .9h.8m-.5 0h.8m-.7 .1h.8m-.1 0h.8m-1.2 .3h.8m-1.7 0h.8m-.5 .7h.8m-.7 0h.8m-.5 0h.8m-1.5 .2h.8m-.6 .3h.8m-.1 .2h.8m-1.9 .2h.8m-.1 .1h.8m-1.3 0h.8m-.6 .5h.8m-.9 0h.8m-1.1 .3h.8m.7 .1h.8m-2.1 0h.8m-.9 0h.8m-.4 .1h.8m.2 .3h.8m-1.8 .2h.8m.5 .1h.8m-.8 .4h.8m-1.8 .1h.8m-.1 .1h.8m-1.2 .1h.8m-.5 .1h.8m-1.6 .5h.8m-.8 .1h.8m-1.4 .1h.8m-.1 0h.8m.3 .3h.8m-2 .1h.8m.3 0h.8m-1.5 .3h.8m-1.2 .3h.8m-.8 .5h.8m-.7 .2h.8m-.8 .5h.8m-.7 0h.8m0 .2h.8m-1.8 .4h.8m-.2 0h.8m-.4 .2h.8m-.6 .3h.8m-2.3 .2h.8m.3 .1h.8m-2.2 .3h.8m1.1 .1h.8m-2.7 .3h.8m0 0h.8m-1.3 .1h.8m0 .3h.8m0 .2h.8m-1.6 0h.8m-1.5 .6h.8m-.8 .2h.8m-.3 0h.8m-1 .1h.8m-.7 .3h.8m-.2 .1h.8m-1.3 0h.8m-.4 .6h.8m-1.1 .1h.8m-1.7 0h.8m.9 0h.8m-1.3 .3h.8m-1 .2h.8m-.6 0h.8m-1.6 0h.8m-.9 .1h.8m.4 .1h.8m-.8 .5h.8m-1.3 0h.8m-1.8 .2h.8m.6 .1h.8m-1.5 .4h.8m-.9 .6h.8m-1.2 .1h.8m-.2 .1h.8m-1.3 .2h.8m.3 .1h.8m-2.3 .2h.8m.1 .4h.8m-1.4 .3h.8m.3 .1h.8m-1.6 .4h.8m-.9 0h.8m-.3 .1h.8m-1.6 0h.8m-1 .3h.8m0 0h.8m0 .3h.8m-1.5 .5h.8m-1.2 .4h.8m2.4-23.4h.8m-.8 0h.8m-.7 .3h.8m-1.2 .1h.8m-1.3 .1h.8m-.4 .2h.8m-1.4 .1h.8m-.8 0h.8m-.9 .2h.8m-1 .1h.8m.6 .2h.8m-1.7 .1h.8m.1 .3h.8m-1 0h.8m-1.2 .1h.8m-1.6 0h.8m-.5 0h.8m-.9 .1h.8m.2 .1h.8m-2.2 .4h.8m-1 0h.8m.4 .2h.8m-.1 .1h.8m-2.2 .4h.8m-.9 0h.8m-.1 .1h.8m-1.5 .3h.8m.7 .3h.8m-1.7 .1h.8m-1.2 .3h.8m.1 .2h.8m-2.3 .2h.8m-.8 .1h.8m.1 0h.8m-.6 .3h.8m-.6 .4h.8m-.9 .1h.8m-1.8 .1h.8m0 .2h.8m-1.6 .4h.8m.9 .1h.8m-1.9 .2h.8m-1.2 .4h.8m-.7 .9h.8m.2 .5h.8m-.8 .3h.8m-1.6 .6h.8m-1.2 .6h.8m.7 .2h.8m-.7 .2h.8m-2.1 .4h.8m-.6 .3h.8m-1.1 .3h.8m-.1 .8h.8m-1.2 .3h.8m-.3 .3h.8m-.7 .5h.8m-.5 .3h.8m-1.2 .4h.8m-1.7 .5h.8m.6 0h.8m-2 .4h.8m0 0h.8m-.6 .3h.8m-1.8 .6h.8m-1.2 .1h.8m.8 0h.8m-2.2 .6h.8m-1.2 .2h.8m.8 1.1h.8m-.7 .5h.8m-1.9 0h.8m-.8 1.1h.8m.4 0h.8m-.8 .2h.8m-2.5 .1h.8m.1 .7h.8m-.2 .2h.8m-2.3 .3h.8m.9 .6h.8m-2.6 .2h.8m.3 0h.8m-.6 .2h.8m-.5 0h.8m-1.8 .1h.8m-1.1 .3h.8m-.8 .1h.8m-.8 .3h.8m.8 .3h.8m-2.4 .5h.8m2-24h.8m-1.3 .1h.8m-.5 .3h.8m-1.6 .1h.8m.9 .4h.8m-2 .1h.8m-.4 .2h.8m-.5 0h.8m-2 .1h.8m-.6 0h.8m-.8 .1h.8m.4 .5h.8m-1.1 .2h.8m-.8 1h.8m-1.3 .1h.8m.2 .1h.8m-1 .3h.8m-2.3 0h.8m.2 .1h.8m-1.5 0h.8m-1.1 .8h.8m-.2 .5h.8m-.5 .3h.8m-.2 .7h.8m-.7 0h.8m-1.5 .2h.8m-.4 .2h.8m-1.4 .3h.8m-1.2 .2h.8m-.4 .3h.8m-.4 .2h.8m-.6 .4h.8m-2.1 .1h.8m-.2 .3h.8m-1.3 0h.8m-.4 .1h.8m-1.2 .4h.8m0 .3h.8m-1.4 .7h.8m-.6 .1h.8m-.1 .6h.8m-1.3 .1h.8m-.1 .2h.8m-1.5 .8h.8m-.3 0h.8m-.4 .1h.8m-2.2 .1h.8m-.4 0h.8m-.7 .1h.8m-.7 .2h.8m-.7 .2h.8m-1.7 .3h.8m-.7 .5h.8m-.8 .1h.8m.9 .7h.8m-1.7 .2h.8m0 0h.8m-1.5 .2h.8m-.4 .2h.8m-.7 .4h.8m-1.2 .2h.8m-.4 .9h.8m-1.3 0h.8m-.9 0h.8m-1.7 .2h.8m0 .3h.8m.2 .4h.8m-2.1 0h.8m-.4 1.1h.8m.2 .4h.8m-2.6 0h.8m.7 0h.8m-.7 .1h.8m-1.1 .4h.8m-.3 .1h.8m-2.2 .5h.8m.1 .1h.8m-1.5 .2h.8m.1 0h.8m-1 0h.8m-.8 .5h.8m-.7 .2h.8m-1.2 .1h.8m-.3 1h.8m-2.4 .3h.8m.4 0h.8m-.6 .4h.8m-1.5 1.5h.8m-.8 0h.8m0 .1h.8m-2.1 .1h.8m-1 0h.8m2.7-25.3h.8m-1 .1h.8m-.6 .2h.8m-.5 1h.8m-2.1 .1h.8m-1.2 .5h.8m-.8 .5h.8m-.1 .1h.8m-.6 0h.8m-1.1 .2h.8m-1.5 .5h.8m-.8 .1h.8m-.1 .4h.8m-1.3 0h.8m-.8 .1h.8m.3 0h.8m-.4 .1h.8m-1.8 .9h.8m-.5 .2h.8m-1.6 0h.8m-1 .2h.8m-.4 .1h.8m.5 .1h.8m-2.5 0h.8m.6 .3h.8m-1.1 .4h.8m-.1 .7h.8m-.9 .2h.8m-1.3 .1h.8m-1.7 .7h.8m.8 .2h.8m-2.6 .3h.8m.9 .2h.8m-1.5 .1h.8m-1.3 .3h.8m.2 .6h.8m-1.6 .6h.8m0 .1h.8m-2.1 .2h.8m-.3 .9h.8m.1 .3h.8m-.6 0h.8m-1.5 .4h.8m-1 .3h.8m-.9 .3h.8m-1.3 .5h.8m-.7 1h.8m-.9 1.4h.8m.1 0h.8m-2.1 .1h.8m1 .1h.8m-1.4 .1h.8m-.9 .4h.8m-1.6 .3h.8m-.2 .9h.8m-.6 .7h.8m-.4 .7h.8m-.6 .3h.8m-1.3 .3h.8m-.5 .2h.8m-.4 0h.8m-2.2 .3h.8m.5 0h.8m-2.2 .5h.8m-.6 0h.8m-1.2 1h.8m.8 .5h.8m-.8 .1h.8m-2.6 .8h.8m0 .4h.8m-.8 .8h.8m-.4 .1h.8m-1.6 .1h.8m.3 1h.8m-2.1 .3h.8m2.4-26.5h.8m-1.2 .4h.8m-1.3 .3h.8m-1.2 .4h.8m.8 .1h.8m-.6 .2h.8m-.8 .1h.8m-1.4 .2h.8m-.5 .1h.8m-1 .3h.8m-1 .3h.8m-.3 0h.8m-1.7 .1h.8m-1 1.1h.8m-.5 .2h.8m-.2 .3h.8m-2.1 .2h.8m.2 .6h.8m-.4 .2h.8m-.6 .1h.8m-1.1 .3h.8m-1.8 .4h.8m.5 0h.8m-1.4 .5h.8m-1.4 .2h.8m-.2 .1h.8m-2 .2h.8m.5 .4h.8m-1.9 .1h.8m-.7 .3h.8m.4 .2h.8m-2.2 .8h.8m-.6 .1h.8m-.9 .8h.8m.6 .2h.8m-1.7 .1h.8m-.4 .4h.8m-1 .1h.8m-1.6 .1h.8m-.1 .4h.8m.1 .1h.8m-1.3 .3h.8m-.9 .5h.8m-1.1 .4h.8m.2 .4h.8m-2.1 .1h.8m0 .2h.8m-.6 .5h.8m-.7 .2h.8m-2 .1h.8m.1 .1h.8m-1.1 .2h.8m-1.2 .1h.8m.5 .1h.8m-1.1 .3h.8m-2 .2h.8m.2 .4h.8m-.5 .1h.8m-.6 .1h.8m-2.6 .3h.8m-.1 .1h.8m-1.4 .7h.8m-.1 .1h.8m-1.4 .3h.8m.7 .2h.8m-.7 .3h.8m-2.3 .2h.8m.6 .4h.8m-2.5 .1h.8m.6 .4h.8m-1.6 .9h.8m-1.5 .5h.8m.1 .1h.8m-1.3 .2h.8m-.6 .2h.8m-.5 .2h.8m-1.4 .8h.8m-.7 .2h.8m.5 .4h.8m-1.4 .2h.8m-.1 .6h.8m-2.3 .1h.8m-1.1 0h.8m.3 .2h.8m0 0h.8m-1.1 .2h.8m-1.2 .4h.8m-1.4 .2h.8m.4 .6h.8m-.7 1.6h.8m1.1-26.9h.8m-.7 1h.8m-2.1 .5h.8m.4 0h.8m-1.6 .5h.8m-1 .2h.8m.2 .5h.8m-1.6 .2h.8m-.9 .8h.8m-.6 .2h.8m-.1 .6h.8m-1.3 .2h.8m-.6 .5h.8m-2.3 0h.8m-.2 .1h.8m-1.3 .1h.8m-.7 .3h.8m-.3 .3h.8m-.1 .4h.8m-.6 .6h.8m-.5 .3h.8m-2.5 .3h.8m.6 .2h.8m-1.5 .4h.8m.1 .3h.8m-2 .1h.8m-1.2 0h.8m-.4 .1h.8m-.5 .2h.8m-1.5 .1h.8m-1 0h.8m-.7 .3h.8m-.9 .6h.8m0 .3h.8m-1.1 0h.8m-1.3 0h.8m-.7 .2h.8m-.4 .1h.8m-.4 .4h.8m-1.1 .1h.8m-1.2 1.1h.8m.1 .3h.8m-1.7 .1h.8m-.2 .4h.8m-1 0h.8m.1 .6h.8m-.8 .3h.8m-.9 .4h.8m-2.1 .1h.8m.5 .6h.8m-1.2 .1h.8m-.4 .5h.8m-1.4 1h.8m-1.4 .7h.8m-.1 .2h.8m-.6 .1h.8m-.7 .2h.8m-.2 .1h.8m-2.2 .5h.8m.2 .5h.8m-1.7 .3h.8m.6 .1h.8m-2.3 .3h.8m-.7 .1h.8m-1.1 .8h.8m0 .1h.8m-.7 .1h.8m-.6 .4h.8m-.6 1h.8m-.6 .9h.8m-2 0h.8m-.7 .2h.8m.4 0h.8m-1.4 .7h.8m-1.6 .3h.8m.3 .8h.8m-1.9 .4h.8m-.1 .7h.8m-1.5 .2h.8m.6 .8h.8m-2 .2h.8m1.6-27h.8m-1.1 .3h.8m-.9 .1h.8m-.9 .4h.8m-1.1 .3h.8m.3 .5h.8m-.4 .1h.8m-2.3 .1h.8m.3 .1h.8m-2.1 .3h.8m.6 .2h.8m-1.5 0h.8m.3 .5h.8m-1.3 .1h.8m-2.1 .1h.8m-.3 .2h.8m-.5 .3h.8m-1 .5h.8m-.7 .4h.8m-1.3 .1h.8m.4 .4h.8m-1.7 .2h.8m-1.3 .1h.8m-.2 .1h.8m-.3 0h.8m-1.7 .7h.8m.2 .3h.8m-1.6 .2h.8m-.2 1h.8m-.4 .1h.8m-1 0h.8m-.8 .1h.8m-1.8 .3h.8m.3 .4h.8m-2 .7h.8m.5 0h.8m-1.4 0h.8m-.2 .6h.8m-1.4 .1h.8m-1.2 .1h.8m-.2 .9h.8m.1 .4h.8m-.8 .2h.8m-2.1 .1h.8m-.3 .2h.8m-1 0h.8m-1.6 1.2h.8m.8 .2h.8m-.9 .4h.8m-.6 .1h.8m-1.3 .4h.8m-2 .2h.8m-.4 .3h.8m-.5 .2h.8m-1.6 0h.8m-.6 .4h.8m.5 .2h.8m-.9 .2h.8m-1.5 .2h.8m-1.4 1.6h.8m.2 .2h.8m-.5 .1h.8m-.3 .3h.8m-1.4 .2h.8m-2.1 1h.8m.7 .3h.8m-.9 .2h.8m-1.8 0h.8m.6 0h.8m-2 .4h.8m-.6 .1h.8m-.7 .2h.8m-1.4 .3h.8m-.9 .1h.8m.1 1.2h.8m-1.8 .6h.8m-.2 .5h.8m0 .1h.8m-1.1 .2h.8m-1.2 1.4h.8m-.6 .1h.8m-.7 0h.8m-.2 .4h.8m-1.2 .1h.8m-1.9 1.1h.8m-.3 .2h.8m-.2 .2h.8m-1.9 .2h.8m2.1-28.7h.8m-.3 .3h.8m-.7 0h.8m-1.5 .6h.8m-1 .1h.8m-.4 0h.8m-.2 0h.8m-1.4 .8h.8m-1.6 .5h.8m-.3 .2h.8m-.6 .2h.8m-1.7 0h.8m-.5 .5h.8m-1 .1h.8m.4 .6h.8m-1.8 .6h.8m-.5 .2h.8m-1.1 .7h.8m-.8 .2h.8m-.9 .1h.8m-.1 0h.8m-.9 .1h.8m0 .5h.8m-1.3 .4h.8m-.8 .8h.8m-2.1 .3h.8m-.2 .2h.8m-1.3 .2h.8m-.1 .6h.8m-1.3 .2h.8m-.6 .1h.8m.5 .2h.8m-1.5 2.1h.8m-.9 0h.8m-1.8 .5h.8m-.8 .7h.8m.9 0h.8m-2 .7h.8m.6 .1h.8m-1.6 .6h.8m-.1 .1h.8m-.8 .3h.8m-2.5 .4h.8m.1 0h.8m-1.8 .6h.8m.5 .7h.8m-.2 .7h.8m-2.5 .4h.8m-1 1.7h.8m1 .1h.8m-1.9 .1h.8m.3 1.2h.8m-.9 .1h.8m-.7 .2h.8m-1.2 0h.8m-1.1 0h.8m-1.9 .1h.8m.6 .7h.8m-2 .5h.8m-.3 1.1h.8m-.3 .5h.8m-.4 .4h.8m-1.5 .1h.8m-.3 .1h.8m-1.9 .3h.8m.5 .6h.8m-2.4 .2h.8m-.1 .5h.8m.4 0h.8m-1.3 .3h.8m-.4 .1h.8m-.7 .4h.8m-1.5 1.3h.8m1.6-28.5h.8m-1.2 .2h.8m-1.1 .1h.8m-1 .4h.8m.1 .5h.8m-2.3 .2h.8m.7 .2h.8m-.9 .7h.8m-.5 .3h.8m-2.4 .5h.8m.5 .4h.8m-.5 2.6h.8m-1.8 .8h.8m-.2 0h.8m-.7 .2h.8m-.7 .4h.8m-1.2 .6h.8m-1.3 .1h.8m-1 .3h.8m-.4 .7h.8m-1.3 .3h.8m-1 .6h.8m-.5 .1h.8m-1.3 1.2h.8m.4 .3h.8m-.8 0h.8m-1.3 .2h.8m-.8 .1h.8m-1 .5h.8m-1.3 .2h.8m.4 .5h.8m-1.1 .1h.8m-1.1 .5h.8m-.7 .4h.8m-1.5 .9h.8m.1 .3h.8m-.8 .9h.8m-1.7 0h.8m0 .1h.8m-.5 .5h.8m-.5 .4h.8m-2.1 .2h.8m-.9 .6h.8m1 .8h.8m-2.5 .7h.8m-.6 .8h.8m.2 1h.8m-1.6 .3h.8m-.8 0h.8m-.7 .1h.8m.4 1.1h.8m-.8 .5h.8m-2 .1h.8m-1.4 .2h.8m.6 .2h.8m-.8 .4h.8m-2 1.9h.8m0 .6h.8m-.4 .7h.8m.2-30.2h.8m-1 .3h.8m.1 .8h.8m-1.8 1.4h.8m.8 .3h.8m-1.8 .1h.8m-.3 0h.8m-1.7 .8h.8m-1 1.1h.8m-.4 .4h.8m.2 1.1h.8m-.8 .9h.8m-.7 .3h.8m-1.1 .5h.8m-2.1 1.3h.8m-.3 .3h.8m-.9 .6h.8m-.6 .6h.8m-.3 .3h.8m-.8 .2h.8m-1.6 .5h.8m.1 1.5h.8m-1.1 .5h.8m-1.1 0h.8m-1.1 1h.8m.5 .2h.8m-.8 .6h.8m-1.3 .1h.8m-.5 .1h.8m-.3 .4h.8m-2.4 .4h.8m-1.1 .6h.8m.1 .3h.8m-.8 1.6h.8m-.3 1.4h.8m-1.1 .8h.8m-1.6 .1h.8m.1 1.5h.8m-.7 .6h.8m-.6 2.8h.8m-.6 .6h.8m-1.8 .8h.8m-1 0h.8m-.8 .2h.8m.1 .2h.8m-1.1 .5h.8m-1.4 .2h.8m-1.2 .3h.8m.4 .9h.8m-2 .2h.8m-.1 .5h.8m-.9 .9h.8m.5-32.2h.8m1.1 2h.8m-1.4 .1h.8m-1.9 .3h.8m-.8 .3h.8m.2 .5h.8m-1.6 1.6h.8m.7 1.2h.8m-1.4 0h.8m-1.8 1.1h.8m-.4 .2h.8m-.4 .1h.8m-1.1 1.1h.8m-.6 1.2h.8m-1.3 .6h.8m-.2 .5h.8m-1.9 .5h.8m.2 .1h.8m-1.3 .6h.8m.2 .4h.8m-1.9 2.1h.8m.6 .9h.8m-.7 1.2h.8m-1.4 .3h.8m-2 0h.8m0 1h.8m-.2 .2h.8m-.5 2.2h.8m-1.1 .1h.8m-2 .4h.8m-.8 1h.8m-.4 1.3h.8m-.8 .2h.8m.4 2h.8m-2 .4h.8m-.3 .8h.8m-1.2 2h.8m.3 .3h.8m-1.7 .3h.8m.1 .9h.8m.7-28.9h.8m-.4 .3h.8m-1.6 .1h.8m-1.2 .2h.8m-.3 1.8h.8m-1.6 1.1h.8m-.2 .6h.8m0 1.1h.8m-.8 .2h.8m-2.3 2.4h.8m.6 .1h.8m-.9 0h.8m-.5 1.3h.8m-2.3 .1h.8m.4 .7h.8m-.9 .1h.8m-1.9 1.1h.8m.6 .6h.8m-1.3 .9h.8m-.4 1.1h.8m-1.3 0h.8m-1.9 .9h.8m1 .3h.8m-2.2 1.2h.8m-1.1 .1h.8m-.3 3.9h.8m-1.2 2.3h.8m.9 .6h.8m-2 2.2h.8m-.6 0h.8m-.5 1.3h.8m-1.5 .1h.8m-1 .9h.8m-1.1 2.6h.8m-.3 .9h.8m.2 .2h.8m.4-30.2h.8m.1 1.4h.8m-.9 .4h.8m-2.2 0h.8m-.2 .6h.8m-1.2 .7h.8m.3 1.7h.8m-2.2 .7h.8m.3 1.6h.8m-1.5 .3h.8m-.1 .3h.8m-1.9 .7h.8m.8 .2h.8m-.5 .2h.8m-2.4 2.2h.8m-.2 .2h.8m-.5 .7h.8m-.7 .3h.8m-2.1 .5h.8m1.1 .4h.8m-2.5 .3h.8m-.9 .4h.8m-.1 .1h.8m0 .2h.8m-1.3 .6h.8m-.8 .1h.8m-1.2 .5h.8m.3 .4h.8m-2.3 1.6h.8m.4 .5h.8m-1.2 .5h.8m-1.2 .5h.8m-.5 .5h.8m-1.3 1.3h.8m-.2 .3h.8m-1.2 1h.8m-1.2 1.1h.8m-1.1 .5h.8m.6 1.8h.8m-1.7 .5h.8m-.6 .8h.8m.2 .1h.8m-2.2 .9h.8m.2 1.6h.8m-.2 1.3h.8m1.1-32.7h.8m-1.4 .5h.8m-.9 1.2h.8m-1.1 7h.8m-1 .9h.8m-1.4 .4h.8m.6 1.9h.8m-1.5 .1h.8m-1.2 1.3h.8m-.2 .8h.8m-1.4 .3h.8m.2 1.1h.8m-.5 .1h.8m-.8 4.7h.8m-.6 2.2h.8m-2.6 4.7h.8m-.1 .3h.8m-.6 .6h.8m-1.5 3.1h.8m-.2 .4h.8m1.4-30.5h.8m-.9 0h.8m-.5 .8h.8m-1.1 .7h.8m-1.2 .7h.8m-1 3.1h.8m-.8 1.2h.8m-.3 2.2h.8m-1.4 .5h.8m.4 2.5h.8m-2 .8h.8m.2 2.1h.8m-.5 .8h.8m-1.9 2.2h.8m-1 1.3h.8m.7 1.5h.8m-2.2 1.1h.8m-.2 1.5h.8m-.3 .9h.8m-1.9 .3h.8m.5 2.6h.8m-.5 3.4h.8m-2.4 1.5h.8m1.9-33.2h.8m-1.2 1.4h.8m0 2.4h.8m-.9 1.4h.8m-1.1 2.6h.8m-1 .1h.8m-1 3.9h.8m-1.3 .3h.8m-.1 1.5h.8m-.9 1.6h.8m-1 .3h.8m.4 1.8h.8m-1.5 .6h.8m-1.5 .1h.8m-.6 .4h.8m-.5 .3h.8m-.6 .1h.8m-1.8 .8h.8m.3 .8h.8m-.7 .6h.8m-.4 .3h.8m-2.2 .3h.8m.6 3h.8m-1.6 1.1h.8m-.2 .4h.8m-2.1 .1h.8m-.8 .6h.8m.7 .1h.8m-2.3 .4h.8m-.8 2h.8m.3 3.3h.8m1.8-33.5h.8m-1.9 .7h.8m-.6 .3h.8m-.6 3.7h.8m-1 0h.8m-.6 1h.8m-1.9 1.1h.8m.1 .4h.8m-1.1 2.5h.8m-.9 .1h.8m.2 1.3h.8m-1.5 2.9h.8m-1.4 .7h.8m-.5 .7h.8m-1.3 .5h.8m0 .1h.8m-1.6 1.8h.8m-.4 .4h.8m.3 .9h.8m-.6 .4h.8m-1.5 .9h.8m-1.8 .2h.8m.6 1.8h.8m-2.1 1.3h.8m-.9 .2h.8m.3 .5h.8m-.4 1.3h.8m-1.5 8h.8m.4-32.7h.8m-.2 .1h.8m-.9 3.6h.8m-.4 1.4h.8m-.8 2h.8m0 1.2h.8m-1.2 1.3h.8m-1.6 .7h.8m-.2 1.3h.8m-.9 1.1h.8m-.4 3.6h.8m-.4 2.5h.8m-1.1 3.2h.8m-.6 .6h.8m-1.4 .5h.8m-.1 1.4h.8m-1.4 6.3h.8m-1.8 1.9h.8m-.1 0h.8m.3-29h.8m.5 3.9h.8m-.5 2.7h.8m-2.4 1.6h.8m0 4.6h.8m-1.3 .3h.8m.2 1.6h.8m-1.6 .4h.8m-1.3 6.5h.8m-.4 5.2h.8m2.3-30.1h.8m-1.2 6.2h.8m-1 .4h.8m-.5 7.5h.8m-1.2 2.9h.8m-1.3 2.4h.8m-.3 3.3h.8m-.3 0h.8m-2.1 1.4h.8m-.6 2.2h.8m-.3 4.5h.8m-.3 .8h.8m0-34.6h.8m.1 .3h.8m-.5 .4h.8m-1.5 2.5h.8m.1 .2h.8m-1.5 23.9h.8m-1 .4h.8m-.8 .3h.8m-.3 6.6h.8m.3-33.8h.8m.4 5.2h.8m-1 2.7h.8m-1.1 1.2h.8m.2 1.4h.8m-2.3 2.6h.8m-.7 3.5h.8m-.3 1.3h.8m.1 1.5h.8m-2.2 4.2h.8m-.1 2.7h.8m-1.1 2.6h.8m-1.1 1h.8m-.3 2.5h.8m2.1-34.5h.8m-2.6 .5h.8m-.9 3.9h.8m.4 .1h.8m-.4 1.1h.8m-1.5 .4h.8m-.1 4.1h.8m-2 3.4h.8m-.3 .2h.8m-1.2 .4h.8m-.1 2.8h.8m-.5 5.9h.8m-1.8 .9h.8m0 2.4h.8m-.3 .6h.8m-2.3 4.2h.8m1.6-30.3h.8m-1.2 .8h.8m-.3 5.3h.8m-.3 .5h.8m-1.8 1.3h.8m-.7 2h.8m-.3 3.6h.8m-.7 7h.8m-.2 .9h.8m-1.1 1.3h.8m-.4 .7h.8m-1.7 2.5h.8m0 2.5h.8m-1.1 .7h.8m-1.6 5.7h.8m.3 .8h.8m.2-31.7h.8m.1 1.6h.8m-2 .6h.8m.5 4.2h.8m-2.2 11.6h.8m.8 5.7h.8m-1.4 5.8h.8m1.9-34h.8m-1.8 15.7h.8m0 14.4h.8m-.8 5.3h.8m1.2-39h.8m-2.5 4.5h.8m-.3 2.8h.8m.1 11h.8m-.8 2.1h.8m-.5 7.3h.8m-1.9 2.1h.8m.5 10.7h.8m-.4-27.6h.8m-.3 .9h.8m.2 7.2h.8m-2.1 3.9h.8m-.5 .6h.8m-.8 .9h.8m-.2 1.3h.8m-1.7 3.6h.8m-1.2 2.2h.8m1 1.4h.8m-2.5 1.2h.8m-.1 1.7h.8m-1.3 0h.8m-1 2.4h.8m2.3-39.5h.8m-1 3.1h.8m-1.8 1.5h.8m.8 2.1h.8m-1.2 3.6h.8m-1 7.9h.8m-.9 11.5h.8m1.6-28h.8m-1.8 1.2h.8m-.3 9.5h.8m-1.3 4.8h.8m-.8 8.7h.8m-.8 1.4h.8m-.7 1.9h.8m-.9 1.4h.8m-.9 3.9h.8m.5 1.7h.8m-2.2 2.3h.8m2.6-31.6h.8m-2.1 10.6h.8m.5 3.2h.8m-1.1 5.8h.8m-.6 6.6h.8m-1.4 .8h.8m1.8-28.1h.8m-1.1 3h.8m-1.7 11h.8m.5 16.4h.8m-.4-34.9h.8m1.1 12.3h.8m-2.5 1.3h.8m.7 .9h.8m-2.5 4.3h.8m.7 6h.8m-.6 1.8h.8m-.8 3.6h.8m-.9 2.8h.8m.9-18.5h.8m-1.1 1.3h.8m-1 1.5h.8m-.9 3.2h.8m-1.1 13.1h.8m2.7-11.8h.8m-2.5 9.9h.8m-.2 3.8h.8m.5-13.8h.8m.3 4.9h.8m.1-24.5h.8m.3 13.7h.8m-.8 8.4h.8m0-24.5h.8m1.4-4.4h.8m-.1 7.2h.8m0 4.5h.8m-.9 3.1h.8m-1.7 6.4h.8m-.5 16.4h.8m.7-13.7h.8m-.6 8.5h.8m-1.3 5.9h.8m2-36.4h.8m-.8 4.4h.8m-1.2 3.6h.8m-.8 .6h.8" stroke="#e8412f" stroke-width="0.8" fill="none"/>
<path d="M145.6 460.1h.8m-1.1 0h.8m-.7 0h.8m-.7 0h.8m-.6 0h.8m-1.8 0h.8m-.1 0h.8m-.3 0h.8m-.8 0h.8m-1.4 0h.8m-.7 0h.8m-1 0h.8m.2 0h.8m-.2 0h.8m-1.3 0h.8m-.8 0h.8m-.8 0h.8m-.8 0h.8m.1 0h.8m-1.1 .1h.8m-1.3 0h.8m-.8 .1h.8m.7 0h.8m-2 0h.8m0 .3h.8m-1.1 .1h.8m-.5 0h.8m-1.2 0h.8m-1.1 0h.8m-.7 .1h.8m-.6 0h.8m-.8 .2h.8m-1 .2h.8m-.3 0h.8m-.3 0h.8m-1 0h.8m-1.5 .3h.8m-.7 .1h.8m-.3 .5h.8m-1.1 .2h.8m-.8 .3h.8m.7-2.5h.8m-.7 .1h.8m-.6 .1h.8m-1.3 .1h.8m0 .1h.8m-.9 0h.8m-1.8 0h.8m-.3 .3h.8m-.6 .1h.8m-1.8 .5h.8m.8 .2h.8m-2 0h.8m-.5 0h.8m-.5 .4h.8m-1.5 0h.8m-.5 1h.8m.4 .1h.8m-1.7 .3h.8m-.7 .1h.8m-.2 .3h.8m-.5 .2h.8m-2.2 .1h.8m.1 .1h.8m-1.2 .2h.8m-.7 .1h.8m-1.4 .2h.8m.3 .3h.8m-1.8 .1h.8m.2 .1h.8m-1.6 .1h.8m.4-4.7h.8m-.1 .2h.8m.2 .3h.8m-1.6 .1h.8m.2 .1h.8m-1.1 .1h.8m-2.4 0h.8m.4 .2h.8m-.8 1.2h.8m-2 .4h.8m.5 0h.8m-1.8 .2h.8m-.1 .2h.8m-1 .1h.8m-1.6 .2h.8m-.4 .2h.8m.7 .5h.8m-2.4 .2h.8m-.4 .3h.8m-.7 .2h.8m-1.2 .6h.8m.1 .3h.8m-1.1 .1h.8m-.9 .1h.8m.1 0h.8m-1.2 .1h.8m-.5 .5h.8m-2.4 .1h.8m-.6 0h.8m-.6 .2h.8m.6 .2h.8m1.2-7.2h.8m-2.7 .2h.8m.3 .8h.8m-.6 .1h.8m-1.3 1.7h.8m-.7 .5h.8m-1.4 0h.8m0 .5h.8m-.7 .4h.8m-.9 1.9h.8m-.9 .7h.8m-1.7 .8h.8m-.1 .6h.8m-.4 0h.8m-.5 .1h.8m-2.1 0h.8m-.4 .1h.8m-1 .7h.8m.5 .7h.8m-.8 .2h.8m-1.1 .2h.8m.4-10.1h.8m0 .2h.8m-.8 0h.8m-1.8 .3h.8m-.2 .5h.8m-1.6 0h.8m-1 .2h.8m-.7 .2h.8m-.8 1.1h.8m-.5 .9h.8m.1 0h.8m-1.7 .5h.8m-.9 0h.8m-.5 1.7h.8m-.2 .1h.8m-2 .5h.8m-.6 .5h.8m.1 .5h.8m-1.4 .5h.8m-.3 .5h.8m-1.3 .6h.8m.5 .3h.8m-.7 .4h.8m-2.7 .5h.8m-.8 .7h.8m.6 2h.8m.4-13h.8m-.7 .6h.8m-.1 3h.8m-.7 3.7h.8m-2.3 .1h.8m.6 .2h.8m-.8 1.1h.8m-1 1.5h.8m-.4 1.8h.8m-1.1 1.9h.8m1.1-13.6h.8m-.9 1.2h.8m-1.6 .8h.8m-1 .4h.8m1 3.6h.8m-2.2 .4h.8m-1 .2h.8m-.1 .2h.8m-.3 .3h.8m-1.6 1.7h.8m.2 .1h.8m-.8 1.7h.8m-2.1 .2h.8m-.3 .6h.8m-.3 0h.8m-1.4 1.1h.8m-1 .7h.8m-.5 1.2h.8m.2 .4h.8m-2.2 0h.8m2-15h.8m-1.6 1.2h.8m-.2 1h.8m-1.3 .8h.8m-.4 .6h.8m-.4 .9h.8m-2.1 .2h.8m-.7 1.3h.8m-.4 .4h.8m-.4 1.1h.8m-.8 .1h.8m-.6 .4h.8m-.9 .9h.8m-.2 .6h.8m-1.8 0h.8m-1.5 1.6h.8m.2 0h.8m-.4 1.7h.8m-1.1 .4h.8m-.3 .3h.8m-1.3 2.1h.8m-1.1 .8h.8m.7-16.3h.8m.2 1.5h.8m-.9 .6h.8m-1.7 1.2h.8m.2 .2h.8m-.7 .4h.8m-2 .6h.8m-.1 2h.8m-.5 .6h.8m-1.8 1.9h.8m-.7 .1h.8m-.8 .1h.8m.4 2.6h.8m-.7 .3h.8m-2.2 .7h.8m-.6 .4h.8m-.1 2.1h.8m-.2 2.4h.8m.7-17.7h.8m-1.2 1.1h.8m-1.4 1.4h.8m.8 1.7h.8m-2.4 4h.8m.3 1.6h.8m-2 1.7h.8m.4 3.6h.8m-1.4 1.3h.8m-.9 1h.8m1.9-16.7h.8m-.9 .7h.8m-1.5 4.1h.8m-.6 .8h.8m.2 1.1h.8m-2.2 3.6h.8m-.6 .3h.8m.2 .3h.8m-1.3 .4h.8m1-10.8h.8m0 2.6h.8m-1 .1h.8m-1.9 .9h.8m.4 .5h.8m-1 .9h.8m-.9 4.1h.8m-.5 4.9h.8m-1.9 3.9h.8m.9-11.3h.8m-.8 1.6h.8m-.5 2.8h.8m-.1 4.7h.8m-1.4 1.2h.8m-.3 2.2h.8m.8-20.1h.8m-.5 .3h.8m-1.3 0h.8m-.7 1.5h.8m-.7 .3h.8m-1.2 3.9h.8m.1 1.3h.8m-1.1 .8h.8m-1.6 4h.8m2.3-4.1h.8m-.4 3.5h.8m-.8 10.8h.8m1.4-7.1h.8m-.2-7.8h.8m4.7 7.7h.8m1.2 1.4h.8m6.3-1.1h.8m1.4 5.7h.8m3.6-14.6h.8m-.3-2.8h.8m.1 3.6h.8m2.9 1.4h.8m-.6 1h.8" stroke="#5b97d6" stroke-width="0.8" fill="none"/>
<line x1="142.7" y1="403.5" x2="142.7" y2="502" stroke="#444" stroke-width="0.8"/>
<line x1="140.1" y1="404.2" x2="142.7" y2="404.2" stroke="#444" stroke-width="0.8"/>
<text x="139.4" y="406.7" font-size="7.1" text-anchor="end">4</text>
<line x1="140.1" y1="428.4" x2="142.7" y2="428.4" stroke="#444" stroke-width="0.8"/>
<text x="139.4" y="430.9" font-size="7.1" text-anchor="end">2</text>
<line x1="140.1" y1="452.6" x2="142.7" y2="452.6" stroke="#444" stroke-width="0.8"/>
<text x="139.4" y="455.1" font-size="7.1" text-anchor="end">0</text>
<line x1="140.1" y1="476.8" x2="142.7" y2="476.8" stroke="#444" stroke-width="0.8"/>
<text x="139.4" y="479.3" font-size="7.1" text-anchor="end">-2</text>
<line x1="140.1" y1="501" x2="142.7" y2="501" stroke="#444" stroke-width="0.8"/>
<text x="139.4" y="503.5" font-size="7.1" text-anchor="end">-4</text>
<line x1="142.7" y1="452.6" x2="243.6" y2="452.6" stroke="#222" stroke-width="0.8"/>
<line x1="243.6" y1="452.6" x2="243.6" y2="454.6" stroke="#222" stroke-width="0.8"/>
<text x="244.1" y="462.8" font-size="7.1" text-anchor="middle">10</text>
<defs><linearGradient id="jg268g" gradientUnits="userSpaceOnUse" x1="268" y1="0" x2="304.6" y2="0"><stop offset="0" stop-color="#d6d6d6"/><stop offset="0.5" stop-color="#d6d6d6"/><stop offset="1" stop-color="#d6d6d6" stop-opacity="0"/></linearGradient></defs>
<path d="M268 449.9 269.3 449.1 270.5 448.4 271.8 447.6 273.1 446.9 274.3 446.6 275.6 446.6 276.8 446.6 278.1 446.6 279.4 446.6 280.6 446.6 281.9 446.6 283.2 446.6 284.4 446.6 285.7 446.6 287 446.6 288.2 446.6 289.5 446.6 290.7 446.6 292 446.6 293.3 446.6 294.5 446.6 295.8 446.6 297.1 446.6 298.3 446.6 299.6 446.6 300.9 446.6 302.1 446.6 303.4 446.6 304.6 446.6 304.6 461.3 303.4 461.3 302.1 461.3 300.9 461.3 299.6 461.3 298.3 461.3 297.1 461.3 295.8 461.3 294.5 461.3 293.3 461.3 292 461.3 290.7 461.3 289.5 461.3 288.2 461.3 287 461.3 285.7 461.3 284.4 461.3 283.2 461.3 281.9 461.3 280.6 461.3 279.4 461.3 278.1 460.8 276.8 460.2 275.6 459.5 274.3 458.9 273.1 458.2 271.8 457.6 270.5 456.9 269.3 456.3 268 455.6Z" fill="url(#jg268g)"/>
<defs><linearGradient id="jg268r" gradientUnits="userSpaceOnUse" x1="268" y1="0" x2="334.2" y2="0"><stop offset="0" stop-color="#f19080"/><stop offset="0.55" stop-color="#f19080"/><stop offset="1" stop-color="#f19080" stop-opacity="0"/></linearGradient></defs>
<path d="M270.2 446.6 271.8 440 273.5 435.7 275.1 432.6 276.8 430.2 278.4 428.1 280 426.4 281.7 424.9 283.3 423.5 285 422.3 286.6 421.2 288.2 420.2 289.9 419.3 291.5 418.5 293.2 417.7 294.8 416.9 296.4 416.2 298.1 415.6 299.7 414.9 301.4 414.3 303 413.8 304.6 413.2 306.3 412.7 307.9 412.2 309.6 411.7 311.2 411.3 312.8 410.8 314.5 410.4 316.1 410 317.8 409.6 319.4 409.2 321 408.8 322.7 408.5 324.3 408.1 326 407.8 327.6 407.4 329.2 407.1 330.9 406.8 332.5 406.5 334.2 406.2 334.2 446.6 270.2 446.6Z" fill="url(#jg268r)"/>
<path d="M269.9 446.6h.8m-2 0h.8m.1 1h.8m-1.6 .5h.8m-.1 .2h.8m-1.3 .4h.8m-1.4 .5h.8m.6 .2h.8m-1.8 .1h.8m.3 0h.8m-1.4 .4h.8m-.6 0h.8m-1.9 .1h.8m-.6 .1h.8m-.1 .1h.8m-1.6 .2h.8m0 0h.8m-.6 .1h.8m-1.1 .1h.8m-1.6 0h.8m-.8 .2h.8m0 .2h.8m-1 0h.8m-1.4 0h.8m.4 0h.8m-1.1 .1h.8m-1.6 .1h.8m.1 .1h.8m-1.3 .2h.8m-.6 0h.8m-.7 .1h.8m-.5 0h.8m-.6 .1h.8m-1.8 .4h.8m0 .1h.8m-.5 .1h.8m-1.6 0h.8m.1 .1h.8m-2 .1h.8m-.7 .1h.8m-.4 .1h.8m-.3 .2h.8m-1.6 .1h.8m-1.1 .1h.8m-.5 0h.8m-.3 .8h.8m-.5 .1h.8m-1 0h.8m-.4 .1h.8m-1.6 .4h.8m-.3 .1h.8m-.7 0h.8m-1.2 .4h.8m-.5 0h.8m-1 .1h.8m-.8 .1h.8m-.4 0h.8m-2.1 .2h.8m.4 .1h.8m-1.1 .1h.8m-.4 .2h.8m-1.2 .1h.8m-1.8 .1h.8m.3 0h.8m-.9 .4h.8m-.5 .2h.8m-.8 .2h.8m-1.2 .6h.8m-.3 1h.8m-.8 0h.8m-1.9 .3h.8m-.7 .1h.8m.1 2h.8m0-14.2h.8m.5 0h.8m-2.1 0h.8m-1.3 0h.8m.3 0h.8m-.2 0h.8m-1.5 0h.8m-.8 .2h.8m-.3 .2h.8m-2.3 .4h.8m.6 0h.8m-1.6 .5h.8m.1 0h.8m-1 .4h.8m-1.1 .3h.8m-.6 .1h.8m-1.6 0h.8m-.4 0h.8m-.7 .2h.8m-1.3 0h.8m-.6 0h.8m-.7 .1h.8m-.7 .1h.8m-1.5 .1h.8m-.6 .2h.8m-.1 .2h.8m0 .1h.8m-1.8 .1h.8m-.6 0h.8m-1.1 0h.8m-.7 .2h.8m-1.6 .1h.8m1.1 .2h.8m-1.7 .1h.8m-1 0h.8m-1.5 .1h.8m-.7 .2h.8m-.9 0h.8m0 .2h.8m-.3 .1h.8m-1.1 .1h.8m-.3 .1h.8m-1.8 .1h.8m-1.4 .5h.8m-.7 0h.8m-.5 0h.8m-.9 .2h.8m.7 .1h.8m-2.6 .3h.8m-.2 0h.8m.5 0h.8m-2.5 0h.8m-.1 .1h.8m-.5 0h.8m-1.6 0h.8m.7 .1h.8m-2.7 .1h.8m1 .1h.8m-.7 .1h.8m-1.2 0h.8m-1.4 0h.8m-.3 .1h.8m-.4 .1h.8m-2.3 .2h.8m-.9 0h.8m-.9 0h.8m-.3 0h.8m-.3 .2h.8m-.5 0h.8m-.9 .1h.8m-2 0h.8m.5 0h.8m-1.6 .1h.8m-.8 0h.8m-.1 .2h.8m-.9 .1h.8m-.7 .1h.8m-1.2 0h.8m-.6 .1h.8m-1.2 .2h.8m0 0h.8m-1.9 .1h.8m0 0h.8m-1.3 .3h.8m-1.4 0h.8m-.2 0h.8m-1 0h.8m.6 .1h.8m-2.2 .2h.8m-1.1 0h.8m.7 .1h.8m-2.4 .1h.8m-.2 .1h.8m-1.1 0h.8m0 .2h.8m-.8 0h.8m-1.2 0h.8m-.4 .2h.8m-1.7 .2h.8m-.5 .1h.8m-1.1 .3h.8m.6 0h.8m-2.5 .1h.8m.3 0h.8m-1.8 0h.8m-.2 0h.8m.4 0h.8m-1 .3h.8m-2.1 .4h.8m-.3 .1h.8m-1.6 .2h.8m1 .1h.8m-2.2 .1h.8m-1.3 .2h.8m-.1 .2h.8m-.2 .4h.8m-.7 0h.8m-2.2 .5h.8m.5 0h.8m-1.9 0h.8m.6 .7h.8m-1.5 .1h.8m-.6 .7h.8m-.9 1.3h.8m-.7 .9h.8m-.9 .1h.8m-.2 .1h.8m.5-16.3h.8m-.4 0h.8m-1.6 0h.8m-1.2 0h.8m-.5 0h.8m.3 0h.8m-1.6 0h.8m-.3 0h.8m-.6 0h.8m-.4 0h.8m-1.1 0h.8m-.6 0h.8m-1.2 0h.8m-1 0h.8m-.8 0h.8m-.3 0h.8m-2.4 0h.8m.7 .3h.8m-1.3 .5h.8m-.7 .2h.8m-.7 0h.8m-1.1 .1h.8m-.7 0h.8m-.3 .5h.8m-1.7 .4h.8m.5 0h.8m-.9 0h.8m-2.2 .3h.8m0 0h.8m-1.3 .4h.8m-1.3 .1h.8m-1 0h.8m.8 .4h.8m-1.8 .2h.8m-1 0h.8m.2 .1h.8m-2.2 0h.8m-.7 .2h.8m-.6 .1h.8m-.8 .1h.8m.1 0h.8m-.5 .1h.8m-1.3 0h.8m.1 0h.8m-2.1 .3h.8m-1 0h.8m-.4 .4h.8m-1.1 .2h.8m-.2 0h.8m-.9 .2h.8m-.5 .1h.8m-1.8 0h.8m-.9 0h.8m.3 .1h.8m-1.6 .2h.8m.4 0h.8m-1.1 .1h.8m-1 .1h.8m-.3 .3h.8m-2 .2h.8m-.8 .2h.8m.5 0h.8m-.8 .2h.8m-2.3 0h.8m-.2 .2h.8m-1.3 .4h.8m.4 .1h.8m-1.7 0h.8m-.4 .1h.8m-.7 0h.8m-.5 .1h.8m-.7 .1h.8m-.8 .1h.8m-2.3 0h.8m-.7 0h.8m.1 .2h.8m-1.5 0h.8m-.8 .3h.8m.1 .1h.8m-.8 .1h.8m-1.8 0h.8m-.2 .2h.8m0 0h.8m-1.2 .1h.8m-.4 .4h.8m-2 0h.8m.3 0h.8m-2 .2h.8m-.8 .1h.8m.4 .3h.8m-1.1 .1h.8m-1.9 .2h.8m.3 .2h.8m-1.6 .4h.8m-1.1 0h.8m.1 .1h.8m-1.3 .4h.8m.3 .8h.8m-1.5 0h.8m-1.4 .1h.8m-.1 .2h.8m-1 .1h.8m-1.3 .2h.8m-1.2 .1h.8m-.2 0h.8m-1.4 .1h.8m1 .4h.8m-2.4 .1h.8m.6 .1h.8m-.9 .1h.8m-1.2 .2h.8m-1.2 .1h.8m-.9 .3h.8m.2 0h.8m-1.2 0h.8m-1.7 1h.8m-1 .3h.8m-.8 .1h.8m2-15.4h.8m-.1 0h.8m-1.9 0h.8m-1 0h.8m.1 0h.8m-.6 0h.8m-1.3 0h.8m-1.1 0h.8m.3 0h.8m-1.9 0h.8m-1.4 0h.8m1 0h.8m-.8 0h.8m-2.4 0h.8m-.7 0h.8m-1 0h.8m-.7 0h.8m-.7 0h.8m.1 .1h.8m-.4 .1h.8m-1.4 .4h.8m0 .1h.8m-2.5 0h.8m-.5 .2h.8m-.8 0h.8m-.2 .1h.8m-1.7 .2h.8m.6 0h.8m-1.8 0h.8m.2 .2h.8m-.9 0h.8m-1.6 .5h.8m-.1 .1h.8m-.8 .2h.8m-1.2 .1h.8m-1.7 0h.8m.1 0h.8m-.6 .2h.8m-.3 .2h.8m-1.5 0h.8m-1.1 0h.8m-.2 .1h.8m-1 .1h.8m-.4 .1h.8m-2.1 .1h.8m1 .2h.8m-1.2 0h.8m-.9 .1h.8m-1 .1h.8m-1.7 .5h.8m-1.1 .1h.8m.5 .1h.8m-.6 0h.8m-.4 .2h.8m-2.1 .1h.8m-.3 0h.8m-.3 .1h.8m-1 .1h.8m-1 0h.8m-.6 0h.8m-1.5 .1h.8m-.4 .2h.8m-.6 0h.8m-.5 .1h.8m-1.6 0h.8m-1.3 0h.8m-.1 0h.8m-.3 .2h.8m-1.6 .1h.8m.4 0h.8m-1.4 .2h.8m-.6 .3h.8m-.6 .2h.8m-.8 .2h.8m-1.6 .4h.8m-1.6 .2h.8m.4 .4h.8m-1.2 .1h.8m-.8 .1h.8m-1.6 .1h.8m.7 .1h.8m-.8 .1h.8m-2.4 0h.8m.6 .1h.8m-2 .1h.8m-.8 .2h.8m.9 0h.8m-1.7 .1h.8m-1.2 .1h.8m-1.4 0h.8m-.3 .1h.8m-1.2 0h.8m-.3 .1h.8m.2 0h.8m-2.4 .1h.8m-.8 0h.8m-.2 .2h.8m.4 .4h.8m-1.1 0h.8m-2 .2h.8m0 0h.8m-1.3 .1h.8m-.2 .3h.8m-1 .1h.8m.1 .1h.8m-2.1 0h.8m-1.2 .7h.8m.6 .1h.8m-.7 .3h.8m-2.2 .1h.8m-.6 .2h.8m-1.2 0h.8m-.9 .2h.8m.6 .1h.8m-.8 .5h.8m-.6 0h.8m-2.3 .3h.8m-.8 .1h.8m-.2 .1h.8m-.5 .2h.8m-.9 .3h.8m-.2 .2h.8m-1.1 .3h.8m-.5 0h.8m-.8 .2h.8m-2.2 .6h.8m.5 .7h.8m-.9 0h.8m-1.1 .2h.8m-.8 .4h.8m0 .8h.8m-.9 .7h.8m-2.2 .7h.8m-1.1 .7h.8m2.7-18.8h.8m-1.6 0h.8m.2 0h.8m-2.1 0h.8m.3 0h.8m-.7 0h.8m-2 0h.8m.1 0h.8m-1.5 0h.8m-1.3 0h.8m-.9 0h.8m.1 0h.8m-.1 0h.8m-.6 0h.8m-1 0h.8m-.8 .1h.8m-1.8 .1h.8m-1.2 .4h.8m.7 .2h.8m-1.9 .7h.8m-.3 0h.8m0 .1h.8m-2.1 .1h.8m.5 .1h.8m-2.5 0h.8m-.3 .2h.8m.4 .1h.8m-2.7 .1h.8m-.4 0h.8m-.5 0h.8m-1.5 .3h.8m-.8 0h.8m0 .3h.8m-1.3 .1h.8m-.4 0h.8m-1.2 .1h.8m-1 .4h.8m.9 .1h.8m-1.8 .1h.8m-1.5 .3h.8m-.2 0h.8m-1.1 .2h.8m-.8 0h.8m-.2 .3h.8m-1.1 0h.8m-.2 .2h.8m-1.1 .1h.8m-.9 .2h.8m-1.6 .1h.8m.2 .1h.8m-1.8 .1h.8m.7 0h.8m-2 .1h.8m-.8 .1h.8m-.6 .1h.8m-.6 .3h.8m-.6 .3h.8m-.4 .1h.8m-1.3 0h.8m-1.1 .3h.8m-.9 .2h.8m.4 .1h.8m-2.1 .3h.8m-1 .1h.8m-.9 0h.8m-.8 .4h.8m.8 .2h.8m-.8 .1h.8m-2.3 0h.8m.2 .1h.8m-1.5 0h.8m-.5 .3h.8m-1.5 .3h.8m.6 0h.8m-1.6 .1h.8m-.2 .1h.8m-1.9 0h.8m-.2 .2h.8m-.3 .3h.8m-1.9 0h.8m.5 .3h.8m-1 .3h.8m-1.5 .4h.8m-.9 .1h.8m0 0h.8m-1.1 .2h.8m-1.3 .1h.8m-1.3 .1h.8m.4 .5h.8m-1.7 .1h.8m-.8 .1h.8m-.5 0h.8m-.5 .1h.8m-.1 .2h.8m-1.4 .3h.8m-1.5 .6h.8m-.7 .8h.8m0 .6h.8m-.5 1h.8m-1.2 .3h.8m-.2 1.3h.8m-2.4 .9h.8m.8 2.3h.8m.9-19.9h.8m-.5 0h.8m-2 0h.8m.2 0h.8m-1.2 0h.8m-1.6 0h.8m.5 0h.8m-1.3 0h.8m-.9 0h.8m-1.3 0h.8m0 0h.8m-1.4 0h.8m-.9 .1h.8m.2 .2h.8m-1.3 0h.8m-1.7 .1h.8m-.2 .2h.8m-1.5 .7h.8m-.5 0h.8m.5 .1h.8m-2.3 0h.8m.3 .4h.8m-1.7 .4h.8m-.4 .1h.8m-.6 .4h.8m-1.7 0h.8m-.5 .1h.8m-.2 .2h.8m-.5 .4h.8m-1.5 .2h.8m.1 .2h.8m-.5 0h.8m-1.7 0h.8m-.7 .1h.8m-.5 .1h.8m-.6 0h.8m-.7 0h.8m-.9 .3h.8m-.5 .2h.8m-2.5 0h.8m-.3 .3h.8m-.2 .1h.8m-.3 .2h.8m-1.4 .1h.8m-1.1 .1h.8m-.5 0h.8m-.1 .1h.8m-1.6 0h.8m-1.6 .1h.8m-.7 .1h.8m-.7 .3h.8m-.7 .1h.8m.4 0h.8m-1.8 .6h.8m-.2 .1h.8m-1.6 .1h.8m.3 0h.8m-1 .1h.8m-1.2 .7h.8m-1.5 0h.8m-1 0h.8m-.8 .1h.8m-.9 .2h.8m-.3 .1h.8m-.1 .5h.8m-.7 0h.8m-2 .1h.8m-.2 .1h.8m-.2 .2h.8m-1.8 .2h.8m.3 .4h.8m-1.1 .4h.8m-1.7 .3h.8m.1 0h.8m-.7 .3h.8m-.9 .1h.8m-.8 .4h.8m-1.5 0h.8m.2 0h.8m-2 .2h.8m.5 .2h.8m-2.1 .2h.8m.1 .2h.8m-1.2 .3h.8m-.5 .9h.8m0 0h.8m-2.3 .7h.8m.2 1h.8m-1.5 .6h.8m.3 .2h.8m-1.6 .5h.8m-1.4 .7h.8m.5 .1h.8m-.6 1.7h.8m-2.1 1.4h.8m1-19.9h.8m-1.1 0h.8m1.1 0h.8m-2.7 0h.8m-.4 0h.8m0 0h.8m-.1 0h.8m-1.7 0h.8m-.7 0h.8m0 0h.8m-2.4 0h.8m-1.1 0h.8m.4 0h.8m-2 0h.8m0 0h.8m-1 0h.8m0 0h.8m-1.4 0h.8m-.5 .8h.8m-.4 .4h.8m-.6 0h.8m-2 .6h.8m.1 .1h.8m-1.6 .1h.8m.5 .3h.8m-1.3 0h.8m-1.5 .1h.8m-.4 .1h.8m-1.2 .2h.8m-.9 .1h.8m-.5 .3h.8m-.8 0h.8m-1.1 .3h.8m-1.4 .2h.8m1.1 .3h.8m-1.9 .3h.8m-.5 0h.8m0 .2h.8m-1 0h.8m-1.4 .1h.8m-.5 .2h.8m-1.1 .2h.8m-1.5 0h.8m-.9 0h.8m.1 .2h.8m-.8 .1h.8m-.7 0h.8m-1.7 .3h.8m.4 0h.8m-1.5 .2h.8m-.1 0h.8m-1.5 .1h.8m-1.2 .1h.8m-.1 .4h.8m-.3 .1h.8m-2.1 .1h.8m-.4 .1h.8m-1.3 .3h.8m-.6 .2h.8m-1.2 0h.8m-.2 .3h.8m-.2 0h.8m-2.1 .1h.8m-.5 .4h.8m-.9 .1h.8m-.1 0h.8m-.2 .1h.8m-1.4 .3h.8m.1 .2h.8m-1.6 .1h.8m-1.7 .5h.8m.7 .2h.8m-1.5 .1h.8m-1.5 .1h.8m-.6 0h.8m-.4 .1h.8m-1.2 .1h.8m-1 0h.8m.4 0h.8m-1.9 0h.8m0 .1h.8m-1.5 .2h.8m0 .3h.8m-1.4 .1h.8m-.2 .3h.8m-1.4 .6h.8m-1.3 .1h.8m-.8 .2h.8m-.3 0h.8m-.4 .1h.8m-1.3 .1h.8m.6 .3h.8m-1.5 0h.8m-1.3 .2h.8m-1.2 .4h.8m-.7 .1h.8m.1 .2h.8m-.3 .1h.8m-2 .6h.8m-.5 .6h.8m-.9 .1h.8m-1.2 .3h.8m-.9 1.2h.8m-.9 .3h.8m.5 0h.8m-.6 .2h.8m-1.7 1.1h.8m-.1 .2h.8m-.7 .1h.8m-.7 .5h.8m-2.5 1.5h.8m1.5-19.9h.8m.6 0h.8m-2.1 0h.8m0 0h.8m-.4 0h.8m-.9 0h.8m-2.2 0h.8m-.6 0h.8m-.4 0h.8m-.4 0h.8m-1.1 0h.8m-1.3 0h.8m-.3 0h.8m-.5 0h.8m-.2 0h.8m-.6 0h.8m-2 .6h.8m-.4 .4h.8m-1.3 .2h.8m-.7 .3h.8m.4 .2h.8m-1.8 .2h.8m0 0h.8m-1.5 .1h.8m-1.1 0h.8m-.6 0h.8m-.2 .3h.8m-1 .2h.8m-1.8 0h.8m-1.1 .4h.8m-.6 .3h.8m-.4 0h.8m-.5 .1h.8m-.9 .1h.8m-1.2 0h.8m.5 .1h.8m-2.3 .1h.8m-.4 .1h.8m.1 .1h.8m-1.8 .1h.8m.1 0h.8m-2.2 .1h.8m-.8 .1h.8m-.6 .1h.8m-1 .2h.8m.9 .3h.8m-1.8 0h.8m-1.1 .1h.8m-.4 .3h.8m-.8 0h.8m-1 .6h.8m-1.2 .1h.8m0 .2h.8m-.4 .4h.8m-1.8 .6h.8m.6 .1h.8m-2.3 0h.8m.5 .3h.8m-1.8 .2h.8m-.2 0h.8m-.4 .3h.8m-2.3 .5h.8m.7 .2h.8m-2.1 0h.8m-.9 .1h.8m-.3 .1h.8m-1.2 .3h.8m-.3 .2h.8m-1 0h.8m-1.4 .1h.8m.1 .4h.8m-.9 0h.8m.3 .2h.8m-.9 0h.8m-2.5 .1h.8m-.3 .4h.8m.4 .1h.8m-2.1 .2h.8m-1.1 .2h.8m.7 .1h.8m-2.2 .2h.8m-1.1 0h.8m.4 .5h.8m-.2 .2h.8m-2.3 .5h.8m.5 .1h.8m-1.8 .6h.8m-.8 1h.8m-.1 1.3h.8m-1.3 0h.8m-.8 1.6h.8m-.5 .9h.8m1-18h.8m-1.3 0h.8m-.6 0h.8m-.4 0h.8m-.9 0h.8m-1.5 0h.8m-.6 0h.8m-.9 .1h.8m.1 .3h.8m-.8 .1h.8m-1.4 .1h.8m.3 .6h.8m-1.8 .7h.8m-.4 .1h.8m-.1 .4h.8m-2.4 .1h.8m-.6 .3h.8m-.7 .1h.8m-.6 0h.8m.3 .4h.8m-.7 .1h.8m-1.8 .2h.8m-.9 .7h.8m-1 .1h.8m-.4 .3h.8m-1.3 .3h.8m-.5 .1h.8m-1.1 0h.8m-.4 .2h.8m-.8 0h.8m-1.6 .1h.8m.5 .7h.8m-1.4 .1h.8m.3 .4h.8m-2.2 .3h.8m.3 .1h.8m-1.1 .6h.8m-1 0h.8m-1.3 .1h.8m-.3 .3h.8m-1.9 .2h.8m.1 0h.8m-.9 .2h.8m-.1 .1h.8m-.8 .1h.8m-.9 .4h.8m-1.3 .2h.8m-1.5 0h.8m-1 0h.8m.6 .3h.8m-2.1 .2h.8m-.5 0h.8m-1.2 .5h.8m-.4 .2h.8m-1 .1h.8m.9 .5h.8m-2.5 .2h.8m-.7 1.6h.8m.3 .6h.8m-.8 .7h.8m-1.9 .6h.8m-1 1.5h.8m-.2 .1h.8m.2 .3h.8m-1.5 .8h.8m-1.3 .4h.8m-1.2 .8h.8m3-18.6h.8m-2 0h.8m-.4 0h.8m-.6 0h.8m-1.3 0h.8m-.8 0h.8m-1 0h.8m0 .3h.8m-1.6 .1h.8m.5 0h.8m-1.8 .5h.8m.1 0h.8m-1.9 .5h.8m-.9 .1h.8m.4 .1h.8m-1.3 0h.8m-1.3 .5h.8m-1.6 .3h.8m.1 0h.8m-.7 .1h.8m-.8 .2h.8m-1.5 .3h.8m.4 .1h.8m-1.8 .1h.8m-.3 .6h.8m-.1 .1h.8m-2.2 .1h.8m-.6 .1h.8m-.6 .1h.8m.4 .1h.8m-.8 .4h.8m-2.3 .1h.8m-.7 .1h.8m-.4 0h.8m-1.1 0h.8m.1 0h.8m-1.3 .3h.8m-.8 .3h.8m-1.3 .4h.8m-.5 .3h.8m-.2 .2h.8m-2.2 .5h.8m.4 .1h.8m-.3 .2h.8m-1.2 0h.8m-1.4 0h.8m.3 .1h.8m-1.7 .4h.8m-1.5 0h.8m-.3 .1h.8m0 0h.8m-1.3 .1h.8m-1.8 0h.8m1.1 .2h.8m-1.5 0h.8m-1.9 .2h.8m.5 .3h.8m-2.1 .4h.8m-.7 .1h.8m-.4 .6h.8m.3 .2h.8m-1.6 0h.8m-.5 0h.8m-.8 .3h.8m-1.3 .2h.8m.2 .1h.8m-2.2 .3h.8m-.8 .1h.8m.5 .6h.8m-2.1 1.6h.8m-.7 1.9h.8m.2 .2h.8m-1.6 4.7h.8m.8-19.9h.8m.4 0h.8m-1.3 0h.8m-1 0h.8m-.2 0h.8m-.8 0h.8m-.2 0h.8m-2.7 0h.8m1.1 .3h.8m-2.3 .4h.8m.6 .2h.8m-1.2 .6h.8m-1.8 .5h.8m-1 .3h.8m-.9 .8h.8m-.4 .2h.8m0 .1h.8m-.4 0h.8m-1.8 .2h.8m-1.3 .3h.8m-.6 .2h.8m-.6 .1h.8m-1.2 .2h.8m.9 .1h.8m-1 .1h.8m-1.8 .6h.8m-.2 .8h.8m-1.4 .5h.8m.2 .3h.8m-1.3 .3h.8m-1.4 .1h.8m-.7 .6h.8m-.8 0h.8m-.2 .1h.8m-2.1 .1h.8m-.7 .1h.8m-.2 .2h.8m-1.2 .2h.8m-.2 .3h.8m-.4 .3h.8m-1.4 .7h.8m-.1 .4h.8m-.7 .3h.8m-1.5 1.2h.8m-.6 .4h.8m-1 .7h.8m0 .7h.8m-2.1 .5h.8m-.3 1.5h.8m-.9 1.4h.8m1.4-16.9h.8m-1.4 0h.8m-.9 0h.8m-.4 0h.8m-.6 0h.8m-1.4 0h.8m.3 0h.8m-1.2 0h.8m-1.5 0h.8m.7 .2h.8m-1.5 .6h.8m-.7 .3h.8m-1.5 0h.8m-1.2 .1h.8m.4 .1h.8m-1.5 .1h.8m-.2 .2h.8m-.4 .6h.8m-2.2 .1h.8m-.6 0h.8m-.2 .6h.8m-.2 .1h.8m-1.8 .3h.8m.2 .4h.8m-1.4 .1h.8m-1.5 .2h.8m-.8 0h.8m-.6 .1h.8m-1.2 .3h.8m.1 0h.8m-.5 .3h.8m-.4 0h.8m-1.7 .2h.8m-1.3 .5h.8m.3 .2h.8m-1.8 .8h.8m0 0h.8m-1 .6h.8m0 .3h.8m-1.7 .2h.8m.2 .1h.8m-2.2 1.3h.8m-.5 0h.8m-.4 .1h.8m-1.8 .9h.8m-.8 .4h.8m-.6 .4h.8m.4 1.2h.8m-2.1 .4h.8m0 .6h.8m-.6 1.8h.8m-.3 3.3h.8m.4-18h.8m-.2 0h.8m-1.8 0h.8m-.5 0h.8m-.9 0h.8m.4 0h.8m-2.7 0h.8m.3 0h.8m-.3 .2h.8m-2.4 .2h.8m0 .2h.8m-.3 .3h.8m-1.8 .7h.8m-.4 .3h.8m-1.1 .1h.8m-.7 0h.8m.4 .1h.8m-1.9 0h.8m-.7 .3h.8m.1 .2h.8m-.6 .3h.8m-1.4 .3h.8m-1.2 .4h.8m-.7 .5h.8m-1.7 .9h.8m.3 0h.8m-.7 .1h.8m-1.8 .2h.8m-.3 0h.8m-.6 .2h.8m-1.3 .5h.8m.5 .1h.8m-1.6 .1h.8m-.4 .1h.8m-.4 .3h.8m-1.3 .1h.8m-1.3 .7h.8m-1.5 .4h.8m-.8 .1h.8m.6 .3h.8m-.3 0h.8m-1.6 .2h.8m-.2 1.4h.8m-1.5 .8h.8m0 .3h.8m-2.5 0h.8m-.1 .3h.8m-1.1 0h.8m-1 .3h.8m-.4 .4h.8m-.2 .1h.8m-1.4 .8h.8m-1.2 .2h.8m.1 0h.8m-1.4 .1h.8m-1.3 .9h.8m.8 1.5h.8m-1.8 1.4h.8m-1.5 .6h.8m2.6-17.5h.8m-.6 0h.8m-1.1 0h.8m-1.6 0h.8m.6 0h.8m-1.4 0h.8m-1.8 0h.8m0 .1h.8m-1 .4h.8m-.6 .7h.8m-1.5 .8h.8m-.3 .1h.8m-1 .1h.8m-.5 .1h.8m0 .2h.8m-1.3 .2h.8m-.9 .2h.8m-2 0h.8m.9 .3h.8m-1.9 0h.8m0 .1h.8m-.6 .2h.8m-1.5 .2h.8m-1.1 .2h.8m0 .1h.8m-1.5 .6h.8m.3 .4h.8m-1.4 .1h.8m-.1 .7h.8m-2 .3h.8m.2 .5h.8m-1 .1h.8m-1.3 .3h.8m-1 .1h.8m-.5 .1h.8m-.8 .2h.8m-1 1.1h.8m-1.7 .1h.8m.3 1.3h.8m-.3 .2h.8m-2.4 .5h.8m.3 .3h.8m-1.5 .3h.8m-.5 .5h.8m.1 .7h.8m-.8 .6h.8m-2.4 1.4h.8m1.2-14.4h.8m-.6 0h.8m-.8 0h.8m.5 0h.8m-1.7 0h.8m.5 0h.8m-1.5 0h.8m-1.2 0h.8m-.4 .2h.8m-1 .6h.8m-1.5 1.7h.8m-1 .9h.8m.9 .3h.8m-1.9 .1h.8m-1 .7h.8m.2 .9h.8m-.9 .5h.8m-1.4 .1h.8m-.5 .2h.8m-.7 .4h.8m-2 .2h.8m.4 .5h.8m-.2 .1h.8m-2.1 0h.8m-.3 .8h.8m-1.2 1.5h.8m0 .2h.8m-1.5 0h.8m-.8 .3h.8m.1 .9h.8m-.8 .1h.8m-1.6 0h.8m-1.6 .3h.8m.8 .3h.8m-.6 .1h.8m-1.9 .6h.8m-.3 0h.8m-1.8 .5h.8m-.1 .4h.8m-.2 .1h.8m1.6-13.5h.8m-1.3 0h.8m-1.2 0h.8m-1.2 0h.8m-.6 0h.8m-1 .1h.8m0 .5h.8m-1.7 .3h.8m-.3 0h.8m-.3 .1h.8m-2.3 .6h.8m1.1 .6h.8m-2.5 .2h.8m.8 .3h.8m-1.7 .8h.8m-1 .1h.8m-1 .1h.8m-.2 .4h.8m-.8 .8h.8m-.5 .4h.8m-2 .2h.8m.4 1.2h.8m-1.2 .1h.8m-1 1.4h.8m-.5 .9h.8m-.3 .5h.8m-.7 .7h.8m-1.2 .8h.8m-1.5 .4h.8m-.6 0h.8m-.1 .8h.8m-1.6 .1h.8m.3 .4h.8m-1.2 .2h.8m-2.2 1.6h.8m.4 .5h.8m-.7 .6h.8m-1.7 0h.8m-1.1 4.2h.8m2.6-19.9h.8m-2.2 0h.8m-.7 0h.8m-1 .4h.8m-.6 1h.8m.8 .3h.8m-2.6 1.7h.8m.5 .1h.8m-.7 1.3h.8m-1.7 .2h.8m-1.2 .4h.8m-.8 .7h.8m0 .4h.8m-1.1 1.1h.8m-1.2 .3h.8m.4 1.1h.8m-.5 1.1h.8m-2.1 1.4h.8m-.5 .3h.8m.4 2.9h.8m-2.5 2h.8m-.8 1.1h.8m1.4-17.8h.8m-1.1 0h.8m-.9 0h.8m.7 2h.8m-1.8 1.8h.8m-.4 .3h.8m.2 .1h.8m-1.5 .1h.8m-.7 .3h.8m-1.1 .2h.8m-1.5 1.8h.8m-.3 .1h.8m-1 .1h.8m-1 1.3h.8m-.1 0h.8m-1.9 1.4h.8m1.1 .6h.8m-2.2 1.9h.8m.2 .5h.8m-2.2 .6h.8m.1 .7h.8m-1.1 .1h.8m-.6 3.2h.8m-.1 .5h.8m-.4-17.6h.8m-.1 0h.8m-.5 0h.8m-.6 0h.8m-.2 0h.8m-2.2 1.3h.8m-.9 .5h.8m.8 .5h.8m-2.2 .4h.8m-.7 1.4h.8m-.6 .1h.8m-1.4 0h.8m-.1 0h.8m-1 .3h.8m-.8 1h.8m.2 1.5h.8m-1 0h.8m-1.2 0h.8m-1.4 .2h.8m-1 .9h.8m-.9 .4h.8m.1 .1h.8m-.1 .9h.8m-2.3 1.2h.8m0 .8h.8m-1.8 1.9h.8m-.4 1.3h.8m1.2-14.7h.8m.6 0h.8m-1.8 0h.8m-1.7 .7h.8m.1 .4h.8m-.2 1.3h.8m-1.6 .4h.8m-.7 .4h.8m0 .9h.8m-.7 .5h.8m-1.9 .2h.8m-.6 2h.8m0 1.3h.8m-1 3.4h.8m-1.4 3.9h.8m-.7 3.4h.8m1.4-18.8h.8m-.5 0h.8m-.8 0h.8m-.6 0h.8m-1.9 0h.8m-1.1 1h.8m-.9 .7h.8m0 .8h.8m.2 2.4h.8m-2.3 .2h.8m-1.2 1.4h.8m.1 .5h.8m-1 .2h.8m.2 .2h.8m-2.4 1.2h.8m.1 1h.8m-1.3 1.1h.8m-.2 1.8h.8m-1 .9h.8m-.5 .2h.8m-1.6 .4h.8m1.4-14h.8m-.7 1.3h.8m-1.4 .8h.8m-.1 .4h.8m-.2 .9h.8m-1 .7h.8m-1.5 1.9h.8m-.9 .2h.8m.1 .5h.8m-.8 1.5h.8m-1.5 1h.8m.1 .3h.8m-2 .6h.8m-.9 2.3h.8m.3 2.5h.8m-.6 3.5h.8m.7-18.4h.8m.1 0h.8m-2.2 4.5h.8m-1.2 .7h.8m-.5 .1h.8m-.9 .3h.8m0 .7h.8m-.8 .6h.8m-1.9 .3h.8m-.4 .2h.8m.3 2h.8m-1.1 5.2h.8m1.3-11.2h.8m-1.3 .9h.8m-.2 .8h.8m-1.6 3.5h.8m-.7 1.6h.8m-1.4 .7h.8m-.4 .2h.8m.5 .7h.8m-2.5 5.6h.8m1.6-17.4h.8m-1.1 0h.8m.2 0h.8m-.8 .1h.8m-.2 .2h.8m-.9 2.5h.8m-1.6 .3h.8m-1.5 3.1h.8m.4 2.8h.8m-2.2 .5h.8m1.1 2.5h.8m-1.7 1.9h.8m1.6-13.9h.8m-.5 0h.8m-1.7 0h.8m-1.1 1h.8m-.9 2.2h.8m.5 .7h.8m-2.5 2.8h.8m1 .1h.8m-1.7 3.4h.8m-1.5 6.2h.8m2.4-16.4h.8m-1.6 .2h.8m.1 4h.8m-1 2.5h.8m-1.6 1.8h.8m-.1 1.1h.8m-2 .8h.8m1.1 .4h.8m-2.2 8.9h.8m2.4-19.7h.8m-2 11.1h.8m-.8 1.1h.8m-.2 2.2h.8m-1 2.8h.8m2.2-17.2h.8m-2.6 0h.8m1 0h.8m-1.2 1.8h.8m-1.1 6.4h.8m-.3 .1h.8m-2.4 .8h.8m-.3 6h.8m1-15.1h.8m-1.1 .2h.8m-.5 5.7h.8m-.6 5.5h.8m2.1-3.9h.8m-.2-7.5h.8m-.9 .2h.8m1.5 1.9h.8m1.4 4.7h.8m-.3 1.2h.8m1.8-4.1h.8m-1.3 1h.8m-1 .4h.8m.9-4.8h.8m-.1 1.4h.8m-1 9.4h.8m.7-8.6h.8m-.8 5.6h.8m-.1 .1h.8m-1.4 5h.8m6.4-10.1h.8m-1.8 3h.8m4.2 3.7h.8m.8 6.1h.8m.3-16.1h.8m7.9 0h.8m-.6 0h.8" stroke="#b5b5b5" stroke-width="0.8" fill="none"/>
<path d="M271.5 441.1h.8m-.5 .4h.8m-1 .1h.8m-.7 .4h.8m-1 .1h.8m-.9 0h.8m-.6 .4h.8m-.6 0h.8m-1.1 .5h.8m-.7 .5h.8m-.9 0h.8m-.6 .2h.8m-1.2 .1h.8m-.7 .3h.8m-.7 .2h.8m-1.1 0h.8m-1 0h.8m-.1 .3h.8m-1.7 .4h.8m.2 .1h.8m-1 .2h.8m-.9 .6h.8m-.6 .1h.8m-1.9 .4h.8m.3 0h.8m.9-10.5h.8m-.3 .3h.8m-1.7 .6h.8m-.8 .3h.8m.1 .2h.8m-1.6 .1h.8m-.8 .3h.8m-.5 .1h.8m-1.3 0h.8m-.1 .1h.8m-1.8 .7h.8m.2 .2h.8m-.6 0h.8m-2.3 .1h.8m-.7 .1h.8m-1.1 .3h.8m.7 0h.8m-.9 0h.8m-2.1 .3h.8m.9 .1h.8m-2 .1h.8m-1.5 .1h.8m.7 0h.8m-2 .5h.8m.2 0h.8m-.7 .3h.8m-.4 .1h.8m-2.4 0h.8m-.4 .1h.8m-1.3 0h.8m-.8 .1h.8m0 0h.8m-1.5 0h.8m.5 .2h.8m-.5 .1h.8m-2 0h.8m0 0h.8m-2.1 .1h.8m-.9 0h.8m-.5 0h.8m.8 0h.8m-.9 .1h.8m-1.2 .1h.8m-.4 .1h.8m-1.4 .1h.8m-1.6 .1h.8m.7 .2h.8m-.8 0h.8m-2.5 .2h.8m.5 .3h.8m-1.7 .1h.8m-1.3 0h.8m1 0h.8m-.9 .1h.8m-2.4 0h.8m.9 0h.8m-1.2 0h.8m-2.2 .3h.8m-.8 .1h.8m.8 0h.8m-1.5 0h.8m-1.8 .1h.8m-.6 .3h.8m-.4 .1h.8m0 .1h.8m-1.5 .2h.8m-1.3 .1h.8m.6 0h.8m-.9 .1h.8m-1.7 .1h.8m-.3 0h.8m-.5 .1h.8m-2.2 .3h.8m.1 0h.8m-.1 .1h.8m-2.4 0h.8m-.1 0h.8m-1.4 .1h.8m-.5 .1h.8m.1 .1h.8m-1.1 .4h.8m-1.6 .1h.8m.9 0h.8m-.9 0h.8m-1.3 .3h.8m-1.7 0h.8m-.3 .5h.8m-1.3 0h.8m.7 0h.8m1-14.7h.8m-.6 .6h.8m-1.2 .1h.8m-.7 .1h.8m-1.1 .1h.8m-1.1 .4h.8m-.1 0h.8m-1.4 .1h.8m-.5 0h.8m-.4 .2h.8m-.7 .1h.8m-1.5 0h.8m-.8 .1h.8m-1.1 0h.8m-1 .1h.8m-.1 0h.8m-1.2 .2h.8m-1.3 .2h.8m-.9 0h.8m.4 .3h.8m-.5 .2h.8m-2.1 0h.8m-.9 .2h.8m-.7 0h.8m.2 .2h.8m-1.8 0h.8m0 0h.8m-.8 .3h.8m-.5 0h.8m-1.1 .4h.8m-.3 .3h.8m-1.6 .3h.8m-.2 .1h.8m-1.2 0h.8m-1.3 .2h.8m-.6 .1h.8m-1.8 .1h.8m-.4 0h.8m-1.2 .2h.8m-.6 .1h.8m.7 .2h.8m-2.1 .1h.8m.7 .1h.8m-1.5 .1h.8m-1.9 .3h.8m.5 0h.8m-.5 .3h.8m-1.9 .1h.8m-.1 .3h.8m-1.4 .1h.8m-.6 .1h.8m-.6 .1h.8m-.9 0h.8m-1.5 .1h.8m.3 0h.8m-.8 .1h.8m-1.7 .1h.8m-1.2 .4h.8m-.3 .1h.8m-.4 .2h.8m-1.4 0h.8m-.9 0h.8m.3 .2h.8m-1.5 .3h.8m-.9 0h.8m-.5 .1h.8m-1.1 .2h.8m-1.2 .1h.8m-.6 0h.8m-.7 .1h.8m.4 0h.8m-.6 .2h.8m-2.4 .2h.8m-.5 0h.8m-.1 .2h.8m-.7 .2h.8m-1.3 .2h.8m0 .4h.8m-2.1 .3h.8m-.6 .1h.8m0 .1h.8m-2.1 .2h.8m-.6 0h.8m.3 .1h.8m-1.7 .2h.8m.2 .2h.8m-.5 .1h.8m-1.6 0h.8m-1.2 .1h.8m-.3 0h.8m-1.4 .2h.8m-.5 .1h.8m-1.3 .1h.8m.3 0h.8m-2.2 .1h.8m.4 .3h.8m-.3 0h.8m-2.2 0h.8m.3 .1h.8m-.4 .1h.8m-1 0h.8m-1.2 .2h.8m-.8 .2h.8m-1.4 0h.8m-1.3 .2h.8m-.3 .1h.8m-.9 0h.8m-.9 .6h.8m.3 .3h.8m1.6-16.3h.8m-1.7 .1h.8m.1 .4h.8m-1.4 .1h.8m-1.7 .2h.8m.1 .1h.8m-1.5 0h.8m-.8 0h.8m-1.1 .1h.8m-.3 .1h.8m-1.1 0h.8m-1 .3h.8m-.6 .1h.8m-1.2 0h.8m1 .1h.8m-1.1 0h.8m-2 .3h.8m.2 0h.8m-.4 .1h.8m-1.7 .1h.8m-.5 0h.8m-1.8 .1h.8m-.9 0h.8m.1 .2h.8m-1.6 .1h.8m.6 0h.8m-.9 .1h.8m-.4 .1h.8m-2.4 .1h.8m-.9 0h.8m-.2 .2h.8m-1.4 .3h.8m-.7 0h.8m-.5 .1h.8m.4 .3h.8m-2.5 .1h.8m.6 .1h.8m-1.5 .2h.8m-.4 0h.8m-.4 .2h.8m-1.2 .1h.8m-.7 0h.8m-.7 .1h.8m-1.1 .1h.8m-1.6 .1h.8m.7 0h.8m-1.5 .2h.8m-1.6 .1h.8m-.7 .2h.8m-.3 0h.8m-1.4 .1h.8m.2 0h.8m-1.3 .1h.8m-.6 0h.8m-1.5 .2h.8m.3 .2h.8m-.9 .1h.8m-1.7 0h.8m.2 .1h.8m-1.3 .2h.8m-.3 .3h.8m-2 .2h.8m-.6 0h.8m-.8 .2h.8m-.1 .3h.8m-1.7 .1h.8m.7 .1h.8m-1.6 .2h.8m-1.7 0h.8m.7 .3h.8m-1.7 .4h.8m-1 .1h.8m.7 .2h.8m-2.5 0h.8m-1 .1h.8m.4 .1h.8m-.8 .1h.8m-.6 .1h.8m-1.3 .2h.8m0 0h.8m-2.1 .2h.8m-1 .1h.8m-.7 .2h.8m.2 .4h.8m-2 .1h.8m.1 .2h.8m-1.5 .1h.8m-.4 0h.8m.1 .1h.8m-1.6 0h.8m-.2 .1h.8m-1.6 .2h.8m-1.2 .1h.8m.9 .1h.8m-2.7 .1h.8m-.1 .2h.8m.4 0h.8m-1.9 .2h.8m-1 .3h.8m-1.3 .1h.8m-.8 .1h.8m-.5 .1h.8m-1.2 0h.8m.2 .1h.8m-.7 .2h.8m-1.8 0h.8m0 .1h.8m-.4 .1h.8m-.9 .2h.8m-1 .1h.8m-1.6 .1h.8m.3 0h.8m-.3 .1h.8m-2.2 .1h.8m.1 .2h.8m-1.3 .1h.8m-.4 0h.8m-.4 .1h.8m-1.8 .3h.8m-.1 .4h.8m-1.9 .1h.8m-.6 .2h.8m.2 .7h.8m-.6 .1h.8m-2.2 .1h.8m-.2 0h.8m-.3 0h.8m-1.1 .1h.8m-.3 .1h.8m-2.3 .2h.8m.1 0h.8m-1.6 .2h.8m-.8 .1h.8m1 .2h.8m.6-18.8h.8m-1.1 .2h.8m-1.2 .3h.8m-.9 .3h.8m-1.2 .2h.8m0 0h.8m-1 .3h.8m-1 .1h.8m.5 .3h.8m-1.4 .1h.8m-1.3 .1h.8m-.1 .1h.8m-.8 .1h.8m-1.5 .2h.8m.1 .1h.8m-1.1 0h.8m-1.7 .2h.8m-.8 .2h.8m-.7 .1h.8m-.9 .1h.8m-.7 .1h.8m-.2 .3h.8m-1.5 .3h.8m.7 .1h.8m-1.1 .2h.8m-.5 .3h.8m-2.6 .2h.8m0 .1h.8m-1.1 .1h.8m-1.1 .5h.8m-.8 .4h.8m.2 .1h.8m-.8 .1h.8m-1.4 .3h.8m-1.2 0h.8m-.7 .1h.8m-1.1 .1h.8m.5 .2h.8m-1.6 .2h.8m-.2 .1h.8m-1.3 .4h.8m-1.2 .6h.8m-.6 .5h.8m-1 .4h.8m-.7 .3h.8m0 .1h.8m-.9 .1h.8m-.6 .1h.8m-.7 0h.8m-1.3 .2h.8m-.8 0h.8m-.8 .6h.8m-1.6 .3h.8m.7 .2h.8m-1.1 .1h.8m-2.1 .1h.8m.9 .1h.8m-1.4 .2h.8m-1 0h.8m-.2 .1h.8m-.5 .1h.8m-1.5 .3h.8m-.5 .1h.8m-1.8 .1h.8m-.7 0h.8m0 .1h.8m-1.3 .1h.8m.3 .3h.8m-1.5 .2h.8m-1 0h.8m-.2 .1h.8m-2.2 .1h.8m-.5 0h.8m.1 0h.8m-1.2 .1h.8m-.2 0h.8m-2 .1h.8m.5 0h.8m-1.2 .2h.8m-2 .4h.8m1 .3h.8m-.9 0h.8m-1.1 0h.8m-1.4 .1h.8m-1.4 0h.8m-.6 .1h.8m-.5 0h.8m-1.5 .1h.8m-.6 0h.8m.7 .3h.8m-1 0h.8m-.7 .2h.8m-1.9 .3h.8m-1.2 0h.8m0 0h.8m-.1 0h.8m-2.4 .5h.8m.6 .1h.8m-1.7 0h.8m-.9 .2h.8m.4 .8h.8m-2.5 .1h.8m-.4 0h.8m-.2 .3h.8m0 0h.8m-1.2 0h.8m-.7 0h.8m-1.5 .1h.8m-.3 .2h.8m-1 0h.8m-1.5 .1h.8m.3 .1h.8m-1.2 .1h.8m-.2 .2h.8m-2.2 .2h.8m-.1 .1h.8m-1.7 0h.8m-.6 0h.8m-.3 .1h.8m.2 .2h.8m-2.1 .3h.8m-1 0h.8m-.2 .2h.8m-1.5 .1h.8m2.9-21.7h.8m-1 1h.8m-1.6 .1h.8m-1.2 .2h.8m-1.2 .3h.8m1 0h.8m-2.6 .1h.8m-.7 .2h.8m.8 0h.8m-1.7 .1h.8m-1.7 .3h.8m.3 .3h.8m-1.6 .1h.8m-1.1 .1h.8m-.1 .2h.8m-1 .3h.8m-1.3 0h.8m-.2 .1h.8m-1.1 .2h.8m-.2 .2h.8m-1.1 .1h.8m-1.2 0h.8m-.1 .1h.8m-1.7 .1h.8m0 .4h.8m-1 .3h.8m-.5 .1h.8m-1.3 .1h.8m0 0h.8m-1.5 0h.8m-.4 .1h.8m-1.2 .3h.8m-1.2 .1h.8m-.8 0h.8m.3 .1h.8m-1.1 0h.8m-.9 0h.8m-.6 .1h.8m-.2 .2h.8m-2.2 0h.8m.8 0h.8m-.8 0h.8m-1.5 .1h.8m-1.3 .1h.8m-.5 .1h.8m-.3 .2h.8m-1.4 .1h.8m-.1 .1h.8m-2 0h.8m.6 .2h.8m-.8 0h.8m-1.7 .1h.8m-1.1 .1h.8m-.5 0h.8m-1.5 .4h.8m.7 .3h.8m-2.3 .1h.8m-.6 .1h.8m-1.1 .2h.8m.6 0h.8m-2.1 .1h.8m.1 .1h.8m-1.1 0h.8m-1 0h.8m.4 .1h.8m-.7 .2h.8m-1.5 0h.8m-.1 .1h.8m-.7 .3h.8m-1.5 .3h.8m-1.8 .1h.8m.5 .2h.8m-2 0h.8m-.4 .3h.8m-1.4 .1h.8m1 .1h.8m-2.6 0h.8m.6 .2h.8m-1.4 .2h.8m-1 0h.8m-.3 0h.8m-.5 0h.8m-1.4 0h.8m-.4 0h.8m-1.7 .2h.8m-.1 0h.8m-1.8 .1h.8m.8 .1h.8m-2.2 0h.8m.4 .1h.8m-1.8 .5h.8m-.6 0h.8m-.2 .1h.8m-.4 .1h.8m-2 0h.8m-.7 0h.8m-.7 .5h.8m.2 .1h.8m-1.2 0h.8m-.5 .2h.8m-1.6 .1h.8m-.5 0h.8m-1.2 .1h.8m-.5 0h.8m-.8 .2h.8m-1.1 0h.8m-.8 0h.8m-.4 .6h.8m-1.4 .1h.8m.6 0h.8m-2 .1h.8m-.5 0h.8m-.3 .1h.8m-1.3 0h.8m0 .1h.8m-2 .4h.8m-.9 0h.8m-.1 .1h.8m-.8 0h.8m-1.1 .4h.8m-1.2 0h.8m-1.3 .3h.8m-.4 0h.8m-.6 .1h.8m-.2 0h.8m-1.3 .2h.8m-.5 .1h.8m-1.7 0h.8m.9 .3h.8m-1.8 0h.8m-.4 .2h.8m-2 .2h.8m.3 .1h.8m-1.5 0h.8m-.9 0h.8m.4 .3h.8m-.7 .2h.8m-1.5 .1h.8m-.2 .1h.8m-1.3 .2h.8m.1 .2h.8m-2.1 0h.8m-.1 .1h.8m-.5 .2h.8m-1.6 .1h.8m0 0h.8m-1.5 .1h.8m-.3 .1h.8m-1.1 .5h.8m-.5 0h.8m-2.2 0h.8m-.5 .1h.8m-.6 .1h.8m-1 .1h.8m-.2 0h.8m-1.3 .1h.8m.2 0h.8m-.6 .1h.8m-1.5 .5h.8m-.4 0h.8m-.6 .5h.8m-.7 0h.8m-1 .2h.8m-1.8 .8h.8m.1 .1h.8m-2 .1h.8m-.9 .2h.8m-.4 .1h.8m2.5-22.8h.8m-1.1 .2h.8m-1.1 .1h.8m-.2 .1h.8m-1.2 .2h.8m-.9 .2h.8m-.9 0h.8m-.2 .2h.8m-1.1 .3h.8m-1.7 .2h.8m-1.3 0h.8m.3 .1h.8m-.4 .3h.8m-.8 0h.8m-1.9 0h.8m-.1 .2h.8m-.3 0h.8m-.7 .3h.8m-1.4 0h.8m-.7 0h.8m-1 .2h.8m-1.3 .1h.8m-.1 0h.8m-.1 .1h.8m-2.2 0h.8m-1.1 .1h.8m-.5 .3h.8m.6 .1h.8m-.8 .1h.8m-2.3 .1h.8m-.9 0h.8m.6 1.1h.8m-2.1 .3h.8m-.3 0h.8m-.5 0h.8m-.6 .1h.8m-1.4 .1h.8m.1 .2h.8m-1.4 0h.8m-1.7 .1h.8m-.2 .1h.8m.1 .5h.8m-1.6 .3h.8m-1.2 .2h.8m-1.1 0h.8m-.5 .3h.8m-.9 .1h.8m-.7 .3h.8m.5 0h.8m-1.5 0h.8m-.2 .2h.8m-1.8 0h.8m-.9 .2h.8m-.7 .1h.8m-1.5 0h.8m-.3 .2h.8m-.8 0h.8m-.1 0h.8m-1.7 .2h.8m-1.1 .2h.8m.5 .1h.8m-1.8 .1h.8m-1 0h.8m-.1 .5h.8m.3 .1h.8m-2.5 .4h.8m-.7 .1h.8m.1 0h.8m-1.1 .8h.8m-.2 .6h.8m-1.1 .2h.8m-.3 0h.8m-1.2 .1h.8m-.2 .1h.8m-1.1 .3h.8m-1.8 .4h.8m.4 .2h.8m-1.3 .3h.8m-.9 .1h.8m-.9 .3h.8m-.5 .2h.8m-2.1 .3h.8m.6 .8h.8m-1.4 .1h.8m-.7 .4h.8m-.3 .2h.8m-2.2 0h.8m.8 .2h.8m-1 .7h.8m-1.5 .3h.8m-1.3 .1h.8m-.2 .2h.8m0 .6h.8m-1.1 .2h.8m-1.8 0h.8m.1 .1h.8m-1.4 .4h.8m.1 0h.8m-.9 .6h.8m-1.9 .1h.8m.7 .2h.8m-.8 0h.8m-1.1 0h.8m-1.9 .3h.8m-.9 .2h.8m.5 .3h.8m-2.4 .1h.8m-.3 .1h.8m-1.1 0h.8m.8 .1h.8m-2.5 .1h.8m-.8 .3h.8m.2 0h.8m-1.7 .2h.8m-.2 .2h.8m-.4 .4h.8m-1.7 .5h.8m-.7 .1h.8m.4 .2h.8m-.7 .1h.8m-2.4 0h.8m.8 .1h.8m-1 .1h.8m-1.2 .1h.8m-.7 .3h.8m-.7 .2h.8m1.7-24.3h.8m-1 .1h.8m-1 .1h.8m-.9 .1h.8m-.7 .3h.8m-.6 0h.8m-2 .5h.8m.4 0h.8m-2.5 .1h.8m.5 .2h.8m-1.6 .1h.8m-1 .1h.8m-.6 .1h.8m-1.2 .7h.8m0 .3h.8m-.7 .1h.8m0 .5h.8m-2.4 .2h.8m.3 0h.8m-1.9 .2h.8m-.6 .1h.8m.1 .1h.8m-1.2 .2h.8m.1 .1h.8m-1.9 0h.8m-1.5 .1h.8m-.6 .1h.8m.2 .1h.8m-.6 .1h.8m-1.6 .1h.8m-.7 .1h.8m-.7 .1h.8m.3 .1h.8m-1.7 .1h.8m-.6 .1h.8m-.5 .1h.8m-2.2 .1h.8m.2 .4h.8m-1.9 .1h.8m.3 0h.8m0 .1h.8m-2.6 0h.8m-.6 .1h.8m.6 .8h.8m-2.2 .4h.8m-.4 .1h.8m-.2 0h.8m-.9 .1h.8m-1.5 .5h.8m-.9 0h.8m-.9 .4h.8m.4 .3h.8m-1.5 .1h.8m.1 0h.8m-1.6 .1h.8m-1.5 .3h.8m.3 0h.8m-.7 .1h.8m-1.6 .3h.8m-1.2 0h.8m.7 .3h.8m-1.7 0h.8m-1.3 .1h.8m-.9 .3h.8m.4 .1h.8m-1.5 .1h.8m-.8 .2h.8m-.4 0h.8m-1 .3h.8m-.4 0h.8m-1.3 .2h.8m-.6 .1h.8m-1 .3h.8m-1.2 .1h.8m0 .1h.8m-1.2 0h.8m-.1 0h.8m-2.3 0h.8m-.4 .2h.8m-.7 .1h.8m-1.1 .3h.8m-.1 .2h.8m-.5 0h.8m-.8 .1h.8m-.4 .4h.8m-2 .1h.8m.1 .2h.8m-1.7 0h.8m.2 .1h.8m-1.8 .2h.8m-1.2 .7h.8m.2 .3h.8m-1.2 0h.8m-.9 .1h.8m-.1 .2h.8m-1.5 0h.8m-.1 .2h.8m-.9 0h.8m-1.4 .2h.8m-.5 .4h.8m-.2 0h.8m-1.6 0h.8m-.6 .2h.8m-.3 .3h.8m-1.4 0h.8m-1.2 .4h.8m-.6 0h.8m-.2 .3h.8m-.7 .1h.8m-.6 0h.8m-1.9 .7h.8m-.6 .1h.8m-.7 .1h.8m-.3 .3h.8m-1.8 0h.8m.5 .3h.8m-1.2 .3h.8m-.9 .1h.8m-1.3 .1h.8m.7 0h.8m-2.2 .1h.8m.4 .1h.8m-2 0h.8m-.2 .2h.8m-.7 .2h.8m-2 0h.8m.8 .2h.8m-2.4 0h.8m.6 .3h.8m-.7 .1h.8m-1.5 .2h.8m-.9 0h.8m-.5 0h.8m-.7 .2h.8m-1.5 .3h.8m-.2 .1h.8m-.3 0h.8m-1.7 .3h.8m-.8 0h.8m-.2 0h.8m-.3 0h.8m-.8 .2h.8m-1.1 .1h.8m-1.8 .1h.8m.2 .8h.8m-2.2 0h.8m.6 .2h.8m-.9 .1h.8m-1.9 .6h.8m0 .3h.8m1.8-24.4h.8m-2 .1h.8m-.2 0h.8m-.9 .2h.8m-1.2 .1h.8m.4 .2h.8m-1.6 .2h.8m-.2 .1h.8m-2.1 .2h.8m.8 .5h.8m-1.8 0h.8m.1 .4h.8m-1.1 .2h.8m-1.1 .2h.8m-1.7 .3h.8m.3 .1h.8m-.6 .2h.8m-1.1 .1h.8m-.9 .2h.8m-1.1 .1h.8m-1 0h.8m-.8 .2h.8m-.2 .3h.8m-.1 .5h.8m-2.3 .1h.8m-.1 .1h.8m-1.5 .1h.8m.2 .1h.8m-1.9 .3h.8m0 0h.8m0 .1h.8m-1.6 .2h.8m-.6 0h.8m-2.1 .1h.8m-.5 .2h.8m-.1 .5h.8m-1.7 .1h.8m.6 .8h.8m-1.7 .1h.8m-.7 .6h.8m.1 .4h.8m-1.6 .2h.8m.2 .1h.8m-2.1 .2h.8m.4 .1h.8m-1.8 .1h.8m.1 .1h.8m-1.1 0h.8m-1.6 0h.8m-.5 .2h.8m-1.3 .1h.8m-.1 .2h.8m-1.5 0h.8m.7 .8h.8m-1.5 0h.8m0 .2h.8m-1.5 .3h.8m-1.5 0h.8m.1 .3h.8m-1.9 .3h.8m-.4 .1h.8m-1.1 .1h.8m-.1 .4h.8m-1 0h.8m.2 1h.8m-1.3 .4h.8m-.5 .1h.8m-2.4 .2h.8m.5 .2h.8m-1.8 .1h.8m.1 0h.8m-.4 .2h.8m-1 .1h.8m-2.1 0h.8m.7 .1h.8m-1.4 .2h.8m-1.1 .3h.8m-.9 .2h.8m-1.1 .1h.8m-.6 0h.8m-.2 0h.8m-1.1 .1h.8m-.2 .1h.8m-.7 0h.8m-1.5 .1h.8m.1 .1h.8m-2.5 .1h.8m-.8 .1h.8m-.7 .4h.8m.9 .1h.8m-1.7 .1h.8m-1.4 .3h.8m.4 .2h.8m-1.2 .1h.8m-1.9 .2h.8m-.2 .2h.8m.2 0h.8m-.8 .3h.8m-.8 .2h.8m-.8 .6h.8m-1.9 .1h.8m.2 .4h.8m-2.3 .2h.8m.6 0h.8m-2.1 .1h.8m.2 .5h.8m-.8 .2h.8m-1.2 .2h.8m-.6 .2h.8m-1.4 .1h.8m.7 .1h.8m-1 .3h.8m-.8 .2h.8m-.8 .2h.8m-2.4 0h.8m.5 .1h.8m-2.2 .7h.8m.9 .2h.8m-1.9 .9h.8m-.9 .4h.8m-.8 0h.8m-.2 .4h.8m-.3 .8h.8m-.7 .3h.8m-.9 .1h.8m.7-26.6h.8m-.1 0h.8m-.7 .2h.8m-2.2 .4h.8m-.1 .1h.8m-1.9 .2h.8m-.2 0h.8m-1.5 0h.8m.3 .7h.8m-.6 .2h.8m-.9 .1h.8m-.3 .2h.8m-.6 0h.8m-2.4 .6h.8m0 0h.8m-.6 0h.8m-1.5 .3h.8m-1.3 .6h.8m.9 .1h.8m-1.6 0h.8m-.9 .1h.8m-1.6 .2h.8m1 0h.8m-1.2 .1h.8m-2.1 .6h.8m.3 .1h.8m-.4 .1h.8m-1.1 .1h.8m-.9 0h.8m-.8 .2h.8m-.5 .1h.8m-1.8 .1h.8m-.2 .1h.8m-.6 .2h.8m-1.6 0h.8m-.4 .3h.8m-1.7 .5h.8m.6 .3h.8m-.8 0h.8m-.9 .1h.8m-.6 .1h.8m-1.5 0h.8m-.1 .2h.8m-1.1 .5h.8m-.9 .1h.8m-1.9 .1h.8m-.9 0h.8m.3 .7h.8m-.4 .2h.8m-2.2 .4h.8m.5 .3h.8m-.9 .2h.8m-.4 .1h.8m-2.4 .1h.8m.8 .1h.8m-1.3 .1h.8m-2 .1h.8m1.1 .2h.8m-1.9 .2h.8m-.8 .3h.8m-.2 .3h.8m-1.5 .2h.8m-.9 .2h.8m.1 0h.8m-1.4 .3h.8m-1.2 0h.8m-.2 .3h.8m-.9 0h.8m-1.7 .1h.8m-.4 .5h.8m.4 0h.8m-2.3 .4h.8m-1 .1h.8m1.1 0h.8m-1.9 0h.8m-.9 .2h.8m-1 .2h.8m-1.1 .3h.8m.3 .3h.8m-.3 .2h.8m-2.4 0h.8m-.8 .1h.8m.8 .3h.8m-2 .3h.8m-1.3 .1h.8m-.1 .2h.8m-1 0h.8m-1.4 .1h.8m-.8 0h.8m-.2 .2h.8m-.1 .1h.8m-1 .3h.8m-.2 0h.8m-1.4 .5h.8m-1.4 .2h.8m-.2 .5h.8m-1.4 .4h.8m-1.3 .5h.8m-.4 .3h.8m-.1 .3h.8m-.1 .1h.8m-2.3 .1h.8m-1 .1h.8m.1 .7h.8m-1.1 0h.8m-.2 .1h.8m-.2 0h.8m-1 .1h.8m-2.4 .1h.8m-.4 .1h.8m-1.3 .2h.8m0 .1h.8m-1 0h.8m-.5 .7h.8m-1.1 0h.8m-.3 .4h.8m-1.1 0h.8m-.6 .2h.8m-1.5 .7h.8m.6 .1h.8m-1.2 .4h.8m-1.1 .1h.8m-.5 .1h.8m-2 0h.8m-.4 .1h.8m-.2 0h.8m0 .2h.8m-1.2 .2h.8m-2 .1h.8m.7 .2h.8m-1.1 0h.8m-.6 .1h.8m-1.2 0h.8m-.9 .4h.8m-1.8 .2h.8m.6 .1h.8m-1.1 .1h.8m-1.9 .5h.8m.6 .2h.8m-.9 .8h.8m1.5-27.4h.8m-1.8 .1h.8m-.7 .1h.8m-.1 .1h.8m-1.2 .1h.8m-.2 .1h.8m-.8 .1h.8m-2.2 .3h.8m-.8 .3h.8m-.9 0h.8m.1 .1h.8m-1 .2h.8m-1.7 .2h.8m.3 .1h.8m-.6 .1h.8m-.4 .1h.8m-1.3 0h.8m-.9 .1h.8m-.6 .2h.8m-1.2 .4h.8m-1.1 .2h.8m-.5 .1h.8m-1.5 .2h.8m.1 0h.8m-.2 .2h.8m-2.3 .2h.8m.2 .3h.8m-1.1 .3h.8m-1.1 .1h.8m-.6 .1h.8m-.8 .1h.8m0 .1h.8m-1.2 .9h.8m-1.4 .5h.8m-1.2 .1h.8m-.8 .2h.8m.7 .5h.8m-2 0h.8m-1.1 .1h.8m.5 0h.8m-.6 .1h.8m-.8 .1h.8m-2.4 .1h.8m.7 .5h.8m-2.4 .3h.8m-.9 .5h.8m1 0h.8m-.7 .2h.8m-2 0h.8m-.2 .2h.8m-1.4 0h.8m-.2 0h.8m-.7 .1h.8m-2.1 0h.8m.3 .1h.8m-1.5 .7h.8m.5 0h.8m-1.2 0h.8m-1.4 .3h.8m-.9 .2h.8m-1.5 .1h.8m1 .2h.8m-2.4 .3h.8m-.5 0h.8m-.6 .3h.8m-1.3 .1h.8m.3 .3h.8m-.8 .5h.8m-2.1 0h.8m-.1 .2h.8m.3 0h.8m-1 .3h.8m-1.2 .2h.8m-1 .1h.8m-1.5 0h.8m-.7 .2h.8m-.1 .5h.8m-.9 .1h.8m-1.5 0h.8m-.3 .1h.8m-1 .6h.8m.4 .1h.8m-1.1 .3h.8m-.6 .2h.8m-2.3 .1h.8m0 .5h.8m0 0h.8m-.9 .5h.8m-1 .1h.8m-1.5 .1h.8m-.7 .1h.8m-1.4 .3h.8m.8 .4h.8m-1.7 0h.8m-1.3 0h.8m-1.3 .4h.8m.3 .3h.8m-.8 .5h.8m-.4 0h.8m-1.9 .1h.8m-.4 0h.8m-.8 .2h.8m-1 .1h.8m-.2 .4h.8m-1.5 .5h.8m0 .3h.8m-1.2 .6h.8m0 .1h.8m-1.4 0h.8m-1.5 0h.8m-1.1 .2h.8m.4 .1h.8m-.5 .5h.8m-.5 .2h.8m-.8 .1h.8m-2.1 0h.8m-1.3 .4h.8m.1 .2h.8m-.7 .3h.8m0 0h.8m-1.4 0h.8m-.4 .1h.8m-1.2 1.4h.8m-2 .1h.8m-.1 .3h.8m-1.2 .4h.8m.1 0h.8m-.7 .2h.8m-1.9 0h.8m-.5 0h.8m-.6 .2h.8m-.3 0h.8m-1.1 .4h.8m-.4 0h.8m-1.2 .6h.8m0 0h.8m-1.8 .3h.8m-1.6 .4h.8m-.8 0h.8m.5 .2h.8m-1.1 0h.8m-.2 .3h.8m1.4-28.6h.8m-1.8 0h.8m-1.6 .5h.8m-.8 .1h.8m-.5 0h.8m.4 .3h.8m-2.1 .5h.8m-.6 0h.8m.6 .1h.8m-1.9 .1h.8m-.5 .1h.8m-.1 .2h.8m-1.3 0h.8m-1.7 .2h.8m.7 .2h.8m-1.8 .2h.8m-1.2 .5h.8m.7 .4h.8m-2.3 .1h.8m.7 .1h.8m-1.1 .3h.8m-1.1 .4h.8m-.5 .3h.8m-1.5 .4h.8m-.7 .2h.8m-.3 .1h.8m-.4 0h.8m-1.2 .1h.8m-1.7 .2h.8m-1 .8h.8m.6 0h.8m-2.3 .3h.8m-.4 .1h.8m-.2 .2h.8m-1.3 .3h.8m-.4 0h.8m-.3 .1h.8m-2.1 0h.8m-1 .5h.8m-.3 .5h.8m-.9 .1h.8m-1.2 .2h.8m.8 .1h.8m-1.7 .4h.8m-.9 .1h.8m-1.6 .3h.8m-.5 .6h.8m.8 .2h.8m-2.5 .1h.8m.6 .1h.8m-1.2 0h.8m-1.5 .3h.8m-1.3 .7h.8m-.5 0h.8m-.3 0h.8m-1.2 .1h.8m-.5 .6h.8m-1.3 .1h.8m-.1 .3h.8m-1.5 .7h.8m.5 .6h.8m-.4 .3h.8m-1.2 .6h.8m-1.6 .1h.8m-.8 .4h.8m0 0h.8m-2.1 0h.8m-.8 .1h.8m-.7 .3h.8m.5 .1h.8m-1.8 .3h.8m-1.4 .3h.8m.6 .2h.8m-2.1 .1h.8m.5 .5h.8m-1.3 0h.8m-.2 .3h.8m-1.9 .1h.8m.6 .2h.8m-.9 .1h.8m-.7 .1h.8m-1.1 0h.8m-.4 .1h.8m-2 .3h.8m.4 0h.8m-1.2 .1h.8m-.6 .2h.8m-2 .2h.8m.4 0h.8m-1 0h.8m-1.7 .2h.8m.3 1h.8m-1.9 .8h.8m-1.3 .2h.8m.1 .6h.8m-.8 .1h.8m-.1 .1h.8m-1.6 .5h.8m-1 .1h.8m-.5 .2h.8m.1 .2h.8m-1.5 0h.8m-2 .3h.8m-.2 .5h.8m0 .4h.8m-1.4 .6h.8m0 .2h.8m-1.1 0h.8m-.8 .6h.8m-1.9 .7h.8m-.4 1.1h.8m-.6 .1h.8m-1.4 .1h.8m-.3 0h.8m-1.1 .3h.8m-1 .1h.8m0 .2h.8m1.6-29.2h.8m-.5 .2h.8m-2.4 .2h.8m-.7 .1h.8m.6 .6h.8m-1.9 .1h.8m.4 1.1h.8m-.8 .8h.8m-1.9 .6h.8m.2 .5h.8m-.6 0h.8m-1 .7h.8m-.9 .6h.8m-.7 .2h.8m-1.8 .4h.8m-.3 0h.8m-.5 .1h.8m-1.4 .1h.8m-.8 0h.8m0 .2h.8m-1.5 0h.8m-.9 .3h.8m.1 .4h.8m-1.7 0h.8m-.8 .2h.8m.3 0h.8m-1 .1h.8m-1.1 .1h.8m-1.7 .1h.8m.4 .3h.8m-1.4 .1h.8m-.3 .2h.8m-.9 .2h.8m-.4 .1h.8m-2.5 .5h.8m.6 0h.8m-1.2 0h.8m-1.7 .3h.8m.3 .1h.8m-1.9 0h.8m.5 0h.8m-2.3 .4h.8m-.5 .3h.8m-1 .3h.8m-.9 0h.8m1 .3h.8m-1.2 .3h.8m-1.5 .2h.8m-.7 .1h.8m-.8 1.3h.8m-.3 0h.8m-1.7 .3h.8m-.4 .3h.8m-1.5 .2h.8m.1 .2h.8m-.7 .1h.8m-.2 0h.8m-1.6 0h.8m-1.6 .4h.8m.1 .2h.8m-1.1 0h.8m.2 .3h.8m-1.1 .1h.8m-.5 .1h.8m-2.3 .4h.8m-.4 .1h.8m-1.2 .2h.8m.6 .3h.8m-2.2 .3h.8m-1.1 1h.8m-.1 .2h.8m-.2 .1h.8m-1.7 .2h.8m-.8 .2h.8m.2 .1h.8m-1 .1h.8m-.6 0h.8m-2.2 .1h.8m.2 0h.8m-1.3 .1h.8m-.7 .2h.8m.2 .8h.8m-2.1 .1h.8m-.6 .2h.8m-1.1 .2h.8m.2 .7h.8m-.8 .1h.8m-.7 .1h.8m-.3 .1h.8m-1 .4h.8m-1.8 .1h.8m-1.3 .2h.8m-.4 .4h.8m-1.2 1.1h.8m.5 .2h.8m-.6 0h.8m-.6 .1h.8m-2.2 0h.8m-.2 .6h.8m-.8 .2h.8m-.7 0h.8m-.7 .6h.8m-1.5 .2h.8m.1 0h.8m-.5 .3h.8m-2.4 .2h.8m-.9 .1h.8m.4 0h.8m-1.1 .1h.8m.1 .1h.8m-1.8 .8h.8m-.5 .6h.8m-.1 0h.8m-1.6 .4h.8m-1.6 .1h.8m.7 .5h.8m-2.5 .4h.8m-.3 0h.8m-.9 .2h.8m-.4 .4h.8m-1 .3h.8m2-30.1h.8m-1.9 .7h.8m-.9 .1h.8m-.7 .1h.8m-1 .5h.8m.2 .1h.8m-1.2 .3h.8m-.5 .3h.8m-.6 .6h.8m-.3 .1h.8m-2.4 .2h.8m0 0h.8m-.7 .4h.8m-1.7 0h.8m-.1 .3h.8m-.5 .1h.8m-.9 .3h.8m-1.6 .2h.8m-.6 .9h.8m.2 0h.8m-1.1 .3h.8m-1.4 .1h.8m.2 0h.8m-2.1 .7h.8m-.9 .2h.8m-.2 .1h.8m-.9 .1h.8m-.5 0h.8m-.4 .4h.8m-.2 .8h.8m-1.9 .2h.8m-.4 0h.8m-2 .2h.8m.9 1.7h.8m-1.2 .1h.8m-2 .2h.8m.4 0h.8m-.8 .2h.8m-.6 .2h.8m-1.4 1.3h.8m-.1 .1h.8m-2.3 .2h.8m-.2 .1h.8m-.8 .4h.8m-.8 .1h.8m.1 .2h.8m-1.4 .1h.8m-1.8 1.1h.8m.6 .1h.8m-1.5 .1h.8m.4 .1h.8m-2.5 .9h.8m.8 .2h.8m-1.8 .1h.8m-.4 .2h.8m-1.5 .1h.8m0 .2h.8m-.2 .1h.8m-2.6 0h.8m-.2 .1h.8m.2 .8h.8m-2.4 .2h.8m-.9 .2h.8m.1 .2h.8m-1.2 .1h.8m.6 .2h.8m-1.1 .5h.8m-2.2 .3h.8m-1 .1h.8m1 .4h.8m-2.1 .2h.8m-1.2 .1h.8m-.5 .2h.8m-1.2 .1h.8m.4 .1h.8m-.7 .1h.8m-1.1 .2h.8m0 .1h.8m-1.2 0h.8m-1 .6h.8m-1.3 0h.8m-1 .1h.8m-.9 .2h.8m.2 .3h.8m-.4 .3h.8m-2.4 .6h.8m0 .1h.8m-.5 .1h.8m-1.5 0h.8m-1.2 .2h.8m-.7 .9h.8m-1.1 1.1h.8m-.4 0h.8m.4 .2h.8m-1.3 .5h.8m-.1 .4h.8m-1 1.6h.8m-.7 0h.8m-2.5 .3h.8m.3 .3h.8m-1.9 .7h.8m1 0h.8m-1.7 .5h.8m-.1 .3h.8m-.8 .2h.8m1.4-31.2h.8m-.7 .4h.8m-1.8 .1h.8m-.5 0h.8m-1.3 .2h.8m-.2 1h.8m-2.1 .1h.8m.9 .3h.8m-2.5 .3h.8m0 .7h.8m-.8 .2h.8m-1.1 .4h.8m.1 .1h.8m-.4 .1h.8m-1.1 0h.8m-.7 .6h.8m-1.2 .7h.8m-1.8 .2h.8m-.9 .4h.8m.1 .4h.8m-1.4 .6h.8m-1.2 .2h.8m.7 .4h.8m-1.4 1.2h.8m-.3 .1h.8m-2.1 .1h.8m-.4 0h.8m-.8 .4h.8m-1.3 .4h.8m-.7 .1h.8m.3 .1h.8m-.4 1.1h.8m-1.3 .2h.8m-1.9 .2h.8m-.4 0h.8m-.5 .1h.8m-.6 0h.8m-.2 .1h.8m-.9 .1h.8m-.9 .1h.8m-1.3 0h.8m.2 .3h.8m-1.5 .1h.8m0 .5h.8m-1.7 1.5h.8m-1.3 .3h.8m-.5 1.3h.8m-.4 0h.8m-1.9 .3h.8m.5 .2h.8m-2.2 .1h.8m-.4 .2h.8m-.9 .1h.8m-.4 .9h.8m-1.3 1h.8m.5 .5h.8m-.7 .7h.8m-1.6 1.9h.8m-.7 .2h.8m-.9 1h.8m-1 .1h.8m-.5 0h.8m-.1 .3h.8m-.6 0h.8m-.9 .2h.8m-2.5 .6h.8m-.2 .2h.8m.2 .2h.8m-1.5 0h.8m.1 .1h.8m-1.8 .3h.8m-.4 .3h.8m-.8 0h.8m-1.8 .7h.8m.5 .1h.8m-.6 .5h.8m-.7 .3h.8m-1.4 0h.8m-.1 .8h.8m-1.9 .4h.8m-1.2 .7h.8m-.2 .1h.8m-1.5 0h.8m-.6 .3h.8m-.7 .1h.8m.5 0h.8m-1.3 .1h.8m-1.7 .2h.8m-.6 .4h.8m-.5 .4h.8m-.1 .6h.8m-1.4 .5h.8m1.8-34.5h.8m-.7 .7h.8m-2.3 2.6h.8m-.5 .1h.8m.1 .5h.8m-2.1 .1h.8m.4 1.7h.8m-.9 0h.8m-1.6 0h.8m-.6 .2h.8m-1.2 0h.8m-.7 .4h.8m-.1 .1h.8m-1.7 .2h.8m.3 1h.8m-1 .7h.8m-1 .1h.8m-1.4 .8h.8m-.7 .2h.8m-1.1 .1h.8m-.9 .1h.8m1.1 .2h.8m-1.8 .9h.8m-1.5 .1h.8m-.6 .5h.8m.7 .2h.8m-1.8 .3h.8m-.4 0h.8m-.3 .1h.8m-1.6 .1h.8m-.4 .2h.8m-.8 .3h.8m-1.4 .2h.8m0 .3h.8m-1.7 .1h.8m.4 .4h.8m-1.4 0h.8m-1.6 .6h.8m-.2 .2h.8m-1.8 .6h.8m0 .9h.8m.2 0h.8m-1 .7h.8m-1.9 0h.8m.1 .6h.8m-.4 .1h.8m-2.5 .3h.8m-.7 .4h.8m-.5 0h.8m0 .2h.8m-1.4 .4h.8m-.1 .3h.8m-1.9 .8h.8m-.5 .1h.8m.2 .2h.8m-1.4 0h.8m0 1h.8m-2.5 .6h.8m-.7 .1h.8m-.7 .1h.8m-.2 .3h.8m-.5 .2h.8m-2.1 0h.8m.1 0h.8m-1.6 .4h.8m-.3 .2h.8m-1.3 .9h.8m.4 .1h.8m-1.5 .3h.8m-.3 0h.8m-.7 .2h.8m-1 .2h.8m-1.2 .2h.8m0 0h.8m-1.4 .7h.8m-.2 .4h.8m-1 .1h.8m-1.2 0h.8m-.8 .2h.8m.1 .2h.8m-1.4 .1h.8m-1.8 .4h.8m.4 .1h.8m-.9 .1h.8m-.2 .5h.8m-1.4 0h.8m-.6 .2h.8m-1.6 0h.8m-.5 .1h.8m-1.3 .3h.8m-1.1 .4h.8m.4 0h.8m-1.7 .1h.8m-.8 .3h.8m.3 0h.8m-.8 .2h.8m-1.8 .8h.8m-.1 .6h.8m-.6 .5h.8m-1.5 .5h.8m.2 .1h.8m-2.2 .1h.8m-.6 0h.8m.5 0h.8m-1.5 .3h.8m-1.1 .7h.8m-1 .1h.8m.5 .3h.8m-2.5 .1h.8m-.5 .7h.8m.5 .5h.8m-.7 .2h.8m0-33h.8m-.3 .1h.8m-1.1 .8h.8m-.5 1.2h.8m-1.8 .1h.8m.1 .1h.8m-1.8 .6h.8m.6 .2h.8m-1.5 .3h.8m-.3 .3h.8m-.5 .4h.8m-.9 0h.8m-1.2 .1h.8m-1.8 .9h.8m-.2 0h.8m-1.2 .3h.8m-.4 .3h.8m-.1 0h.8m-.3 .1h.8m-2.2 .4h.8m-.4 .4h.8m-.3 .5h.8m-1 .1h.8m-.2 .1h.8m-2.4 .4h.8m-.5 1h.8m0 1h.8m-.4 0h.8m-2.5 .6h.8m.8 .3h.8m-1.4 .1h.8m-1.4 .1h.8m.5 0h.8m-1.4 .1h.8m-1.9 0h.8m-.5 .2h.8m-.3 .3h.8m-1.1 .3h.8m.2 .8h.8m-2.1 .1h.8m.6 .1h.8m-2 .4h.8m-.1 0h.8m-.2 .4h.8m-2 .7h.8m-.6 .3h.8m-.3 .4h.8m-1.8 .5h.8m-1 .8h.8m-.7 .2h.8m-.9 1.2h.8m0 .1h.8m-1.6 .4h.8m-.7 .1h.8m.3 .9h.8m-.9 0h.8m-.5 .8h.8m-.4 .7h.8m-2.1 .7h.8m0 .4h.8m-.3 .9h.8m-.8 1.3h.8m-2.4 .1h.8m.4 .1h.8m-.9 .1h.8m-2.1 1h.8m-.2 1.1h.8m-1.1 .1h.8m.1 .1h.8m-1.9 .1h.8m.7 1.1h.8m-.5 .6h.8m-1.1 .2h.8m-1.5 .1h.8m-1.2 .4h.8m.6 0h.8m-2 0h.8m-1 .1h.8m-1 .1h.8m.1 .2h.8m-1.5 .3h.8m-1 .3h.8m-.7 1.7h.8m.1 .5h.8m-.4 .4h.8m1.2-33.1h.8m-1.2 .1h.8m-1.6 .4h.8m-.8 .1h.8m-.7 .1h.8m.5 .1h.8m-1.5 .3h.8m-1.1 .2h.8m.1 .2h.8m-2.1 .9h.8m.2 .4h.8m-.6 .6h.8m-1.2 1.4h.8m-1.6 .3h.8m.2 .3h.8m-.4 .2h.8m-2.5 0h.8m-.6 .1h.8m-1.1 .3h.8m-.6 .5h.8m-1.1 .2h.8m.1 .4h.8m-.3 .2h.8m-1.3 .7h.8m-.4 .3h.8m-1.5 .1h.8m-.2 .3h.8m-.2 0h.8m-2.5 .3h.8m.3 .7h.8m-.9 .6h.8m-.9 .1h.8m-.6 0h.8m-1.3 .2h.8m-1 .5h.8m-.9 1h.8m0 .7h.8m-.7 .1h.8m-.6 1.2h.8m-1.7 1.3h.8m-.5 .4h.8m-1 .7h.8m-.8 1h.8m-.7 .1h.8m-.3 0h.8m-.6 .2h.8m-1.9 .3h.8m.7 .3h.8m-1.1 .2h.8m-2.4 .3h.8m-.5 .3h.8m.2 .2h.8m-1.6 .2h.8m.2 .2h.8m-1.6 0h.8m-.5 .4h.8m-.5 .1h.8m-1 .1h.8m-1.9 .2h.8m-.7 0h.8m.9 .8h.8m-1.4 0h.8m-.1 .7h.8m-2.5 .4h.8m-1 .7h.8m.8 .8h.8m-1 .2h.8m-.5 .2h.8m-2.1 .5h.8m.3 .5h.8m-1.4 .2h.8m-.4 .2h.8m-.3 1.1h.8m-.7 1.9h.8m-2.5 .3h.8m.8 .2h.8m-.7 .4h.8m-1.7 .3h.8m-.6 .1h.8m-.6 .3h.8m-.6 .2h.8m-1.9 1.2h.8m.4 .5h.8m-1.3 .5h.8m1.6-33.5h.8m-1.5 .3h.8m-1.1 .3h.8m.1 .1h.8m-1.6 .7h.8m-1.2 1.5h.8m-.3 .4h.8m-1.3 .2h.8m-.4 .2h.8m-.4 .3h.8m-1.5 0h.8m-1 .3h.8m.7 .1h.8m-2.2 .3h.8m-1 .8h.8m-.4 .7h.8m-.8 .2h.8m-.8 0h.8m-1 .2h.8m-.5 .1h.8m.4 0h.8m-1.5 .4h.8m-.4 1h.8m-.7 .1h.8m-.9 .4h.8m-1.7 .3h.8m-.9 .2h.8m-.3 .5h.8m-1.8 .1h.8m-.8 .8h.8m-.4 .8h.8m-1.1 .9h.8m-.4 1.5h.8m-.6 .1h.8m-.9 .2h.8m-.5 .2h.8m.2 .1h.8m-2.3 .5h.8m.7 0h.8m-1.9 0h.8m-1.5 .3h.8m.8 .3h.8m-1.4 .7h.8m-1.4 .2h.8m-.5 .1h.8m-1.3 .4h.8m.8 .1h.8m-1.5 .1h.8m-1.6 .1h.8m-.2 0h.8m-.7 .5h.8m-.2 .6h.8m-1.3 .7h.8m-.6 1h.8m-1.6 .3h.8m-.3 .1h.8m-1 .1h.8m-.9 .1h.8m-1.1 1.1h.8m-.2 .5h.8m-.2 .2h.8m-2.3 .3h.8m-1 .3h.8m-.4 .8h.8m.6 0h.8m-2.3 .3h.8m-.6 .6h.8m-.5 .5h.8m-.2 1h.8m-1.8 .2h.8m-.6 .8h.8m.2 .3h.8m-1.7 .5h.8m-1.4 .5h.8m.8 .1h.8m-.8 .5h.8m-1.4 .1h.8m-.1 .8h.8m-1.3 0h.8m-2.1 .2h.8m.3 0h.8m-.3 .6h.8m-.5 0h.8m-2.7 1h.8m.2 0h.8m-1.6 .3h.8m.3 .1h.8m-1.5 .7h.8m-.7 .2h.8m-.6 .7h.8m-1.5 .3h.8m2.8-34.4h.8m-1.8 .2h.8m.1 .3h.8m-1.3 .4h.8m-1 .7h.8m-.3 0h.8m-1.1 0h.8m-.8 .1h.8m-.5 .8h.8m-.5 .4h.8m-1.7 0h.8m-.1 .1h.8m-2.2 .2h.8m-.8 .2h.8m-.5 .1h.8m-1 .5h.8m-1 .2h.8m-.5 .2h.8m.1 .4h.8m-.7 .2h.8m-1.5 .4h.8m-1.3 0h.8m.6 .8h.8m-.5 0h.8m-1.8 .1h.8m-.3 .2h.8m-1 0h.8m-1.2 0h.8m-.1 .1h.8m-1.1 .4h.8m-.8 .3h.8m-.4 1.6h.8m-1.1 1.1h.8m-2 1.6h.8m1 .4h.8m-2.3 .6h.8m.7 .4h.8m-1 .8h.8m-1 .5h.8m-1.6 .7h.8m-1.3 .9h.8m0 .1h.8m-1.2 .4h.8m.4 .6h.8m-1.6 .8h.8m-1.2 .4h.8m.3 .3h.8m-2.5 .3h.8m-.7 1.9h.8m.5 .7h.8m-.5 .5h.8m-2 .1h.8m.1 .6h.8m-1.8 .1h.8m-.9 .6h.8m.1 .3h.8m-.5 2.1h.8m-.5 0h.8m-2.6 .1h.8m.4 .6h.8m-1.1 .1h.8m-1 .2h.8m.3 .4h.8m-1.2 .1h.8m-1.8 1h.8m-.3 .1h.8m-1.4 .5h.8m.1 0h.8m-1.1 1.5h.8m-.9 .8h.8m-.2 .5h.8m-.4 .2h.8m-.7 .6h.8m-1.3 0h.8m-.8 .2h.8m-.7 1h.8m-1.8 .2h.8m2.3-34.1h.8m-2.3 1.4h.8m-.2 .3h.8m-.8 .3h.8m-1.4 .1h.8m-.2 .8h.8m-1.1 .3h.8m-.3 .6h.8m-1.2 0h.8m-.6 1.4h.8m.2 1h.8m-1.2 .2h.8m-1.2 .2h.8m-.4 .1h.8m-2 .2h.8m.3 .5h.8m-.7 .1h.8m-2 1.2h.8m-.5 .3h.8m-.9 .4h.8m.4 .5h.8m-.6 .3h.8m-.8 .2h.8m-2.1 .4h.8m-.3 .2h.8m-1.6 .2h.8m1 .1h.8m-2.1 .8h.8m-1.2 .1h.8m-.7 .9h.8m.2 .7h.8m-2.1 .2h.8m.8 .6h.8m-.5 0h.8m-2.1 .1h.8m-1.1 .5h.8m-.9 1.2h.8m.9 0h.8m-2 .3h.8m0 .4h.8m-1.5 2.4h.8m-.1 .3h.8m-2.1 .1h.8m.3 .1h.8m-1.2 .3h.8m-1.3 .2h.8m.6 .6h.8m-1.3 1h.8m-.4 .2h.8m-2.1 0h.8m-1.2 1.2h.8m-.5 1h.8m.8 .5h.8m-.9 .5h.8m-1.2 .2h.8m-.3 .6h.8m-2.6 .1h.8m-.2 .4h.8m.3 1.4h.8m-1.2 .3h.8m-1.4 .2h.8m-1.3 .2h.8m0 1.8h.8m-1.5 1.3h.8m.7 .4h.8m-2.1 0h.8m-.9 .3h.8m-1.1 .2h.8m0 .9h.8m-.8 0h.8m1.8-34.4h.8m-2.1 .1h.8m-.7 .2h.8m-1 1h.8m0 .9h.8m-1.8 .1h.8m0 .4h.8m.2 .3h.8m-.8 1h.8m-.7 1.3h.8m-2.2 1.3h.8m.5 1.1h.8m-1.9 .7h.8m-.2 .5h.8m-2.1 .1h.8m.6 .5h.8m-.4 1h.8m-1.3 .3h.8m-1.9 .4h.8m-.2 .3h.8m-1.3 .3h.8m.4 .5h.8m-1.2 1h.8m-1.5 .3h.8m-1 .3h.8m-.4 .4h.8m-.2 .5h.8m-.8 0h.8m-1.1 .2h.8m-1.3 .2h.8m-1.1 0h.8m.6 .8h.8m-1.4 .1h.8m-1.7 1.2h.8m.3 0h.8m-.7 .7h.8m-.6 .1h.8m-2 0h.8m.8 1.7h.8m-1.3 .3h.8m-1.7 .3h.8m-.6 .1h.8m-1.2 .7h.8m.5 2.1h.8m-.8 .7h.8m-1.6 .2h.8m0 .2h.8m-.9 .8h.8m-1.6 .1h.8m-1.2 .6h.8m.8 0h.8m-1.9 .6h.8m-1.3 .3h.8m.1 .4h.8m-.2 .1h.8m-1.8 1.1h.8m-.3 .1h.8m-2 1.9h.8m1.1 .2h.8m-2.3 1.2h.8m-1 .2h.8m.2 .4h.8m-1.8 .7h.8m.3 .9h.8m-.4 1h.8m0-36.9h.8m.2 1.1h.8m-.6 .1h.8m-1.8 0h.8m-1.1 .6h.8m-.4 0h.8m-.8 .3h.8m-.7 .2h.8m-.4 1.2h.8m-1.7 .7h.8m-1.2 .4h.8m-.5 .2h.8m-.4 0h.8m-.8 .1h.8m-.6 .2h.8m-.9 .6h.8m-.4 2.2h.8m-.4 1.1h.8m-2.2 .1h.8m-.9 2.7h.8m-.1 .3h.8m-.3 0h.8m-1.3 .2h.8m.3 1.8h.8m-1.4 .1h.8m-1.7 1.2h.8m-.7 .9h.8m.2 .5h.8m-.7 .6h.8m-2.1 0h.8m-.5 1.8h.8m.3 .9h.8m-.8 .6h.8m-1.9 .5h.8m-1.1 .7h.8m.4 .6h.8m-2.2 .8h.8m.6 1.6h.8m-1.8 .5h.8m.1 .7h.8m-.4 .2h.8m-2.1 0h.8m-1.1 .6h.8m-.9 .6h.8m-.1 1.7h.8m-1.3 .1h.8m-.7 .3h.8m.2 1.8h.8m-1.1 .1h.8m-.8 .5h.8m-1.1 .3h.8m-.7 3.8h.8m.1 .1h.8m-.5-34.6h.8m.2 2h.8m-.2 .3h.8m-1.4 .4h.8m-1.1 .2h.8m-.2 .6h.8m-1.5 .6h.8m-.5 .6h.8m-.6 1.5h.8m-.6 .1h.8m-.5 .4h.8m-2.3 .7h.8m.4 .3h.8m-1.1 .8h.8m-.5 .9h.8m-2.1 .9h.8m.2 1.3h.8m-1.3 .3h.8m-.2 .3h.8m-.3 1.8h.8m-1 .1h.8m-2.1 .3h.8m-.3 .1h.8m.3 .9h.8m-2 1.9h.8m.3 1.5h.8m-1.9 .2h.8m-.4 2h.8m0 2.1h.8m-1.2 .4h.8m-.8 1.4h.8m-2.2 .1h.8m-.4 1.2h.8m.4 .8h.8m-1.3 .5h.8m-1.4 .5h.8m-.6 1h.8m.3 0h.8m-1.3 .7h.8m-1.6 .6h.8m-.1 .2h.8m-1.1 0h.8m.1 .4h.8m-1.6 .4h.8m-1.7 .7h.8m-.4 .3h.8m-.2 .4h.8m-1.8 0h.8m-.4 .1h.8m-1.3 .5h.8m.6 .6h.8m-.3 .1h.8m-.9 .1h.8m-.5-34.5h.8m.3 .6h.8m-.9 0h.8m-1.1 .8h.8m-.4 2.7h.8m-1.1 .5h.8m-1.7 1.5h.8m-.2 1.1h.8m-1.3 .7h.8m-.2 2h.8m-.1 0h.8m-1.8 1.3h.8m-.8 .5h.8m-.2 .2h.8m0 .7h.8m-.8 .5h.8m-1.8 1.1h.8m-1.2 1.6h.8m-.5 .1h.8m-1.3 2.1h.8m.3 2.6h.8m-.6 .9h.8m-1.5 .4h.8m-.2 1.4h.8m-.8 .2h.8m-2 1.2h.8m.9 1.4h.8m-1.5 .2h.8m-.4 .4h.8m-1.4 1.5h.8m-.5 .2h.8m-.6 .2h.8m-1.8 1.1h.8m-1 .7h.8m-.8 0h.8m-.2 .4h.8m-.4 .4h.8m-1.9 1.2h.8m-.4 .2h.8m2.1-33h.8m-1 1.5h.8m-1.8 .6h.8m-1 2.2h.8m.9 .1h.8m-1.3 .2h.8m-1.6 .8h.8m-1.1 1.5h.8m.8 2h.8m-2.2 1.1h.8m-.7 .7h.8m-.1 .3h.8m-1.3 1.7h.8m-1.5 2.9h.8m.9 .8h.8m-2.4 .9h.8m-.7 .5h.8m-.6 .2h.8m-.5 .9h.8m-1.5 .1h.8m1 .1h.8m-1 .2h.8m-2.1 .6h.8m0 .4h.8m-.3 .2h.8m-1.2 .6h.8m-2 3h.8m-.8 1.3h.8m0 .5h.8m0 .3h.8m-.9 .8h.8m-1.4 1.1h.8m-.9 .1h.8m-1.6 .3h.8m-.2 .1h.8m-1.2 .4h.8m-.5 .2h.8m-1.3 .8h.8m.1 .9h.8m-1 3.9h.8m.4 .6h.8m-1.7 .1h.8m-1.1 .4h.8m-.5 .5h.8m1.4-35.8h.8m-.4 .3h.8m-1.2 .1h.8m-1.7 .1h.8m.6 .5h.8m-1.4 .8h.8m-.9 1h.8m-.8 1.5h.8m-.3 .2h.8m-1.5 4h.8m-1.5 .5h.8m-.5 1.2h.8m.7 .5h.8m-1.8 .8h.8m-.9 1.6h.8m-.2 2.1h.8m-1.7 2h.8m-.2 .4h.8m0 1.6h.8m-1.1 .5h.8m-1.9 .9h.8m-.3 .2h.8m-.4 .2h.8m-2.2 .7h.8m0 .5h.8m0 1.3h.8m-1.7 .5h.8m-.4 .1h.8m-.5 3.7h.8m-.7 2.9h.8m-1 .1h.8m-1.5 1.1h.8m.1 1.9h.8m-1.8 .2h.8m0 .3h.8m-2.1 .6h.8m-.5 .3h.8m1.6-37.3h.8m-.5 1.5h.8m-.5 .8h.8m-1 .1h.8m-1.9 1.4h.8m1.1 .4h.8m-1.8 6.1h.8m-1.1 .7h.8m-.3 1.8h.8m-1.1 1.2h.8m-.8 2.5h.8m-.6 .1h.8m-.3 .6h.8m-1.7 .1h.8m-1.1 1.1h.8m.4 0h.8m-2.3 .8h.8m.9 .2h.8m-2.2 0h.8m-.6 3.2h.8m-.1 2.2h.8m-1.3 4.2h.8m-1.2 2.5h.8m.8 .5h.8m-2.4 1.8h.8m-.7 .7h.8m-1.2 .8h.8m2.3-35.2h.8m-1 .8h.8m-.6 0h.8m-.8 .4h.8m-.9 1.4h.8m-1.8 2.3h.8m1.1 .3h.8m-2.4 2.4h.8m.5 .5h.8m-1.1 3.3h.8m-1.3 .6h.8m-1.2 1.3h.8m-.2 1.6h.8m-.4 1.8h.8m-.6 1.1h.8m-.8 1.4h.8m-2.1 3.7h.8m.3 2h.8m-.5 5.6h.8m-.9 .1h.8m-1.9 2.1h.8m.1 1h.8m-.3 0h.8m-2.7 1.9h.8m.9 1.9h.8m.4-38.5h.8m-.9 3.5h.8m-.3 .1h.8m-1.6 .5h.8m-.9 .9h.8m-.1 .6h.8m-1.6 .5h.8m-.1 .1h.8m-.9 2.3h.8m-1.4 .6h.8m.6 1h.8m-1.5 2.2h.8m-.8 2.7h.8m-1.1 1.5h.8m-1.1 3.1h.8m-.7 1h.8m-1 1.4h.8m0 .6h.8m-1.8 2.7h.8m.6 2.2h.8m-.6 1.9h.8m-1.4 .4h.8m0 .1h.8m-1.1 2.8h.8m-2 .7h.8m-.7 .4h.8m.2 4.8h.8m-.6 .2h.8m.5-36.2h.8m-.6 3.4h.8m-.2 1.1h.8m-1.3 0h.8m-.6 .2h.8m-1.3 1.6h.8m-1.7 4.4h.8m-.6 1.2h.8m.2 0h.8m-.6 1.7h.8m-1 .4h.8m-1.8 .4h.8m0 .1h.8m0 .1h.8m-.9 .1h.8m-1.5 .6h.8m-1.7 .3h.8m0 5.1h.8m-1.2 3.8h.8m-.8 2.4h.8m-.5 .5h.8m-.5 .3h.8m-1.8 2.9h.8m-.1 .4h.8m.1 1.7h.8m-2.2 .3h.8m-.8 1.7h.8m2.7-38.1h.8m-.9 .3h.8m-2.4 3.1h.8m-.2 .7h.8m-.1 1.2h.8m-2.3 4.7h.8m-.7 1.5h.8m.8 0h.8m-2.4 .9h.8m-.9 1.7h.8m-.3 2h.8m-.4 3.4h.8m-.2 2.1h.8m-1.6 .5h.8m.4 .4h.8m-2.1 5.1h.8m-.8 .4h.8m.5 2.4h.8m-2.2 6.6h.8m1-31.1h.8m.5 2.6h.8m-1.7 .2h.8m-.3 1.7h.8m-.7 1.6h.8m-1.1 1.6h.8m-1.2 1.7h.8m-.9 2.2h.8m.2 .1h.8m-1.5 .6h.8m-.1 .6h.8m-.9 .3h.8m-.7 .4h.8m-2.3 .4h.8m-.2 1.3h.8m-.1 2.1h.8m-1.7 .4h.8m-.6 1.9h.8m-.2 .4h.8m-.3 2.3h.8m-1.2 .6h.8m-1.2 2.5h.8m-.8 1.8h.8m-.7 1.3h.8m-1.3 1.9h.8m.3 .1h.8m-1.4 .5h.8m-1.2 1h.8m-.8 .6h.8m1.5-39.2h.8m-1 1.4h.8m.2 1.9h.8m-.7 2.8h.8m-1.2 2.6h.8m-1.1 3.1h.8m-1 .1h.8m-.9 3.3h.8m0 1.3h.8m-2.2 1.5h.8m-1 3.6h.8m-.7 .8h.8m.1 .4h.8m-.5 5.2h.8m-1 3.1h.8m-1.5 1.1h.8m-1.2 .5h.8m-.6 .3h.8m-.6 2.3h.8m.2 1.9h.8m-.9 .7h.8m-.4 1.1h.8m.1-38.8h.8m-.3 1.7h.8m-.8 2.7h.8m-1.8 1.3h.8m-.7 .1h.8m.9 1.8h.8m-2.6 .7h.8m-.5 5.7h.8m-.5 .7h.8m-.5 3.2h.8m-.9 5.5h.8m-.4 1.6h.8m-.3 .5h.8m-1.8 .9h.8m-.9 .3h.8m-1.4 4.1h.8m-.5 3.1h.8m0 .5h.8m-2 .6h.8m0 4h.8m1.4-41.2h.8m-1.4 7.3h.8m.6 1.9h.8m-1.4 .8h.8m-.5 0h.8m-1.8 1.4h.8m-.4 .1h.8m-1.1 .9h.8m.3 5.3h.8m-.8 2.5h.8m-2.5 1.6h.8m-.2 .4h.8m-1.3 .7h.8m.5 3.7h.8m-2.1 6.7h.8m-.6 .2h.8m.6 1h.8m-.8 4.7h.8m-.8 1.6h.8m1.3-39.6h.8m-1.5 1.7h.8m-1.8 .6h.8m.5 1h.8m-2.1 1.6h.8m.1 .1h.8m-1.5 7h.8m0 4.7h.8m-1 .3h.8m-.7 .5h.8m-.8 .9h.8m-.3 1.4h.8m-1.6 .7h.8m-1.2 4.1h.8m-.7 4.2h.8m.3 .9h.8m-.4 1.3h.8m-1.3 2.8h.8m-1.9 3h.8m-.3 3.1h.8m.6-41.3h.8m-.1 4.3h.8m-.9 .1h.8m.2 .6h.8m-2.6 9.5h.8m.3 .8h.8m-1 .5h.8m-.3 1.1h.8m-1.3 2.2h.8m-1.1 2.4h.8m.3 4h.8m-.7 .3h.8m-1.6 1.6h.8m-.3 .8h.8m-.7 2h.8m-2 2.9h.8m.1 2.3h.8m-1.9 .7h.8m.8 1h.8m-2 3.3h.8m.6-37.6h.8m.6 9h.8m-1.1 4.3h.8m-.9 5.5h.8m-.9 2h.8m-.5 2h.8m-1.1 1.2h.8m-.8 2.4h.8m-1.7 .3h.8m-.5 1.3h.8m-.6 1.9h.8m-1.3 2.4h.8m3.1-35.8h.8m-.8 2.5h.8m-1.7 3.8h.8m-.7 .2h.8m-1 3.4h.8m-.9 6.3h.8m-.8 2h.8m-.2 8.2h.8m-1.7 .6h.8m-.9 7.5h.8m.5 .1h.8m-1.4 .3h.8m-1.5 2.3h.8m-1.1 .7h.8m1.4-33h.8m-.5 1.5h.8m-.8 1.5h.8m.4 2.4h.8m-.8 .1h.8m-2.5 .4h.8m-.8 5.2h.8m.4 2.2h.8m-1.2 4.7h.8m-1 2.5h.8m-.2 .4h.8m-.2 .1h.8m-2.6 2.6h.8m.2 .2h.8m-1.4 7.7h.8m-.8 3.8h.8m-1 1.3h.8m2-39.3h.8m-.1 2h.8m-.9 6.5h.8m-2 3h.8m-1 4.8h.8m.8 1.7h.8m-1.4 2.1h.8m-.8 3.5h.8m-.5 3.1h.8m-.5 .2h.8m-1.6 1.1h.8m-.6 .6h.8m-1.2 4.2h.8m-1.7 .3h.8m-.6 .1h.8m-.4 6.5h.8m1.4-38.7h.8m-.7 .5h.8m-1.5 3.5h.8m-.3 1h.8m-.9 3.5h.8m-1.1 1h.8m.7 3.1h.8m-1.9 1.8h.8m-.4 5.7h.8m-.2 4.4h.8m-1.7 .2h.8m-1.1 1.1h.8m-.5 4.8h.8m-.5 .6h.8m-1.6 1.4h.8m-.7 .4h.8m1-30.1h.8m-.4 3.2h.8m.1 2.6h.8m-1.1 5.1h.8m-.2 2.6h.8m-2.3 2.6h.8m.4 2.5h.8m-.9 3.7h.8m-1.5 .8h.8m0 3.6h.8m-.4 4.9h.8m.3-31.1h.8m-.2 3h.8m-.9 .3h.8m-.5 1.1h.8m-1.9 .4h.8m-.4 1.4h.8m-1.1 6.7h.8m-.7 1h.8m0 8.3h.8m-2.4 2.2h.8m.2 1.9h.8m-1.7 4.8h.8m.1 2.6h.8m1.1-36.3h.8m-.2 2h.8m-.7 1.5h.8m-1.4 3.4h.8m-.2 .7h.8m-.6 3.6h.8m-.9 .9h.8m-2.2 1.7h.8m-1 3.3h.8m.9 1.3h.8m-1.5 4.8h.8m-1.3 .2h.8m-1.5 2.6h.8m-.8 1.4h.8m.1 3.7h.8m-.5 1.2h.8m-1.2 1h.8m-1.6 2.1h.8m.2 .7h.8m.2-33.9h.8m-.8 .9h.8m-.5 .1h.8m-1.1 6.9h.8m.6 3.9h.8m-.8 1.5h.8m-2.1 2.4h.8m.7 .1h.8m-2.1 3h.8m.8 .3h.8m-2.7 2.6h.8m-.3 1.5h.8m-.6 1.3h.8m-.4 .5h.8m-.9 7.8h.8m.1 .3h.8m-2.2 1h.8m-.6 .4h.8m.6-40.3h.8m.4 3.1h.8m-1.7 5h.8m-.6 1.2h.8m-1.3 2.4h.8m-.4 1.9h.8m-.6 1.8h.8m.1 1.6h.8m-1.8 7h.8m-.4 .6h.8m-1.2 1.1h.8m-1.2 4.9h.8" stroke="#e8412f" stroke-width="0.8" fill="none"/>
<path d="M271.1 460.1h.8m-.1 0h.8m.1 0h.8m-1.3 0h.8m-.3 0h.8m-.5 0h.8m.7 .4h.8m-1.3 .1h.8m-.1 .5h.8m-1.2 .5h.8m.4 .3h.8m-.8 .1h.8m1.6 .8h.8m.4 .5h.8m-.1 .3h.8m-2.1 .4h.8m1-3.1h.8m-.5 .7h.8m1-1.4h.8m-.1 1.1h.8m-1.9 .2h.8m1 .8h.8m-1.3 1.9h.8m.7-3.6h.8m-.9 .2h.8m-1.5 .5h.8m-.5 .1h.8m-.4 .6h.8m-.3 .3h.8m-.1 5.5h.8m-.5-5.9h.8m.5 1.4h.8m-1.5 .8h.8m-1 2.5h.8m1.6-3.2h.8m-.3 3.4h.8m1.6-2.5h.8m-1 1.6h.8m-2.1 1.5h.8m.3 .6h.8m-.6 1.4h.8m3.4-.6h.8m.9-2.3h.8m-1.4 1.3h.8m3.4-3.8h.8m-1 1.5h.8m-1.7 .5h.8m8.1-5.8h.8m3 12.7h.8m4.2-6h.8" stroke="#5b97d6" stroke-width="0.8" fill="none"/>
<line x1="268" y1="403.5" x2="268" y2="502" stroke="#444" stroke-width="0.8"/>
<line x1="265.4" y1="404.2" x2="268" y2="404.2" stroke="#444" stroke-width="0.8"/>
<text x="264.7" y="406.7" font-size="7.1" text-anchor="end">4</text>
<line x1="265.4" y1="428.4" x2="268" y2="428.4" stroke="#444" stroke-width="0.8"/>
<text x="264.7" y="430.9" font-size="7.1" text-anchor="end">2</text>
<line x1="265.4" y1="452.6" x2="268" y2="452.6" stroke="#444" stroke-width="0.8"/>
<text x="264.7" y="455.1" font-size="7.1" text-anchor="end">0</text>
<line x1="265.4" y1="476.8" x2="268" y2="476.8" stroke="#444" stroke-width="0.8"/>
<text x="264.7" y="479.3" font-size="7.1" text-anchor="end">-2</text>
<line x1="265.4" y1="501" x2="268" y2="501" stroke="#444" stroke-width="0.8"/>
<text x="264.7" y="503.5" font-size="7.1" text-anchor="end">-4</text>
<line x1="268" y1="452.6" x2="369.8" y2="452.6" stroke="#222" stroke-width="0.8"/>
<line x1="369.8" y1="452.6" x2="369.8" y2="454.6" stroke="#222" stroke-width="0.8"/>
<text x="370.3" y="462.8" font-size="7.1" text-anchor="middle">10</text>
<text x="74.8" y="399.5" font-size="6.9" text-anchor="middle" font-weight="bold">8h vs 0h</text>
<text x="199.9" y="399.5" font-size="6.9" text-anchor="middle" font-weight="bold">24h vs 0h</text>
<text x="331" y="399.5" font-size="6.9" text-anchor="middle" font-weight="bold">72h vs 0h</text>
<text x="24.4" y="409.8" font-size="7.1" fill="#e0402e">Increased</text>
<text x="40.1" y="415.6" font-size="7.1" text-anchor="middle" fill="#e0402e">1447</text>
<text x="25" y="493.8" font-size="7.1" fill="#4a8ad2">Decreased</text>
<text x="41.6" y="499.5" font-size="7.1" text-anchor="middle" fill="#4a8ad2">374</text>
<text x="146.2" y="409.8" font-size="7.1" fill="#e0402e">Increased</text>
<text x="161.9" y="415.6" font-size="7.1" text-anchor="middle" fill="#e0402e">1813</text>
<text x="146.8" y="493.8" font-size="7.1" fill="#4a8ad2">Decreased</text>
<text x="163.4" y="499.5" font-size="7.1" text-anchor="middle" fill="#4a8ad2">277</text>
<text x="271" y="409.8" font-size="7.1" fill="#e0402e">Increased</text>
<text x="286.7" y="415.6" font-size="7.1" text-anchor="middle" fill="#e0402e">2777</text>
<text x="271.6" y="493.8" font-size="7.1" fill="#4a8ad2">Decreased</text>
<text x="288.2" y="499.5" font-size="7.1" text-anchor="middle" fill="#4a8ad2">50</text>
<text x="73" y="508.8" font-size="7.1" text-anchor="middle">Mean BRG1 CUT&amp;Tag</text>
<text x="73" y="514.9" font-size="7.1" text-anchor="middle">signal (CPB)</text>
<text x="202.4" y="508.8" font-size="7.1" text-anchor="middle">Mean BRG1 CUT&amp;Tag</text>
<text x="202.4" y="514.9" font-size="7.1" text-anchor="middle">signal (CPB)</text>
<text x="328.3" y="508.8" font-size="7.1" text-anchor="middle">Mean BRG1 CUT&amp;Tag</text>
<text x="328.3" y="514.9" font-size="7.1" text-anchor="middle">signal (CPB)</text>
<text x="6.8" y="453" font-size="7.1" text-anchor="middle" transform="rotate(-90 6.8 453)">BRG1 CUT&amp;Tag singal log<tspan font-size="4.5" dy="1.5">2</tspan><tspan dy="-1.5">ratio</tspan></text>
<text x="383" y="401.9" font-size="9.5" fill="#000" font-weight="bold">m</text>
<text x="384.9" y="435.5" font-size="7.1">Vehicle</text>
<text x="384.9" y="472.8" font-size="7.1">ACBI1</text>
<text x="384.9" y="478.9" font-size="7.1">0.5uM</text>
<rect x="410.8" y="417.4" width="42.6" height="34.4" fill="#0b1a1b"/>
<g fill="#32b8bc" opacity="0.8"><ellipse cx="448.1" cy="421.0" rx="1.6" ry="1.9"/><ellipse cx="439.0" cy="447.1" rx="1.7" ry="2.1"/><ellipse cx="429.5" cy="439.9" rx="1.5" ry="1.9"/><ellipse cx="449.0" cy="422.7" rx="1.7" ry="1.4"/><ellipse cx="441.5" cy="438.3" rx="1.6" ry="2.0"/><ellipse cx="412.8" cy="432.3" rx="1.5" ry="1.2"/></g>
<g fill="#2aa6aa" opacity="1.0"><ellipse cx="413.9" cy="420.5" rx="1.5" ry="1.2"/><ellipse cx="441.3" cy="436.5" rx="1.5" ry="1.2"/></g>
<g fill="#3fc8cc" opacity="0.7"><ellipse cx="435.7" cy="449.8" rx="1.6" ry="2.0"/><ellipse cx="428.8" cy="446.3" rx="2.1" ry="1.7"/><ellipse cx="444.0" cy="440.8" rx="1.4" ry="1.2"/><ellipse cx="427.0" cy="444.3" rx="1.6" ry="1.3"/></g>
<g fill="#32b8bc" opacity="0.6"><ellipse cx="416.4" cy="427.8" rx="1.6" ry="1.3"/><ellipse cx="446.1" cy="440.2" rx="1.3" ry="1.7"/><ellipse cx="421.6" cy="447.7" rx="1.5" ry="1.9"/></g>
<g fill="#2aa6aa" opacity="0.8"><ellipse cx="447.8" cy="435.2" rx="1.5" ry="1.9"/><ellipse cx="437.2" cy="442.0" rx="1.9" ry="1.5"/><ellipse cx="422.1" cy="438.3" rx="1.1" ry="1.4"/><ellipse cx="440.0" cy="440.3" rx="1.7" ry="1.3"/><ellipse cx="449.1" cy="421.1" rx="2.1" ry="1.7"/><ellipse cx="412.8" cy="426.2" rx="2.1" ry="1.7"/><ellipse cx="442.5" cy="427.0" rx="1.1" ry="1.4"/></g>
<g fill="#3fc8cc" opacity="0.9"><ellipse cx="451.7" cy="437.0" rx="1.5" ry="1.2"/><ellipse cx="430.3" cy="438.6" rx="1.7" ry="1.4"/><ellipse cx="451.1" cy="426.2" rx="1.4" ry="1.7"/><ellipse cx="418.2" cy="446.9" rx="2.1" ry="1.7"/></g>
<g fill="#3fc8cc" opacity="0.6"><ellipse cx="421.5" cy="431.2" rx="1.4" ry="1.7"/><ellipse cx="438.1" cy="437.5" rx="1.3" ry="1.7"/><ellipse cx="420.6" cy="429.1" rx="1.6" ry="1.3"/></g>
<g fill="#32b8bc" opacity="0.7"><ellipse cx="415.6" cy="449.4" rx="2.0" ry="1.6"/><ellipse cx="441.0" cy="439.8" rx="1.7" ry="1.3"/><ellipse cx="434.3" cy="431.1" rx="1.5" ry="1.2"/><ellipse cx="444.4" cy="433.8" rx="1.6" ry="1.3"/><ellipse cx="440.5" cy="430.2" rx="1.6" ry="2.0"/><ellipse cx="441.3" cy="428.7" rx="1.4" ry="1.7"/></g>
<g fill="#2aa6aa" opacity="0.9"><ellipse cx="446.7" cy="439.6" rx="1.2" ry="1.4"/><ellipse cx="413.7" cy="444.3" rx="1.7" ry="2.1"/><ellipse cx="450.8" cy="433.6" rx="1.4" ry="1.7"/><ellipse cx="439.2" cy="449.9" rx="1.7" ry="2.1"/></g>
<g fill="#32b8bc" opacity="0.9"><ellipse cx="421.1" cy="434.3" rx="1.6" ry="1.9"/><ellipse cx="448.1" cy="436.1" rx="1.9" ry="1.5"/><ellipse cx="437.2" cy="431.8" rx="1.5" ry="1.8"/><ellipse cx="429.8" cy="447.3" rx="1.7" ry="2.1"/><ellipse cx="430.0" cy="433.1" rx="1.9" ry="1.5"/></g>
<g fill="#3fc8cc" opacity="1.0"><ellipse cx="412.8" cy="423.1" rx="1.1" ry="1.4"/><ellipse cx="428.0" cy="435.9" rx="1.2" ry="1.4"/><ellipse cx="431.1" cy="443.3" rx="1.7" ry="2.1"/><ellipse cx="433.0" cy="448.6" rx="1.6" ry="1.9"/></g>
<g fill="#2aa6aa" opacity="0.7"><ellipse cx="422.8" cy="447.2" rx="2.0" ry="1.6"/><ellipse cx="448.3" cy="420.4" rx="2.0" ry="1.6"/><ellipse cx="445.3" cy="429.4" rx="1.2" ry="1.5"/><ellipse cx="441.1" cy="430.7" rx="1.6" ry="1.3"/></g>
<g fill="#3fc8cc" opacity="0.8"><ellipse cx="433.7" cy="449.0" rx="1.9" ry="1.5"/><ellipse cx="433.4" cy="445.4" rx="1.7" ry="2.1"/><ellipse cx="418.3" cy="441.7" rx="1.6" ry="1.3"/><ellipse cx="427.6" cy="441.0" rx="1.7" ry="1.4"/><ellipse cx="451.1" cy="419.4" rx="1.6" ry="2.0"/></g>
<g fill="#2aa6aa" opacity="0.6"><ellipse cx="440.9" cy="450.0" rx="2.2" ry="1.7"/><ellipse cx="445.5" cy="438.4" rx="1.7" ry="2.1"/><ellipse cx="435.6" cy="430.9" rx="1.9" ry="1.5"/><ellipse cx="424.9" cy="443.7" rx="1.2" ry="1.5"/></g>
<g fill="#32b8bc" opacity="1.0"><ellipse cx="428.2" cy="432.3" rx="1.6" ry="1.3"/></g>
<rect x="455.8" y="417.4" width="42.2" height="34.4" fill="#4a1012"/>
<g fill="#c82a2c" opacity="0.8"><ellipse cx="492.7" cy="421.0" rx="1.6" ry="1.9"/><ellipse cx="483.8" cy="447.1" rx="1.7" ry="2.1"/><ellipse cx="474.4" cy="439.9" rx="1.5" ry="1.9"/><ellipse cx="493.6" cy="422.7" rx="1.7" ry="1.4"/><ellipse cx="486.2" cy="438.3" rx="1.6" ry="2.0"/><ellipse cx="457.8" cy="432.3" rx="1.5" ry="1.2"/></g>
<g fill="#b02024" opacity="1.0"><ellipse cx="458.9" cy="420.5" rx="1.5" ry="1.2"/><ellipse cx="486.0" cy="436.5" rx="1.5" ry="1.2"/></g>
<g fill="#d83a3a" opacity="0.7"><ellipse cx="480.4" cy="449.8" rx="1.6" ry="2.0"/><ellipse cx="473.6" cy="446.3" rx="2.1" ry="1.7"/><ellipse cx="488.7" cy="440.8" rx="1.4" ry="1.2"/><ellipse cx="471.8" cy="444.3" rx="1.6" ry="1.3"/></g>
<g fill="#c82a2c" opacity="0.6"><ellipse cx="461.4" cy="427.8" rx="1.6" ry="1.3"/><ellipse cx="490.8" cy="440.2" rx="1.3" ry="1.7"/><ellipse cx="466.5" cy="447.7" rx="1.5" ry="1.9"/></g>
<g fill="#b02024" opacity="0.8"><ellipse cx="492.5" cy="435.2" rx="1.5" ry="1.9"/><ellipse cx="481.9" cy="442.0" rx="1.9" ry="1.5"/><ellipse cx="467.0" cy="438.3" rx="1.1" ry="1.4"/><ellipse cx="484.7" cy="440.3" rx="1.7" ry="1.3"/><ellipse cx="493.7" cy="421.1" rx="2.1" ry="1.7"/><ellipse cx="457.7" cy="426.2" rx="2.1" ry="1.7"/><ellipse cx="487.2" cy="427.0" rx="1.1" ry="1.4"/></g>
<g fill="#d83a3a" opacity="0.9"><ellipse cx="496.3" cy="437.0" rx="1.5" ry="1.2"/><ellipse cx="475.2" cy="438.6" rx="1.7" ry="1.4"/><ellipse cx="495.7" cy="426.2" rx="1.4" ry="1.7"/><ellipse cx="463.1" cy="446.9" rx="2.1" ry="1.7"/></g>
<g fill="#d83a3a" opacity="0.6"><ellipse cx="466.4" cy="431.2" rx="1.4" ry="1.7"/><ellipse cx="482.8" cy="437.5" rx="1.3" ry="1.7"/><ellipse cx="465.6" cy="429.1" rx="1.6" ry="1.3"/></g>
<g fill="#c82a2c" opacity="0.7"><ellipse cx="460.6" cy="449.4" rx="2.0" ry="1.6"/><ellipse cx="485.7" cy="439.8" rx="1.7" ry="1.3"/><ellipse cx="479.1" cy="431.1" rx="1.5" ry="1.2"/><ellipse cx="489.0" cy="433.8" rx="1.6" ry="1.3"/><ellipse cx="485.2" cy="430.2" rx="1.6" ry="2.0"/><ellipse cx="486.0" cy="428.7" rx="1.4" ry="1.7"/></g>
<g fill="#b02024" opacity="0.9"><ellipse cx="491.3" cy="439.6" rx="1.2" ry="1.4"/><ellipse cx="458.7" cy="444.3" rx="1.7" ry="2.1"/><ellipse cx="495.4" cy="433.6" rx="1.4" ry="1.7"/><ellipse cx="483.9" cy="449.9" rx="1.7" ry="2.1"/></g>
<g fill="#c82a2c" opacity="0.9"><ellipse cx="466.0" cy="434.3" rx="1.6" ry="1.9"/><ellipse cx="492.7" cy="436.1" rx="1.9" ry="1.5"/><ellipse cx="481.9" cy="431.8" rx="1.5" ry="1.8"/><ellipse cx="474.6" cy="447.3" rx="1.7" ry="2.1"/><ellipse cx="474.8" cy="433.1" rx="1.9" ry="1.5"/></g>
<g fill="#d83a3a" opacity="1.0"><ellipse cx="457.8" cy="423.1" rx="1.1" ry="1.4"/><ellipse cx="472.8" cy="435.9" rx="1.2" ry="1.4"/><ellipse cx="475.9" cy="443.3" rx="1.7" ry="2.1"/><ellipse cx="477.8" cy="448.6" rx="1.6" ry="1.9"/></g>
<g fill="#b02024" opacity="0.7"><ellipse cx="467.7" cy="447.2" rx="2.0" ry="1.6"/><ellipse cx="493.0" cy="420.4" rx="2.0" ry="1.6"/><ellipse cx="489.9" cy="429.4" rx="1.2" ry="1.5"/><ellipse cx="485.8" cy="430.7" rx="1.6" ry="1.3"/></g>
<g fill="#d83a3a" opacity="0.8"><ellipse cx="478.4" cy="449.0" rx="1.9" ry="1.5"/><ellipse cx="478.2" cy="445.4" rx="1.7" ry="2.1"/><ellipse cx="463.2" cy="441.7" rx="1.6" ry="1.3"/><ellipse cx="472.4" cy="441.0" rx="1.7" ry="1.4"/><ellipse cx="495.7" cy="419.4" rx="1.6" ry="2.0"/></g>
<g fill="#b02024" opacity="0.6"><ellipse cx="485.6" cy="450.0" rx="2.2" ry="1.7"/><ellipse cx="490.2" cy="438.4" rx="1.7" ry="2.1"/><ellipse cx="480.4" cy="430.9" rx="1.9" ry="1.5"/><ellipse cx="469.7" cy="443.7" rx="1.2" ry="1.5"/></g>
<g fill="#c82a2c" opacity="1.0"><ellipse cx="473.1" cy="432.3" rx="1.6" ry="1.3"/></g>
<ellipse cx="490" cy="425" rx="6" ry="5" fill="#8a1c1e" opacity="0.45"/>
<rect x="500.9" y="417.4" width="42.6" height="34.4" fill="#1c0d0e"/>
<g fill="#e6a6a6" opacity="0.8"><ellipse cx="538.2" cy="421.0" rx="1.6" ry="1.9"/><ellipse cx="529.1" cy="447.1" rx="1.7" ry="2.1"/><ellipse cx="519.6" cy="439.9" rx="1.5" ry="1.9"/><ellipse cx="539.1" cy="422.7" rx="1.7" ry="1.4"/><ellipse cx="531.6" cy="438.3" rx="1.6" ry="2.0"/><ellipse cx="502.9" cy="432.3" rx="1.5" ry="1.2"/></g>
<g fill="#d89090" opacity="1.0"><ellipse cx="504.0" cy="420.5" rx="1.5" ry="1.2"/><ellipse cx="531.4" cy="436.5" rx="1.5" ry="1.2"/></g>
<g fill="#f0c0c0" opacity="0.7"><ellipse cx="525.8" cy="449.8" rx="1.6" ry="2.0"/><ellipse cx="518.9" cy="446.3" rx="2.1" ry="1.7"/><ellipse cx="534.1" cy="440.8" rx="1.4" ry="1.2"/><ellipse cx="517.1" cy="444.3" rx="1.6" ry="1.3"/></g>
<g fill="#e6a6a6" opacity="0.6"><ellipse cx="506.5" cy="427.8" rx="1.6" ry="1.3"/><ellipse cx="536.2" cy="440.2" rx="1.3" ry="1.7"/><ellipse cx="511.7" cy="447.7" rx="1.5" ry="1.9"/></g>
<g fill="#d89090" opacity="0.8"><ellipse cx="537.9" cy="435.2" rx="1.5" ry="1.9"/><ellipse cx="527.3" cy="442.0" rx="1.9" ry="1.5"/><ellipse cx="512.2" cy="438.3" rx="1.1" ry="1.4"/><ellipse cx="530.1" cy="440.3" rx="1.7" ry="1.3"/><ellipse cx="539.2" cy="421.1" rx="2.1" ry="1.7"/><ellipse cx="502.9" cy="426.2" rx="2.1" ry="1.7"/><ellipse cx="532.6" cy="427.0" rx="1.1" ry="1.4"/></g>
<g fill="#f0c0c0" opacity="0.9"><ellipse cx="541.8" cy="437.0" rx="1.5" ry="1.2"/><ellipse cx="520.4" cy="438.6" rx="1.7" ry="1.4"/><ellipse cx="541.2" cy="426.2" rx="1.4" ry="1.7"/><ellipse cx="508.3" cy="446.9" rx="2.1" ry="1.7"/></g>
<g fill="#f0c0c0" opacity="0.6"><ellipse cx="511.6" cy="431.2" rx="1.4" ry="1.7"/><ellipse cx="528.2" cy="437.5" rx="1.3" ry="1.7"/><ellipse cx="510.7" cy="429.1" rx="1.6" ry="1.3"/></g>
<g fill="#e6a6a6" opacity="0.7"><ellipse cx="505.7" cy="449.4" rx="2.0" ry="1.6"/><ellipse cx="531.1" cy="439.8" rx="1.7" ry="1.3"/><ellipse cx="524.4" cy="431.1" rx="1.5" ry="1.2"/><ellipse cx="534.5" cy="433.8" rx="1.6" ry="1.3"/><ellipse cx="530.6" cy="430.2" rx="1.6" ry="2.0"/><ellipse cx="531.4" cy="428.7" rx="1.4" ry="1.7"/></g>
<g fill="#d89090" opacity="0.9"><ellipse cx="536.8" cy="439.6" rx="1.2" ry="1.4"/><ellipse cx="503.8" cy="444.3" rx="1.7" ry="2.1"/><ellipse cx="540.9" cy="433.6" rx="1.4" ry="1.7"/><ellipse cx="529.3" cy="449.9" rx="1.7" ry="2.1"/></g>
<g fill="#e6a6a6" opacity="0.9"><ellipse cx="511.2" cy="434.3" rx="1.6" ry="1.9"/><ellipse cx="538.2" cy="436.1" rx="1.9" ry="1.5"/><ellipse cx="527.3" cy="431.8" rx="1.5" ry="1.8"/><ellipse cx="519.9" cy="447.3" rx="1.7" ry="2.1"/><ellipse cx="520.1" cy="433.1" rx="1.9" ry="1.5"/></g>
<g fill="#f0c0c0" opacity="1.0"><ellipse cx="502.9" cy="423.1" rx="1.1" ry="1.4"/><ellipse cx="518.1" cy="435.9" rx="1.2" ry="1.4"/><ellipse cx="521.2" cy="443.3" rx="1.7" ry="2.1"/><ellipse cx="523.1" cy="448.6" rx="1.6" ry="1.9"/></g>
<g fill="#d89090" opacity="0.7"><ellipse cx="512.9" cy="447.2" rx="2.0" ry="1.6"/><ellipse cx="538.4" cy="420.4" rx="2.0" ry="1.6"/><ellipse cx="535.4" cy="429.4" rx="1.2" ry="1.5"/><ellipse cx="531.2" cy="430.7" rx="1.6" ry="1.3"/></g>
<g fill="#f0c0c0" opacity="0.8"><ellipse cx="523.8" cy="449.0" rx="1.9" ry="1.5"/><ellipse cx="523.5" cy="445.4" rx="1.7" ry="2.1"/><ellipse cx="508.4" cy="441.7" rx="1.6" ry="1.3"/><ellipse cx="517.7" cy="441.0" rx="1.7" ry="1.4"/><ellipse cx="541.2" cy="419.4" rx="1.6" ry="2.0"/></g>
<g fill="#d89090" opacity="0.6"><ellipse cx="531.0" cy="450.0" rx="2.2" ry="1.7"/><ellipse cx="535.6" cy="438.4" rx="1.7" ry="2.1"/><ellipse cx="525.7" cy="430.9" rx="1.9" ry="1.5"/><ellipse cx="515.0" cy="443.7" rx="1.2" ry="1.5"/></g>
<g fill="#e6a6a6" opacity="1.0"><ellipse cx="518.3" cy="432.3" rx="1.6" ry="1.3"/></g>
<ellipse cx="535" cy="425" rx="6" ry="5" fill="#8a1c1e" opacity="0.45"/><rect x="536.5" y="421.5" width="1.5" height="2.2" fill="#8dd"/>
<rect x="410.8" y="454.5" width="42.6" height="35.2" fill="#0a1819"/>
<g fill="#35bcc0" opacity="0.7"><ellipse cx="418.6" cy="474.4" rx="1.1" ry="1.4"/><ellipse cx="430.3" cy="478.7" rx="1.3" ry="1.1"/><ellipse cx="422.3" cy="466.8" rx="1.2" ry="1.5"/><ellipse cx="435.3" cy="471.0" rx="1.0" ry="1.2"/><ellipse cx="434.8" cy="460.8" rx="1.5" ry="1.2"/><ellipse cx="446.1" cy="456.6" rx="1.0" ry="1.2"/><ellipse cx="426.8" cy="465.2" rx="0.9" ry="1.1"/><ellipse cx="451.5" cy="475.9" rx="1.5" ry="1.2"/><ellipse cx="438.9" cy="479.1" rx="1.2" ry="1.5"/><ellipse cx="430.7" cy="473.0" rx="1.4" ry="1.7"/><ellipse cx="430.6" cy="479.9" rx="1.6" ry="1.3"/><ellipse cx="423.5" cy="464.2" rx="1.2" ry="0.9"/><ellipse cx="418.4" cy="466.3" rx="0.9" ry="1.1"/><ellipse cx="429.7" cy="479.3" rx="1.1" ry="1.4"/><ellipse cx="432.3" cy="484.8" rx="1.4" ry="1.1"/></g>
<g fill="#2aa8ac" opacity="0.7"><ellipse cx="438.9" cy="482.7" rx="1.5" ry="1.2"/><ellipse cx="431.9" cy="468.4" rx="1.4" ry="1.8"/><ellipse cx="412.4" cy="481.6" rx="1.1" ry="0.9"/><ellipse cx="417.0" cy="465.2" rx="0.9" ry="1.1"/><ellipse cx="432.9" cy="487.6" rx="1.1" ry="1.3"/><ellipse cx="429.8" cy="462.0" rx="1.3" ry="1.6"/><ellipse cx="428.5" cy="468.7" rx="1.3" ry="1.1"/><ellipse cx="442.9" cy="460.8" rx="1.4" ry="1.1"/><ellipse cx="413.6" cy="471.9" rx="1.5" ry="1.8"/><ellipse cx="444.8" cy="470.3" rx="1.4" ry="1.7"/><ellipse cx="425.5" cy="474.4" rx="1.2" ry="1.5"/><ellipse cx="419.7" cy="468.6" rx="1.5" ry="1.9"/><ellipse cx="432.9" cy="484.1" rx="1.2" ry="1.5"/><ellipse cx="413.4" cy="481.7" rx="1.0" ry="1.2"/><ellipse cx="415.6" cy="480.2" rx="1.3" ry="1.1"/><ellipse cx="424.9" cy="464.8" rx="1.2" ry="1.4"/></g>
<g fill="#44cdd0" opacity="0.8"><ellipse cx="436.1" cy="485.4" rx="1.1" ry="1.4"/><ellipse cx="423.5" cy="468.0" rx="1.7" ry="1.4"/><ellipse cx="437.4" cy="464.3" rx="1.1" ry="1.4"/><ellipse cx="419.9" cy="485.7" rx="1.2" ry="1.6"/><ellipse cx="415.9" cy="466.1" rx="1.3" ry="1.0"/><ellipse cx="424.6" cy="476.2" rx="1.3" ry="1.7"/><ellipse cx="420.8" cy="480.5" rx="1.3" ry="1.7"/></g>
<g fill="#35bcc0" opacity="0.8"><ellipse cx="418.3" cy="457.3" rx="1.3" ry="1.0"/><ellipse cx="438.6" cy="473.2" rx="1.5" ry="1.9"/><ellipse cx="449.6" cy="466.9" rx="1.9" ry="1.5"/><ellipse cx="432.1" cy="476.9" rx="1.8" ry="1.5"/><ellipse cx="444.8" cy="460.8" rx="1.2" ry="0.9"/><ellipse cx="431.0" cy="474.3" rx="1.0" ry="1.2"/><ellipse cx="420.9" cy="465.4" rx="1.0" ry="1.2"/><ellipse cx="451.8" cy="471.7" rx="1.6" ry="1.3"/><ellipse cx="421.5" cy="481.5" rx="1.8" ry="1.5"/><ellipse cx="449.1" cy="458.5" rx="1.4" ry="1.1"/></g>
<g fill="#2aa8ac" opacity="1.0"><ellipse cx="412.6" cy="470.8" rx="1.4" ry="1.8"/><ellipse cx="420.0" cy="457.7" rx="1.4" ry="1.1"/><ellipse cx="420.4" cy="460.8" rx="1.2" ry="0.9"/><ellipse cx="436.9" cy="471.4" rx="1.5" ry="1.9"/></g>
<g fill="#44cdd0" opacity="0.6"><ellipse cx="425.2" cy="467.8" rx="1.6" ry="1.3"/><ellipse cx="426.0" cy="471.6" rx="1.4" ry="1.1"/><ellipse cx="435.2" cy="462.1" rx="1.9" ry="1.5"/><ellipse cx="421.5" cy="462.0" rx="1.1" ry="0.9"/><ellipse cx="423.3" cy="472.2" rx="1.0" ry="1.3"/><ellipse cx="440.6" cy="468.8" rx="1.6" ry="1.3"/><ellipse cx="419.3" cy="470.4" rx="1.4" ry="1.7"/><ellipse cx="441.7" cy="474.5" rx="1.5" ry="1.2"/><ellipse cx="448.9" cy="461.1" rx="1.2" ry="1.0"/><ellipse cx="426.0" cy="468.9" rx="1.6" ry="1.3"/></g>
<g fill="#2aa8ac" opacity="0.9"><ellipse cx="442.0" cy="482.0" rx="1.7" ry="1.3"/><ellipse cx="446.6" cy="474.1" rx="1.2" ry="1.6"/><ellipse cx="429.0" cy="487.5" rx="1.2" ry="1.0"/><ellipse cx="422.7" cy="479.0" rx="1.4" ry="1.7"/><ellipse cx="428.6" cy="462.8" rx="1.4" ry="1.7"/><ellipse cx="428.2" cy="473.9" rx="1.8" ry="1.4"/><ellipse cx="433.2" cy="481.5" rx="1.8" ry="1.5"/></g>
<g fill="#44cdd0" opacity="0.7"><ellipse cx="449.2" cy="464.8" rx="1.3" ry="1.6"/><ellipse cx="413.1" cy="478.1" rx="1.3" ry="1.6"/><ellipse cx="434.6" cy="484.1" rx="1.2" ry="0.9"/><ellipse cx="423.8" cy="461.6" rx="1.4" ry="1.1"/><ellipse cx="413.8" cy="463.6" rx="1.2" ry="0.9"/><ellipse cx="422.8" cy="483.6" rx="1.3" ry="1.6"/><ellipse cx="434.2" cy="475.3" rx="1.8" ry="1.5"/><ellipse cx="435.9" cy="458.7" rx="1.8" ry="1.4"/><ellipse cx="429.2" cy="460.1" rx="1.5" ry="1.8"/><ellipse cx="422.7" cy="474.7" rx="1.3" ry="1.1"/></g>
<g fill="#35bcc0" opacity="0.9"><ellipse cx="419.0" cy="462.0" rx="1.0" ry="1.2"/><ellipse cx="444.0" cy="466.3" rx="1.1" ry="1.4"/><ellipse cx="429.9" cy="460.4" rx="1.7" ry="1.4"/><ellipse cx="435.0" cy="483.0" rx="1.7" ry="1.3"/><ellipse cx="439.1" cy="485.9" rx="1.0" ry="1.3"/><ellipse cx="436.1" cy="479.4" rx="1.7" ry="1.4"/><ellipse cx="427.8" cy="477.1" rx="1.6" ry="1.3"/><ellipse cx="420.2" cy="473.9" rx="1.0" ry="1.3"/><ellipse cx="440.0" cy="484.5" rx="1.8" ry="1.5"/><ellipse cx="425.8" cy="486.2" rx="1.2" ry="1.5"/><ellipse cx="431.2" cy="472.3" rx="0.9" ry="1.1"/></g>
<g fill="#44cdd0" opacity="0.9"><ellipse cx="447.4" cy="463.6" rx="1.2" ry="1.5"/><ellipse cx="434.9" cy="473.5" rx="1.9" ry="1.5"/><ellipse cx="415.6" cy="465.7" rx="1.3" ry="1.6"/><ellipse cx="415.6" cy="472.5" rx="1.2" ry="1.6"/><ellipse cx="422.6" cy="478.6" rx="1.2" ry="1.0"/><ellipse cx="434.2" cy="474.4" rx="1.6" ry="1.3"/><ellipse cx="437.4" cy="461.0" rx="1.2" ry="1.5"/><ellipse cx="421.0" cy="458.6" rx="1.0" ry="1.3"/><ellipse cx="437.5" cy="462.1" rx="1.4" ry="1.1"/><ellipse cx="432.7" cy="480.7" rx="1.3" ry="1.6"/><ellipse cx="440.5" cy="468.7" rx="1.3" ry="1.0"/><ellipse cx="412.7" cy="476.0" rx="1.4" ry="1.7"/></g>
<g fill="#2aa8ac" opacity="0.6"><ellipse cx="451.2" cy="478.1" rx="1.3" ry="1.0"/><ellipse cx="440.5" cy="479.2" rx="1.2" ry="1.6"/><ellipse cx="413.2" cy="483.3" rx="1.5" ry="1.2"/></g>
<g fill="#2aa8ac" opacity="0.8"><ellipse cx="414.0" cy="463.2" rx="1.4" ry="1.8"/><ellipse cx="443.0" cy="471.0" rx="1.5" ry="1.2"/><ellipse cx="428.2" cy="462.6" rx="1.7" ry="1.3"/><ellipse cx="426.5" cy="478.8" rx="1.3" ry="1.7"/><ellipse cx="444.0" cy="471.8" rx="1.7" ry="1.3"/><ellipse cx="423.8" cy="479.7" rx="1.5" ry="1.2"/><ellipse cx="429.4" cy="475.8" rx="1.2" ry="1.0"/><ellipse cx="443.1" cy="472.8" rx="1.3" ry="1.1"/><ellipse cx="413.9" cy="485.6" rx="1.7" ry="1.4"/><ellipse cx="426.2" cy="480.1" rx="1.3" ry="1.6"/><ellipse cx="428.0" cy="479.2" rx="1.9" ry="1.5"/><ellipse cx="433.8" cy="459.0" rx="1.1" ry="1.4"/><ellipse cx="449.2" cy="465.2" rx="1.7" ry="1.4"/></g>
<g fill="#35bcc0" opacity="0.6"><ellipse cx="432.9" cy="463.3" rx="1.2" ry="1.5"/><ellipse cx="424.8" cy="476.8" rx="1.1" ry="0.9"/><ellipse cx="433.7" cy="478.1" rx="1.2" ry="1.5"/><ellipse cx="448.2" cy="464.1" rx="1.4" ry="1.7"/><ellipse cx="423.9" cy="484.3" rx="1.7" ry="1.4"/></g>
<g fill="#44cdd0" opacity="1.0"><ellipse cx="430.8" cy="484.8" rx="1.4" ry="1.7"/><ellipse cx="433.8" cy="482.4" rx="1.1" ry="1.4"/><ellipse cx="437.8" cy="485.7" rx="1.2" ry="1.5"/><ellipse cx="424.7" cy="488.1" rx="1.4" ry="1.8"/></g>
<g fill="#35bcc0" opacity="1.0"><ellipse cx="419.4" cy="486.4" rx="1.0" ry="1.3"/><ellipse cx="422.0" cy="487.1" rx="1.4" ry="1.1"/><ellipse cx="422.7" cy="469.4" rx="1.4" ry="1.1"/></g>
<rect x="455.8" y="454.5" width="42.2" height="35.2" fill="#461012"/>
<g><circle cx="486.0" cy="478.4" r="2.1" fill="#6a181c" opacity="0.45"/><circle cx="459.2" cy="478.3" r="2.1" fill="#6a181c" opacity="0.45"/><circle cx="475.8" cy="466.7" r="1.8" fill="#6a181c" opacity="0.45"/><circle cx="486.0" cy="459.2" r="1.3" fill="#6a181c" opacity="0.45"/><circle cx="482.3" cy="456.9" r="1.2" fill="#6a181c" opacity="0.45"/><circle cx="469.6" cy="462.5" r="2.0" fill="#6a181c" opacity="0.45"/><circle cx="488.7" cy="461.2" r="1.3" fill="#6a181c" opacity="0.45"/><circle cx="471.6" cy="473.0" r="1.7" fill="#6a181c" opacity="0.45"/><circle cx="472.0" cy="469.7" r="1.6" fill="#6a181c" opacity="0.45"/><circle cx="467.8" cy="476.0" r="1.5" fill="#6a181c" opacity="0.45"/><circle cx="473.5" cy="472.4" r="1.5" fill="#6a181c" opacity="0.45"/><circle cx="470.2" cy="463.5" r="1.5" fill="#6a181c" opacity="0.45"/><circle cx="465.9" cy="465.1" r="1.9" fill="#6a181c" opacity="0.45"/><circle cx="462.6" cy="475.9" r="1.7" fill="#6a181c" opacity="0.45"/><circle cx="464.4" cy="466.3" r="1.5" fill="#6a181c" opacity="0.45"/><circle cx="469.1" cy="459.2" r="1.8" fill="#6a181c" opacity="0.45"/><circle cx="481.3" cy="460.9" r="1.3" fill="#6a181c" opacity="0.45"/><circle cx="476.0" cy="468.3" r="1.3" fill="#6a181c" opacity="0.45"/><circle cx="460.9" cy="487.9" r="2.0" fill="#6a181c" opacity="0.45"/><circle cx="481.3" cy="469.5" r="2.1" fill="#6a181c" opacity="0.45"/><circle cx="479.7" cy="475.2" r="1.5" fill="#6a181c" opacity="0.45"/><circle cx="479.4" cy="477.2" r="2.0" fill="#6a181c" opacity="0.45"/><circle cx="484.7" cy="484.6" r="1.3" fill="#6a181c" opacity="0.45"/><circle cx="493.8" cy="474.8" r="1.5" fill="#6a181c" opacity="0.45"/><circle cx="487.5" cy="459.6" r="1.3" fill="#6a181c" opacity="0.45"/><circle cx="496.6" cy="482.6" r="2.1" fill="#6a181c" opacity="0.45"/><circle cx="467.4" cy="469.6" r="1.5" fill="#6a181c" opacity="0.45"/><circle cx="494.5" cy="486.7" r="2.0" fill="#6a181c" opacity="0.45"/><circle cx="458.1" cy="463.2" r="1.9" fill="#6a181c" opacity="0.45"/><circle cx="472.4" cy="458.8" r="2.2" fill="#6a181c" opacity="0.45"/><circle cx="462.5" cy="458.6" r="1.8" fill="#6a181c" opacity="0.45"/><circle cx="466.0" cy="465.9" r="1.5" fill="#6a181c" opacity="0.45"/><circle cx="474.5" cy="475.5" r="2.0" fill="#6a181c" opacity="0.45"/><circle cx="475.5" cy="477.9" r="1.9" fill="#6a181c" opacity="0.45"/><circle cx="474.9" cy="459.5" r="2.1" fill="#6a181c" opacity="0.45"/><circle cx="472.0" cy="485.5" r="1.7" fill="#6a181c" opacity="0.45"/><circle cx="483.3" cy="480.4" r="1.6" fill="#6a181c" opacity="0.45"/><circle cx="466.6" cy="481.7" r="2.1" fill="#6a181c" opacity="0.45"/><circle cx="466.9" cy="465.2" r="1.4" fill="#6a181c" opacity="0.45"/><circle cx="458.4" cy="466.9" r="1.6" fill="#6a181c" opacity="0.45"/><circle cx="492.2" cy="466.6" r="1.9" fill="#6a181c" opacity="0.45"/><circle cx="477.5" cy="480.6" r="1.4" fill="#6a181c" opacity="0.45"/><circle cx="466.4" cy="459.5" r="1.8" fill="#6a181c" opacity="0.45"/><circle cx="480.1" cy="482.6" r="1.4" fill="#6a181c" opacity="0.45"/><circle cx="494.5" cy="464.8" r="2.1" fill="#6a181c" opacity="0.45"/><circle cx="472.2" cy="458.8" r="1.9" fill="#6a181c" opacity="0.45"/><circle cx="494.6" cy="486.4" r="1.5" fill="#6a181c" opacity="0.45"/><circle cx="492.3" cy="486.2" r="1.4" fill="#6a181c" opacity="0.45"/><circle cx="495.7" cy="460.2" r="1.3" fill="#6a181c" opacity="0.45"/><circle cx="459.5" cy="465.6" r="1.5" fill="#6a181c" opacity="0.45"/><circle cx="483.0" cy="474.6" r="1.8" fill="#6a181c" opacity="0.45"/><circle cx="494.3" cy="463.6" r="1.7" fill="#6a181c" opacity="0.45"/><circle cx="460.6" cy="464.9" r="1.7" fill="#6a181c" opacity="0.45"/><circle cx="495.4" cy="482.5" r="1.9" fill="#6a181c" opacity="0.45"/><circle cx="481.2" cy="477.9" r="1.6" fill="#6a181c" opacity="0.45"/><circle cx="459.6" cy="479.0" r="1.4" fill="#6a181c" opacity="0.45"/><circle cx="465.1" cy="463.8" r="2.0" fill="#6a181c" opacity="0.45"/><circle cx="476.2" cy="480.5" r="1.9" fill="#6a181c" opacity="0.45"/><circle cx="496.2" cy="487.8" r="1.6" fill="#6a181c" opacity="0.45"/><circle cx="496.3" cy="465.7" r="1.8" fill="#6a181c" opacity="0.45"/></g>
<rect x="500.9" y="454.5" width="42.6" height="35.2" fill="#081616"/>
<g fill="#35bcc0" opacity="0.7"><ellipse cx="508.7" cy="474.4" rx="1.1" ry="1.4"/><ellipse cx="520.4" cy="478.7" rx="1.3" ry="1.1"/><ellipse cx="512.4" cy="466.8" rx="1.2" ry="1.5"/><ellipse cx="525.4" cy="471.0" rx="1.0" ry="1.2"/><ellipse cx="524.9" cy="460.8" rx="1.5" ry="1.2"/><ellipse cx="536.2" cy="456.6" rx="1.0" ry="1.2"/><ellipse cx="516.9" cy="465.2" rx="0.9" ry="1.1"/><ellipse cx="541.6" cy="475.9" rx="1.5" ry="1.2"/><ellipse cx="529.0" cy="479.1" rx="1.2" ry="1.5"/><ellipse cx="520.8" cy="473.0" rx="1.4" ry="1.7"/><ellipse cx="520.7" cy="479.9" rx="1.6" ry="1.3"/><ellipse cx="513.6" cy="464.2" rx="1.2" ry="0.9"/><ellipse cx="508.5" cy="466.3" rx="0.9" ry="1.1"/><ellipse cx="519.8" cy="479.3" rx="1.1" ry="1.4"/><ellipse cx="522.4" cy="484.8" rx="1.4" ry="1.1"/></g>
<g fill="#2aa8ac" opacity="0.7"><ellipse cx="529.0" cy="482.7" rx="1.5" ry="1.2"/><ellipse cx="522.0" cy="468.4" rx="1.4" ry="1.8"/><ellipse cx="502.5" cy="481.6" rx="1.1" ry="0.9"/><ellipse cx="507.1" cy="465.2" rx="0.9" ry="1.1"/><ellipse cx="523.0" cy="487.6" rx="1.1" ry="1.3"/><ellipse cx="519.9" cy="462.0" rx="1.3" ry="1.6"/><ellipse cx="518.6" cy="468.7" rx="1.3" ry="1.1"/><ellipse cx="533.0" cy="460.8" rx="1.4" ry="1.1"/><ellipse cx="503.7" cy="471.9" rx="1.5" ry="1.8"/><ellipse cx="534.9" cy="470.3" rx="1.4" ry="1.7"/><ellipse cx="515.6" cy="474.4" rx="1.2" ry="1.5"/><ellipse cx="509.8" cy="468.6" rx="1.5" ry="1.9"/><ellipse cx="523.0" cy="484.1" rx="1.2" ry="1.5"/><ellipse cx="503.5" cy="481.7" rx="1.0" ry="1.2"/><ellipse cx="505.7" cy="480.2" rx="1.3" ry="1.1"/><ellipse cx="515.0" cy="464.8" rx="1.2" ry="1.4"/></g>
<g fill="#44cdd0" opacity="0.8"><ellipse cx="526.2" cy="485.4" rx="1.1" ry="1.4"/><ellipse cx="513.6" cy="468.0" rx="1.7" ry="1.4"/><ellipse cx="527.5" cy="464.3" rx="1.1" ry="1.4"/><ellipse cx="510.0" cy="485.7" rx="1.2" ry="1.6"/><ellipse cx="506.0" cy="466.1" rx="1.3" ry="1.0"/><ellipse cx="514.7" cy="476.2" rx="1.3" ry="1.7"/><ellipse cx="510.9" cy="480.5" rx="1.3" ry="1.7"/></g>
<g fill="#35bcc0" opacity="0.8"><ellipse cx="508.4" cy="457.3" rx="1.3" ry="1.0"/><ellipse cx="528.7" cy="473.2" rx="1.5" ry="1.9"/><ellipse cx="539.7" cy="466.9" rx="1.9" ry="1.5"/><ellipse cx="522.2" cy="476.9" rx="1.8" ry="1.5"/><ellipse cx="534.9" cy="460.8" rx="1.2" ry="0.9"/><ellipse cx="521.1" cy="474.3" rx="1.0" ry="1.2"/><ellipse cx="511.0" cy="465.4" rx="1.0" ry="1.2"/><ellipse cx="541.9" cy="471.7" rx="1.6" ry="1.3"/><ellipse cx="511.6" cy="481.5" rx="1.8" ry="1.5"/><ellipse cx="539.2" cy="458.5" rx="1.4" ry="1.1"/></g>
<g fill="#2aa8ac" opacity="1.0"><ellipse cx="502.7" cy="470.8" rx="1.4" ry="1.8"/><ellipse cx="510.1" cy="457.7" rx="1.4" ry="1.1"/><ellipse cx="510.5" cy="460.8" rx="1.2" ry="0.9"/><ellipse cx="527.0" cy="471.4" rx="1.5" ry="1.9"/></g>
<g fill="#44cdd0" opacity="0.6"><ellipse cx="515.3" cy="467.8" rx="1.6" ry="1.3"/><ellipse cx="516.1" cy="471.6" rx="1.4" ry="1.1"/><ellipse cx="525.3" cy="462.1" rx="1.9" ry="1.5"/><ellipse cx="511.6" cy="462.0" rx="1.1" ry="0.9"/><ellipse cx="513.4" cy="472.2" rx="1.0" ry="1.3"/><ellipse cx="530.7" cy="468.8" rx="1.6" ry="1.3"/><ellipse cx="509.4" cy="470.4" rx="1.4" ry="1.7"/><ellipse cx="531.8" cy="474.5" rx="1.5" ry="1.2"/><ellipse cx="539.0" cy="461.1" rx="1.2" ry="1.0"/><ellipse cx="516.1" cy="468.9" rx="1.6" ry="1.3"/></g>
<g fill="#2aa8ac" opacity="0.9"><ellipse cx="532.1" cy="482.0" rx="1.7" ry="1.3"/><ellipse cx="536.7" cy="474.1" rx="1.2" ry="1.6"/><ellipse cx="519.1" cy="487.5" rx="1.2" ry="1.0"/><ellipse cx="512.8" cy="479.0" rx="1.4" ry="1.7"/><ellipse cx="518.7" cy="462.8" rx="1.4" ry="1.7"/><ellipse cx="518.3" cy="473.9" rx="1.8" ry="1.4"/><ellipse cx="523.3" cy="481.5" rx="1.8" ry="1.5"/></g>
<g fill="#44cdd0" opacity="0.7"><ellipse cx="539.3" cy="464.8" rx="1.3" ry="1.6"/><ellipse cx="503.2" cy="478.1" rx="1.3" ry="1.6"/><ellipse cx="524.7" cy="484.1" rx="1.2" ry="0.9"/><ellipse cx="513.9" cy="461.6" rx="1.4" ry="1.1"/><ellipse cx="503.9" cy="463.6" rx="1.2" ry="0.9"/><ellipse cx="512.9" cy="483.6" rx="1.3" ry="1.6"/><ellipse cx="524.3" cy="475.3" rx="1.8" ry="1.5"/><ellipse cx="526.0" cy="458.7" rx="1.8" ry="1.4"/><ellipse cx="519.3" cy="460.1" rx="1.5" ry="1.8"/><ellipse cx="512.8" cy="474.7" rx="1.3" ry="1.1"/></g>
<g fill="#35bcc0" opacity="0.9"><ellipse cx="509.1" cy="462.0" rx="1.0" ry="1.2"/><ellipse cx="534.1" cy="466.3" rx="1.1" ry="1.4"/><ellipse cx="520.0" cy="460.4" rx="1.7" ry="1.4"/><ellipse cx="525.1" cy="483.0" rx="1.7" ry="1.3"/><ellipse cx="529.2" cy="485.9" rx="1.0" ry="1.3"/><ellipse cx="526.2" cy="479.4" rx="1.7" ry="1.4"/><ellipse cx="517.9" cy="477.1" rx="1.6" ry="1.3"/><ellipse cx="510.3" cy="473.9" rx="1.0" ry="1.3"/><ellipse cx="530.1" cy="484.5" rx="1.8" ry="1.5"/><ellipse cx="515.9" cy="486.2" rx="1.2" ry="1.5"/><ellipse cx="521.3" cy="472.3" rx="0.9" ry="1.1"/></g>
<g fill="#44cdd0" opacity="0.9"><ellipse cx="537.5" cy="463.6" rx="1.2" ry="1.5"/><ellipse cx="525.0" cy="473.5" rx="1.9" ry="1.5"/><ellipse cx="505.7" cy="465.7" rx="1.3" ry="1.6"/><ellipse cx="505.7" cy="472.5" rx="1.2" ry="1.6"/><ellipse cx="512.7" cy="478.6" rx="1.2" ry="1.0"/><ellipse cx="524.3" cy="474.4" rx="1.6" ry="1.3"/><ellipse cx="527.5" cy="461.0" rx="1.2" ry="1.5"/><ellipse cx="511.1" cy="458.6" rx="1.0" ry="1.3"/><ellipse cx="527.6" cy="462.1" rx="1.4" ry="1.1"/><ellipse cx="522.8" cy="480.7" rx="1.3" ry="1.6"/><ellipse cx="530.6" cy="468.7" rx="1.3" ry="1.0"/><ellipse cx="502.8" cy="476.0" rx="1.4" ry="1.7"/></g>
<g fill="#2aa8ac" opacity="0.6"><ellipse cx="541.3" cy="478.1" rx="1.3" ry="1.0"/><ellipse cx="530.6" cy="479.2" rx="1.2" ry="1.6"/><ellipse cx="503.3" cy="483.3" rx="1.5" ry="1.2"/></g>
<g fill="#2aa8ac" opacity="0.8"><ellipse cx="504.1" cy="463.2" rx="1.4" ry="1.8"/><ellipse cx="533.1" cy="471.0" rx="1.5" ry="1.2"/><ellipse cx="518.3" cy="462.6" rx="1.7" ry="1.3"/><ellipse cx="516.6" cy="478.8" rx="1.3" ry="1.7"/><ellipse cx="534.1" cy="471.8" rx="1.7" ry="1.3"/><ellipse cx="513.9" cy="479.7" rx="1.5" ry="1.2"/><ellipse cx="519.5" cy="475.8" rx="1.2" ry="1.0"/><ellipse cx="533.2" cy="472.8" rx="1.3" ry="1.1"/><ellipse cx="504.0" cy="485.6" rx="1.7" ry="1.4"/><ellipse cx="516.3" cy="480.1" rx="1.3" ry="1.6"/><ellipse cx="518.1" cy="479.2" rx="1.9" ry="1.5"/><ellipse cx="523.9" cy="459.0" rx="1.1" ry="1.4"/><ellipse cx="539.3" cy="465.2" rx="1.7" ry="1.4"/></g>
<g fill="#35bcc0" opacity="0.6"><ellipse cx="523.0" cy="463.3" rx="1.2" ry="1.5"/><ellipse cx="514.9" cy="476.8" rx="1.1" ry="0.9"/><ellipse cx="523.8" cy="478.1" rx="1.2" ry="1.5"/><ellipse cx="538.3" cy="464.1" rx="1.4" ry="1.7"/><ellipse cx="514.0" cy="484.3" rx="1.7" ry="1.4"/></g>
<g fill="#44cdd0" opacity="1.0"><ellipse cx="520.9" cy="484.8" rx="1.4" ry="1.7"/><ellipse cx="523.9" cy="482.4" rx="1.1" ry="1.4"/><ellipse cx="527.9" cy="485.7" rx="1.2" ry="1.5"/><ellipse cx="514.8" cy="488.1" rx="1.4" ry="1.8"/></g>
<g fill="#35bcc0" opacity="1.0"><ellipse cx="509.5" cy="486.4" rx="1.0" ry="1.3"/><ellipse cx="512.1" cy="487.1" rx="1.4" ry="1.1"/><ellipse cx="512.8" cy="469.4" rx="1.4" ry="1.1"/></g>
<line x1="537.4" y1="451.2" x2="541.8" y2="451.2" stroke="#fff" stroke-width="0.7"/>
<line x1="537.4" y1="488.4" x2="541.8" y2="488.4" stroke="#fff" stroke-width="0.7"/>
<text x="432.1" y="497.8" font-size="7.1" text-anchor="middle" fill="#2aa5a8">DAPI</text>
<text x="476.5" y="497.8" font-size="7.1" text-anchor="middle" fill="#c0343a">BRG1</text>
<text x="522.2" y="497.8" font-size="7.1" text-anchor="middle" fill="#b88c8c">Overlay</text>
<text x="556.5" y="400.4" font-size="9.5" fill="#000" font-weight="bold">n</text>
<line x1="586.9" y1="412.8" x2="586.9" y2="479.2" stroke="#444" stroke-width="0.8"/>
<line x1="584.4" y1="422.25" x2="586.9" y2="422.25" stroke="#444" stroke-width="0.8"/>
<text x="583.6" y="424.75" font-size="7.1" text-anchor="end">250</text>
<line x1="584.4" y1="434.18" x2="586.9" y2="434.18" stroke="#444" stroke-width="0.8"/>
<text x="583.6" y="436.68" font-size="7.1" text-anchor="end">200</text>
<line x1="584.4" y1="446.11" x2="586.9" y2="446.11" stroke="#444" stroke-width="0.8"/>
<text x="583.6" y="448.61" font-size="7.1" text-anchor="end">150</text>
<line x1="584.4" y1="458.04" x2="586.9" y2="458.04" stroke="#444" stroke-width="0.8"/>
<text x="583.6" y="460.54" font-size="7.1" text-anchor="end">100</text>
<line x1="584.4" y1="469.97" x2="586.9" y2="469.97" stroke="#444" stroke-width="0.8"/>
<text x="583.6" y="472.47" font-size="7.1" text-anchor="end">50</text>
<line x1="586.9" y1="479.2" x2="664.1" y2="479.2" stroke="#333" stroke-width="0.8"/>
<line x1="586.9" y1="479.2" x2="586.9" y2="481.2" stroke="#333" stroke-width="0.8"/>
<line x1="625.6" y1="479.2" x2="625.6" y2="481.2" stroke="#333" stroke-width="0.8"/>
<line x1="664.1" y1="479.2" x2="664.1" y2="481.2" stroke="#333" stroke-width="0.8"/>
<line x1="625.6" y1="413" x2="625.6" y2="479.2" stroke="#333" stroke-width="0.6" stroke-dasharray="1.5 1"/>
<path d="M586.9 475.9 587.4 475.9 587.9 475.9 588.3 475.9 588.8 475.9 589.3 475.9 589.8 475.9 590.3 475.9 590.8 475.9 591.2 475.8 591.7 475.8 592.2 475.8 592.7 475.8 593.2 475.8 593.7 475.8 594.1 475.8 594.6 475.8 595.1 475.7 595.6 475.7 596.1 475.7 596.5 475.7 597 475.7 597.5 475.7 598 475.6 598.5 475.6 599 475.6 599.4 475.6 599.9 475.5 600.4 475.5 600.9 475.5 601.4 475.5 601.9 475.4 602.3 475.4 602.8 475.4 603.3 475.3 603.8 475.3 604.3 475.2 604.8 475.2 605.2 475.1 605.7 475.1 606.2 475 606.7 475 607.2 474.9 607.6 474.9 608.1 474.8 608.6 474.7 609.1 474.6 609.6 474.5 610.1 474.4 610.5 474.3 611 474.2 611.5 474.1 612 473.9 612.5 473.8 613 473.6 613.4 473.4 613.9 473.2 614.4 473 614.9 472.7 615.4 472.4 615.9 472.1 616.3 471.7 616.8 471.3 617.3 470.8 617.8 470.3 618.3 469.6 618.7 468.9 619.2 468 619.7 467 620.2 465.9 620.7 464.5 621.2 462.8 621.6 460.9 622.1 458.6 622.6 456 623.1 453 623.6 449.6 624.1 446.2 624.5 442.9 625 440.3 625.5 439 626 439.6 626.5 441.7 626.9 444.8 627.4 448.2 627.9 451.6 628.4 454.8 628.9 457.6 629.4 460 629.8 462.1 630.3 463.8 630.8 465.3 631.3 466.6 631.8 467.6 632.3 468.6 632.7 469.3 633.2 470 633.7 470.6 634.2 471.1 634.7 471.6 635.1 471.9 635.6 472.3 636.1 472.6 636.6 472.9 637.1 473.1 637.6 473.3 638 473.5 638.5 473.7 639 473.9 639.5 474 640 474.1 640.5 474.3 640.9 474.4 641.4 474.5 641.9 474.6 642.4 474.7 642.9 474.7 643.4 474.8 643.8 474.9 644.3 475 644.8 475 645.3 475.1 645.8 475.1 646.2 475.2 646.7 475.2 647.2 475.3 647.7 475.3 648.2 475.3 648.7 475.4 649.1 475.4 649.6 475.4 650.1 475.5 650.6 475.5 651.1 475.5 651.6 475.6 652 475.6 652.5 475.6 653 475.6 653.5 475.6 654 475.7 654.5 475.7 654.9 475.7 655.4 475.7 655.9 475.7 656.4 475.8 656.9 475.8 657.3 475.8 657.8 475.8 658.3 475.8 658.8 475.8 659.3 475.8 659.8 475.8 660.2 475.9 660.7 475.9 661.2 475.9 661.7 475.9 662.2 475.9 662.7 475.9 663.1 475.9 663.6 475.9 664.1 475.9" fill="none" stroke="#4a6fc6" stroke-width="1.0" stroke-dasharray="1.8 1.1"/>
<path d="M586.9 476.2 587.4 476.2 587.9 476.2 588.3 476.1 588.8 476.1 589.3 476.1 589.8 476.1 590.3 476.1 590.8 476.1 591.2 476.1 591.7 476.1 592.2 476.1 592.7 476.1 593.2 476 593.7 476 594.1 476 594.6 476 595.1 476 595.6 476 596.1 476 596.5 475.9 597 475.9 597.5 475.9 598 475.9 598.5 475.9 599 475.8 599.4 475.8 599.9 475.8 600.4 475.8 600.9 475.7 601.4 475.7 601.9 475.7 602.3 475.7 602.8 475.6 603.3 475.6 603.8 475.5 604.3 475.5 604.8 475.5 605.2 475.4 605.7 475.4 606.2 475.3 606.7 475.3 607.2 475.2 607.6 475.1 608.1 475.1 608.6 475 609.1 474.9 609.6 474.8 610.1 474.7 610.5 474.6 611 474.5 611.5 474.4 612 474.3 612.5 474.1 613 473.9 613.4 473.8 613.9 473.6 614.4 473.3 614.9 473.1 615.4 472.8 615.9 472.5 616.3 472.1 616.8 471.7 617.3 471.3 617.8 470.8 618.3 470.2 618.7 469.4 619.2 468.6 619.7 467.7 620.2 466.6 620.7 465.2 621.2 463.7 621.6 461.8 622.1 459.7 622.6 457.1 623.1 454.3 623.6 451.1 624.1 447.8 624.5 444.6 625 442.1 625.5 440.9 626 441.5 626.5 443.5 626.9 446.4 627.4 449.7 627.9 453 628.4 456 628.9 458.7 629.4 461 629.8 462.9 630.3 464.6 630.8 466 631.3 467.2 631.8 468.3 632.3 469.1 632.7 469.9 633.2 470.5 633.7 471.1 634.2 471.6 634.7 472 635.1 472.4 635.6 472.7 636.1 473 636.6 473.2 637.1 473.5 637.6 473.7 638 473.9 638.5 474 639 474.2 639.5 474.3 640 474.5 640.5 474.6 640.9 474.7 641.4 474.8 641.9 474.9 642.4 475 642.9 475 643.4 475.1 643.8 475.2 644.3 475.2 644.8 475.3 645.3 475.4 645.8 475.4 646.2 475.4 646.7 475.5 647.2 475.5 647.7 475.6 648.2 475.6 648.7 475.6 649.1 475.7 649.6 475.7 650.1 475.7 650.6 475.8 651.1 475.8 651.6 475.8 652 475.8 652.5 475.9 653 475.9 653.5 475.9 654 475.9 654.5 475.9 654.9 476 655.4 476 655.9 476 656.4 476 656.9 476 657.3 476 657.8 476 658.3 476.1 658.8 476.1 659.3 476.1 659.8 476.1 660.2 476.1 660.7 476.1 661.2 476.1 661.7 476.1 662.2 476.1 662.7 476.1 663.1 476.2 663.6 476.2 664.1 476.2" fill="none" stroke="#4e9a4e" stroke-width="1.0" stroke-dasharray="1.8 1.1"/>
<path d="M586.9 475 587.4 475 587.9 475 588.3 475 588.8 474.9 589.3 474.9 589.8 474.9 590.3 474.9 590.8 474.9 591.2 474.9 591.7 474.9 592.2 474.9 592.7 474.8 593.2 474.8 593.7 474.8 594.1 474.8 594.6 474.8 595.1 474.8 595.6 474.7 596.1 474.7 596.5 474.7 597 474.7 597.5 474.6 598 474.6 598.5 474.6 599 474.6 599.4 474.5 599.9 474.5 600.4 474.5 600.9 474.5 601.4 474.4 601.9 474.4 602.3 474.3 602.8 474.3 603.3 474.3 603.8 474.2 604.3 474.2 604.8 474.1 605.2 474.1 605.7 474 606.2 473.9 606.7 473.9 607.2 473.8 607.6 473.7 608.1 473.6 608.6 473.5 609.1 473.4 609.6 473.3 610.1 473.2 610.5 473.1 611 472.9 611.5 472.8 612 472.6 612.5 472.4 613 472.2 613.4 472 613.9 471.8 614.4 471.5 614.9 471.2 615.4 470.8 615.9 470.4 616.3 470 616.8 469.5 617.3 468.9 617.8 468.3 618.3 467.5 618.7 466.7 619.2 465.7 619.7 464.5 620.2 463.1 620.7 461.5 621.2 459.5 621.6 457.2 622.1 454.6 622.6 451.4 623.1 447.9 623.6 443.9 624.1 439.8 624.5 436 625 432.9 625.5 431.4 626 432 626.5 434.6 626.9 438.2 627.4 442.2 627.9 446.3 628.4 450 628.9 453.3 629.4 456.2 629.8 458.6 630.3 460.7 630.8 462.4 631.3 463.9 631.8 465.2 632.3 466.3 632.7 467.2 633.2 468 633.7 468.7 634.2 469.3 634.7 469.8 635.1 470.3 635.6 470.7 636.1 471 636.6 471.4 637.1 471.6 637.6 471.9 638 472.1 638.5 472.4 639 472.5 639.5 472.7 640 472.9 640.5 473 640.9 473.1 641.4 473.3 641.9 473.4 642.4 473.5 642.9 473.6 643.4 473.7 643.8 473.8 644.3 473.8 644.8 473.9 645.3 474 645.8 474 646.2 474.1 646.7 474.1 647.2 474.2 647.7 474.2 648.2 474.3 648.7 474.3 649.1 474.4 649.6 474.4 650.1 474.4 650.6 474.5 651.1 474.5 651.6 474.5 652 474.6 652.5 474.6 653 474.6 653.5 474.6 654 474.7 654.5 474.7 654.9 474.7 655.4 474.7 655.9 474.7 656.4 474.8 656.9 474.8 657.3 474.8 657.8 474.8 658.3 474.8 658.8 474.8 659.3 474.9 659.8 474.9 660.2 474.9 660.7 474.9 661.2 474.9 661.7 474.9 662.2 474.9 662.7 474.9 663.1 475 663.6 475 664.1 475" fill="none" stroke="#e19a48" stroke-width="0.9"/>
<path d="M586.9 473.8 587.4 473.8 587.9 473.8 588.3 473.8 588.8 473.7 589.3 473.7 589.8 473.7 590.3 473.7 590.8 473.7 591.2 473.7 591.7 473.7 592.2 473.6 592.7 473.6 593.2 473.6 593.7 473.6 594.1 473.6 594.6 473.5 595.1 473.5 595.6 473.5 596.1 473.5 596.5 473.4 597 473.4 597.5 473.4 598 473.4 598.5 473.3 599 473.3 599.4 473.3 599.9 473.2 600.4 473.2 600.9 473.2 601.4 473.1 601.9 473.1 602.3 473 602.8 473 603.3 472.9 603.8 472.9 604.3 472.8 604.8 472.8 605.2 472.7 605.7 472.6 606.2 472.5 606.7 472.5 607.2 472.4 607.6 472.3 608.1 472.2 608.6 472.1 609.1 471.9 609.6 471.8 610.1 471.7 610.5 471.5 611 471.4 611.5 471.2 612 471 612.5 470.7 613 470.5 613.4 470.2 613.9 469.9 614.4 469.6 614.9 469.2 615.4 468.8 615.9 468.4 616.3 467.8 616.8 467.2 617.3 466.5 617.8 465.7 618.3 464.8 618.7 463.7 619.2 462.5 619.7 461 620.2 459.3 620.7 457.2 621.2 454.8 621.6 451.8 622.1 448.3 622.6 444.2 623.1 439.4 623.6 434 624.1 428.2 624.5 422.6 625 418.2 625.5 415.9 626 416.9 626.5 420.6 626.9 425.8 627.4 431.6 627.9 437.2 628.4 442.3 628.9 446.7 629.4 450.4 629.8 453.6 630.3 456.2 630.8 458.5 631.3 460.3 631.8 461.9 632.3 463.2 632.7 464.4 633.2 465.4 633.7 466.2 634.2 466.9 634.7 467.6 635.1 468.1 635.6 468.6 636.1 469.1 636.6 469.5 637.1 469.8 637.6 470.1 638 470.4 638.5 470.7 639 470.9 639.5 471.1 640 471.3 640.5 471.5 640.9 471.6 641.4 471.8 641.9 471.9 642.4 472 642.9 472.1 643.4 472.2 643.8 472.3 644.3 472.4 644.8 472.5 645.3 472.6 645.8 472.7 646.2 472.7 646.7 472.8 647.2 472.8 647.7 472.9 648.2 473 648.7 473 649.1 473.1 649.6 473.1 650.1 473.1 650.6 473.2 651.1 473.2 651.6 473.3 652 473.3 652.5 473.3 653 473.4 653.5 473.4 654 473.4 654.5 473.4 654.9 473.5 655.4 473.5 655.9 473.5 656.4 473.5 656.9 473.6 657.3 473.6 657.8 473.6 658.3 473.6 658.8 473.6 659.3 473.6 659.8 473.7 660.2 473.7 660.7 473.7 661.2 473.7 661.7 473.7 662.2 473.7 662.7 473.7 663.1 473.8 663.6 473.8 664.1 473.8" fill="none" stroke="#b8282e" stroke-width="0.9"/>
<text x="634.7" y="417.5" font-size="7.1" fill="#4a6fc6">Vehicle</text>
<text x="634.7" y="424.2" font-size="7.1" fill="#4e9a4e">Vehicle + ACBI1</text>
<text x="634.7" y="429.9" font-size="7.1" fill="#b8282e">DOX</text>
<text x="634.7" y="435.6" font-size="7.1" fill="#e19a48">DOX + ACBI1</text>
<text x="586.9" y="489.6" font-size="7.1" text-anchor="middle">-5000</text>
<text x="664.1" y="489.6" font-size="7.1" text-anchor="middle">+5000</text>
<text x="625.6" y="487.7" font-size="7.1" text-anchor="middle">Flag :: ZIC2</text>
<text x="625.6" y="494.4" font-size="7.1" text-anchor="middle">peak centre</text>
<text x="561.8" y="450.7" font-size="7.1" text-anchor="middle" transform="rotate(-90 561.8 450.7)">Normalised ATAC signal</text>
<text x="567.6" y="450.7" font-size="7.1" text-anchor="middle" transform="rotate(-90 567.6 450.7)">(CPB)</text>
<text x="2.5" y="532.8" font-size="9.5" fill="#000" font-weight="bold">o</text>
<text x="57.7" y="538.7" font-size="7.1" text-anchor="middle">27,270 kb</text>
<text x="109.6" y="538.7" font-size="7.1" text-anchor="middle">27,290 kb</text>
<text x="157.5" y="538.7" font-size="7.1" text-anchor="middle">27,310 kb</text>
<rect x="55.2" y="547" width="107.1" height="139" fill="#f4f6fc"/>
<rect x="62" y="547" width="8.8" height="139" fill="#efefc6"/>
<line x1="57.5" y1="543.2" x2="161.6" y2="543.2" stroke="#777" stroke-width="0.6"/>
<line x1="57.5" y1="539.8" x2="57.5" y2="543.2" stroke="#777" stroke-width="0.6"/>
<line x1="109.6" y1="539.8" x2="109.6" y2="543.2" stroke="#777" stroke-width="0.6"/>
<line x1="161.6" y1="539.8" x2="161.6" y2="543.2" stroke="#777" stroke-width="0.6"/>
<text x="56.9" y="554.7" font-size="7.1">[0-400]</text>
<text x="56.9" y="613.4" font-size="7.1">[0-15]</text>
<text x="56.9" y="675.5" font-size="7.1">[0-20]</text>
<text x="54.3" y="557.2" font-size="7.1" text-anchor="end">Vehicle</text>
<text x="53.5" y="570.4" font-size="7.1" text-anchor="end">Vehicle</text>
<text x="52.2" y="576.3" font-size="7.1" text-anchor="end">+ACBI1</text>
<text x="54.8" y="588.6" font-size="7.1" text-anchor="end">DOX</text>
<text x="52" y="598.8" font-size="7.1" text-anchor="end">DOX</text>
<text x="52.2" y="605.4" font-size="7.1" text-anchor="end">+ACBI1</text>
<text x="46.2" y="615.6" font-size="7.1" text-anchor="middle">DOX</text>
<text x="45.7" y="622.7" font-size="7.1" text-anchor="middle">0h</text>
<text x="46.2" y="631.1" font-size="7.1" text-anchor="middle">DOX</text>
<text x="45.7" y="638.2" font-size="7.1" text-anchor="middle">8h</text>
<text x="46.2" y="646.6" font-size="7.1" text-anchor="middle">DOX</text>
<text x="45.7" y="653.7" font-size="7.1" text-anchor="middle">24h</text>
<text x="46.2" y="662.2" font-size="7.1" text-anchor="middle">DOX</text>
<text x="45.7" y="669.3" font-size="7.1" text-anchor="middle">72h</text>
<text x="49" y="681.4" font-size="7.1" text-anchor="end">Flag-ZIC2 ChIP</text>
<line x1="24.5" y1="552.8" x2="24.5" y2="606.1" stroke="#444" stroke-width="0.6"/>
<line x1="24.4" y1="613.8" x2="24.4" y2="668.4" stroke="#444" stroke-width="0.6"/>
<text x="21.6" y="578.4" font-size="7.1" text-anchor="middle" transform="rotate(-90 21.6 578.4)">ATAC-seq</text>
<text x="21.3" y="640.7" font-size="7.1" text-anchor="middle" transform="rotate(-90 21.3 640.7)">BRG1 CUT&amp;Tag</text>
<path d="M55.5 560.5 55.5 560.5 55.8 560.4 56.0 560.3 56.2 560.1 56.5 559.8 56.8 559.6 57.0 559.5 57.2 559.6 57.5 559.8 57.8 560.1 58.0 560.3 58.2 560.4 58.5 560.5 65.5 560.5 65.8 560.4 66.0 560.3 66.2 560.1 66.5 559.8 66.8 559.6 67.0 559.5 67.2 559.6 67.5 559.8 67.8 560.1 68.0 560.3 68.2 560.4 68.5 560.5 97.8 560.5 98.0 560.4 98.2 560.3 98.5 560.2 98.8 559.9 99.0 559.6 99.2 559.3 99.5 559.3 99.8 559.5 100.0 559.8 100.2 560.1 100.5 560.3 100.8 560.4 101.0 560.5 113.5 560.5 113.8 560.4 114.0 560.3 114.2 560.2 114.5 560.0 114.8 559.8 115.0 559.7 115.2 559.8 115.5 560.0 115.8 560.2 116.0 560.3 116.2 560.4 116.5 560.5 130.5 560.5 130.8 560.4 131.0 560.2 131.2 559.8 131.5 558.8 131.8 557.5 132.0 556.1 132.2 555.3 132.5 555.7 132.8 556.9 133.0 558.3 133.2 559.5 133.5 560.1 133.8 560.4 134.0 560.5 137.0 560.5 137.2 560.4 137.5 560.0 137.8 559.4 138.0 558.3 138.2 557.3 138.5 556.9 138.8 557.3 139.0 558.3 139.2 559.4 139.5 560.0 139.8 560.4 140.0 560.5 146.5 560.5 146.8 560.4 147.0 560.2 147.2 560.0 147.5 559.7 147.8 559.4 148.0 559.3 148.2 559.4 148.5 559.7 148.8 560.0 149.0 560.2 149.2 560.1 149.5 559.6 149.8 559.0 150.0 558.3 150.2 557.7 150.5 557.5 150.8 557.7 151.0 558.3 151.2 559.0 151.5 559.6 151.8 560.1 152.0 560.2 152.2 559.9 152.5 559.5 152.8 559.1 153.0 559.0 153.2 559.1 153.5 559.2 153.8 558.0 154.0 556.4 154.2 555.1 154.5 554.5 154.8 555.1 155.0 554.9 155.2 552.6 155.5 550.8 155.8 550.3 156.0 551.4 156.2 553.5 156.5 555.9 156.8 555.2 157.0 554.5 157.2 555.2 157.5 556.9 157.8 558.6 158.0 559.7 158.2 560.3 158.5 560.4 158.8 560.5 162.0 560.5 162.2 560.5Z" fill="#2a3cb0"/>
<line x1="55.5" y1="560.5" x2="162.2" y2="560.5" stroke="#8a96d8" stroke-width="0.5"/>
<path d="M55.5 576.5 55.5 575.8 55.8 575.3 56.0 574.7 56.2 574.2 56.5 574.0 56.8 574.2 57.0 574.7 57.2 575.3 57.5 575.8 57.8 576.1 58.0 576.3 58.2 576.4 58.5 576.5 61.5 576.5 61.8 576.4 62.0 576.2 62.2 576.0 62.5 575.7 62.8 575.4 63.0 575.3 63.2 575.4 63.5 575.7 63.8 576.0 64.0 576.2 64.2 576.4 64.5 576.5 65.5 576.5 65.8 576.4 66.0 576.3 66.2 576.1 66.5 575.8 66.8 575.6 67.0 575.5 67.2 575.6 67.5 575.8 67.8 576.1 68.0 576.3 68.2 576.4 68.5 576.5 72.5 576.5 72.8 576.4 73.0 576.4 73.2 576.3 73.5 576.1 73.8 576.0 74.0 575.9 74.2 576.0 74.5 576.1 74.8 576.3 75.0 576.4 75.2 576.4 75.5 576.5 78.5 576.5 78.8 576.4 79.0 576.4 79.2 576.3 79.5 576.1 79.8 576.0 80.0 575.9 80.2 576.0 80.5 576.1 80.8 576.3 81.0 576.4 81.2 576.4 81.5 576.5 98.0 576.5 98.2 576.3 98.5 575.8 98.8 574.3 99.0 572.0 99.2 569.9 99.5 569.7 99.8 571.5 100.0 573.9 100.2 575.6 100.5 576.3 100.8 576.5 115.5 576.5 115.8 576.4 116.0 576.3 116.2 576.2 116.5 576.0 116.8 575.8 117.0 575.7 117.2 575.8 117.5 576.0 117.8 576.2 118.0 576.3 118.2 576.4 118.5 576.5 120.5 576.5 120.8 576.4 121.0 576.3 121.2 576.0 121.5 575.6 121.8 575.0 122.0 574.4 122.2 574.1 122.5 574.0 122.8 574.4 123.0 574.9 123.2 575.5 123.5 575.9 123.8 576.2 124.0 576.4 124.2 576.5 130.5 576.5 130.8 576.4 131.0 576.3 131.2 575.7 131.5 574.4 131.8 572.3 132.0 570.0 132.2 568.7 132.5 569.3 132.8 571.3 133.0 573.6 133.2 575.3 133.5 576.1 133.8 576.4 134.0 576.5 136.8 576.5 137.0 576.4 137.2 576.0 137.5 574.9 137.8 572.7 138.0 569.3 138.2 565.9 138.5 564.5 138.8 565.9 139.0 569.3 139.2 572.7 139.5 574.9 139.8 576.0 140.0 576.4 140.2 576.5 143.5 576.5 143.8 576.4 144.0 576.3 144.2 576.1 144.5 575.8 144.8 575.6 145.0 575.5 145.2 575.6 145.5 575.8 145.8 576.1 146.0 576.3 146.2 576.4 146.5 576.2 146.8 575.9 147.0 575.5 147.2 575.1 147.5 575.0 147.8 575.1 148.0 575.5 148.2 575.9 148.5 576.2 148.8 576.1 149.0 575.5 149.2 574.7 149.5 573.8 149.8 573.1 150.0 573.1 150.2 573.6 150.5 574.5 150.8 573.2 151.0 571.9 151.2 571.5 151.5 572.3 151.8 573.8 152.0 575.1 152.2 575.9 152.5 575.5 152.8 575.1 153.0 575.0 153.2 575.1 153.5 575.5 153.8 575.9 154.0 575.1 154.2 573.8 154.5 572.1 154.8 570.6 155.0 570.0 155.2 570.6 155.5 572.1 155.8 573.8 156.0 575.0 156.2 573.6 156.5 571.8 156.8 570.2 157.0 569.5 157.2 570.2 157.5 571.8 157.8 573.6 158.0 575.0 158.2 574.7 158.5 574.5 158.8 574.7 159.0 575.1 159.2 575.7 159.5 576.1 159.8 576.3 160.0 576.4 160.2 576.4 160.5 576.2 160.8 576.0 161.0 575.7 161.2 575.4 161.5 575.3 161.8 575.4 162.0 575.7 162.2 576.5Z" fill="#2e7d2e"/>
<line x1="55.5" y1="576.5" x2="162.2" y2="576.5" stroke="#2e7d2e" stroke-width="0.5"/>
<path d="M55.5 592.1 55.5 592.1 61.5 592.1 61.8 592.0 62.0 591.8 62.2 591.3 62.5 590.4 62.8 589.2 63.0 588.1 63.2 587.5 63.5 587.8 63.8 588.7 64.0 589.3 64.2 588.0 64.5 587.2 64.8 587.3 65.0 588.2 65.2 589.5 65.5 588.7 65.8 587.6 66.0 587.1 66.2 587.6 66.5 588.7 66.8 589.7 67.0 588.5 67.2 587.7 67.5 587.6 67.8 588.3 68.0 589.5 68.2 590.6 68.5 591.4 68.8 591.8 69.0 592.0 69.2 592.1 98.0 592.1 98.2 592.0 98.5 591.7 98.8 590.9 99.0 589.5 99.2 588.3 99.5 588.2 99.8 589.3 100.0 590.6 100.2 591.6 100.5 592.0 100.8 592.1 105.0 592.1 105.2 592.0 105.5 591.9 105.8 591.8 106.0 591.7 106.2 591.6 106.5 591.4 106.8 591.3 107.0 591.3 107.2 591.3 107.5 591.4 107.8 591.6 108.0 591.7 108.2 591.8 108.5 591.9 108.8 592.0 109.0 592.1 119.5 592.1 119.8 592.0 120.0 592.0 120.2 591.9 120.5 591.7 120.8 591.5 121.0 591.3 121.2 591.1 121.5 591.0 121.8 590.9 122.0 590.9 122.2 591.1 122.5 591.2 122.8 591.5 123.0 591.7 123.2 591.8 123.5 591.9 123.8 592.0 124.0 592.1 130.8 592.1 131.0 592.0 131.2 591.8 131.5 591.5 131.8 591.2 132.0 590.8 132.2 590.6 132.5 590.7 132.8 591.0 133.0 591.4 133.2 591.7 133.5 591.9 133.8 592.0 134.0 592.1 136.0 592.1 136.2 592.0 136.5 591.8 136.8 591.3 137.0 590.6 137.2 589.9 137.5 589.6 137.8 589.9 138.0 589.7 138.2 587.6 138.5 586.6 138.8 587.6 139.0 589.7 139.2 591.2 139.5 591.9 139.8 592.1 143.5 592.1 143.8 592.0 144.0 592.0 144.2 591.9 144.5 591.7 144.8 591.6 145.0 591.5 145.2 591.6 145.5 591.7 145.8 591.9 146.0 592.0 146.2 592.0 146.5 591.9 146.8 591.8 147.0 591.5 147.2 591.2 147.5 590.9 147.8 590.7 148.0 590.6 148.2 590.7 148.5 590.9 148.8 591.2 149.0 591.4 149.2 591.0 149.5 590.5 149.8 590.2 150.0 590.1 150.2 590.2 150.5 590.5 150.8 591.0 151.0 591.0 151.2 590.4 151.5 589.8 151.8 589.3 152.0 589.1 152.2 589.3 152.5 589.8 152.8 590.4 153.0 590.1 153.2 589.0 153.5 587.8 153.8 586.9 154.0 586.6 154.2 586.9 154.5 587.8 154.8 586.6 155.0 585.2 155.2 584.6 155.5 584.9 155.8 586.0 156.0 587.5 156.2 589.1 156.5 589.1 156.8 588.0 157.0 587.6 157.2 588.0 157.5 589.1 157.8 590.2 158.0 591.1 158.2 590.7 158.5 590.6 158.8 590.7 159.0 591.1 159.2 591.5 159.5 591.8 159.8 592.0 160.0 592.1 162.0 592.1 162.2 592.1Z" fill="#c01f1e"/>
<line x1="55.5" y1="592.1" x2="162.2" y2="592.1" stroke="#e8a0a0" stroke-width="0.5"/>
<path d="M55.5 607.2 55.5 606.8 55.8 606.5 56.0 606.1 56.2 605.8 56.5 605.7 56.8 605.8 57.0 606.1 57.2 606.5 57.5 606.8 57.8 607.0 58.0 607.1 58.2 607.2 65.8 607.2 66.0 607.1 66.2 607.0 66.5 606.9 66.8 606.7 67.0 606.7 67.2 606.7 67.5 606.9 67.8 607.0 68.0 607.1 68.2 607.2 98.0 607.2 98.2 607.1 98.5 606.9 98.8 606.3 99.0 605.3 99.2 604.4 99.5 604.3 99.8 605.1 100.0 606.1 100.2 606.8 100.5 607.1 100.8 607.2 108.5 607.2 108.8 607.1 109.0 607.1 109.2 607.0 109.5 606.9 109.8 606.8 110.0 606.8 110.2 606.8 110.5 606.9 110.8 607.0 111.0 607.1 111.2 607.1 111.5 607.2 120.2 607.2 120.5 607.1 120.8 607.1 121.0 607.0 121.2 606.9 121.5 606.7 121.8 606.6 122.0 606.6 122.2 606.6 122.5 606.7 122.8 606.9 123.0 607.0 123.2 607.1 123.5 607.1 123.8 607.2 130.8 607.2 131.0 607.1 131.2 606.7 131.5 606.0 131.8 604.7 132.0 603.4 132.2 602.6 132.5 603.0 132.8 604.2 133.0 605.5 133.2 606.5 133.5 607.0 133.8 607.1 134.0 607.2 137.0 607.2 137.2 607.0 137.5 606.4 137.8 605.0 138.0 602.5 138.2 599.9 138.5 598.7 138.8 599.9 139.0 602.5 139.2 605.0 139.5 606.4 139.8 607.0 140.0 607.2 145.5 607.2 145.8 607.1 146.0 607.0 146.2 606.8 146.5 606.5 146.8 606.3 147.0 606.2 147.2 606.3 147.5 606.5 147.8 606.8 148.0 606.8 148.2 606.5 148.5 606.1 148.8 605.6 149.0 605.2 149.2 604.8 149.5 604.7 149.8 604.8 150.0 605.2 150.2 605.6 150.5 606.1 150.8 605.5 151.0 604.9 151.2 604.4 151.5 604.2 151.8 604.4 152.0 604.9 152.2 605.5 152.5 605.8 152.8 605.4 153.0 605.2 153.2 605.4 153.5 605.8 153.8 605.6 154.0 603.6 154.2 600.7 154.5 597.7 154.8 596.0 155.0 596.8 155.2 599.4 155.5 602.4 155.8 600.2 156.0 599.2 156.2 600.2 156.5 602.4 156.8 604.7 157.0 604.8 157.2 603.7 157.5 603.2 157.8 603.7 158.0 604.8 158.2 605.9 158.5 606.7 158.8 607.0 159.0 607.2 160.0 607.2 160.2 607.1 160.5 606.9 160.8 606.7 161.0 606.4 161.2 606.1 161.5 606.0 161.8 606.1 162.0 606.4 162.2 607.2Z" fill="#e4781c"/>
<line x1="55.5" y1="607.2" x2="162.2" y2="607.2" stroke="#e4781c" stroke-width="0.5"/>
<path d="M55.5 623.0 55.5 623.0 56.5 623.0 56.8 618.2 57.0 618.2 57.2 618.2 57.5 623.0 63.8 623.0 64.0 620.6 64.2 620.6 64.5 620.6 64.8 623.0 72.2 623.0 72.5 618.5 72.8 618.5 73.0 618.5 73.2 623.0 73.5 619.5 73.8 619.5 74.0 619.5 74.2 623.0 74.5 623.0 74.8 618.5 75.0 618.5 75.2 618.5 75.5 623.0 78.5 623.0 78.8 621.0 79.0 621.0 79.2 621.0 79.5 623.0 83.8 623.0 84.0 620.6 84.2 620.6 84.5 620.6 84.8 620.6 85.0 623.0 89.8 623.0 90.0 620.6 90.2 620.6 90.5 620.6 90.8 623.0 99.5 623.0 99.8 620.6 100.0 620.6 100.2 620.6 100.5 623.0 104.2 623.0 104.5 620.6 104.8 620.6 105.0 620.6 105.2 623.0 107.5 623.0 107.8 618.0 108.0 618.0 108.2 618.0 108.5 623.0 110.8 623.0 111.0 620.0 111.2 620.0 111.5 620.0 111.8 623.0 113.8 623.0 114.0 617.5 114.2 617.5 114.5 617.5 114.8 617.5 115.0 623.0 115.2 618.0 115.5 618.0 115.8 618.0 116.0 623.0 118.8 623.0 119.0 619.5 119.2 619.5 119.5 619.5 119.8 623.0 120.5 623.0 120.8 620.0 121.0 620.0 121.2 620.0 121.5 623.0 126.8 623.0 127.0 620.6 127.2 620.6 127.5 620.6 127.8 623.0 130.8 623.0 131.0 617.5 131.2 617.5 131.5 617.5 131.8 617.5 132.0 623.0 132.2 619.0 132.5 619.0 132.8 619.0 133.0 623.0 133.2 618.0 133.5 618.0 133.8 618.0 134.0 618.0 134.2 623.0 138.8 623.0 139.0 613.4 139.2 613.4 139.5 613.4 139.8 613.4 140.0 623.0 142.8 623.0 143.0 619.5 143.2 619.5 143.5 619.5 143.8 619.5 144.0 623.0 148.5 623.0 148.8 618.5 149.0 618.5 149.2 618.5 149.5 623.0 150.8 623.0 151.0 619.0 151.2 619.0 151.5 619.0 151.8 619.0 152.0 623.0 154.0 623.0 154.2 614.0 154.5 614.0 154.8 614.0 155.0 614.0 155.2 623.0 155.5 623.0 155.8 616.0 156.0 616.0 156.2 616.0 156.5 616.0 156.8 623.0 160.8 623.0 161.0 620.6 161.2 620.6 161.5 620.6 161.8 620.6 162.0 623.0 162.2 623.0Z" fill="#25258f"/>
<line x1="55.5" y1="623" x2="162.2" y2="623" stroke="#6a6ac0" stroke-width="0.5"/>
<path d="M55.5 638.5 55.5 638.5 56.8 638.5 57.0 636.5 57.2 636.5 57.5 636.5 57.8 636.5 58.0 638.5 63.2 638.5 63.5 635.7 63.8 635.7 64.0 635.7 64.2 638.5 64.5 638.5 64.8 635.0 65.0 635.0 65.2 635.0 65.5 638.5 65.8 638.5 66.0 635.0 66.2 635.0 66.5 635.0 66.8 638.5 67.0 638.5 67.2 635.5 67.5 635.5 67.8 635.5 68.0 638.5 72.2 638.5 72.5 637.0 72.8 637.0 73.0 637.0 73.2 638.5 77.0 638.5 77.2 637.5 77.5 637.5 77.8 637.5 78.0 638.5 89.0 638.5 89.2 637.0 89.5 637.0 89.8 637.0 90.0 638.5 92.2 638.5 92.5 635.0 92.8 635.0 93.0 635.0 93.2 638.5 98.8 638.5 99.0 635.5 99.2 635.5 99.5 635.5 99.8 638.5 105.8 638.5 106.0 637.5 106.2 637.5 106.5 637.5 106.8 637.5 107.0 638.5 110.8 638.5 111.0 637.0 111.2 637.0 111.5 637.0 111.8 638.5 116.2 638.5 116.5 637.0 116.8 637.0 117.0 637.0 117.2 638.5 120.5 638.5 120.8 636.1 121.0 636.1 121.2 636.1 121.5 638.5 122.0 638.5 122.2 636.1 122.5 636.1 122.8 636.1 123.0 638.5 126.8 638.5 127.0 636.1 127.2 636.1 127.5 636.1 127.8 638.5 128.2 638.5 128.5 636.1 128.8 636.1 129.0 636.1 129.2 636.1 129.5 638.5 131.2 638.5 131.5 629.3 131.8 629.3 132.0 629.3 132.2 629.3 132.5 638.5 132.8 636.1 133.0 636.1 133.2 636.1 133.5 638.5 138.0 638.5 138.2 628.5 138.5 628.5 138.8 628.5 139.0 638.5 140.2 638.5 140.5 636.1 140.8 636.1 141.0 636.1 141.2 636.1 141.5 638.5 144.2 638.5 144.5 637.0 144.8 637.0 145.0 637.0 145.2 637.0 145.5 638.5 147.5 638.5 147.8 634.5 148.0 634.5 148.2 634.5 148.5 634.5 148.8 638.5 149.0 638.5 149.2 635.0 149.5 635.0 149.8 635.0 150.0 638.5 150.5 638.5 150.8 634.5 151.0 634.5 151.2 634.5 151.5 638.5 154.0 638.5 154.2 631.5 154.5 631.5 154.8 631.5 155.0 631.5 155.2 638.5 155.5 638.5 155.8 630.5 156.0 630.5 156.2 630.5 156.5 638.5 156.8 638.5 157.0 632.5 157.2 632.5 157.5 632.5 157.8 632.5 158.0 638.5 160.5 638.5 160.8 636.5 161.0 636.5 161.2 636.5 161.5 638.5 162.0 638.5 162.2 638.5Z" fill="#25258f"/>
<line x1="55.5" y1="638.5" x2="162.2" y2="638.5" stroke="#6a6ac0" stroke-width="0.5"/>
<path d="M55.5 654.0 55.5 654.0 56.8 654.0 57.0 653.0 57.2 653.0 57.5 653.0 57.8 653.0 58.0 654.0 63.5 654.0 63.8 651.0 64.0 651.0 64.2 651.0 64.5 654.0 64.8 654.0 65.0 649.0 65.2 649.0 65.5 649.0 65.8 645.7 66.0 645.7 66.2 645.7 66.5 654.0 66.8 650.0 67.0 650.0 67.2 650.0 67.5 654.0 73.8 654.0 74.0 651.6 74.2 651.6 74.5 651.6 74.8 654.0 76.0 654.0 76.2 651.6 76.5 651.6 76.8 651.6 77.0 654.0 80.2 654.0 80.5 652.5 80.8 652.5 81.0 652.5 81.2 654.0 84.2 654.0 84.5 652.0 84.8 652.0 85.0 652.0 85.2 654.0 98.8 654.0 99.0 653.0 99.2 653.0 99.5 653.0 99.8 654.0 106.8 654.0 107.0 652.5 107.2 652.5 107.5 652.5 107.8 654.0 115.0 654.0 115.2 651.6 115.5 651.6 115.8 651.6 116.0 654.0 116.5 654.0 116.8 652.2 117.0 652.2 117.2 652.2 117.5 654.0 123.5 654.0 123.8 652.8 124.0 652.8 124.2 652.8 124.5 654.0 130.8 654.0 131.0 647.0 131.2 647.0 131.5 647.0 131.8 647.0 132.0 644.8 132.2 644.8 132.5 644.8 132.8 644.8 133.0 654.0 133.2 650.0 133.5 650.0 133.8 650.0 134.0 654.0 137.5 654.0 137.8 650.5 138.0 650.5 138.2 650.5 138.5 654.0 138.8 650.0 139.0 650.0 139.2 650.0 139.5 654.0 145.5 654.0 145.8 650.5 146.0 650.5 146.2 650.5 146.5 654.0 147.5 654.0 147.8 650.0 148.0 650.0 148.2 650.0 148.5 654.0 149.5 654.0 149.8 650.5 150.0 650.5 150.2 650.5 150.5 654.0 151.5 654.0 151.8 650.0 152.0 650.0 152.2 650.0 152.5 654.0 153.0 654.0 153.2 648.0 153.5 648.0 153.8 648.0 154.0 654.0 154.2 654.0 154.5 645.0 154.8 645.0 155.0 645.0 155.2 645.0 155.5 654.0 155.8 642.1 156.0 642.1 156.2 642.1 156.5 654.0 157.0 654.0 157.2 647.0 157.5 647.0 157.8 647.0 158.0 654.0 159.5 654.0 159.8 652.0 160.0 652.0 160.2 652.0 160.5 654.0 162.0 654.0 162.2 654.0Z" fill="#25258f"/>
<line x1="55.5" y1="654" x2="162.2" y2="654" stroke="#6a6ac0" stroke-width="0.5"/>
<path d="M55.5 669.6 55.5 669.6 56.8 669.6 57.0 667.6 57.2 667.6 57.5 667.6 57.8 667.6 58.0 669.6 63.2 669.6 63.5 662.6 63.8 662.6 64.0 662.6 64.2 669.6 64.5 658.7 64.8 658.7 65.0 658.7 65.2 658.7 65.5 669.6 65.8 662.6 66.0 662.6 66.2 662.6 66.5 669.6 66.8 663.6 67.0 663.6 67.2 663.6 67.5 669.6 68.0 669.6 68.2 666.6 68.5 666.6 68.8 666.6 69.0 669.6 69.2 667.6 69.5 667.6 69.8 667.6 70.0 669.6 86.5 669.6 86.8 668.1 87.0 668.1 87.2 668.1 87.5 669.6 93.0 669.6 93.2 668.6 93.5 668.6 93.8 668.6 94.0 669.6 97.0 669.6 97.2 668.6 97.5 668.6 97.8 668.6 98.0 669.6 101.0 669.6 101.2 668.6 101.5 668.6 101.8 668.6 102.0 669.6 109.5 669.6 109.8 668.1 110.0 668.1 110.2 668.1 110.5 669.6 111.5 669.6 111.8 668.1 112.0 668.1 112.2 668.1 112.5 669.6 113.5 669.6 113.8 668.1 114.0 668.1 114.2 668.1 114.5 669.6 115.5 669.6 115.8 668.1 116.0 668.1 116.2 668.1 116.5 669.6 117.5 669.6 117.8 668.4 118.0 668.4 118.2 668.4 118.5 669.6 123.5 669.6 123.8 668.6 124.0 668.6 124.2 668.6 124.5 669.6 132.5 669.6 132.8 667.2 133.0 667.2 133.2 667.2 133.5 669.6 134.0 669.6 134.2 667.2 134.5 667.2 134.8 667.2 135.0 669.6 137.0 669.6 137.2 664.6 137.5 664.6 137.8 664.6 138.0 664.6 138.2 669.6 138.5 661.9 138.8 661.9 139.0 661.9 139.2 661.9 139.5 669.6 146.0 669.6 146.2 667.2 146.5 667.2 146.8 667.2 147.0 669.6 149.0 669.6 149.2 665.6 149.5 665.6 149.8 665.6 150.0 669.6 150.5 669.6 150.8 666.6 151.0 666.6 151.2 666.6 151.5 669.6 153.2 669.6 153.5 663.6 153.8 663.6 154.0 663.6 154.2 663.6 154.5 669.6 154.8 661.6 155.0 661.6 155.2 658.7 155.5 658.7 155.8 658.7 156.0 658.7 156.2 669.6 156.5 669.6 156.8 663.6 157.0 663.6 157.2 663.6 157.5 669.6 158.0 669.6 158.2 666.6 158.5 666.6 158.8 666.6 159.0 667.6 159.2 667.6 159.5 667.6 159.8 667.6 160.0 669.6 162.0 669.6 162.2 669.6Z" fill="#25258f"/>
<line x1="55.5" y1="669.6" x2="162.2" y2="669.6" stroke="#6a6ac0" stroke-width="0.5"/>
<path d="M55.5 685.2 55.5 685.2 61.5 685.2 61.8 685.1 62.0 685.1 62.2 684.9 62.5 684.6 62.8 684.0 63.0 683.4 63.2 682.6 63.5 682.0 63.8 681.7 64.0 681.8 64.2 682.1 64.5 680.9 64.8 680.0 65.0 679.7 65.2 680.0 65.5 680.9 65.8 680.5 66.0 679.4 66.2 678.8 66.5 679.1 66.8 680.0 67.0 681.3 67.2 682.2 67.5 681.5 67.8 681.2 68.0 681.4 68.2 681.9 68.5 682.7 68.8 683.6 69.0 684.2 69.2 683.8 69.5 683.7 69.8 683.8 70.0 684.2 70.2 684.6 70.5 684.9 70.8 685.1 71.0 685.2 96.0 685.2 96.2 685.1 96.5 685.0 96.8 684.9 97.0 684.6 97.2 684.3 97.5 684.0 97.8 683.7 98.0 683.6 98.2 683.7 98.5 684.0 98.8 684.3 99.0 684.6 99.2 684.7 99.5 684.4 99.8 684.1 100.0 684.0 100.2 684.1 100.5 684.4 100.8 684.7 101.0 684.9 101.2 685.1 101.5 685.2 119.0 685.2 119.2 685.1 119.5 685.0 119.8 684.8 120.0 684.6 120.2 684.3 120.5 684.1 120.8 684.0 121.0 684.0 121.2 684.2 121.5 684.5 121.8 684.7 122.0 684.9 122.2 685.1 122.5 685.1 122.8 685.2 136.8 685.2 137.0 685.1 137.2 685.0 137.5 684.8 137.8 684.4 138.0 683.8 138.2 683.4 138.5 683.2 138.8 683.4 139.0 683.8 139.2 684.4 139.5 684.8 139.8 685.0 140.0 685.1 140.2 685.2 145.8 685.2 146.0 685.1 146.2 685.0 146.5 684.8 146.8 684.4 147.0 683.7 147.2 682.9 147.5 682.1 147.8 681.4 148.0 681.2 148.2 681.4 148.5 682.1 148.8 682.9 149.0 683.7 149.2 684.4 149.5 683.7 149.8 682.3 150.0 680.5 150.2 678.9 150.5 678.2 150.8 678.9 151.0 680.5 151.2 681.7 151.5 679.4 151.8 677.5 152.0 676.7 152.2 677.5 152.5 679.4 152.8 681.7 153.0 680.5 153.2 678.9 153.5 678.2 153.8 678.6 154.0 676.0 154.2 675.3 154.5 676.9 154.8 679.8 155.0 682.5 155.2 682.3 155.5 680.5 155.8 678.9 156.0 678.2 156.2 678.9 156.5 680.5 156.8 682.3 157.0 683.4 157.2 682.1 157.5 680.9 157.8 680.2 158.0 680.5 158.2 681.6 158.5 682.9 158.8 684.0 159.0 683.8 159.2 683.4 159.5 683.2 159.8 683.4 160.0 683.8 160.2 684.4 160.5 684.8 160.8 685.0 161.0 685.1 161.2 685.2 162.0 685.2 162.2 685.2Z" fill="#5a1a5e"/>
<line x1="55.5" y1="685.2" x2="162.2" y2="685.2" stroke="#8a4a8e" stroke-width="0.5"/>
<path d="M66.3 697 V690.5 H73.8" fill="none" stroke="#111" stroke-width="0.6"/>
<path d="M73.5 689 L76.3 690.5 L73.5 692 Z" fill="#111"/>
<line x1="66.3" y1="701.7" x2="152.5" y2="701.7" stroke="#111" stroke-width="0.7"/>
<rect x="65.9" y="699.4" width="0.9" height="4.6" fill="#000"/>
<rect x="122.05" y="699.2" width="0.7" height="5" fill="#000"/>
<rect x="124.15" y="699.2" width="0.7" height="5" fill="#000"/>
<rect x="145.15" y="699.2" width="0.7" height="5" fill="#000"/>
<rect x="147.15" y="699.2" width="0.7" height="5" fill="#000"/>
<rect x="149.15" y="699.2" width="0.7" height="5" fill="#000"/>
<rect x="150.5" y="699.9" width="2" height="3.6" fill="#000"/>
<text x="63.1" y="712.7" font-size="7.1" font-style="italic">TRIM54</text>
<text x="188.4" y="533.3" font-size="9.5" fill="#000" font-weight="bold">p</text>
<line x1="229.6" y1="548.5" x2="229.6" y2="615.8" stroke="#444" stroke-width="0.8"/>
<line x1="226.9" y1="556.2" x2="229.6" y2="556.2" stroke="#444" stroke-width="0.8"/>
<text x="225.6" y="558.7" font-size="7.1" text-anchor="end">400</text>
<line x1="226.9" y1="587.1" x2="229.6" y2="587.1" stroke="#444" stroke-width="0.8"/>
<text x="225.6" y="589.6" font-size="7.1" text-anchor="end">200</text>
<line x1="229.6" y1="615.8" x2="306.4" y2="615.8" stroke="#333" stroke-width="0.8"/>
<line x1="229.6" y1="615.8" x2="229.6" y2="617.8" stroke="#333" stroke-width="0.8"/>
<line x1="267.9" y1="615.8" x2="267.9" y2="617.8" stroke="#333" stroke-width="0.8"/>
<line x1="306.4" y1="615.8" x2="306.4" y2="617.8" stroke="#333" stroke-width="0.8"/>
<line x1="267.9" y1="549.5" x2="267.9" y2="615.8" stroke="#333" stroke-width="0.6" stroke-dasharray="1.5 1"/>
<path d="M229.6 611.8 230.2 611.7 230.9 611.5 231.5 611.4 232.2 611.2 232.8 611.1 233.4 610.9 234.1 610.7 234.7 610.6 235.4 610.4 236 610.2 236.6 610 237.3 609.8 237.9 609.6 238.6 609.3 239.2 609.1 239.8 608.8 240.5 608.6 241.1 608.3 241.8 608 242.4 607.6 243 607.3 243.7 606.9 244.3 606.6 245 606.2 245.6 605.7 246.2 605.3 246.9 604.8 247.5 604.3 248.2 603.8 248.8 603.2 249.4 602.6 250.1 601.9 250.7 601.2 251.4 600.4 252 599.6 252.6 598.7 253.3 597.8 253.9 596.8 254.6 595.7 255.2 594.6 255.8 593.3 256.5 592 257.1 590.5 257.8 589 258.4 587.3 259 585.5 259.7 583.6 260.3 581.5 261 579.3 261.6 577 262.2 574.6 262.9 572.1 263.5 569.5 264.2 567 264.8 564.4 265.4 562 266.1 559.8 266.7 558 267.4 556.7 268 556.2 268.6 557 269.3 558.5 269.9 560.5 270.6 562.8 271.2 565.2 271.8 567.8 272.5 570.4 273.1 572.9 273.8 575.4 274.4 577.8 275 580.1 275.7 582.2 276.3 584.2 277 586.1 277.6 587.9 278.2 589.5 278.9 591.1 279.5 592.5 280.2 593.8 280.8 595 281.4 596.2 282.1 597.2 282.7 598.2 283.4 599.1 284 600 284.6 600.8 285.3 601.6 285.9 602.2 286.6 602.9 287.2 603.5 287.8 604.1 288.5 604.6 289.1 605.1 289.8 605.6 290.4 606.1 291 606.5 291.7 606.9 292.3 607.3 293 607.6 293.6 608 294.2 608.3 294.9 608.6 295.5 608.9 296.2 609.1 296.8 609.4 297.4 609.6 298.1 609.9 298.7 610.1 299.4 610.3 300 610.5 300.6 610.7 301.3 610.9 301.9 611.1 302.6 611.2 303.2 611.4 303.8 611.6 304.5 611.7 305.1 611.9 305.8 612 306.4 612.1" fill="none" stroke="#e19a48" stroke-width="0.9"/>
<path d="M229.6 612.4 230.2 612.3 230.9 612.1 231.5 611.9 232.2 611.8 232.8 611.6 233.4 611.4 234.1 611.3 234.7 611.1 235.4 610.9 236 610.6 236.6 610.4 237.3 610.2 237.9 610 238.6 609.7 239.2 609.4 239.8 609.1 240.5 608.8 241.1 608.5 241.8 608.2 242.4 607.8 243 607.5 243.7 607.1 244.3 606.7 245 606.2 245.6 605.8 246.2 605.3 246.9 604.7 247.5 604.2 248.2 603.6 248.8 603 249.4 602.3 250.1 601.6 250.7 600.8 251.4 600 252 599.1 252.6 598.1 253.3 597.1 253.9 596 254.6 594.9 255.2 593.6 255.8 592.3 256.5 590.8 257.1 589.3 257.8 587.6 258.4 585.8 259 583.9 259.7 581.8 260.3 579.6 261 577.3 261.6 574.9 262.2 572.3 262.9 569.7 263.5 567 264.2 564.3 264.8 561.6 265.4 559.1 266.1 556.8 266.7 555 267.4 553.6 268 553.1 268.6 554 269.3 555.5 269.9 557.5 270.6 559.9 271.2 562.5 271.8 565.2 272.5 567.9 273.1 570.6 273.8 573.2 274.4 575.7 275 578.1 275.7 580.4 276.3 582.5 277 584.6 277.6 586.4 278.2 588.2 278.9 589.8 279.5 591.4 280.2 592.8 280.8 594.1 281.4 595.3 282.1 596.5 282.7 597.6 283.4 598.6 284 599.5 284.6 600.4 285.3 601.2 285.9 601.9 286.6 602.6 287.2 603.3 287.8 603.9 288.5 604.5 289.1 605.1 289.8 605.6 290.4 606.1 291 606.6 291.7 607 292.3 607.4 293 607.8 293.6 608.2 294.2 608.5 294.9 608.8 295.5 609.2 296.2 609.5 296.8 609.7 297.4 610 298.1 610.3 298.7 610.5 299.4 610.8 300 611 300.6 611.2 301.3 611.4 301.9 611.6 302.6 611.8 303.2 612 303.8 612.1 304.5 612.3 305.1 612.4 305.8 612.6 306.4 612.7" fill="none" stroke="#4a6fc6" stroke-width="1.0" stroke-dasharray="1.8 1.1"/>
<path d="M229.6 612.2 230.2 612.1 230.9 612 231.5 611.8 232.2 611.6 232.8 611.5 233.4 611.3 234.1 611.1 234.7 610.9 235.4 610.7 236 610.5 236.6 610.3 237.3 610.1 237.9 609.8 238.6 609.6 239.2 609.3 239.8 609 240.5 608.7 241.1 608.4 241.8 608.1 242.4 607.8 243 607.4 243.7 607 244.3 606.6 245 606.2 245.6 605.7 246.2 605.2 246.9 604.7 247.5 604.2 248.2 603.6 248.8 603 249.4 602.3 250.1 601.6 250.7 600.8 251.4 600 252 599.1 252.6 598.2 253.3 597.2 253.9 596.1 254.6 595 255.2 593.8 255.8 592.4 256.5 591 257.1 589.5 257.8 587.8 258.4 586.1 259 584.2 259.7 582.1 260.3 580 261 577.7 261.6 575.3 262.2 572.8 262.9 570.2 263.5 567.6 264.2 564.9 264.8 562.3 265.4 559.8 266.1 557.6 266.7 555.7 267.4 554.4 268 553.9 268.6 554.7 269.3 556.2 269.9 558.2 270.6 560.6 271.2 563.1 271.8 565.7 272.5 568.4 273.1 571.1 273.8 573.6 274.4 576.1 275 578.5 275.7 580.7 276.3 582.9 277 584.8 277.6 586.7 278.2 588.4 278.9 590 279.5 591.5 280.2 592.9 280.8 594.3 281.4 595.5 282.1 596.6 282.7 597.6 283.4 598.6 284 599.5 284.6 600.4 285.3 601.2 285.9 601.9 286.6 602.6 287.2 603.3 287.8 603.9 288.5 604.5 289.1 605 289.8 605.6 290.4 606 291 606.5 291.7 606.9 292.3 607.3 293 607.7 293.6 608.1 294.2 608.4 294.9 608.7 295.5 609.1 296.2 609.4 296.8 609.6 297.4 609.9 298.1 610.2 298.7 610.4 299.4 610.6 300 610.8 300.6 611.1 301.3 611.3 301.9 611.5 302.6 611.6 303.2 611.8 303.8 612 304.5 612.1 305.1 612.3 305.8 612.4 306.4 612.6" fill="none" stroke="#4e9a4e" stroke-width="1.0" stroke-dasharray="1.8 1.1"/>
<path d="M229.6 612.1 230.2 612 230.9 611.9 231.5 611.8 232.2 611.7 232.8 611.6 233.4 611.5 234.1 611.3 234.7 611.2 235.4 611.1 236 610.9 236.6 610.8 237.3 610.6 237.9 610.4 238.6 610.3 239.2 610.1 239.8 609.9 240.5 609.7 241.1 609.4 241.8 609.2 242.4 609 243 608.7 243.7 608.4 244.3 608.1 245 607.8 245.6 607.5 246.2 607.1 246.9 606.7 247.5 606.3 248.2 605.9 248.8 605.5 249.4 605 250.1 604.4 250.7 603.9 251.4 603.3 252 602.6 252.6 601.9 253.3 601.2 253.9 600.4 254.6 599.5 255.2 598.6 255.8 597.6 256.5 596.5 257.1 595.4 257.8 594.1 258.4 592.8 259 591.4 259.7 589.9 260.3 588.3 261 586.6 261.6 584.8 262.2 583 262.9 581.1 263.5 579.3 264.2 577.4 264.8 575.6 265.4 574 266.1 572.6 266.7 571.4 267.4 570.7 268 570.4 268.6 570.9 269.3 571.8 269.9 573 270.6 574.5 271.2 576.2 271.8 578 272.5 579.9 273.1 581.8 273.8 583.6 274.4 585.5 275 587.2 275.7 588.9 276.3 590.4 277 591.9 277.6 593.3 278.2 594.6 278.9 595.8 279.5 597 280.2 598 280.8 599 281.4 599.9 282.1 600.8 282.7 601.6 283.4 602.3 284 603 284.6 603.6 285.3 604.2 285.9 604.8 286.6 605.3 287.2 605.8 287.8 606.2 288.5 606.6 289.1 607 289.8 607.4 290.4 607.8 291 608.1 291.7 608.4 292.3 608.7 293 609 293.6 609.2 294.2 609.5 294.9 609.7 295.5 609.9 296.2 610.2 296.8 610.4 297.4 610.5 298.1 610.7 298.7 610.9 299.4 611.1 300 611.2 300.6 611.4 301.3 611.5 301.9 611.6 302.6 611.8 303.2 611.9 303.8 612 304.5 612.1 305.1 612.2 305.8 612.3 306.4 612.4" fill="none" stroke="#b8282e" stroke-width="0.9"/>
<text x="268.4" y="540.8" font-size="7.1" text-anchor="middle">Cluster 1</text>
<text x="231.6" y="629" font-size="7.1" text-anchor="middle">-2500</text>
<text x="303.6" y="629" font-size="7.1" text-anchor="middle">+2500</text>
<text x="267.9" y="625.5" font-size="7.1" text-anchor="middle">Peak</text>
<text x="267.9" y="633.1" font-size="7.1" text-anchor="middle">centre</text>
<line x1="327.6" y1="547.5" x2="327.6" y2="615.8" stroke="#444" stroke-width="0.8"/>
<line x1="324.9" y1="562.7" x2="327.6" y2="562.7" stroke="#444" stroke-width="0.8"/>
<text x="323.6" y="565.2" font-size="7.1" text-anchor="end">200</text>
<line x1="324.9" y1="591.7" x2="327.6" y2="591.7" stroke="#444" stroke-width="0.8"/>
<text x="323.6" y="594.2" font-size="7.1" text-anchor="end">100</text>
<line x1="327.6" y1="615.8" x2="403.9" y2="615.8" stroke="#333" stroke-width="0.8"/>
<line x1="327.6" y1="615.8" x2="327.6" y2="617.8" stroke="#333" stroke-width="0.8"/>
<line x1="365.6" y1="615.8" x2="365.6" y2="617.8" stroke="#333" stroke-width="0.8"/>
<line x1="403.9" y1="615.8" x2="403.9" y2="617.8" stroke="#333" stroke-width="0.8"/>
<line x1="365.6" y1="548.5" x2="365.6" y2="615.8" stroke="#333" stroke-width="0.6" stroke-dasharray="1.5 1"/>
<path d="M327.6 609 328.2 608.9 328.9 608.7 329.5 608.6 330.1 608.4 330.8 608.2 331.4 608.1 332.1 607.9 332.7 607.7 333.3 607.5 334 607.3 334.6 607 335.2 606.8 335.9 606.6 336.5 606.3 337.1 606.1 337.8 605.8 338.4 605.5 339 605.2 339.7 604.9 340.3 604.5 341 604.2 341.6 603.8 342.2 603.4 342.9 603 343.5 602.6 344.1 602.1 344.8 601.6 345.4 601.1 346 600.6 346.7 600 347.3 599.4 347.9 598.7 348.6 598.1 349.2 597.3 349.9 596.5 350.5 595.7 351.1 594.8 351.8 593.9 352.4 592.9 353 591.8 353.7 590.6 354.3 589.4 354.9 588 355.6 586.6 356.2 585.1 356.8 583.4 357.5 581.7 358.1 579.8 358.8 577.7 359.4 575.6 360 573.3 360.7 570.9 361.3 568.4 361.9 565.8 362.6 563.2 363.2 560.5 363.8 558 364.5 555.7 365.1 553.9 365.8 553.3 366.4 554.7 367 556.8 367.7 559.2 368.3 561.8 368.9 564.5 369.6 567.1 370.2 569.7 370.8 572.1 371.5 574.5 372.1 576.7 372.7 578.8 373.4 580.8 374 582.6 374.7 584.3 375.3 585.9 375.9 587.4 376.6 588.8 377.2 590.1 377.8 591.4 378.5 592.5 379.1 593.6 379.7 594.5 380.4 595.5 381 596.3 381.6 597.2 382.3 597.9 382.9 598.6 383.6 599.3 384.2 600 384.8 600.6 385.5 601.1 386.1 601.7 386.7 602.2 387.4 602.7 388 603.1 388.6 603.6 389.3 604 389.9 604.4 390.5 604.7 391.2 605.1 391.8 605.4 392.5 605.7 393.1 606 393.7 606.3 394.4 606.6 395 606.9 395.6 607.1 396.3 607.4 396.9 607.6 397.5 607.8 398.2 608.1 398.8 608.3 399.4 608.5 400.1 608.7 400.7 608.9 401.4 609 402 609.2 402.6 609.4 403.3 609.5 403.9 609.7" fill="none" stroke="#e19a48" stroke-width="0.9"/>
<path d="M327.6 611.9 328.2 611.8 328.9 611.6 329.5 611.4 330.1 611.2 330.8 611 331.4 610.8 332.1 610.6 332.7 610.4 333.3 610.2 334 610 334.6 609.7 335.2 609.5 335.9 609.2 336.5 608.9 337.1 608.7 337.8 608.4 338.4 608 339 607.7 339.7 607.4 340.3 607 341 606.6 341.6 606.2 342.2 605.8 342.9 605.3 343.5 604.9 344.1 604.4 344.8 603.8 345.4 603.3 346 602.7 346.7 602.1 347.3 601.4 347.9 600.7 348.6 600 349.2 599.2 349.9 598.4 350.5 597.5 351.1 596.5 351.8 595.5 352.4 594.4 353 593.2 353.7 592 354.3 590.6 354.9 589.2 355.6 587.6 356.2 586 356.8 584.2 357.5 582.3 358.1 580.3 358.8 578.1 359.4 575.8 360 573.4 360.7 570.8 361.3 568.1 361.9 565.3 362.6 562.5 363.2 559.6 363.8 556.9 364.5 554.4 365.1 552.5 365.8 551.8 366.4 553.3 367 555.6 367.7 558.2 368.3 560.9 368.9 563.8 369.6 566.6 370.2 569.4 370.8 572 371.5 574.5 372.1 576.9 372.7 579.2 373.4 581.3 374 583.2 374.7 585.1 375.3 586.8 375.9 588.4 376.6 589.9 377.2 591.3 377.8 592.6 378.5 593.8 379.1 594.9 379.7 596 380.4 597 381 597.9 381.6 598.8 382.3 599.6 382.9 600.3 383.6 601.1 384.2 601.7 384.8 602.4 385.5 603 386.1 603.6 386.7 604.1 387.4 604.6 388 605.1 388.6 605.6 389.3 606 389.9 606.4 390.5 606.8 391.2 607.2 391.8 607.5 392.5 607.9 393.1 608.2 393.7 608.5 394.4 608.8 395 609.1 395.6 609.3 396.3 609.6 396.9 609.8 397.5 610.1 398.2 610.3 398.8 610.5 399.4 610.7 400.1 610.9 400.7 611.1 401.4 611.3 402 611.5 402.6 611.7 403.3 611.8 403.9 612" fill="none" stroke="#4a6fc6" stroke-width="1.0" stroke-dasharray="1.8 1.1"/>
<path d="M327.6 610.5 328.2 610.3 328.9 610.2 329.5 610 330.1 609.8 330.8 609.7 331.4 609.5 332.1 609.3 332.7 609.1 333.3 608.9 334 608.7 334.6 608.4 335.2 608.2 335.9 607.9 336.5 607.7 337.1 607.4 337.8 607.1 338.4 606.8 339 606.5 339.7 606.2 340.3 605.8 341 605.5 341.6 605.1 342.2 604.7 342.9 604.3 343.5 603.8 344.1 603.4 344.8 602.9 345.4 602.4 346 601.8 346.7 601.2 347.3 600.6 347.9 599.9 348.6 599.2 349.2 598.5 349.9 597.7 350.5 596.8 351.1 595.9 351.8 595 352.4 593.9 353 592.8 353.7 591.6 354.3 590.4 354.9 589 355.6 587.5 356.2 586 356.8 584.3 357.5 582.5 358.1 580.6 358.8 578.5 359.4 576.3 360 574 360.7 571.5 361.3 569 361.9 566.3 362.6 563.6 363.2 561 363.8 558.4 364.5 556 365.1 554.2 365.8 553.6 366.4 555 367 557.1 367.7 559.6 368.3 562.2 368.9 564.9 369.6 567.6 370.2 570.2 370.8 572.8 371.5 575.2 372.1 577.4 372.7 579.5 373.4 581.5 374 583.4 374.7 585.2 375.3 586.8 375.9 588.3 376.6 589.7 377.2 591.1 377.8 592.3 378.5 593.4 379.1 594.5 379.7 595.5 380.4 596.5 381 597.4 381.6 598.2 382.3 599 382.9 599.7 383.6 600.4 384.2 601 384.8 601.6 385.5 602.2 386.1 602.8 386.7 603.3 387.4 603.8 388 604.2 388.6 604.7 389.3 605.1 389.9 605.5 390.5 605.8 391.2 606.2 391.8 606.5 392.5 606.9 393.1 607.2 393.7 607.5 394.4 607.8 395 608 395.6 608.3 396.3 608.5 396.9 608.8 397.5 609 398.2 609.2 398.8 609.4 399.4 609.6 400.1 609.8 400.7 610 401.4 610.2 402 610.4 402.6 610.5 403.3 610.7 403.9 610.8" fill="none" stroke="#4e9a4e" stroke-width="1.0" stroke-dasharray="1.8 1.1"/>
<path d="M327.6 608.2 328.2 608 328.9 607.8 329.5 607.7 330.1 607.5 330.8 607.3 331.4 607.1 332.1 607 332.7 606.7 333.3 606.5 334 606.3 334.6 606.1 335.2 605.8 335.9 605.6 336.5 605.3 337.1 605.1 337.8 604.8 338.4 604.5 339 604.2 339.7 603.8 340.3 603.5 341 603.1 341.6 602.7 342.2 602.3 342.9 601.9 343.5 601.5 344.1 601 344.8 600.5 345.4 599.9 346 599.4 346.7 598.8 347.3 598.2 347.9 597.5 348.6 596.8 349.2 596 349.9 595.2 350.5 594.4 351.1 593.5 351.8 592.5 352.4 591.5 353 590.4 353.7 589.2 354.3 587.9 354.9 586.6 355.6 585.2 356.2 583.6 356.8 582 357.5 580.2 358.1 578.3 358.8 576.3 359.4 574.2 360 572 360.7 569.6 361.3 567.2 361.9 564.6 362.6 562.1 363.2 559.6 363.8 557.2 364.5 555 365.1 553.3 365.8 552.7 366.4 554 367 556 367.7 558.3 368.3 560.8 368.9 563.4 369.6 565.9 370.2 568.4 370.8 570.9 371.5 573.2 372.1 575.4 372.7 577.4 373.4 579.4 374 581.2 374.7 583 375.3 584.6 375.9 586.1 376.6 587.5 377.2 588.8 377.8 590 378.5 591.2 379.1 592.3 379.7 593.3 380.4 594.3 381 595.2 381.6 596 382.3 596.8 382.9 597.5 383.6 598.2 384.2 598.9 384.8 599.5 385.5 600.1 386.1 600.7 386.7 601.2 387.4 601.7 388 602.2 388.6 602.6 389.3 603.1 389.9 603.5 390.5 603.9 391.2 604.2 391.8 604.6 392.5 604.9 393.1 605.2 393.7 605.6 394.4 605.8 395 606.1 395.6 606.4 396.3 606.7 396.9 606.9 397.5 607.2 398.2 607.4 398.8 607.6 399.4 607.8 400.1 608 400.7 608.2 401.4 608.4 402 608.6 402.6 608.8 403.3 608.9 403.9 609.1" fill="none" stroke="#b8282e" stroke-width="0.9"/>
<text x="366.1" y="540.8" font-size="7.1" text-anchor="middle">Cluster 2</text>
<text x="329.6" y="629" font-size="7.1" text-anchor="middle">-2500</text>
<text x="401.1" y="629" font-size="7.1" text-anchor="middle">+2500</text>
<text x="365.6" y="625.5" font-size="7.1" text-anchor="middle">Peak</text>
<text x="365.6" y="633.1" font-size="7.1" text-anchor="middle">centre</text>
<line x1="425.4" y1="549.4" x2="425.4" y2="615.8" stroke="#444" stroke-width="0.8"/>
<line x1="422.7" y1="562.7" x2="425.4" y2="562.7" stroke="#444" stroke-width="0.8"/>
<text x="421.4" y="565.2" font-size="7.1" text-anchor="end">80</text>
<line x1="422.7" y1="592.1" x2="425.4" y2="592.1" stroke="#444" stroke-width="0.8"/>
<text x="421.4" y="594.6" font-size="7.1" text-anchor="end">40</text>
<line x1="425.4" y1="615.8" x2="501.7" y2="615.8" stroke="#333" stroke-width="0.8"/>
<line x1="425.4" y1="615.8" x2="425.4" y2="617.8" stroke="#333" stroke-width="0.8"/>
<line x1="463.8" y1="615.8" x2="463.8" y2="617.8" stroke="#333" stroke-width="0.8"/>
<line x1="501.7" y1="615.8" x2="501.7" y2="617.8" stroke="#333" stroke-width="0.8"/>
<line x1="463.8" y1="550.4" x2="463.8" y2="615.8" stroke="#333" stroke-width="0.6" stroke-dasharray="1.5 1"/>
<path d="M425.4 611.9 426 611.9 426.7 611.9 427.3 611.9 427.9 611.9 428.6 611.9 429.2 611.9 429.9 611.9 430.5 611.9 431.1 611.9 431.8 611.8 432.4 611.8 433 611.8 433.7 611.8 434.3 611.8 434.9 611.7 435.6 611.7 436.2 611.7 436.8 611.7 437.5 611.6 438.1 611.6 438.8 611.5 439.4 611.5 440 611.5 440.7 611.4 441.3 611.3 441.9 611.3 442.6 611.2 443.2 611.1 443.8 611.1 444.5 611 445.1 610.9 445.7 610.7 446.4 610.6 447 610.5 447.7 610.3 448.3 610.2 448.9 610 449.6 609.8 450.2 609.6 450.8 609.3 451.5 609 452.1 608.7 452.7 608.3 453.4 607.9 454 607.4 454.6 606.9 455.3 606.3 455.9 605.6 456.6 604.9 457.2 604 457.8 603 458.5 601.9 459.1 600.6 459.7 599.3 460.4 597.8 461 596.4 461.6 594.9 462.3 593.6 462.9 592.7 463.5 592.2 464.2 592.2 464.8 592.9 465.5 594 466.1 595.3 466.7 596.8 467.4 598.3 468 599.7 468.6 601.1 469.3 602.3 469.9 603.4 470.5 604.4 471.2 605.3 471.8 606.1 472.5 606.8 473.1 607.4 473.7 607.9 474.4 608.4 475 608.8 475.6 609.2 476.3 609.6 476.9 609.9 477.5 610.1 478.2 610.4 478.8 610.6 479.4 610.8 480.1 611 480.7 611.2 481.4 611.3 482 611.5 482.6 611.6 483.3 611.7 483.9 611.8 484.5 612 485.2 612.1 485.8 612.1 486.4 612.2 487.1 612.3 487.7 612.4 488.3 612.5 489 612.5 489.6 612.6 490.3 612.7 490.9 612.7 491.5 612.8 492.2 612.8 492.8 612.9 493.4 612.9 494.1 613 494.7 613 495.3 613.1 496 613.1 496.6 613.1 497.2 613.2 497.9 613.2 498.5 613.2 499.2 613.3 499.8 613.3 500.4 613.3 501.1 613.4 501.7 613.4" fill="none" stroke="#e19a48" stroke-width="0.9"/>
<path d="M425.4 611.9 426 611.9 426.7 611.9 427.3 611.9 427.9 611.9 428.6 611.9 429.2 611.9 429.9 611.8 430.5 611.8 431.1 611.8 431.8 611.8 432.4 611.8 433 611.7 433.7 611.7 434.3 611.7 434.9 611.7 435.6 611.6 436.2 611.6 436.8 611.6 437.5 611.5 438.1 611.5 438.8 611.4 439.4 611.4 440 611.3 440.7 611.3 441.3 611.2 441.9 611.1 442.6 611.1 443.2 611 443.8 610.9 444.5 610.8 445.1 610.7 445.7 610.6 446.4 610.5 447 610.3 447.7 610.2 448.3 610 448.9 609.8 449.6 609.6 450.2 609.4 450.8 609.1 451.5 608.8 452.1 608.4 452.7 608 453.4 607.6 454 607.1 454.6 606.5 455.3 605.8 455.9 604.9 456.6 604 457.2 602.8 457.8 601.4 458.5 599.8 459.1 597.8 459.7 595.4 460.4 592.6 461 589.3 461.6 585.7 462.3 581.8 462.9 578.4 463.5 576.2 464.2 576.5 464.8 579.1 465.5 582.7 466.1 586.5 466.7 590.1 467.4 593.3 468 596 468.6 598.3 469.3 600.3 469.9 601.9 470.5 603.2 471.2 604.3 471.8 605.3 472.5 606.1 473.1 606.8 473.7 607.4 474.4 607.9 475 608.3 475.6 608.7 476.3 609.1 476.9 609.4 477.5 609.7 478.2 609.9 478.8 610.1 479.4 610.3 480.1 610.5 480.7 610.7 481.4 610.8 482 611 482.6 611.1 483.3 611.2 483.9 611.3 484.5 611.4 485.2 611.5 485.8 611.6 486.4 611.7 487.1 611.7 487.7 611.8 488.3 611.9 489 611.9 489.6 612 490.3 612 490.9 612.1 491.5 612.1 492.2 612.2 492.8 612.2 493.4 612.3 494.1 612.3 494.7 612.3 495.3 612.4 496 612.4 496.6 612.4 497.2 612.5 497.9 612.5 498.5 612.5 499.2 612.6 499.8 612.6 500.4 612.6 501.1 612.6 501.7 612.7" fill="none" stroke="#4a6fc6" stroke-width="1.0" stroke-dasharray="1.8 1.1"/>
<path d="M425.4 612.7 426 612.7 426.7 612.7 427.3 612.6 427.9 612.6 428.6 612.6 429.2 612.6 429.9 612.6 430.5 612.5 431.1 612.5 431.8 612.5 432.4 612.5 433 612.5 433.7 612.4 434.3 612.4 434.9 612.4 435.6 612.3 436.2 612.3 436.8 612.3 437.5 612.2 438.1 612.2 438.8 612.1 439.4 612.1 440 612 440.7 612 441.3 611.9 441.9 611.9 442.6 611.8 443.2 611.7 443.8 611.7 444.5 611.6 445.1 611.5 445.7 611.4 446.4 611.3 447 611.1 447.7 611 448.3 610.9 448.9 610.7 449.6 610.5 450.2 610.3 450.8 610.1 451.5 609.9 452.1 609.6 452.7 609.3 453.4 608.9 454 608.5 454.6 608.1 455.3 607.6 455.9 607 456.6 606.4 457.2 605.6 457.8 604.8 458.5 603.9 459.1 602.9 459.7 601.7 460.4 600.5 461 599.3 461.6 598.1 462.3 597.1 462.9 596.3 463.5 595.8 464.2 595.9 464.8 596.4 465.5 597.3 466.1 598.4 466.7 599.6 467.4 600.8 468 602 468.6 603.1 469.3 604.1 469.9 605 470.5 605.8 471.2 606.5 471.8 607.1 472.5 607.7 473.1 608.2 473.7 608.6 474.4 609 475 609.3 475.6 609.6 476.3 609.9 476.9 610.2 477.5 610.4 478.2 610.6 478.8 610.7 479.4 610.9 480.1 611 480.7 611.2 481.4 611.3 482 611.4 482.6 611.5 483.3 611.6 483.9 611.7 484.5 611.7 485.2 611.8 485.8 611.9 486.4 611.9 487.1 612 487.7 612.1 488.3 612.1 489 612.2 489.6 612.2 490.3 612.2 490.9 612.3 491.5 612.3 492.2 612.3 492.8 612.4 493.4 612.4 494.1 612.4 494.7 612.5 495.3 612.5 496 612.5 496.6 612.5 497.2 612.5 497.9 612.6 498.5 612.6 499.2 612.6 499.8 612.6 500.4 612.6 501.1 612.7 501.7 612.7" fill="none" stroke="#4e9a4e" stroke-width="1.0" stroke-dasharray="1.8 1.1"/>
<path d="M425.4 609.7 426 609.7 426.7 609.7 427.3 609.6 427.9 609.6 428.6 609.5 429.2 609.5 429.9 609.4 430.5 609.3 431.1 609.2 431.8 609.1 432.4 608.9 433 608.7 433.7 608.6 434.3 608.3 434.9 608.1 435.6 607.9 436.2 607.6 436.8 607.4 437.5 607.1 438.1 606.9 438.8 606.7 439.4 606.5 440 606.4 440.7 606.3 441.3 606.2 441.9 606.1 442.6 606.1 443.2 606 443.8 606 444.5 605.9 445.1 605.8 445.7 605.7 446.4 605.5 447 605.3 447.7 605 448.3 604.7 448.9 604.3 449.6 603.8 450.2 603.3 450.8 602.7 451.5 602 452.1 601.2 452.7 600.2 453.4 599.2 454 597.9 454.6 596.5 455.3 594.9 455.9 593.1 456.6 590.9 457.2 588.5 457.8 585.7 458.5 582.5 459.1 578.9 459.7 574.9 460.4 570.6 461 566.2 461.6 561.9 462.3 558.2 462.9 555.4 463.5 554 464.2 554.2 464.8 555.9 465.5 558.9 466.1 562.8 466.7 567.2 467.4 571.6 468 575.8 468.6 579.8 469.3 583.3 469.9 586.4 470.5 589.2 471.2 591.6 471.8 593.7 472.5 595.5 473.1 597 473.7 598.4 474.4 599.6 475 600.7 475.6 601.6 476.3 602.4 476.9 603.1 477.5 603.7 478.2 604.3 478.8 604.8 479.4 605.2 480.1 605.5 480.7 605.8 481.4 606.1 482 606.3 482.6 606.5 483.3 606.6 483.9 606.7 484.5 606.8 485.2 606.9 485.8 606.9 486.4 607 487.1 607.1 487.7 607.2 488.3 607.4 489 607.5 489.6 607.7 490.3 607.9 490.9 608.1 491.5 608.4 492.2 608.6 492.8 608.8 493.4 609 494.1 609.2 494.7 609.4 495.3 609.6 496 609.7 496.6 609.8 497.2 610 497.9 610.1 498.5 610.1 499.2 610.2 499.8 610.3 500.4 610.3 501.1 610.4 501.7 610.4" fill="none" stroke="#b8282e" stroke-width="0.9"/>
<text x="464.3" y="540.8" font-size="7.1" text-anchor="middle">Cluster 3</text>
<text x="427.4" y="629" font-size="7.1" text-anchor="middle">-2500</text>
<text x="498.9" y="629" font-size="7.1" text-anchor="middle">+2500</text>
<text x="463.8" y="625.5" font-size="7.1" text-anchor="middle">Peak</text>
<text x="463.8" y="633.1" font-size="7.1" text-anchor="middle">centre</text>
<line x1="522.8" y1="547.5" x2="522.8" y2="615.8" stroke="#444" stroke-width="0.8"/>
<line x1="520.1" y1="562.11" x2="522.8" y2="562.11" stroke="#444" stroke-width="0.8"/>
<text x="518.8" y="564.61" font-size="7.1" text-anchor="end">150</text>
<line x1="520.1" y1="583.24" x2="522.8" y2="583.24" stroke="#444" stroke-width="0.8"/>
<text x="518.8" y="585.74" font-size="7.1" text-anchor="end">100</text>
<line x1="520.1" y1="604.37" x2="522.8" y2="604.37" stroke="#444" stroke-width="0.8"/>
<text x="518.8" y="606.87" font-size="7.1" text-anchor="end">50</text>
<line x1="522.8" y1="615.8" x2="600.1" y2="615.8" stroke="#333" stroke-width="0.8"/>
<line x1="522.8" y1="615.8" x2="522.8" y2="617.8" stroke="#333" stroke-width="0.8"/>
<line x1="561" y1="615.8" x2="561" y2="617.8" stroke="#333" stroke-width="0.8"/>
<line x1="600.1" y1="615.8" x2="600.1" y2="617.8" stroke="#333" stroke-width="0.8"/>
<line x1="561" y1="548.5" x2="561" y2="615.8" stroke="#333" stroke-width="0.6" stroke-dasharray="1.5 1"/>
<path d="M522.8 610.1 523.4 610 524.1 609.9 524.7 609.8 525.4 609.6 526 609.5 526.7 609.4 527.3 609.2 528 609.1 528.6 608.9 529.2 608.7 529.9 608.6 530.5 608.4 531.2 608.2 531.8 608 532.5 607.8 533.1 607.5 533.8 607.3 534.4 607 535 606.8 535.7 606.5 536.3 606.2 537 605.9 537.6 605.5 538.3 605.2 538.9 604.8 539.5 604.4 540.2 603.9 540.8 603.5 541.5 603 542.1 602.5 542.8 601.9 543.4 601.3 544.1 600.7 544.7 600 545.3 599.3 546 598.5 546.6 597.7 547.3 596.8 547.9 595.9 548.6 594.8 549.2 593.7 549.9 592.6 550.5 591.3 551.1 589.9 551.8 588.5 552.4 586.9 553.1 585.3 553.7 583.5 554.4 581.7 555 579.8 555.7 577.8 556.3 575.7 556.9 573.6 557.6 571.6 558.2 569.6 558.9 567.8 559.5 566.2 560.2 565 560.8 564.3 561.4 564.5 562.1 565.5 562.7 566.9 563.4 568.6 564 570.5 564.7 572.5 565.3 574.6 566 576.6 566.6 578.7 567.2 580.7 567.9 582.6 568.5 584.4 569.2 586.1 569.8 587.8 570.5 589.3 571.1 590.7 571.8 592 572.4 593.3 573 594.5 573.7 595.5 574.3 596.6 575 597.5 575.6 598.4 576.3 599.2 576.9 600 577.6 600.7 578.2 601.3 578.8 602 579.5 602.6 580.1 603.1 580.8 603.6 581.4 604.1 582.1 604.6 582.7 605 583.4 605.4 584 605.8 584.6 606.2 585.3 606.5 585.9 606.8 586.6 607.1 587.2 607.4 587.9 607.7 588.5 608 589.1 608.2 589.8 608.5 590.4 608.7 591.1 608.9 591.7 609.1 592.4 609.3 593 609.5 593.7 609.7 594.3 609.9 594.9 610 595.6 610.2 596.2 610.3 596.9 610.5 597.5 610.6 598.2 610.8 598.8 610.9 599.5 611 600.1 611.1" fill="none" stroke="#e19a48" stroke-width="0.9"/>
<path d="M522.8 611 523.4 610.9 524.1 610.8 524.7 610.7 525.4 610.5 526 610.4 526.7 610.3 527.3 610.1 528 610 528.6 609.8 529.2 609.7 529.9 609.5 530.5 609.3 531.2 609.2 531.8 609 532.5 608.8 533.1 608.5 533.8 608.3 534.4 608.1 535 607.8 535.7 607.5 536.3 607.3 537 607 537.6 606.6 538.3 606.3 538.9 605.9 539.5 605.6 540.2 605.1 540.8 604.7 541.5 604.2 542.1 603.7 542.8 603.2 543.4 602.7 544.1 602 544.7 601.4 545.3 600.7 546 599.9 546.6 599.1 547.3 598.3 547.9 597.4 548.6 596.3 549.2 595.3 549.9 594.1 550.5 592.9 551.1 591.5 551.8 590.1 552.4 588.5 553.1 586.9 553.7 585.1 554.4 583.2 555 581.3 555.7 579.2 556.3 577.1 556.9 575 557.6 572.8 558.2 570.8 558.9 568.9 559.5 567.2 560.2 565.9 560.8 565.1 561.4 565.4 562.1 566.4 562.7 567.9 563.4 569.7 564 571.7 564.7 573.8 565.3 575.9 566 578.1 566.6 580.2 567.2 582.2 567.9 584.2 568.5 586 569.2 587.7 569.8 589.3 570.5 590.9 571.1 592.3 571.8 593.6 572.4 594.8 573 596 573.7 597 574.3 598 575 598.9 575.6 599.8 576.3 600.6 576.9 601.3 577.6 602 578.2 602.7 578.8 603.3 579.5 603.8 580.1 604.4 580.8 604.9 581.4 605.3 582.1 605.8 582.7 606.2 583.4 606.6 584 606.9 584.6 607.3 585.3 607.6 585.9 607.9 586.6 608.2 587.2 608.5 587.9 608.8 588.5 609 589.1 609.2 589.8 609.5 590.4 609.7 591.1 609.9 591.7 610.1 592.4 610.3 593 610.4 593.7 610.6 594.3 610.8 594.9 610.9 595.6 611.1 596.2 611.2 596.9 611.4 597.5 611.5 598.2 611.6 598.8 611.7 599.5 611.9 600.1 612" fill="none" stroke="#4a6fc6" stroke-width="1.0" stroke-dasharray="1.8 1.1"/>
<path d="M522.8 611.4 523.4 611.3 524.1 611.2 524.7 611.1 525.4 611 526 610.9 526.7 610.7 527.3 610.6 528 610.5 528.6 610.3 529.2 610.2 529.9 610 530.5 609.9 531.2 609.7 531.8 609.5 532.5 609.3 533.1 609.1 533.8 608.9 534.4 608.7 535 608.4 535.7 608.2 536.3 607.9 537 607.6 537.6 607.3 538.3 607 538.9 606.7 539.5 606.3 540.2 605.9 540.8 605.5 541.5 605.1 542.1 604.6 542.8 604.1 543.4 603.6 544.1 603.1 544.7 602.5 545.3 601.8 546 601.1 546.6 600.4 547.3 599.6 547.9 598.7 548.6 597.8 549.2 596.9 549.9 595.8 550.5 594.7 551.1 593.5 551.8 592.2 552.4 590.8 553.1 589.3 553.7 587.8 554.4 586.1 555 584.4 555.7 582.6 556.3 580.8 556.9 578.9 557.6 577.1 558.2 575.4 558.9 573.7 559.5 572.3 560.2 571.3 560.8 570.6 561.4 570.8 562.1 571.7 562.7 572.9 563.4 574.4 564 576.1 564.7 577.9 565.3 579.8 566 581.6 566.6 583.5 567.2 585.2 567.9 586.9 568.5 588.6 569.2 590.1 569.8 591.5 570.5 592.9 571.1 594.2 571.8 595.4 572.4 596.5 573 597.5 573.7 598.5 574.3 599.4 575 600.2 575.6 601 576.3 601.7 576.9 602.4 577.6 603.1 578.2 603.7 578.8 604.2 579.5 604.7 580.1 605.2 580.8 605.7 581.4 606.1 582.1 606.5 582.7 606.9 583.4 607.3 584 607.6 584.6 608 585.3 608.3 585.9 608.6 586.6 608.8 587.2 609.1 587.9 609.3 588.5 609.6 589.1 609.8 589.8 610 590.4 610.2 591.1 610.4 591.7 610.6 592.4 610.8 593 610.9 593.7 611.1 594.3 611.3 594.9 611.4 595.6 611.6 596.2 611.7 596.9 611.8 597.5 611.9 598.2 612.1 598.8 612.2 599.5 612.3 600.1 612.4" fill="none" stroke="#4e9a4e" stroke-width="1.0" stroke-dasharray="1.8 1.1"/>
<path d="M522.8 608.4 523.4 608.3 524.1 608.1 524.7 607.9 525.4 607.8 526 607.6 526.7 607.4 527.3 607.2 528 607 528.6 606.8 529.2 606.6 529.9 606.4 530.5 606.2 531.2 605.9 531.8 605.6 532.5 605.4 533.1 605.1 533.8 604.8 534.4 604.4 535 604.1 535.7 603.7 536.3 603.4 537 603 537.6 602.5 538.3 602.1 538.9 601.6 539.5 601.1 540.2 600.5 540.8 600 541.5 599.3 542.1 598.7 542.8 598 543.4 597.2 544.1 596.4 544.7 595.6 545.3 594.7 546 593.7 546.6 592.6 547.3 591.5 547.9 590.3 548.6 589 549.2 587.6 549.9 586.1 550.5 584.5 551.1 582.8 551.8 581 552.4 579 553.1 576.9 553.7 574.7 554.4 572.4 555 569.9 555.7 567.4 556.3 564.8 556.9 562.2 557.6 559.6 558.2 557.1 558.9 554.8 559.5 552.8 560.2 551.3 560.8 550.4 561.4 550.6 562.1 551.8 562.7 553.6 563.4 555.7 564 558.1 564.7 560.7 565.3 563.3 566 566 566.6 568.5 567.2 571.1 567.9 573.5 568.5 575.8 569.2 577.9 569.8 580 570.5 581.9 571.1 583.7 571.8 585.4 572.4 587 573 588.4 573.7 589.8 574.3 591.1 575 592.3 575.6 593.4 576.3 594.4 576.9 595.4 577.6 596.3 578.2 597.1 578.8 597.9 579.5 598.7 580.1 599.4 580.8 600 581.4 600.6 582.1 601.2 582.7 601.8 583.4 602.3 584 602.8 584.6 603.2 585.3 603.6 585.9 604.1 586.6 604.4 587.2 604.8 587.9 605.2 588.5 605.5 589.1 605.8 589.8 606.1 590.4 606.4 591.1 606.7 591.7 606.9 592.4 607.2 593 607.4 593.7 607.6 594.3 607.9 594.9 608.1 595.6 608.3 596.2 608.4 596.9 608.6 597.5 608.8 598.2 609 598.8 609.1 599.5 609.3 600.1 609.4" fill="none" stroke="#b8282e" stroke-width="0.9"/>
<text x="561.5" y="540.8" font-size="7.1" text-anchor="middle">Cluster 4</text>
<text x="524.8" y="629" font-size="7.1" text-anchor="middle">-2500</text>
<text x="597.3" y="629" font-size="7.1" text-anchor="middle">+2500</text>
<text x="561" y="625.5" font-size="7.1" text-anchor="middle">Peak</text>
<text x="561" y="633.1" font-size="7.1" text-anchor="middle">centre</text>
<text x="581.9" y="554.3" font-size="7.1" fill="#4a6fc6">Vehicle</text>
<text x="581.9" y="559.3" font-size="7.1" fill="#4e9a4e">Vehicle + ACBI1</text>
<text x="581.9" y="564.4" font-size="7.1" fill="#b8282e">DOX</text>
<text x="581.9" y="569.6" font-size="7.1" fill="#e19a48">DOX+ ACBI1</text>
<text x="201.8" y="586.4" font-size="7.1" text-anchor="middle" transform="rotate(-90 201.8 586.4)">Normalised ATAC signal</text>
<text x="209.4" y="586.4" font-size="7.1" text-anchor="middle" transform="rotate(-90 209.4 586.4)">(CPB)</text>
<text x="186" y="648.7" font-size="9.5" fill="#000" font-weight="bold">q</text>
<line x1="226.4" y1="649.7" x2="226.4" y2="716.8" stroke="#444" stroke-width="0.8"/>
<line x1="223.4" y1="654.65" x2="226.4" y2="654.65" stroke="#444" stroke-width="0.8"/>
<text x="222.8" y="657.15" font-size="7.1" text-anchor="end">100</text>
<line x1="223.4" y1="668.1" x2="226.4" y2="668.1" stroke="#444" stroke-width="0.8"/>
<text x="222.8" y="670.6" font-size="7.1" text-anchor="end">80</text>
<line x1="223.4" y1="681.55" x2="226.4" y2="681.55" stroke="#444" stroke-width="0.8"/>
<text x="222.8" y="684.05" font-size="7.1" text-anchor="end">60</text>
<line x1="223.4" y1="695" x2="226.4" y2="695" stroke="#444" stroke-width="0.8"/>
<text x="222.8" y="697.5" font-size="7.1" text-anchor="end">40</text>
<line x1="223.4" y1="708.45" x2="226.4" y2="708.45" stroke="#444" stroke-width="0.8"/>
<text x="222.8" y="710.95" font-size="7.1" text-anchor="end">20</text>
<line x1="226.4" y1="716.8" x2="304.2" y2="716.8" stroke="#333" stroke-width="0.8"/>
<line x1="226.4" y1="716.8" x2="226.4" y2="718.8" stroke="#333" stroke-width="0.8"/>
<line x1="265.4" y1="716.8" x2="265.4" y2="718.8" stroke="#333" stroke-width="0.8"/>
<line x1="304.2" y1="716.8" x2="304.2" y2="718.8" stroke="#333" stroke-width="0.8"/>
<line x1="265.4" y1="650.5" x2="265.4" y2="716.8" stroke="#333" stroke-width="0.6" stroke-dasharray="1.5 1"/>
<path d="M226.4 707.1 227 707 227.7 707 228.3 706.9 229 706.8 229.6 706.7 230.3 706.7 230.9 706.6 231.6 706.5 232.2 706.5 232.9 706.4 233.5 706.4 234.2 706.3 234.8 706.3 235.5 706.3 236.1 706.2 236.8 706.2 237.4 706.1 238.1 706 238.7 705.9 239.4 705.8 240 705.6 240.7 705.4 241.3 705.2 242 704.9 242.6 704.6 243.3 704.3 243.9 703.9 244.6 703.6 245.2 703.2 245.8 702.8 246.5 702.5 247.1 702.1 247.8 701.7 248.4 701.3 249.1 700.9 249.7 700.5 250.4 700 251 699.6 251.7 699.2 252.3 698.7 253 698.2 253.6 697.7 254.3 697.2 254.9 696.7 255.6 696.2 256.2 695.6 256.9 695.1 257.5 694.5 258.2 694 258.8 693.5 259.5 693 260.1 692.5 260.8 692 261.4 691.6 262.1 691.2 262.7 690.9 263.4 690.7 264 690.5 264.7 690.3 265.3 690.3 265.9 690.3 266.6 690.4 267.2 690.6 267.9 690.8 268.5 691.1 269.2 691.4 269.8 691.8 270.5 692.2 271.1 692.7 271.8 693.2 272.4 693.7 273.1 694.2 273.7 694.8 274.4 695.3 275 695.8 275.7 696.3 276.3 696.9 277 697.4 277.6 697.8 278.3 698.3 278.9 698.8 279.6 699.2 280.2 699.6 280.9 700 281.5 700.4 282.2 700.8 282.8 701.2 283.5 701.5 284.1 701.9 284.8 702.3 285.4 702.6 286 702.9 286.7 703.3 287.3 703.6 288 703.9 288.6 704.2 289.3 704.5 289.9 704.8 290.6 705 291.2 705.3 291.9 705.4 292.5 705.6 293.2 705.7 293.8 705.8 294.5 705.9 295.1 705.9 295.8 705.9 296.4 706 297.1 706 297.7 706 298.4 706 299 706 299.7 706.1 300.3 706.1 301 706.2 301.6 706.2 302.3 706.3 302.9 706.3 303.6 706.4 304.2 706.4" fill="none" stroke="#4a6fc6" stroke-width="1.0" stroke-dasharray="1.8 1.1"/>
<path d="M226.4 705.1 227 705 227.7 705 228.3 704.9 229 704.9 229.6 704.8 230.3 704.8 230.9 704.7 231.6 704.6 232.2 704.6 232.9 704.5 233.5 704.4 234.2 704.3 234.8 704.3 235.5 704.2 236.1 704.1 236.8 704 237.4 703.9 238.1 703.8 238.7 703.7 239.4 703.6 240 703.5 240.7 703.3 241.3 703.2 242 703.1 242.6 703 243.3 702.8 243.9 702.7 244.6 702.5 245.2 702.3 245.8 702.2 246.5 702 247.1 701.8 247.8 701.6 248.4 701.4 249.1 701.2 249.7 701 250.4 700.8 251 700.6 251.7 700.3 252.3 700.1 253 699.9 253.6 699.6 254.3 699.4 254.9 699.1 255.6 698.9 256.2 698.6 256.9 698.4 257.5 698.1 258.2 697.9 258.8 697.6 259.5 697.4 260.1 697.2 260.8 697 261.4 696.9 262.1 696.7 262.7 696.6 263.4 696.5 264 696.4 264.7 696.4 265.3 696.3 265.9 696.4 266.6 696.4 267.2 696.5 267.9 696.6 268.5 696.7 269.2 696.8 269.8 697 270.5 697.2 271.1 697.4 271.8 697.6 272.4 697.8 273.1 698 273.7 698.3 274.4 698.5 275 698.8 275.7 699 276.3 699.3 277 699.5 277.6 699.8 278.3 700 278.9 700.3 279.6 700.5 280.2 700.7 280.9 700.9 281.5 701.2 282.2 701.4 282.8 701.6 283.5 701.8 284.1 701.9 284.8 702.1 285.4 702.3 286 702.5 286.7 702.6 287.3 702.8 288 702.9 288.6 703 289.3 703.2 289.9 703.3 290.6 703.4 291.2 703.5 291.9 703.7 292.5 703.8 293.2 703.9 293.8 704 294.5 704.1 295.1 704.1 295.8 704.2 296.4 704.3 297.1 704.4 297.7 704.5 298.4 704.5 299 704.6 299.7 704.7 300.3 704.7 301 704.8 301.6 704.9 302.3 704.9 302.9 705 303.6 705 304.2 705.1" fill="none" stroke="#4e9a4e" stroke-width="1.0" stroke-dasharray="1.8 1.1"/>
<path d="M226.4 704.8 227 704.7 227.7 704.6 228.3 704.5 229 704.4 229.6 704.4 230.3 704.3 230.9 704.2 231.6 704.1 232.2 704 232.9 703.9 233.5 703.8 234.2 703.6 234.8 703.5 235.5 703.4 236.1 703.3 236.8 703.1 237.4 703 238.1 702.8 238.7 702.6 239.4 702.5 240 702.3 240.7 702.1 241.3 701.9 242 701.7 242.6 701.5 243.3 701.2 243.9 701 244.6 700.7 245.2 700.5 245.8 700.2 246.5 699.9 247.1 699.6 247.8 699.3 248.4 698.9 249.1 698.6 249.7 698.2 250.4 697.8 251 697.4 251.7 697 252.3 696.5 253 696.1 253.6 695.6 254.3 695.2 254.9 694.7 255.6 694.2 256.2 693.7 256.9 693.2 257.5 692.7 258.2 692.2 258.8 691.7 259.5 691.3 260.1 690.8 260.8 690.4 261.4 690.1 262.1 689.7 262.7 689.5 263.4 689.3 264 689.1 264.7 689 265.3 688.9 265.9 689 266.6 689.1 267.2 689.2 267.9 689.4 268.5 689.7 269.2 690 269.8 690.4 270.5 690.8 271.1 691.2 271.8 691.6 272.4 692.1 273.1 692.6 273.7 693.1 274.4 693.6 275 694.1 275.7 694.6 276.3 695.1 277 695.6 277.6 696.1 278.3 696.5 278.9 697 279.6 697.4 280.2 697.8 280.9 698.2 281.5 698.6 282.2 699 282.8 699.3 283.5 699.6 284.1 700 284.8 700.3 285.4 700.6 286 700.8 286.7 701.1 287.3 701.4 288 701.6 288.6 701.8 289.3 702.1 289.9 702.3 290.6 702.5 291.2 702.6 291.9 702.8 292.5 703 293.2 703.2 293.8 703.3 294.5 703.5 295.1 703.6 295.8 703.7 296.4 703.9 297.1 704 297.7 704.1 298.4 704.2 299 704.3 299.7 704.4 300.3 704.5 301 704.6 301.6 704.7 302.3 704.8 302.9 704.9 303.6 705 304.2 705.1" fill="none" stroke="#e19a48" stroke-width="0.9"/>
<path d="M226.4 699.7 227 699.6 227.7 699.5 228.3 699.4 229 699.3 229.6 699.1 230.3 699 230.9 698.8 231.6 698.7 232.2 698.5 232.9 698.3 233.5 698.1 234.2 697.9 234.8 697.7 235.5 697.4 236.1 697.2 236.8 696.9 237.4 696.6 238.1 696.2 238.7 695.9 239.4 695.5 240 695.1 240.7 694.7 241.3 694.2 242 693.7 242.6 693.2 243.3 692.6 243.9 691.9 244.6 691.2 245.2 690.5 245.8 689.7 246.5 688.8 247.1 687.9 247.8 686.9 248.4 685.8 249.1 684.7 249.7 683.5 250.4 682.1 251 680.7 251.7 679.3 252.3 677.7 253 676.1 253.6 674.4 254.3 672.6 254.9 670.8 255.6 668.9 256.2 667.1 256.9 665.3 257.5 663.5 258.2 661.8 258.8 660.2 259.5 658.7 260.1 657.4 260.8 656.3 261.4 655.3 262.1 654.6 262.7 654 263.4 653.6 264 653.4 264.7 653.3 265.3 653.3 265.9 653.3 266.6 653.4 267.2 653.7 267.9 654 268.5 654.6 269.2 655.3 269.8 656.2 270.5 657.3 271.1 658.6 271.8 660 272.4 661.6 273.1 663.3 273.7 665.1 274.4 667 275 668.9 275.7 670.7 276.3 672.6 277 674.4 277.6 676.2 278.3 677.9 278.9 679.5 279.6 681 280.2 682.5 280.9 683.9 281.5 685.2 282.2 686.4 282.8 687.5 283.5 688.6 284.1 689.5 284.8 690.4 285.4 691.3 286 692.1 286.7 692.8 287.3 693.5 288 694.1 288.6 694.7 289.3 695.3 289.9 695.8 290.6 696.3 291.2 696.7 291.9 697.2 292.5 697.5 293.2 697.9 293.8 698.3 294.5 698.6 295.1 698.9 295.8 699.2 296.4 699.4 297.1 699.7 297.7 699.9 298.4 700.1 299 700.4 299.7 700.6 300.3 700.7 301 700.9 301.6 701.1 302.3 701.3 302.9 701.4 303.6 701.6 304.2 701.7" fill="none" stroke="#b8282e" stroke-width="0.9"/>
<text x="222.9" y="730.6" font-size="7.1" text-anchor="middle">-1000</text>
<text x="307.2" y="730.6" font-size="7.1" text-anchor="middle">+1000</text>
<text x="265.4" y="726.8" font-size="7.1" text-anchor="middle">Primed-specific</text>
<text x="265.4" y="734.2" font-size="7.1" text-anchor="middle">ATAC peak centre</text>
<line x1="341.3" y1="649.7" x2="341.3" y2="716.8" stroke="#444" stroke-width="0.8"/>
<line x1="338.3" y1="654.65" x2="341.3" y2="654.65" stroke="#444" stroke-width="0.8"/>
<line x1="338.3" y1="668.1" x2="341.3" y2="668.1" stroke="#444" stroke-width="0.8"/>
<line x1="338.3" y1="681.55" x2="341.3" y2="681.55" stroke="#444" stroke-width="0.8"/>
<line x1="338.3" y1="695" x2="341.3" y2="695" stroke="#444" stroke-width="0.8"/>
<line x1="338.3" y1="708.45" x2="341.3" y2="708.45" stroke="#444" stroke-width="0.8"/>
<line x1="341.3" y1="716.8" x2="419.1" y2="716.8" stroke="#333" stroke-width="0.8"/>
<line x1="341.3" y1="716.8" x2="341.3" y2="718.8" stroke="#333" stroke-width="0.8"/>
<line x1="380.5" y1="716.8" x2="380.5" y2="718.8" stroke="#333" stroke-width="0.8"/>
<line x1="419.1" y1="716.8" x2="419.1" y2="718.8" stroke="#333" stroke-width="0.8"/>
<line x1="380.5" y1="650.5" x2="380.5" y2="716.8" stroke="#333" stroke-width="0.6" stroke-dasharray="1.5 1"/>
<path d="M341.3 713.5 341.9 713.4 342.6 713.4 343.2 713.4 343.9 713.3 344.5 713.3 345.2 713.2 345.8 713.1 346.5 713.1 347.1 713 347.8 712.9 348.4 712.9 349.1 712.8 349.7 712.7 350.4 712.6 351 712.6 351.7 712.5 352.3 712.4 353 712.3 353.6 712.2 354.3 712 354.9 711.9 355.6 711.8 356.2 711.7 356.9 711.5 357.5 711.3 358.2 711.2 358.8 711 359.5 710.8 360.1 710.6 360.8 710.4 361.4 710.2 362 709.9 362.7 709.6 363.3 709.4 364 709.1 364.6 708.7 365.3 708.4 365.9 708 366.6 707.6 367.2 707.1 367.9 706.7 368.5 706.1 369.2 705.6 369.8 705 370.5 704.4 371.1 703.8 371.8 703.1 372.4 702.3 373.1 701.6 373.7 700.8 374.4 700 375 699.2 375.7 698.5 376.3 697.7 377 697 377.6 696.4 378.3 695.9 378.9 695.5 379.6 695.2 380.2 695 380.8 695 381.5 695.2 382.1 695.5 382.8 695.9 383.4 696.4 384.1 697 384.7 697.7 385.4 698.5 386 699.2 386.7 700 387.3 700.8 388 701.6 388.6 702.3 389.3 703 389.9 703.7 390.6 704.4 391.2 705 391.9 705.5 392.5 706.1 393.2 706.6 393.8 707 394.5 707.5 395.1 707.9 395.8 708.3 396.4 708.6 397.1 708.9 397.7 709.2 398.4 709.5 399 709.8 399.7 710 400.3 710.2 400.9 710.5 401.6 710.6 402.2 710.8 402.9 711 403.5 711.2 404.2 711.3 404.8 711.5 405.5 711.6 406.1 711.7 406.8 711.8 407.4 711.9 408.1 712 408.7 712.1 409.4 712.2 410 712.3 410.7 712.4 411.3 712.5 412 712.5 412.6 712.6 413.3 712.7 413.9 712.7 414.6 712.8 415.2 712.8 415.9 712.9 416.5 712.9 417.2 713 417.8 713 418.5 713.1 419.1 713.1" fill="none" stroke="#4a6fc6" stroke-width="1.0" stroke-dasharray="1.8 1.1"/>
<path d="M341.3 713.5 341.9 713.5 342.6 713.4 343.2 713.4 343.9 713.4 344.5 713.3 345.2 713.3 345.8 713.3 346.5 713.2 347.1 713.2 347.8 713.1 348.4 713.1 349.1 713 349.7 713 350.4 712.9 351 712.9 351.7 712.8 352.3 712.8 353 712.7 353.6 712.6 354.3 712.5 354.9 712.5 355.6 712.4 356.2 712.3 356.9 712.2 357.5 712.1 358.2 712 358.8 711.9 359.5 711.8 360.1 711.7 360.8 711.6 361.4 711.4 362 711.3 362.7 711.1 363.3 711 364 710.8 364.6 710.7 365.3 710.5 365.9 710.3 366.6 710.1 367.2 709.9 367.9 709.7 368.5 709.4 369.2 709.2 369.8 709 370.5 708.7 371.1 708.5 371.8 708.2 372.4 707.9 373.1 707.7 373.7 707.4 374.4 707.2 375 706.9 375.7 706.7 376.3 706.5 377 706.3 377.6 706.1 378.3 706 378.9 705.9 379.6 705.8 380.2 705.8 380.8 705.8 381.5 705.8 382.1 705.9 382.8 706 383.4 706.1 384.1 706.3 384.7 706.5 385.4 706.7 386 706.9 386.7 707.2 387.3 707.4 388 707.7 388.6 708 389.3 708.2 389.9 708.5 390.6 708.7 391.2 709 391.9 709.2 392.5 709.5 393.2 709.7 393.8 709.9 394.5 710.1 395.1 710.3 395.8 710.5 396.4 710.7 397.1 710.8 397.7 711 398.4 711.2 399 711.3 399.7 711.4 400.3 711.6 400.9 711.7 401.6 711.8 402.2 711.9 402.9 712 403.5 712.1 404.2 712.2 404.8 712.3 405.5 712.4 406.1 712.5 406.8 712.6 407.4 712.6 408.1 712.7 408.7 712.8 409.4 712.8 410 712.9 410.7 712.9 411.3 713 412 713 412.6 713.1 413.3 713.1 413.9 713.2 414.6 713.2 415.2 713.3 415.9 713.3 416.5 713.3 417.2 713.4 417.8 713.4 418.5 713.4 419.1 713.5" fill="none" stroke="#4e9a4e" stroke-width="1.0" stroke-dasharray="1.8 1.1"/>
<path d="M341.3 713.5 341.9 713.5 342.6 713.4 343.2 713.4 343.9 713.4 344.5 713.3 345.2 713.3 345.8 713.3 346.5 713.2 347.1 713.2 347.8 713.2 348.4 713.1 349.1 713.1 349.7 713 350.4 713 351 712.9 351.7 712.8 352.3 712.8 353 712.7 353.6 712.7 354.3 712.6 354.9 712.5 355.6 712.4 356.2 712.3 356.9 712.3 357.5 712.2 358.2 712.1 358.8 712 359.5 711.8 360.1 711.7 360.8 711.6 361.4 711.5 362 711.3 362.7 711.2 363.3 711 364 710.9 364.6 710.7 365.3 710.5 365.9 710.3 366.6 710.1 367.2 709.9 367.9 709.7 368.5 709.5 369.2 709.2 369.8 709 370.5 708.7 371.1 708.5 371.8 708.2 372.4 708 373.1 707.7 373.7 707.4 374.4 707.2 375 706.9 375.7 706.7 376.3 706.5 377 706.3 377.6 706.1 378.3 706 378.9 705.9 379.6 705.8 380.2 705.8 380.8 705.8 381.5 705.8 382.1 705.9 382.8 706 383.4 706.1 384.1 706.3 384.7 706.5 385.4 706.7 386 707 386.7 707.2 387.3 707.5 388 707.8 388.6 708 389.3 708.3 389.9 708.6 390.6 708.8 391.2 709.1 391.9 709.3 392.5 709.6 393.2 709.8 393.8 710 394.5 710.3 395.1 710.5 395.8 710.7 396.4 710.8 397.1 711 397.7 711.2 398.4 711.4 399 711.5 399.7 711.6 400.3 711.8 400.9 711.9 401.6 712 402.2 712.2 402.9 712.3 403.5 712.4 404.2 712.5 404.8 712.6 405.5 712.6 406.1 712.7 406.8 712.8 407.4 712.9 408.1 713 408.7 713 409.4 713.1 410 713.2 410.7 713.2 411.3 713.3 412 713.3 412.6 713.4 413.3 713.4 413.9 713.5 414.6 713.5 415.2 713.6 415.9 713.6 416.5 713.7 417.2 713.7 417.8 713.7 418.5 713.8 419.1 713.8" fill="none" stroke="#e19a48" stroke-width="0.9"/>
<path d="M341.3 710.8 341.9 710.7 342.6 710.7 343.2 710.6 343.9 710.5 344.5 710.4 345.2 710.4 345.8 710.3 346.5 710.2 347.1 710.1 347.8 710 348.4 709.9 349.1 709.8 349.7 709.7 350.4 709.5 351 709.4 351.7 709.3 352.3 709.1 353 709 353.6 708.8 354.3 708.6 354.9 708.5 355.6 708.3 356.2 708.1 356.9 707.9 357.5 707.6 358.2 707.4 358.8 707.1 359.5 706.9 360.1 706.6 360.8 706.3 361.4 705.9 362 705.6 362.7 705.2 363.3 704.8 364 704.4 364.6 703.9 365.3 703.5 365.9 702.9 366.6 702.4 367.2 701.8 367.9 701.2 368.5 700.5 369.2 699.8 369.8 699.1 370.5 698.3 371.1 697.5 371.8 696.6 372.4 695.8 373.1 694.9 373.7 694 374.4 693.1 375 692.2 375.7 691.3 376.3 690.5 377 689.7 377.6 689.1 378.3 688.5 378.9 688.1 379.6 687.8 380.2 687.6 380.8 687.6 381.5 687.8 382.1 688.1 382.8 688.5 383.4 689.1 384.1 689.8 384.7 690.5 385.4 691.3 386 692.2 386.7 693.1 387.3 694 388 694.9 388.6 695.8 389.3 696.6 389.9 697.5 390.6 698.3 391.2 699 391.9 699.8 392.5 700.5 393.2 701.1 393.8 701.7 394.5 702.3 395.1 702.8 395.8 703.4 396.4 703.8 397.1 704.3 397.7 704.7 398.4 705.1 399 705.5 399.7 705.8 400.3 706.1 400.9 706.4 401.6 706.7 402.2 707 402.9 707.2 403.5 707.5 404.2 707.7 404.8 707.9 405.5 708.1 406.1 708.3 406.8 708.4 407.4 708.6 408.1 708.7 408.7 708.9 409.4 709 410 709.2 410.7 709.3 411.3 709.4 412 709.5 412.6 709.6 413.3 709.7 413.9 709.8 414.6 709.9 415.2 710 415.9 710.1 416.5 710.1 417.2 710.2 417.8 710.3 418.5 710.3 419.1 710.4" fill="none" stroke="#b8282e" stroke-width="0.9"/>
<text x="337.8" y="730.6" font-size="7.1" text-anchor="middle">-1000</text>
<text x="422.1" y="730.6" font-size="7.1" text-anchor="middle">+1000</text>
<text x="380.5" y="726.8" font-size="7.1" text-anchor="middle">Primed-specific</text>
<text x="380.5" y="734.2" font-size="7.1" text-anchor="middle">ATAC peak centre</text>
<text x="280.2" y="652.7" font-size="7.1"><tspan font-style="italic">ZIC</tspan>+ peaks</text>
<text x="280.2" y="659.6" font-size="7.1" fill="#4a6fc6">Vehicle</text>
<text x="280.2" y="666.5" font-size="7.1" fill="#4e9a4e">Vehicle + ACBI1</text>
<text x="280.2" y="673.4" font-size="7.1" fill="#b8282e">DOX</text>
<text x="280.2" y="679.7" font-size="7.1" fill="#e19a48">DOX + ACBI1</text>
<text x="391.9" y="652.7" font-size="7.1"><tspan font-style="italic">ZIC</tspan>- peaks</text>
<text x="391.9" y="659.6" font-size="7.1" fill="#4a6fc6">Vehicle</text>
<text x="391.9" y="666.5" font-size="7.1" fill="#4e9a4e">Vehicle + ACBI1</text>
<text x="391.9" y="673.4" font-size="7.1" fill="#b8282e">DOX</text>
<text x="391.9" y="679.7" font-size="7.1" fill="#e19a48">DOX + ACBI1</text>
<text x="206.1" y="689" font-size="7.1" text-anchor="middle" transform="rotate(-90 206.1 689)">Normalised ATAC signal</text>
<text x="212.1" y="689" font-size="7.1" text-anchor="middle" transform="rotate(-90 212.1 689)">(CPB)</text>
<text x="455" y="649.7" font-size="9.5" fill="#000" font-weight="bold">r</text>
<line x1="495.3" y1="648.7" x2="495.3" y2="720.3" stroke="#aaa" stroke-width="1.2"/>
<line x1="493.3" y1="654.1" x2="495.3" y2="654.1" stroke="#aaa" stroke-width="1.2"/>
<text x="493.1" y="656.6" font-size="7.1" text-anchor="end">120</text>
<line x1="493.3" y1="676.6" x2="495.3" y2="676.6" stroke="#aaa" stroke-width="1.2"/>
<text x="493.1" y="679.1" font-size="7.1" text-anchor="end">80</text>
<line x1="493.3" y1="699.1" x2="495.3" y2="699.1" stroke="#aaa" stroke-width="1.2"/>
<text x="493.1" y="701.6" font-size="7.1" text-anchor="end">40</text>
<line x1="495.3" y1="720.3" x2="572.6" y2="720.3" stroke="#aaa" stroke-width="1.2"/>
<line x1="495.3" y1="720.3" x2="495.3" y2="722.3" stroke="#aaa" stroke-width="1.2"/>
<line x1="533.8" y1="720.3" x2="533.8" y2="722.3" stroke="#aaa" stroke-width="1.2"/>
<line x1="572.6" y1="720.3" x2="572.6" y2="722.3" stroke="#aaa" stroke-width="1.2"/>
<line x1="533.8" y1="649.5" x2="533.8" y2="720.3" stroke="#333" stroke-width="0.6" stroke-dasharray="1.5 1"/>
<path d="M495.3 714.8 495.9 714.8 496.6 714.8 497.2 714.8 497.9 714.8 498.5 714.8 499.2 714.7 499.8 714.7 500.5 714.7 501.1 714.7 501.7 714.7 502.4 714.7 503 714.7 503.7 714.7 504.3 714.7 505 714.7 505.6 714.7 506.3 714.7 506.9 714.8 507.5 714.8 508.2 714.8 508.8 714.8 509.5 714.8 510.1 714.7 510.8 714.7 511.4 714.6 512 714.5 512.7 714.4 513.3 714.2 514 714.1 514.6 714 515.3 713.8 515.9 713.7 516.6 713.6 517.2 713.5 517.8 713.4 518.5 713.3 519.1 713.1 519.8 713 520.4 712.9 521.1 712.8 521.7 712.7 522.4 712.6 523 712.4 523.6 712.3 524.3 712.2 524.9 712.1 525.6 711.9 526.2 711.8 526.9 711.7 527.5 711.6 528.2 711.4 528.8 711.3 529.4 711.2 530.1 711.2 530.7 711.1 531.4 711 532 711 532.7 710.9 533.3 710.9 534 710.9 534.6 710.9 535.2 711 535.9 711 536.5 711.1 537.2 711.2 537.8 711.3 538.5 711.4 539.1 711.5 539.7 711.6 540.4 711.7 541 711.8 541.7 712 542.3 712.1 543 712.3 543.6 712.4 544.3 712.5 544.9 712.7 545.5 712.8 546.2 712.9 546.8 713 547.5 713.2 548.1 713.3 548.8 713.4 549.4 713.5 550.1 713.6 550.7 713.8 551.3 713.9 552 714 552.6 714.1 553.3 714.3 553.9 714.4 554.6 714.6 555.2 714.7 555.9 714.8 556.5 714.9 557.1 715 557.8 715.1 558.4 715.2 559.1 715.2 559.7 715.2 560.4 715.2 561 715.2 561.6 715.2 562.3 715.2 562.9 715.2 563.6 715.1 564.2 715.1 564.9 715.1 565.5 715.2 566.2 715.2 566.8 715.2 567.4 715.2 568.1 715.2 568.7 715.3 569.4 715.3 570 715.3 570.7 715.3 571.3 715.4 572 715.4 572.6 715.4" fill="none" stroke="#4a6fc6" stroke-width="1.0" stroke-dasharray="1.8 1.1"/>
<path d="M495.3 713.7 495.9 713.7 496.6 713.7 497.2 713.6 497.9 713.6 498.5 713.6 499.2 713.6 499.8 713.5 500.5 713.5 501.1 713.5 501.7 713.5 502.4 713.4 503 713.4 503.7 713.4 504.3 713.3 505 713.3 505.6 713.2 506.3 713.2 506.9 713.1 507.5 713.1 508.2 713 508.8 713 509.5 712.9 510.1 712.9 510.8 712.8 511.4 712.8 512 712.7 512.7 712.6 513.3 712.5 514 712.5 514.6 712.4 515.3 712.3 515.9 712.2 516.6 712.1 517.2 712 517.8 711.9 518.5 711.8 519.1 711.7 519.8 711.6 520.4 711.5 521.1 711.3 521.7 711.2 522.4 711.1 523 710.9 523.6 710.8 524.3 710.7 524.9 710.5 525.6 710.4 526.2 710.2 526.9 710.1 527.5 710 528.2 709.8 528.8 709.7 529.4 709.6 530.1 709.5 530.7 709.4 531.4 709.4 532 709.3 532.7 709.3 533.3 709.2 534 709.2 534.6 709.2 535.2 709.3 535.9 709.3 536.5 709.4 537.2 709.5 537.8 709.6 538.5 709.7 539.1 709.8 539.7 709.9 540.4 710 541 710.2 541.7 710.3 542.3 710.4 543 710.6 543.6 710.7 544.3 710.9 544.9 711 545.5 711.1 546.2 711.3 546.8 711.4 547.5 711.5 548.1 711.6 548.8 711.7 549.4 711.9 550.1 712 550.7 712.1 551.3 712.2 552 712.3 552.6 712.3 553.3 712.4 553.9 712.5 554.6 712.6 555.2 712.7 555.9 712.7 556.5 712.8 557.1 712.8 557.8 712.9 558.4 713 559.1 713 559.7 713.1 560.4 713.1 561 713.2 561.6 713.2 562.3 713.3 562.9 713.3 563.6 713.3 564.2 713.4 564.9 713.4 565.5 713.4 566.2 713.5 566.8 713.5 567.4 713.5 568.1 713.6 568.7 713.6 569.4 713.6 570 713.6 570.7 713.7 571.3 713.7 572 713.7 572.6 713.7" fill="none" stroke="#4e9a4e" stroke-width="1.0" stroke-dasharray="1.8 1.1"/>
<path d="M495.3 712.6 495.9 712.5 496.6 712.5 497.2 712.4 497.9 712.4 498.5 712.3 499.2 712.3 499.8 712.2 500.5 712.2 501.1 712.1 501.7 712 502.4 712 503 711.9 503.7 711.8 504.3 711.7 505 711.7 505.6 711.6 506.3 711.5 506.9 711.4 507.5 711.3 508.2 711.2 508.8 711.1 509.5 711 510.1 710.8 510.8 710.7 511.4 710.6 512 710.4 512.7 710.3 513.3 710.1 514 709.9 514.6 709.8 515.3 709.6 515.9 709.4 516.6 709.2 517.2 709 517.8 708.7 518.5 708.5 519.1 708.3 519.8 708 520.4 707.7 521.1 707.4 521.7 707.2 522.4 706.8 523 706.5 523.6 706.2 524.3 705.9 524.9 705.6 525.6 705.2 526.2 704.9 526.9 704.6 527.5 704.3 528.2 704 528.8 703.7 529.4 703.4 530.1 703.2 530.7 703 531.4 702.8 532 702.6 532.7 702.5 533.3 702.5 534 702.5 534.6 702.5 535.2 702.6 535.9 702.7 536.5 702.9 537.2 703.1 537.8 703.3 538.5 703.5 539.1 703.8 539.7 704.1 540.4 704.4 541 704.7 541.7 705.1 542.3 705.4 543 705.7 543.6 706 544.3 706.4 544.9 706.7 545.5 707 546.2 707.3 546.8 707.6 547.5 707.9 548.1 708.1 548.8 708.4 549.4 708.6 550.1 708.8 550.7 709.1 551.3 709.3 552 709.5 552.6 709.7 553.3 709.9 553.9 710 554.6 710.2 555.2 710.3 555.9 710.5 556.5 710.6 557.1 710.8 557.8 710.9 558.4 711 559.1 711.1 559.7 711.2 560.4 711.3 561 711.4 561.6 711.5 562.3 711.6 562.9 711.7 563.6 711.8 564.2 711.9 564.9 711.9 565.5 712 566.2 712.1 566.8 712.1 567.4 712.2 568.1 712.3 568.7 712.3 569.4 712.4 570 712.4 570.7 712.5 571.3 712.5 572 712.6 572.6 712.6" fill="none" stroke="#e19a48" stroke-width="0.9"/>
<path d="M495.3 705.2 495.9 705.1 496.6 705 497.2 705 497.9 705 498.5 705 499.2 704.9 499.8 704.9 500.5 704.8 501.1 704.8 501.7 704.6 502.4 704.5 503 704.3 503.7 704.1 504.3 703.8 505 703.6 505.6 703.3 506.3 702.9 506.9 702.6 507.5 702.2 508.2 701.8 508.8 701.4 509.5 701 510.1 700.5 510.8 700 511.4 699.4 512 698.8 512.7 698.2 513.3 697.5 514 696.8 514.6 696 515.3 695.2 515.9 694.3 516.6 693.3 517.2 692.3 517.8 691.1 518.5 689.9 519.1 688.7 519.8 687.3 520.4 685.8 521.1 684.2 521.7 682.6 522.4 680.8 523 678.9 523.6 677 524.3 674.9 524.9 672.8 525.6 670.6 526.2 668.4 526.9 666.2 527.5 664 528.2 661.9 528.8 659.8 529.4 658 530.1 656.3 530.7 654.8 531.4 653.7 532 652.8 532.7 652.2 533.3 651.9 534 651.9 534.6 652 535.2 652.4 535.9 653.2 536.5 654.2 537.2 655.5 537.8 657.1 538.5 658.8 539.1 660.8 539.7 662.9 540.4 665.1 541 667.3 541.7 669.5 542.3 671.7 543 673.9 543.6 676 544.3 678 544.9 679.9 545.5 681.7 546.2 683.5 546.8 685.1 547.5 686.6 548.1 688 548.8 689.4 549.4 690.6 550.1 691.8 550.7 692.9 551.3 693.9 552 694.8 552.6 695.7 553.3 696.5 553.9 697.3 554.6 698 555.2 698.6 555.9 699.3 556.5 699.8 557.1 700.4 557.8 700.9 558.4 701.4 559.1 701.8 559.7 702.2 560.4 702.6 561 703 561.6 703.3 562.3 703.6 562.9 703.9 563.6 704.2 564.2 704.4 564.9 704.6 565.5 704.8 566.2 705 566.8 705.1 567.4 705.2 568.1 705.2 568.7 705.3 569.4 705.3 570 705.3 570.7 705.3 571.3 705.4 572 705.5 572.6 705.6" fill="none" stroke="#b8282e" stroke-width="0.9"/>
<text x="550.5" y="653.3" font-size="7.1" fill="#4a6fc6">Vehicle</text>
<text x="550.5" y="659.2" font-size="7.1" fill="#4e9a4e">Vehicle + ACBI1</text>
<text x="550.5" y="664.5" font-size="7.1" fill="#b8282e">DOX</text>
<text x="550.5" y="670.4" font-size="7.1" fill="#e19a48">DOX + ACBI1</text>
<text x="493.3" y="730.8" font-size="7.1" text-anchor="middle">-1000</text>
<text x="575.3" y="730.8" font-size="7.1" text-anchor="middle">1000</text>
<text x="533.8" y="727.6" font-size="7.1" text-anchor="middle">DOX-specific</text>
<text x="533.8" y="734.5" font-size="7.1" text-anchor="middle">ATAC peak centre</text>
<text x="471.8" y="685.5" font-size="7.1" text-anchor="middle" transform="rotate(-90 471.8 685.5)">Normalised ATAC signal</text>
<text x="479" y="685.5" font-size="7.1" text-anchor="middle" transform="rotate(-90 479 685.5)">(CPB)</text>
</g></svg></body></html>
